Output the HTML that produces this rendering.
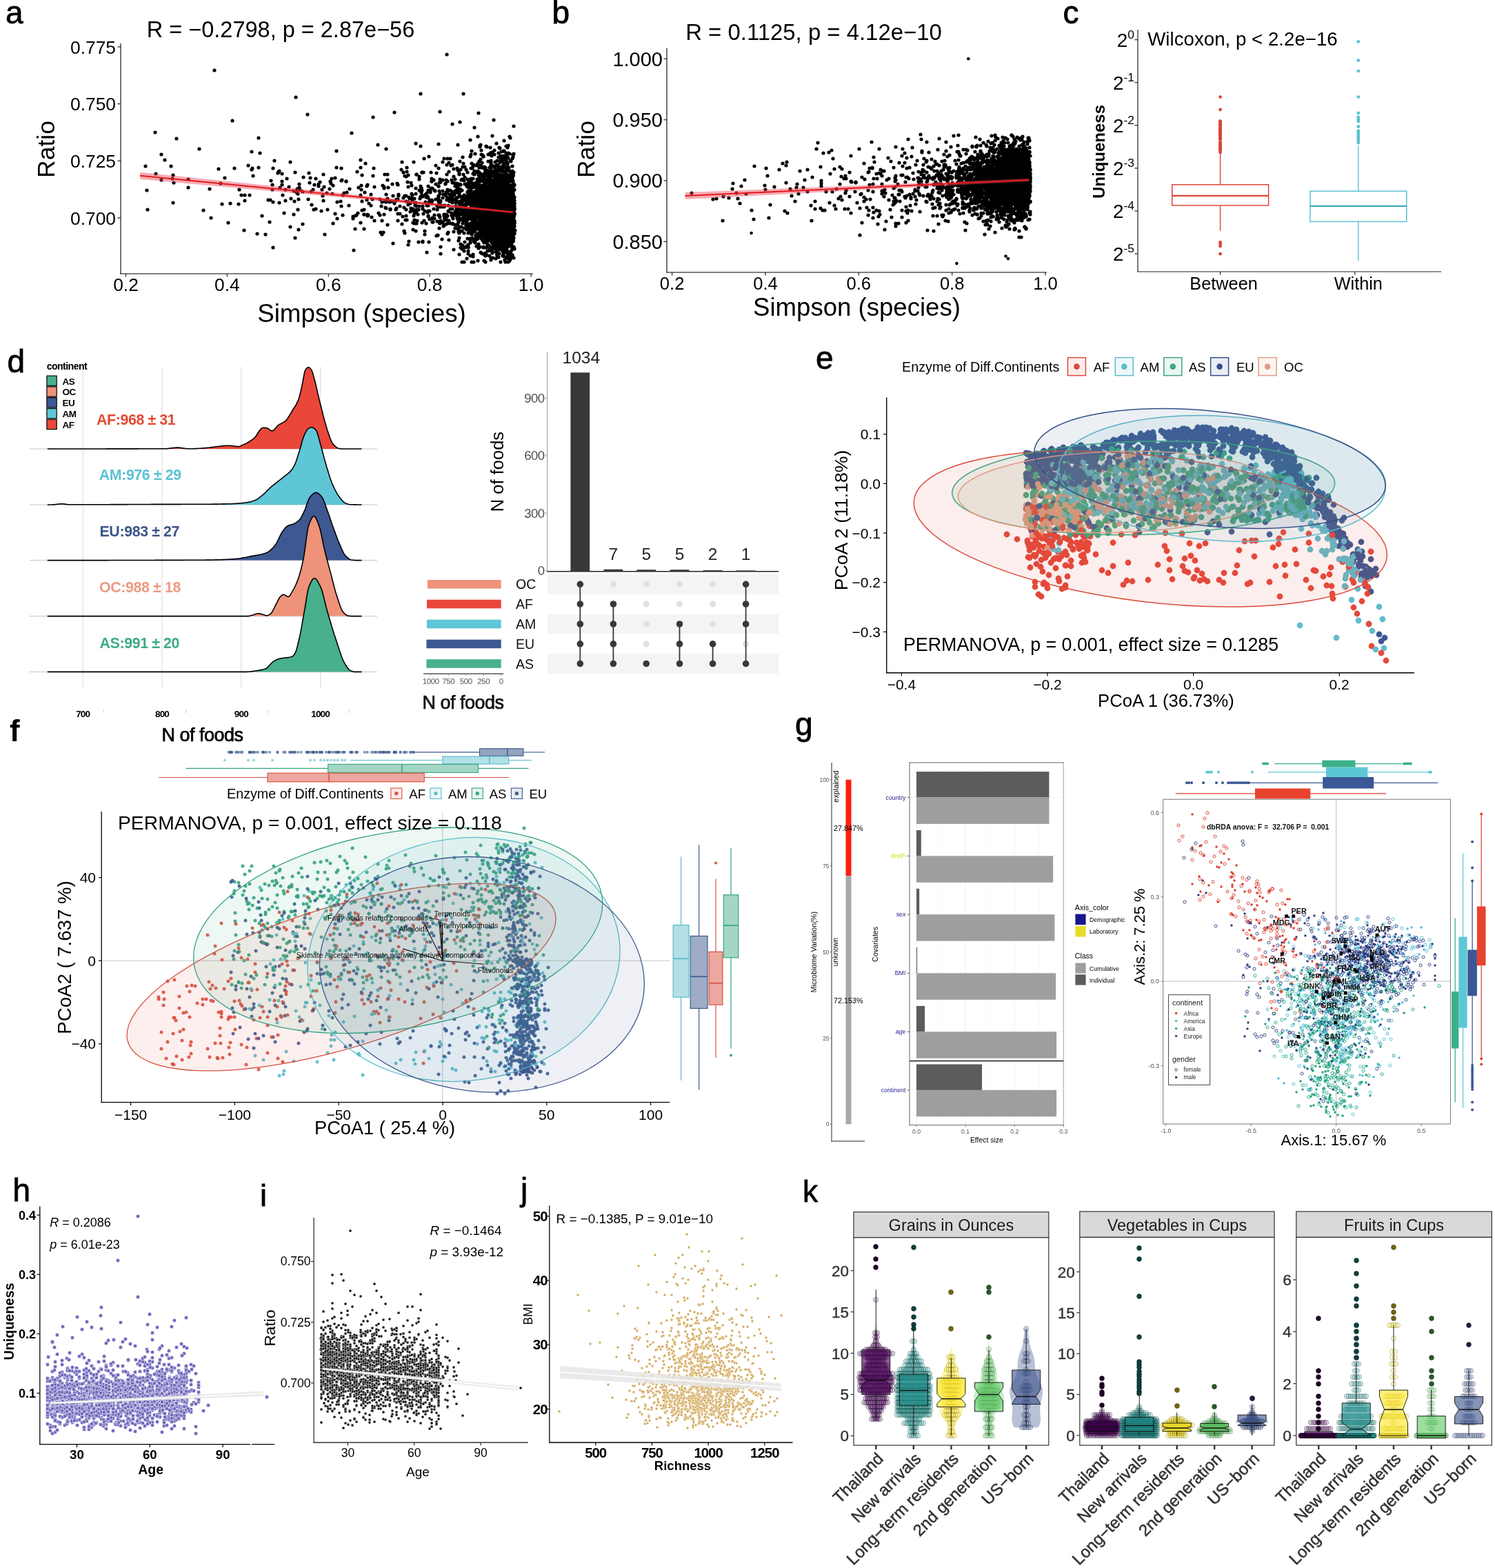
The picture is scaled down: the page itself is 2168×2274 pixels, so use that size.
<!DOCTYPE html>
<html><head><meta charset="utf-8"><title>Figure</title>
<style>html,body{margin:0;padding:0;background:#fff;}svg{display:block;}.m1{marker:url(#m1);fill:none}.m2{marker:url(#m2);fill:none}.m3{marker:url(#m3);fill:none}.m4{marker:url(#m4);fill:none}.m5{marker:url(#m5);fill:none}.m6{marker:url(#m6);fill:none}.m7{marker:url(#m7);fill:none}.m8{marker:url(#m8);fill:none}.m9{marker:url(#m9);fill:none}.m10{marker:url(#m10);fill:none}.m11{marker:url(#m11);fill:none}.m12{marker:url(#m12);fill:none}.m13{marker:url(#m13);fill:none}.m14{marker:url(#m14);fill:none}.m15{marker:url(#m15);fill:none}.m16{marker:url(#m16);fill:none}.m17{marker:url(#m17);fill:none}.m18{marker:url(#m18);fill:none}.m19{marker:url(#m19);fill:none}.m20{marker:url(#m20);fill:none}.m21{marker:url(#m21);fill:none}.m22{marker:url(#m22);fill:none}.m23{marker:url(#m23);fill:none}.m24{marker:url(#m24);fill:none}.m25{marker:url(#m25);fill:none}.m26{marker:url(#m26);fill:none}.m27{marker:url(#m27);fill:none}.m28{marker:url(#m28);fill:none}.m29{marker:url(#m29);fill:none}.m30{marker:url(#m30);fill:none}.m31{marker:url(#m31);fill:none}.m32{marker:url(#m32);fill:none}.m33{marker:url(#m33);fill:none}.m34{marker:url(#m34);fill:none}.m35{marker:url(#m35);fill:none}.m36{marker:url(#m36);fill:none}.m37{marker:url(#m37);fill:none}.m38{marker:url(#m38);fill:none}.m39{marker:url(#m39);fill:none}.m40{marker:url(#m40);fill:none}.m41{marker:url(#m41);fill:none}.m42{marker:url(#m42);fill:none}.m43{marker:url(#m43);fill:none}.m44{marker:url(#m44);fill:none}.m45{marker:url(#m45);fill:none}.m46{marker:url(#m46);fill:none}.m47{marker:url(#m47);fill:none}.m48{marker:url(#m48);fill:none}.m49{marker:url(#m49);fill:none}.m50{marker:url(#m50);fill:none}.m51{marker:url(#m51);fill:none}.m52{marker:url(#m52);fill:none}</style></head>
<body><svg width="2168" height="2274" viewBox="0 0 2168 2274" font-family='"Liberation Sans", Arial, Helvetica, sans-serif'>
<defs><marker id="m1" markerUnits="userSpaceOnUse" markerWidth="1" markerHeight="1" overflow="visible"><circle r="2.6" fill="#000"/></marker>
<marker id="m2" markerUnits="userSpaceOnUse" markerWidth="1" markerHeight="1" overflow="visible"><circle r="2.6" fill="#000"/></marker>
<marker id="m3" markerUnits="userSpaceOnUse" markerWidth="1" markerHeight="1" overflow="visible"><circle r="4.4" fill="#E5493A"/></marker>
<marker id="m4" markerUnits="userSpaceOnUse" markerWidth="1" markerHeight="1" overflow="visible"><circle r="4.4" fill="#62BCCB"/></marker>
<marker id="m5" markerUnits="userSpaceOnUse" markerWidth="1" markerHeight="1" overflow="visible"><circle r="4.4" fill="#3FA67F"/></marker>
<marker id="m6" markerUnits="userSpaceOnUse" markerWidth="1" markerHeight="1" overflow="visible"><circle r="4.4" fill="#3D5890"/></marker>
<marker id="m7" markerUnits="userSpaceOnUse" markerWidth="1" markerHeight="1" overflow="visible"><circle r="4.4" fill="#E49B82"/></marker>
<marker id="m8" markerUnits="userSpaceOnUse" markerWidth="1" markerHeight="1" overflow="visible"><circle r="2.5" fill="#D9503F" fill-opacity="0.9"/></marker>
<marker id="m9" markerUnits="userSpaceOnUse" markerWidth="1" markerHeight="1" overflow="visible"><circle r="2.5" fill="#56BBCA" fill-opacity="0.9"/></marker>
<marker id="m10" markerUnits="userSpaceOnUse" markerWidth="1" markerHeight="1" overflow="visible"><circle r="2.5" fill="#36A37F" fill-opacity="0.9"/></marker>
<marker id="m11" markerUnits="userSpaceOnUse" markerWidth="1" markerHeight="1" overflow="visible"><circle r="2.5" fill="#3D5A8E" fill-opacity="0.9"/></marker>
<marker id="m12" markerUnits="userSpaceOnUse" markerWidth="1" markerHeight="1" overflow="visible"><circle r="2.1" fill="none" stroke="#D93A2B" stroke-width="0.9"/></marker>
<marker id="m13" markerUnits="userSpaceOnUse" markerWidth="1" markerHeight="1" overflow="visible"><circle r="2.1" fill="none" stroke="#4DBBD5" stroke-width="0.9"/></marker>
<marker id="m14" markerUnits="userSpaceOnUse" markerWidth="1" markerHeight="1" overflow="visible"><circle r="2.1" fill="none" stroke="#1FA07C" stroke-width="0.9"/></marker>
<marker id="m15" markerUnits="userSpaceOnUse" markerWidth="1" markerHeight="1" overflow="visible"><circle r="2.1" fill="none" stroke="#2B3D80" stroke-width="0.9"/></marker>
<marker id="m16" markerUnits="userSpaceOnUse" markerWidth="1" markerHeight="1" overflow="visible"><circle r="1.7" fill="#D93A2B"/></marker>
<marker id="m17" markerUnits="userSpaceOnUse" markerWidth="1" markerHeight="1" overflow="visible"><circle r="1.7" fill="#4DBBD5"/></marker>
<marker id="m18" markerUnits="userSpaceOnUse" markerWidth="1" markerHeight="1" overflow="visible"><circle r="1.7" fill="#1FA07C"/></marker>
<marker id="m19" markerUnits="userSpaceOnUse" markerWidth="1" markerHeight="1" overflow="visible"><circle r="1.7" fill="#2B3D80"/></marker>
<marker id="m20" markerUnits="userSpaceOnUse" markerWidth="1" markerHeight="1" overflow="visible"><circle r="2.7" fill="#7169B9" stroke="#F2F0FF" stroke-width="0.6"/></marker>
<marker id="m21" markerUnits="userSpaceOnUse" markerWidth="1" markerHeight="1" overflow="visible"><circle r="2.0" fill="#000" stroke="#FFFFFF" stroke-width="0.5"/></marker>
<marker id="m22" markerUnits="userSpaceOnUse" markerWidth="1" markerHeight="1" overflow="visible"><circle r="1.9" fill="#D2A657" stroke="#FFFFFF" stroke-width="0.5"/></marker>
<marker id="m23" markerUnits="userSpaceOnUse" markerWidth="1" markerHeight="1" overflow="visible"><circle r="3.6" fill="#440154" fill-opacity="0.2" stroke-opacity="0.45" stroke="#22002A" stroke-width="0.8"/></marker>
<marker id="m24" markerUnits="userSpaceOnUse" markerWidth="1" markerHeight="1" overflow="visible"><circle r="3.4" fill="#1E0025" stroke="#110015" stroke-width="0.6"/></marker>
<marker id="m25" markerUnits="userSpaceOnUse" markerWidth="1" markerHeight="1" overflow="visible"><circle r="3.6" fill="#21908C" fill-opacity="0.2" stroke-opacity="0.45" stroke="#104846" stroke-width="0.8"/></marker>
<marker id="m26" markerUnits="userSpaceOnUse" markerWidth="1" markerHeight="1" overflow="visible"><circle r="3.4" fill="#0E403E" stroke="#082423" stroke-width="0.6"/></marker>
<marker id="m27" markerUnits="userSpaceOnUse" markerWidth="1" markerHeight="1" overflow="visible"><circle r="3.6" fill="#FDE725" fill-opacity="0.2" stroke-opacity="0.45" stroke="#7E7312" stroke-width="0.8"/></marker>
<marker id="m28" markerUnits="userSpaceOnUse" markerWidth="1" markerHeight="1" overflow="visible"><circle r="3.4" fill="#716710" stroke="#3F3909" stroke-width="0.6"/></marker>
<marker id="m29" markerUnits="userSpaceOnUse" markerWidth="1" markerHeight="1" overflow="visible"><circle r="3.6" fill="#5EC962" fill-opacity="0.2" stroke-opacity="0.45" stroke="#2F6431" stroke-width="0.8"/></marker>
<marker id="m30" markerUnits="userSpaceOnUse" markerWidth="1" markerHeight="1" overflow="visible"><circle r="3.4" fill="#2A5A2C" stroke="#173218" stroke-width="0.6"/></marker>
<marker id="m31" markerUnits="userSpaceOnUse" markerWidth="1" markerHeight="1" overflow="visible"><circle r="3.6" fill="#3B528B" fill-opacity="0.2" stroke-opacity="0.45" stroke="#1D2945" stroke-width="0.8"/></marker>
<marker id="m32" markerUnits="userSpaceOnUse" markerWidth="1" markerHeight="1" overflow="visible"><circle r="3.4" fill="#1A243E" stroke="#0E1422" stroke-width="0.6"/></marker>
<marker id="m33" markerUnits="userSpaceOnUse" markerWidth="1" markerHeight="1" overflow="visible"><circle r="3.6" fill="#440154" fill-opacity="0.2" stroke-opacity="0.45" stroke="#22002A" stroke-width="0.8"/></marker>
<marker id="m34" markerUnits="userSpaceOnUse" markerWidth="1" markerHeight="1" overflow="visible"><circle r="3.4" fill="#1E0025" stroke="#110015" stroke-width="0.6"/></marker>
<marker id="m35" markerUnits="userSpaceOnUse" markerWidth="1" markerHeight="1" overflow="visible"><circle r="3.6" fill="#21908C" fill-opacity="0.2" stroke-opacity="0.45" stroke="#104846" stroke-width="0.8"/></marker>
<marker id="m36" markerUnits="userSpaceOnUse" markerWidth="1" markerHeight="1" overflow="visible"><circle r="3.4" fill="#0E403E" stroke="#082423" stroke-width="0.6"/></marker>
<marker id="m37" markerUnits="userSpaceOnUse" markerWidth="1" markerHeight="1" overflow="visible"><circle r="3.6" fill="#FDE725" fill-opacity="0.2" stroke-opacity="0.45" stroke="#7E7312" stroke-width="0.8"/></marker>
<marker id="m38" markerUnits="userSpaceOnUse" markerWidth="1" markerHeight="1" overflow="visible"><circle r="3.4" fill="#716710" stroke="#3F3909" stroke-width="0.6"/></marker>
<marker id="m39" markerUnits="userSpaceOnUse" markerWidth="1" markerHeight="1" overflow="visible"><circle r="3.6" fill="#5EC962" fill-opacity="0.2" stroke-opacity="0.45" stroke="#2F6431" stroke-width="0.8"/></marker>
<marker id="m40" markerUnits="userSpaceOnUse" markerWidth="1" markerHeight="1" overflow="visible"><circle r="3.4" fill="#2A5A2C" stroke="#173218" stroke-width="0.6"/></marker>
<marker id="m41" markerUnits="userSpaceOnUse" markerWidth="1" markerHeight="1" overflow="visible"><circle r="3.6" fill="#3B528B" fill-opacity="0.2" stroke-opacity="0.45" stroke="#1D2945" stroke-width="0.8"/></marker>
<marker id="m42" markerUnits="userSpaceOnUse" markerWidth="1" markerHeight="1" overflow="visible"><circle r="3.4" fill="#1A243E" stroke="#0E1422" stroke-width="0.6"/></marker>
<marker id="m43" markerUnits="userSpaceOnUse" markerWidth="1" markerHeight="1" overflow="visible"><circle r="3.6" fill="#440154" fill-opacity="0.2" stroke-opacity="0.45" stroke="#22002A" stroke-width="0.8"/></marker>
<marker id="m44" markerUnits="userSpaceOnUse" markerWidth="1" markerHeight="1" overflow="visible"><circle r="3.4" fill="#1E0025" stroke="#110015" stroke-width="0.6"/></marker>
<marker id="m45" markerUnits="userSpaceOnUse" markerWidth="1" markerHeight="1" overflow="visible"><circle r="3.6" fill="#21908C" fill-opacity="0.2" stroke-opacity="0.45" stroke="#104846" stroke-width="0.8"/></marker>
<marker id="m46" markerUnits="userSpaceOnUse" markerWidth="1" markerHeight="1" overflow="visible"><circle r="3.4" fill="#0E403E" stroke="#082423" stroke-width="0.6"/></marker>
<marker id="m47" markerUnits="userSpaceOnUse" markerWidth="1" markerHeight="1" overflow="visible"><circle r="3.6" fill="#FDE725" fill-opacity="0.2" stroke-opacity="0.45" stroke="#7E7312" stroke-width="0.8"/></marker>
<marker id="m48" markerUnits="userSpaceOnUse" markerWidth="1" markerHeight="1" overflow="visible"><circle r="3.4" fill="#716710" stroke="#3F3909" stroke-width="0.6"/></marker>
<marker id="m49" markerUnits="userSpaceOnUse" markerWidth="1" markerHeight="1" overflow="visible"><circle r="3.6" fill="#5EC962" fill-opacity="0.2" stroke-opacity="0.45" stroke="#2F6431" stroke-width="0.8"/></marker>
<marker id="m50" markerUnits="userSpaceOnUse" markerWidth="1" markerHeight="1" overflow="visible"><circle r="3.4" fill="#2A5A2C" stroke="#173218" stroke-width="0.6"/></marker>
<marker id="m51" markerUnits="userSpaceOnUse" markerWidth="1" markerHeight="1" overflow="visible"><circle r="3.6" fill="#3B528B" fill-opacity="0.2" stroke-opacity="0.45" stroke="#1D2945" stroke-width="0.8"/></marker>
<marker id="m52" markerUnits="userSpaceOnUse" markerWidth="1" markerHeight="1" overflow="visible"><circle r="3.4" fill="#1A243E" stroke="#0E1422" stroke-width="0.6"/></marker></defs>
<rect width="2168" height="2274" fill="#fff"/>
<text x="8" y="34.3" font-size="46" stroke="#000" stroke-width="0.8">a</text>
<text x="407" y="54" font-size="32.5" text-anchor="middle">R = −0.2798, p = 2.87e−56</text>
<line x1="175" y1="63" x2="175" y2="397.5" stroke="#000" stroke-width="1.1"/>
<line x1="174.4" y1="397" x2="773" y2="397" stroke="#000" stroke-width="1.1"/>
<line x1="170.5" y1="68" x2="175" y2="68" stroke="#222" stroke-width="1.2"/>
<text x="168" y="77.5" font-size="26.4" text-anchor="end">0.775</text>
<line x1="170.5" y1="150.6" x2="175" y2="150.6" stroke="#222" stroke-width="1.2"/>
<text x="168" y="160.1" font-size="26.4" text-anchor="end">0.750</text>
<line x1="170.5" y1="233.3" x2="175" y2="233.3" stroke="#222" stroke-width="1.2"/>
<text x="168" y="242.8" font-size="26.4" text-anchor="end">0.725</text>
<line x1="170.5" y1="316" x2="175" y2="316" stroke="#222" stroke-width="1.2"/>
<text x="168" y="325.5" font-size="26.4" text-anchor="end">0.700</text>
<line x1="182.5" y1="397" x2="182.5" y2="401.5" stroke="#222" stroke-width="1.2"/>
<text x="182.5" y="422" font-size="26.4" text-anchor="middle">0.2</text>
<line x1="329.4" y1="397" x2="329.4" y2="401.5" stroke="#222" stroke-width="1.2"/>
<text x="329.4" y="422" font-size="26.4" text-anchor="middle">0.4</text>
<line x1="476.3" y1="397" x2="476.3" y2="401.5" stroke="#222" stroke-width="1.2"/>
<text x="476.3" y="422" font-size="26.4" text-anchor="middle">0.6</text>
<line x1="623.1" y1="397" x2="623.1" y2="401.5" stroke="#222" stroke-width="1.2"/>
<text x="623.1" y="422" font-size="26.4" text-anchor="middle">0.8</text>
<line x1="770" y1="397" x2="770" y2="401.5" stroke="#222" stroke-width="1.2"/>
<text x="770" y="422" font-size="26.4" text-anchor="middle">1.0</text>
<text x="524.5" y="467" font-size="36.8" text-anchor="middle">Simpson (species)</text>
<text x="79" y="216.5" font-size="35.5" text-anchor="middle" transform="rotate(-90 79 216.5)">Ratio</text>
<path class="m1" d="M744 307L439 278L683 259L678 316L728 290L623 318L702 279L676 287L686 285L723 351L687 322L722 316L637 265L723 308L711 307L731 219L744 254L706 320L736 259L658 280L710 333L723 277L727 327L732 307L683 263L738 304L678 271L743 314L733 306L728 353L726 339L560 302L735 273L711 285L731 314L669 298L704 320L739 308L722 290L729 334L726 284L688 294L739 341L701 358L577 310L727 277L389 290L730 347L690 317L715 289L744 324L745 285L725 215L627 317L719 270L738 258L729 330L713 305L690 283L739 299L320 266L651 289L698 302L735 292L689 223L720 271L638 324L738 306L727 343L741 289L745 289L740 327L696 306L726 322L720 310L599 303L613 351L735 301L676 332L691 277L733 301L695 285L735 356L728 310L700 262L729 315L720 297L705 302L721 310L719 295L705 312L686 317L726 270L734 311L658 256L719 351L405 294L741 308L733 380L636 286L695 326L732 296L726 290L738 338L742 329L213 276L669 286L721 304L732 287L710 310L677 293L693 287L716 341L708 314L731 305L719 246L728 328L650 337L742 297L651 307L700 330L699 286L702 313L739 248L714 317L743 283L729 318L738 373L721 254L648 280L713 312L620 297L738 309L739 281L728 282L679 294L723 323L728 266L727 319L729 229L728 336L725 352L648 239L740 289L662 331L671 316L726 253L723 268L741 312L735 325L717 292L734 307L737 318L705 324L706 312L715 335L625 250L728 261L727 340L717 312L732 331L726 285L705 300L675 288L736 292L615 230L725 328L707 316L679 333L722 324L725 291L713 332L679 267L395 268L728 304L744 281L712 289L715 324L515 332L735 315L729 299L698 338L715 336L655 291L693 309L735 291L718 285L734 309L648 314L710 311L661 290L700 307L728 305L711 300L678 312L717 248L720 315L693 292L735 356L673 338L669 291L744 255L709 297L735 287L737 311L741 337L661 307L707 283L735 344L739 301L715 333L710 318L731 298L723 344L699 336L737 298L346 296L710 336L720 273L724 264L713 310L724 298L733 299L710 282L707 302L733 281L712 285L744 312L605 320L506 298L598 283L692 264L451 278L739 316L723 292L741 335L708 305L731 277L732 309L741 308L723 300L710 360L636 292L724 327L734 305L717 301L701 290L726 309L652 282L677 333L733 318L744 319L723 285L722 316L693 248L635 341L736 242L723 329L649 230L734 245L741 296L525 292L741 310L746 338L732 339L712 328L676 325L744 283L692 305L672 299L733 332L725 287L649 339L712 292L709 314L723 304L714 335L740 200L677 357L673 314L731 328L711 363L738 295L723 298L683 224L530 237L735 295L713 351L701 319L562 326L717 249L737 298L679 359L738 284L717 255L722 286L678 266L721 249L234 224L614 250L724 313L700 349L716 315L735 281L715 264L720 279L743 303L729 316L743 315L727 295L710 288L684 237L700 279L607 351L720 284L696 314L687 311L716 329L740 290L705 289L718 355L732 319L365 220L742 282L727 292L734 342L554 340L729 302L732 306L633 251L728 272L731 342L736 256L708 263L726 338L726 297L721 311L743 361L699 282L608 260L725 314L634 321L737 303L707 287L725 279L702 302L678 279L734 307L710 294L735 298L672 288L703 283L731 341L701 291L743 277L744 224L724 316L732 328L721 279L728 319L688 349L715 293L717 291L718 325L733 350L741 269L693 264L373 339L701 342L705 312L731 285L669 261L699 335L549 309L708 289L733 335L702 330L735 291L716 279L729 324L727 340L724 308L710 334L613 299L730 308L714 366L616 335L713 293L705 279L721 337L718 327L599 323L734 362L694 294L668 335L734 293L742 309L705 330L736 328L725 292L405 248L745 310L741 301L725 298L736 334L701 290L586 335L551 312L523 232L723 317L737 341L719 304L712 261L433 289L736 271L739 327L716 337L728 268L731 277L726 296L730 340L731 285L702 301L673 380L738 278L620 308L710 336L744 268L728 301L730 314L730 340L743 284L723 261L743 278L720 357L710 371L681 308L720 322L716 331L722 312L713 313L713 336L699 297L715 315L727 335L714 318L419 271L722 322L736 276L657 311L671 228L703 319L660 280L724 326L600 235L626 290L744 276L734 343L737 256L644 298L692 292L682 309L495 262L720 298L670 260L710 310L741 302L719 308L624 279L686 267L726 277L737 354L725 358L743 331L735 297L724 332L703 310L700 243L706 247L710 314L716 274L722 294L629 261L701 308L740 317L732 307L745 313L725 322L708 248L733 335L743 291L670 276L708 338L723 285L736 275L676 318L737 346L721 257L709 282L729 307L705 265L736 296L711 329L733 328L702 308L456 268L735 315L732 325L713 361L744 301L737 266L725 318L727 301L723 291L693 237L739 314L726 255L712 321L735 291L704 307L489 317L725 326L721 332L712 272L483 324L560 216L719 298L676 358L404 249L725 268L656 303L721 316L692 285L683 244L632 240L714 307L738 344L737 277L714 296L623 306L712 282L660 260L687 296L744 262L707 312L737 287L726 231L712 293L736 298L728 307L739 269L721 319L721 298L743 305L737 317L727 258L734 228L742 277L733 290L590 243L739 356L727 322L548 210L731 249L739 260L739 289L719 268L740 319L718 273L738 317L716 322L692 296L690 269L729 332L687 251L719 241L737 368L688 304L686 319L691 300L728 268L587 338L739 337L697 313L733 288L729 247L744 307L713 321L733 276L734 243L642 322L728 309L723 309L729 312L741 328L698 304L733 281L703 304L704 286L713 293L722 356L289 216L731 343L725 330L714 367L714 313L736 324L712 241L738 299L717 256L722 339L687 333L701 299L728 267L710 332L734 291L717 264L665 277L733 251L687 239L744 344L705 323L681 286L711 292L730 331L714 300L716 294L566 304L576 266L731 265L737 255L734 314L710 265L719 280L734 232L742 305L671 310L416 259L706 326L732 266L742 309L740 311L721 270L702 325L670 309L642 261L732 338L720 264L670 380L742 304L737 305L596 265L720 298L710 344L736 306L682 285L706 350L723 244L729 364L740 297L732 283L731 348L728 306L683 303L726 306L657 317L602 298L734 314L720 280L720 315L714 197L730 254L532 290L734 337L712 318L706 264L724 273L586 301L662 291L728 303L707 291L733 259L740 351L733 296L612 250L604 324L727 361L740 347L724 357L720 271L648 253L728 279L721 355L686 372L732 304L682 296L736 298L650 287L696 297L735 310L745 315L722 298L688 324L637 312L707 318L710 275L729 296L535 295L682 272L666 293L482 281L739 294L722 293L557 273L704 326L717 251L744 303L743 277L700 309L706 295L738 332L656 285L736 247L728 312L719 316L705 336L679 368L742 262L746 339L719 302L699 328L627 316L737 353L665 321L488 219L684 285L714 267L739 276L724 265L585 250L712 295L738 296L701 320L724 244L730 314L705 329L685 331L354 334L708 253L700 301L211 241L744 349L712 312L729 266L724 322L719 276L638 281L719 317L733 264L734 344L273 260L692 324L720 251L735 256L733 319L736 290L704 274L519 309L705 343L708 312L711 270L717 316L736 305L723 342L730 316L731 354L664 286L745 296L515 313L736 298L746 291L728 327L695 304L662 301L735 315L709 309L744 268L713 324L721 276L725 327L644 327L691 240L722 301L709 289L621 306L649 277L713 252L725 309L741 294L731 329L707 334L672 288L711 318L717 294L708 264L705 286L727 292L728 282L731 289L722 295L700 316L696 297L743 336L689 332L533 313L634 304L740 286L703 304L561 290L703 337L710 308L731 333L736 324L714 335L718 344L713 340L741 291L735 331L639 358L611 279L414 291L601 324L713 307L652 292L723 316L725 339L703 327L746 320L723 312L723 309L724 286L711 304L741 304L724 269L745 267L722 247L709 341L713 312L734 274L703 309L744 348L681 317L743 347L729 340L691 301L712 316L737 222L716 308L736 305L398 233L727 284L702 306L743 331L729 301L723 323L738 313L734 296L715 320L728 312L362 283L593 286L717 354L589 304L393 262L736 308L744 339L729 268L703 288L698 325L744 312L590 319L733 271L673 283L720 328L711 272L738 355L375 200L696 289L721 350L746 311L711 214L732 364L746 299L714 335L701 359L723 367L713 288L730 324L724 323L688 319L746 322L704 247L742 315L703 299L714 254L734 343L744 350L709 289L722 322L542 244L705 253L720 285L612 283L226 252L528 311L730 302L738 333L722 322L707 327L645 319L731 281L734 336L604 253L713 328L734 325L717 319L703 273L513 363L724 267L724 358L718 324L745 345L499 280L470 271L702 289L711 361L677 270L742 294L717 285L733 300L718 256L589 284L732 310L743 293L688 316L367 255L713 310L707 348L670 296L732 300L682 371L732 305L727 353L741 319L708 310L744 291L703 281L685 290L721 305L741 344L722 323L726 344L659 283L729 361L701 253L738 336L721 371L685 285L735 319L709 318L714 312L725 349L717 329L710 299L699 311L732 288L580 299L733 320L670 305L447 289L695 250L649 324L666 329L722 286L739 310L718 241L741 306L724 319L742 346L723 258L721 284L604 307L715 299L714 319L721 316L735 341L736 326L647 279L622 227L718 311L734 284L740 233L699 311L721 290L619 366L721 368L737 245L651 249L694 303L729 274L745 250L737 312L687 283L714 338L714 358L719 375L698 346L239 232L718 263L722 302L737 303L731 291L434 272L714 304L729 350L656 324L724 308L730 282L695 309L688 310L412 309L638 322L703 332L681 325L726 314L716 359L733 296L717 318L740 355L703 369L719 270L694 354L734 314L739 307L720 310L708 278L736 297L700 332L721 233L696 295L699 310L743 283L717 284L671 356L733 335L710 315L706 293L709 285L744 302L703 369L728 285L737 295L714 292L743 302L714 313L723 268L480 266L295 305L719 307L717 311L720 277L744 279L709 320L736 271L722 254L721 291L649 313L731 339L619 280L306 316L698 281L716 335L734 301L715 315L701 275L700 261L714 330L741 334L743 342L562 288L731 300L725 319L724 303L741 287L737 344L375 243L745 295L452 297L727 356L728 344L732 310L727 286L737 312L729 330L562 253L252 265L734 318L729 321L712 309L667 274L694 301L698 241L693 339L731 339L692 286L624 277L686 272L725 319L731 285L706 304L660 307L736 329L714 311L722 325L706 273L701 299L698 367L396 359L721 317L726 271L684 315L734 293L735 374L719 319L745 289L740 375L697 299L705 310L702 313L721 265L717 297L733 255L734 305L713 351L703 323L695 324L726 263L718 324L722 323L728 298L664 270L698 243L734 278L534 312L435 275L718 235L739 297L483 269L717 342L702 254L591 264L699 294L728 293L709 270L703 334L716 343L733 272L712 337L714 277L583 235L703 281L707 293L562 261L744 298L688 299L709 275L742 308L717 291L715 340L737 313L739 340L677 304L304 274L731 286L723 271L601 319L733 257L723 311L739 299L634 298L731 300L687 270L729 283L728 322L702 269L713 221L728 284L713 335L743 325L494 292L695 327L656 265L612 323L569 267L737 325L706 314L735 295L719 281L355 291L722 275L720 277L685 309L733 228L737 312L736 350L679 364L735 346L716 283L683 310L704 338L738 328L736 351L719 296L732 321L712 332L734 279L681 288L662 309L731 300L706 312L695 306L673 307L682 348L736 290L687 291L723 303L713 344L697 336L691 286L720 342L737 290L702 332L686 369L712 296L723 245L628 322L720 348L722 298L743 287L741 317L731 293L739 300L733 251L731 323L732 324L664 325L570 353L740 366L729 299L721 310L730 219L712 239L698 297L673 364L711 327L692 327L712 274L422 288L712 293L719 322L730 320L727 320L234 261L676 246L728 309L717 261L557 311L712 304L603 294L718 309L719 313L703 291L710 281L739 348L667 234L738 301L739 223L638 291L734 265L706 370L721 270L668 359L699 295L733 323L653 303L725 281L712 317L725 326L728 321L714 312L728 319L695 292L726 286L731 301L676 289L667 293L742 281L727 311L733 313L746 328L729 292L703 286L717 307L692 289L739 322L714 309L731 284L604 253L734 276L731 312L691 277L655 312L707 276L737 331L687 320L710 340L726 359L718 344L486 310L710 288L740 258L695 316L726 342L735 295L377 222L596 302L746 275L703 285L710 300L730 338L732 357L732 336L709 320L709 343L695 301L713 348L737 366L698 289L610 270L684 219L702 316L724 313L728 306L712 330L702 274L729 321L736 309L728 298L713 333L716 303L736 312L727 259L717 260L733 280L723 318L732 305L740 300L729 269L743 297L525 305L572 295L734 268L685 320L409 263L731 349L641 347L742 280L720 281L723 297L469 291L740 263L731 294L699 296L728 314L705 310L706 304L721 290L707 319L699 254L702 298L735 294L668 319L575 289L695 340L655 286L729 282L251 254L706 344L712 288L733 307L684 334L613 285L714 271L705 345L672 253L724 266L736 325L731 284L701 291L740 295L709 271L736 322L730 317L661 299L702 329L734 301L723 334L647 261L718 341L736 303L729 249L713 270L745 183L699 318L733 287L733 297L715 281L741 262L691 310L709 345L708 298L743 370L714 338L736 272L668 246L613 303L738 327L653 288L745 313L733 281L705 278L608 256L702 267L734 340L731 230L727 293L709 312L706 344L720 276L678 294L734 290L724 287L421 235L718 319L734 300L717 356L608 299L731 284L743 271L722 283L703 330L685 295L727 318L543 271L710 285L736 276L710 314L620 285L589 292L714 240L674 351L722 297L642 277L727 329L704 295L712 279L679 333L734 269L743 285L737 368L737 294L741 342L661 312L730 315L696 263L707 285L703 302L726 333L719 282L706 290L554 320L741 372L667 278L711 222L740 323L733 356L677 375L741 316L720 293L727 269L710 322L696 258L731 219L431 274L737 285L723 282L728 301L739 198L727 296L707 250L724 337L678 319L742 363L742 280L719 253L735 342L729 271L690 312L730 293L721 294L737 308L708 337L714 335L732 283L729 333L728 304L714 273L732 287L738 325L735 326L738 281L713 290L733 284L607 304L654 240L701 323L732 327L403 251L724 275L716 336L733 325L732 302L621 313L732 306L612 250L728 303L661 289L745 325L616 306L729 334L734 280L731 280L706 270L731 310L737 309L731 338L671 292L720 313L714 299L743 258L732 300L724 313L559 301L712 318L722 240L724 282L733 328L739 282L678 317L735 253L699 255L694 307L737 299L611 273L496 261L704 367L736 335L717 317L733 301L731 319L691 322L742 327L722 284L668 304L742 304L711 339L694 313L737 315L715 321L730 294L689 314L736 318L603 335L706 281L740 283L737 320L725 309L683 311L712 289L746 303L689 284L720 302L742 314L688 267L713 281L722 275L636 290L736 283L731 334L674 310L671 242L729 347L700 368L709 338L733 305L710 288L697 286L716 360L725 272L702 280L570 284L250 259L696 330L734 318L655 281L723 228L656 314L729 277L707 327L609 288L739 328L715 319L655 309L647 311L672 261L742 293L592 355L706 329L726 226L716 272L543 320L737 229L704 301L743 301L645 316L727 281L714 322L733 334L736 300L684 284L723 299L734 258L710 332L730 239L735 356L650 298L732 303L666 253L704 284L737 254L695 272L708 318L734 302L736 301L712 280L682 352L740 257L710 322L676 327L729 297L739 299L733 261L717 316L648 319L746 310L735 226L738 273L737 336L729 330L720 283L577 289L741 287L725 299L731 307L739 304L718 328L714 221L697 252L694 280L709 312L683 330L729 337L725 324L700 292L724 308L732 319L711 315L737 333L365 246L736 292L730 263L723 294L611 273L721 304L686 308L746 295L717 317L734 227L692 295L681 287L622 294L720 330L716 302L734 320L726 317L745 337L532 270L733 310L697 312L730 356L708 234L737 287L723 305L734 301L733 327L731 342L735 285L724 297L739 326L736 296L709 316L737 298L737 296L730 307L707 345L737 350L744 333L709 320L729 302L724 301L714 306L709 280L744 286L722 304L711 361L717 329L708 287L746 324L718 269L627 291L725 319L647 325L712 320L743 296L627 322L708 300L695 318L721 318L662 287L697 312L687 380L714 311L737 328L739 275L693 198L743 274L701 257L735 255L620 285L733 314L717 270L679 338L736 267L733 330L706 330L736 299L739 288L723 373L716 294L540 289L721 342L708 283L721 252L743 339L636 244L739 271L722 311L738 325L737 273L704 319L723 308L736 332L729 353L334 295L736 293L706 308L597 281L668 311L738 366L481 259L716 336L699 332L705 304L724 343L729 284L744 324L740 297L743 275L626 259L716 346L732 303L724 310L722 280L680 268L702 242L738 313L704 293L721 286L736 284L720 208L665 322L719 294L744 306L735 332L735 296L713 312L745 358L691 321L684 265L725 236L560 282L710 327L692 268L722 332L712 312L723 259L744 255L737 300L715 305L716 345L721 297L716 287L729 335L739 335L214 304L721 299L693 343L692 329L636 209L737 345L730 304L739 303L719 334L715 313L702 276L744 283L725 337L740 306L715 312L740 310L662 304L606 311L741 310L686 285L743 230L728 245L726 312L552 337L740 343L738 325L733 334L690 296L594 288L745 320L743 297L741 292L734 289L724 296L716 356L730 319L704 345L733 262L711 300L745 299L726 316L714 274L719 274L698 300L716 293L721 281L742 259L432 304L479 263L740 287L733 287L699 287L689 289L721 284L703 322L713 252L698 305L709 279L699 288L744 315L733 325L702 316L701 227L636 270L502 263L729 345L671 311L727 270L734 337L707 324L743 306L716 312L700 225L639 297L703 307L730 339L644 313L746 295L725 302L728 342L391 322L589 256L644 300L676 301L735 277L621 298L708 270L712 331L688 312L518 249L660 270L740 343L726 341L737 332L714 278L739 313L691 313L698 281L734 311L725 347L734 332L682 293L705 301L734 276L731 300L731 321L722 315L715 374L709 309L698 293L732 290L708 305L706 303L694 299L733 305L730 275L745 300L727 289L686 319L694 254L680 331L725 305L732 285L469 253L738 325L729 364L723 313L331 323L692 346L730 256L710 324L700 290L574 291L695 273L726 333L733 257L730 370L737 275L710 358L729 291L721 316L733 342L743 324L720 317L726 318L729 311L741 356L696 314L733 286L583 325L735 267L735 303L737 316L732 272L679 306L686 252L741 298L737 321L698 336L734 344L736 344L621 314L695 253L715 270L725 255L712 285L724 261L738 243L732 227L524 275L735 293L741 373L726 287L737 302L715 282L726 233L705 312L707 303L623 291L701 317L650 277L655 283L729 360L732 305L724 289L734 254L727 294L690 303L735 343L733 291L720 276L744 350L735 307L718 315L708 334L695 268L597 287L714 255L656 294L737 325L735 314L729 293L721 287L707 279L730 277L601 310L660 312L678 312L704 351L695 269L714 353L741 331L717 256L708 309L730 303L688 279L710 269L705 212L733 258L723 275L680 294L730 325L732 327L727 330L718 307L733 309L709 307L732 263L722 340L697 274L709 254L730 226L705 269L702 283L728 349L745 302L541 255L723 279L657 325L708 308L670 361L728 296L732 358L716 282L717 355L709 293L719 323L730 325L719 267L733 291L723 292L726 312L691 301L681 312L741 281L721 321L726 320L709 287L737 325L713 319L685 314L663 306L718 328L686 302L713 299L685 325L666 251L717 272L742 318L715 304L735 309L720 256L729 348L725 275L744 324L732 261L722 278L733 349L714 289L746 302L717 299L701 262L745 312L730 312L688 327L663 244L712 304L733 302L718 350L705 324L678 290L726 283L710 294L721 289L688 283L662 276L737 327L710 251L739 316L728 264L725 265L685 317L668 303L735 254L697 291L724 310L665 279L639 292L225 192L738 294L722 247L717 304L698 343L707 356L731 289L733 292L736 306L658 336L714 362L718 340L723 272L683 298L565 293L745 270L523 243L730 300L707 288L744 252L709 307L733 250L696 343L711 338L728 339L728 271L730 316L697 302L739 350L734 339L699 277L726 322L693 292L739 370L637 322L690 294L719 290L705 295L723 323L689 280L735 353L730 231L728 301L598 290L702 284L663 316L708 347L731 304L684 307L733 285L735 307L661 294L727 348L714 302L742 306L430 279L703 325L360 240L695 234L739 296L720 292L713 277L674 267L715 286L395 275L744 318L727 287L462 270L638 315L666 345L736 335L708 331L710 315L718 300L699 272L735 296L574 304L730 353L739 317L637 277L717 218L736 357L738 289L720 356L737 286L640 300L690 341L704 288L727 325L726 280L729 280L718 325L740 306L737 320L678 331L728 274L724 254L731 360L711 340L693 301L722 330L679 277L715 289L742 306L727 285L720 300L686 317L739 336L724 318L718 292L746 268L725 286L738 285L730 321L538 298L721 305L428 345L738 261L689 352L720 307L690 342L710 261L680 282L695 295L720 295L712 314L727 345L697 210L724 259L722 317L709 306L734 305L743 312L612 276L702 259L715 291L721 325L710 283L678 260L708 331L589 313L610 212L717 320L707 255L725 309L701 295L718 337L716 342L740 352L729 243L712 260L716 296L667 309L737 267L676 297L740 274L714 271L712 225L723 294L497 283L723 267L682 203L707 301L734 295L707 301L727 295L712 374L731 278L737 285L707 306L705 255L718 314L728 339L729 371L736 238L724 298L630 317L685 294L728 306L623 293L707 364L676 312L733 334L600 313L720 294L696 332L708 339L726 289L725 287L631 277L704 288L696 213L724 276L738 290L722 322L704 371L731 295L683 261L693 315L705 298L691 300L719 276L716 343L736 351L701 282L701 305L739 297L744 317L685 338L736 373L578 282L731 242L731 313L729 328L731 283L722 307L533 311L713 309L733 303L712 236L704 243L709 274L722 311L705 266L736 304L714 318L627 273L746 361L692 276L683 277L700 262L723 279L735 307L728 327L711 257L728 289L702 378L739 306L725 248L705 324L664 305L724 288L710 333L715 267L723 357L733 361L729 323L714 250L734 336L713 322L728 301L714 249L738 326L720 254L703 295L693 293L737 211L672 285L716 351L708 349L695 243L673 311L731 308L744 343L464 264L712 312L746 334L734 236L712 341L743 331L738 274L729 290L722 325L725 343L701 308L666 316L741 313L731 337L722 258L734 278L714 303L683 276L737 340L726 340L742 275L728 323L724 313L721 316L690 293L683 283L735 283L739 300L718 295L733 308L731 290L729 350L590 249L625 273L738 279L700 322L703 305L727 309L642 287L689 300L715 292L736 346L703 251L433 333L737 300L739 281L739 332L720 282L700 308L728 330L697 308L696 358L730 328L746 323L733 296L690 265L658 311L601 294L687 348L704 247L736 280L603 281L713 293L734 342L347 275L713 268L735 345L704 301L697 323L694 323L677 327L690 346L502 263L704 380L744 326L745 359L636 270L698 303L737 324L733 281L737 295L743 296L724 368L615 320L649 275L739 300L653 324L727 281L691 284L720 247L711 263L710 286L626 263L713 329L737 343L690 348L556 337L729 299L734 304L697 240L746 304L714 351L639 264L680 272L737 309L634 299L721 352L642 235L681 346L702 300L702 329L738 292L741 321L735 333L645 298L744 265L736 267L720 350L720 328L701 331L658 311L723 318L707 354L601 288L681 295L744 324L712 244L658 362L610 285L728 268L523 283L726 305L727 220L688 313L698 293L741 323L704 306L726 297L653 230L742 293L738 269L733 322L713 250L712 298L734 270L706 294L697 231L699 304L729 318L717 332L714 328L719 359L681 337L726 322L679 304L708 307L718 297L694 333L700 319L677 323L622 351L741 314L739 291L725 305L704 302L735 326L592 271L735 362L719 310L713 324L733 284L735 333L728 324L716 265L698 330L693 326L674 242L722 273L697 366L722 293L701 330L617 293L721 321L637 299L466 306L739 303L732 317L732 366L722 298L731 286L618 324L725 261L713 348L725 281L733 273L731 290L454 275L273 272L736 328L731 237L689 292L566 303L727 334L740 313L720 312L728 246L684 380L736 299L742 322L721 300L733 276L728 350L739 271L740 308L706 271L658 245L668 268L717 288L736 317L702 291L432 281L421 329L728 299L665 303L740 322L709 357L735 293L703 328L736 285L746 309L732 262L731 308L729 341L732 354L725 282L742 352L722 271L725 324L704 303L712 328L742 259L737 318L708 301L726 310L409 268L732 272L739 295L709 302L711 316L725 323L658 265L696 314L673 303L721 353L721 282L719 360L706 330L710 278L718 301L685 244L643 282L737 303L743 251L739 326L703 321L727 273L735 297L730 299L691 347L736 295L679 355L737 373L701 316L468 284L710 280L693 290L735 330L739 318L700 329L724 275L741 251L684 340L719 345L718 295L737 338L350 283L725 313L694 360L735 317L603 273L732 377L553 299L737 255L714 291L737 316L739 302L730 284L738 287L703 305L698 270L731 289L702 244L507 274L729 334L687 266L533 268L716 316L730 316L715 309L743 303L739 314L731 293L733 335L630 312L707 251L707 283L724 257L719 300L733 309L738 315L669 329L738 301L680 262L693 346L726 242L713 330L727 282L714 350L722 299L707 276L730 273L733 316L725 261L735 351L662 279L710 348L722 320L717 284L705 359L729 291L737 369L665 333L694 297L726 283L702 295L741 368L695 309L703 265L716 333L723 288L709 337L736 277L740 298L735 315L738 305L713 226L712 269L717 243L725 309L744 225L667 292L707 311L478 274L722 314L707 308L694 312L711 287L528 304L724 362L718 292L688 253L512 317L656 278L712 261L745 334L737 320L706 213L730 311L677 290L684 317L724 214L524 269L727 342L723 271L737 311L737 331L699 302L717 278L680 271L737 380L735 265L728 294L718 300L317 245L690 288L723 256L595 295L666 296L742 311L675 284L741 331L702 274L722 339L715 299L663 274L609 276L713 295L558 292L731 318L737 290L731 299L706 307L731 268L664 312L739 289L694 298L691 300L682 284L730 367L673 291L707 301L713 291L637 300L734 212L723 283L745 374L724 328L682 279L737 375L710 317L707 305L649 263L726 289L717 293L720 297L741 254L740 312L733 307L692 308L730 269L740 307L665 313L738 366L722 292L679 358L710 294L728 290L662 326L699 297L736 338L737 291L663 309L735 338L705 359L734 336L734 316L744 316L744 292L731 372L734 307L730 288L727 352L744 303L689 306L738 284L724 331L730 294L708 347L725 290L355 283L688 185L727 290L701 322L732 366L721 306L713 277L719 305L716 324L713 268L734 304L738 325L716 302L734 331L700 289L744 228L708 312L715 346L729 321L578 284L734 334L701 227L621 276L683 324L587 255L714 346L716 319L725 254L604 299L698 308L713 250L712 321L739 338L577 320L710 270L717 274L689 297L728 262L739 307L724 330L666 369L734 269L676 289L674 359L729 344L366 244L721 281L686 329L736 327L731 204L646 283L726 345L683 286L639 320L734 285L687 311L723 312L715 266L743 262L557 271L723 336L396 293L730 279L604 304L735 307L682 271L682 270L650 306L723 307L688 291L735 293L723 302L741 327L251 294L715 264L726 310L637 331L736 313L732 284L555 269L677 285L551 289L730 273L725 307L722 341L497 312L599 333L721 298L737 319L248 241L528 311L672 298L711 308L717 331L699 288L525 254L720 308L736 340L657 290L711 308L709 346L728 272L597 305L730 280L726 319L723 293L723 311L726 280L682 227L719 291L715 272L726 309L426 311L687 292L661 309L455 304L736 352L709 274L700 296L709 356L693 274L679 327L704 321L730 277L725 292L709 274L738 319L734 332L732 320L721 281L707 346L682 310L450 258L725 356L724 285L724 296L740 307L717 308L724 358L673 262L727 339L648 290L733 314L672 320L730 327L706 348L712 303L713 290L732 287L731 320L696 315L737 323L728 280L722 296L691 297L726 291L725 319L653 276L728 343L710 293L707 330L736 300L713 314L727 340L726 329L427 292L704 308L693 311L434 267L672 237L743 241L722 269L692 305L721 317L736 277L691 324L732 304L715 314L728 345L734 323L721 290L733 300L745 292L723 329L726 347L735 338L735 364L715 311L732 359L691 357L732 358L686 281L727 311L692 260L747 334L664 318L712 318L725 322L711 311L705 333L745 322L735 342L719 365L720 307L679 280L717 313L701 293L739 296L709 311L692 268L717 264L719 330L698 276L719 322L710 329L637 295L632 289L705 326L560 293L697 263L520 272L713 326L734 329L702 335L728 327L726 323L743 278L694 259L731 325L722 282L718 305L717 317L741 286L638 260L734 302L713 294L731 329L718 334L699 312L688 278L678 346L719 278L728 311L732 305L719 290L588 319L697 309L676 295L712 233L717 306L728 309L724 248L643 328L667 298L699 269L683 315L668 354L708 329L730 300L704 348L731 274L715 299L709 334L712 377L739 289L665 336L706 314L644 311L580 310L680 296L699 295L739 300L723 285L695 260L730 317L728 291L592 254L736 236L724 257L692 276L707 299L738 262L704 271L702 313L740 357L734 300L714 345L708 334L686 259L693 331L716 320L692 328L732 289L720 280L694 276L683 301L729 309L715 327L739 304L385 340L715 338L701 303L734 294L742 311L740 311L723 274L707 333L742 299L741 281L689 323L731 266L711 289L734 344L726 323L664 210L714 325L745 327L584 314L715 276L731 300L675 321L721 265L731 293L725 261L651 320L733 339L708 257L488 243L731 323L554 293L529 279L732 318L680 270L739 316L738 311L708 311L728 335L723 295L608 276L722 343L666 338L741 320L621 287L720 338L704 286L742 340L703 345L703 266L731 361L723 222L726 330L732 285L737 340L724 357L326 258L733 277L745 315L738 290L730 266L694 286L741 314L738 248L739 317L712 322L729 232L732 307L736 332L714 305L743 318L719 339L731 298L409 252L735 299L711 252L725 337L721 296L736 317L489 293L727 274L701 253L697 297L739 378L392 290L716 342L687 334L745 329L700 313L523 323L744 302L695 328L731 293L701 292L736 358L717 224L710 322L735 322L720 363L710 363L685 304L726 333L743 248L692 291L719 327L322 296L719 340L715 313L727 298L737 284L696 274L711 348L712 322L512 314L737 309L739 276L721 298L655 261L616 340L682 305L721 305L687 350L738 305L428 250L703 344L723 322L724 276L698 224L721 317L729 318L736 214L743 342L731 284L716 314L539 315L686 320L517 312L734 333L714 319L719 287L736 308L735 293L706 283L715 306L731 333L737 269L732 291L708 299L683 291L719 318L729 315L740 346L737 307L704 270L734 356L737 336L724 310L699 336L736 312L731 338L729 342L735 269L595 307L690 329L728 301L577 268L728 300L681 289L693 238L720 323L736 262L721 261L662 293L717 328L738 315L698 218L728 312L722 302L726 301L458 303L709 277L742 328L672 316L739 287L737 345L721 369L705 286L720 288L740 296L741 296L696 211L724 322L709 332L486 258L714 300L740 280L660 326L726 353L666 282L743 313L739 305L737 349L695 279L639 298L731 344L701 295L720 284L683 327L739 348L646 266L503 279L714 352L724 319L690 294L723 292L713 308L617 282L593 350L711 268L700 303L528 332L739 324L737 330L626 263L729 324L734 341L702 352L740 345L744 358L674 257L702 299L723 320L538 282L742 278L738 300L720 295L597 269L693 378L708 314L740 376L685 320L665 349L406 272L706 326L726 298L663 266L715 341L449 265L735 373L732 334L711 327L630 276L723 287L696 283L705 327L718 284L735 310L739 309L601 307L720 317L725 266L730 308L700 310L720 279L462 267L740 273L718 299L733 227L712 336L706 252L701 340L706 338L734 266L714 279L737 326L735 293L721 310L732 261L741 270L691 273L701 307L729 325L687 270L727 326L725 330L729 310L736 371L726 380L439 325L713 288L735 340L709 316L642 323L724 312L677 308L707 304L741 319L619 298L729 315L712 256L733 266L704 300L660 277L621 270L471 340L741 290L721 239L440 257L727 330L721 369L707 344L718 321L742 356L603 208L467 275L742 316L731 365L733 268L340 244L736 288L740 295L744 286L738 269L738 328L737 301L711 296L695 338L718 308L738 290L717 305L729 286L695 314L585 287L715 307L448 251L667 284L680 315L673 331L724 281L719 290L724 327L715 352L678 250L733 242L717 269L707 298L722 275L558 253L717 284L737 313L708 327L735 267L743 317L680 265L695 293L743 370L697 294L644 230L716 285L709 324L746 286L722 328L654 284L680 286L728 341L726 277L728 263L740 271L713 305L736 301L692 284L732 319L575 302L717 325L568 292L744 310L706 290L694 358L714 316L719 334L735 299L708 273L728 280L731 248L720 344L728 338L741 281L592 297L736 306L719 266L629 303L715 278L731 307L680 325L736 332L743 311L587 284L724 274L710 300L733 325L734 331L742 292L651 348L717 291L721 338L706 305L711 329L714 277L715 321L380 313L707 294L742 292L735 313L741 307L708 261L672 297L613 350L645 317L736 341L714 308L724 301L731 299L685 345L729 300L729 357L741 284L723 271L708 314L714 331L710 287L686 241L720 312L703 320L727 336L721 347L742 308L723 296L733 325L667 267L426 277L655 284L582 246L716 319L717 286L728 314L731 315L626 295L730 312L715 316L712 293L707 290L732 289L730 262L414 275L714 299L660 331L688 248L735 341L739 284L740 285L706 275L728 245L739 299L726 323L715 291L731 331L717 278L726 310L729 289L699 341L695 294L699 337L733 305L671 324L742 295L686 318L740 283L660 266L730 292L737 335L734 356L475 304L719 326L745 291L710 243L704 313L712 247L723 268L714 275L709 327L710 307L734 299L689 317L716 320L614 310L730 339L745 223L745 276L705 307L720 240L729 297L719 269L685 269L510 193L732 363L695 294L735 313L592 293L712 299L729 278L745 329L728 297L495 299L695 269L648 286L717 265L729 234L495 244L739 299L715 359L733 303L731 256L699 236L728 264L714 295L737 288L732 362L743 288L695 290L689 306L713 293L710 287L719 281L710 298L458 259L740 295L729 308L731 281L743 327L739 366L723 281L716 311L731 287L712 283L710 321L734 327L474 280L692 250L618 286L745 330L410 283L717 267L704 260L685 290L636 312L693 340L709 322L723 281L728 255L700 279L704 320L658 289L664 247L720 342L744 342L689 336L639 368L705 290L745 268L736 332L743 321L704 342L698 336L723 335L708 224L744 308L563 272L670 335L729 357L724 331L715 328L722 289L714 265L717 289L632 267L734 288L743 299L728 339L685 285L729 306L719 361L685 301L743 290L727 332L741 299L741 234L745 359L686 312L743 329L709 287L743 327L721 293L656 239L742 271L738 308L731 261L734 222L651 236L718 256L701 315L740 330L728 329L727 313L633 342L636 284L702 298L719 278L733 313L738 315L396 244L709 327L697 320L725 345L730 299L700 292L646 267L311 102L648 79L429 141L610 136L672 136L446 166L337 175L541 170L572 163L638 162L694 164L716 174L256 201L667 177L656 180"/>
<path d="M203.1 249.8L744.3 306.2L744.3 309.2L203.1 259.8Z" fill="#E8485A" fill-opacity="0.45"/>
<line x1="203.1" y1="254.8" x2="744.3" y2="307.7" stroke="#E41A1C" stroke-width="2"/>
<text x="800.5" y="34" font-size="46" stroke="#000" stroke-width="0.8">b</text>
<text x="1180" y="58" font-size="32.9" text-anchor="middle">R = 0.1125, p = 4.12e−10</text>
<line x1="967" y1="70" x2="967" y2="395.5" stroke="#000" stroke-width="1.1"/>
<line x1="966.4" y1="395" x2="1518" y2="395" stroke="#000" stroke-width="1.1"/>
<line x1="962.5" y1="85.3" x2="967" y2="85.3" stroke="#222" stroke-width="1.2"/>
<text x="961" y="95.7" font-size="29" text-anchor="end">1.000</text>
<line x1="962.5" y1="173.7" x2="967" y2="173.7" stroke="#222" stroke-width="1.2"/>
<text x="961" y="184.1" font-size="29" text-anchor="end">0.950</text>
<line x1="962.5" y1="262" x2="967" y2="262" stroke="#222" stroke-width="1.2"/>
<text x="961" y="272.4" font-size="29" text-anchor="end">0.900</text>
<line x1="962.5" y1="350.3" x2="967" y2="350.3" stroke="#222" stroke-width="1.2"/>
<text x="961" y="360.7" font-size="29" text-anchor="end">0.850</text>
<line x1="974.6" y1="395" x2="974.6" y2="399.5" stroke="#222" stroke-width="1.2"/>
<text x="974.6" y="420" font-size="25.6" text-anchor="middle">0.2</text>
<line x1="1110" y1="395" x2="1110" y2="399.5" stroke="#222" stroke-width="1.2"/>
<text x="1110" y="420" font-size="25.6" text-anchor="middle">0.4</text>
<line x1="1245.3" y1="395" x2="1245.3" y2="399.5" stroke="#222" stroke-width="1.2"/>
<text x="1245.3" y="420" font-size="25.6" text-anchor="middle">0.6</text>
<line x1="1380.7" y1="395" x2="1380.7" y2="399.5" stroke="#222" stroke-width="1.2"/>
<text x="1380.7" y="420" font-size="25.6" text-anchor="middle">0.8</text>
<line x1="1516" y1="395" x2="1516" y2="399.5" stroke="#222" stroke-width="1.2"/>
<text x="1516" y="420" font-size="25.6" text-anchor="middle">1.0</text>
<text x="1242.5" y="458" font-size="36.6" text-anchor="middle">Simpson (species)</text>
<text x="862" y="216.5" font-size="35.5" text-anchor="middle" transform="rotate(-90 862 216.5)">Ratio</text>
<path class="m2" d="M1410 237L1397 259L1369 260L1448 230L1489 222L1458 289L1427 291L1444 199L1485 291L1477 272L1455 303L1490 209L1434 240L1450 257L1463 224L1410 295L1482 243L1465 232L1486 228L1458 286L1438 232L1456 318L1474 270L1476 246L1417 228L1323 214L1490 247L1464 246L1465 250L1158 281L1440 268L1450 280L1472 254L1480 284L1480 250L1439 274L1191 270L1459 293L1445 234L1450 284L1436 283L1356 301L1457 297L1434 245L1280 248L1454 233L1433 254L1474 285L1466 286L1417 302L1450 280L1479 257L1493 220L1487 239L1471 333L1482 245L1463 273L1432 299L1480 305L1475 240L1434 293L1449 276L1466 273L1477 263L1456 255L1345 262L1482 241L1421 266L1464 222L1459 229L1464 242L1387 258L1473 282L1476 256L1457 300L1494 256L1479 249L1413 263L1484 256L1485 241L1474 262L1388 298L1110 275L1445 238L1476 302L1475 248L1492 285L1404 268L1479 259L1160 248L1473 278L1454 280L1399 277L1442 302L1436 235L1446 227L1493 241L1365 253L1430 269L1466 237L1475 275L1458 254L1390 196L1444 271L1417 311L1427 266L1493 292L1427 228L1473 261L1379 213L1457 262L1480 268L1435 219L1467 317L1461 232L1431 258L1403 273L1464 250L1438 232L1459 270L1426 231L1468 251L1234 309L1431 270L1413 267L1459 259L1482 245L1483 251L1232 250L1488 273L1123 271L1466 262L1397 252L1443 270L1420 248L1474 242L1493 204L1489 270L1371 239L1403 265L1466 247L1449 265L1485 218L1370 240L1364 262L1393 251L1379 308L1475 248L1487 238L1227 276L1479 241L1461 238L1336 253L1370 233L1447 254L1443 290L1448 222L1484 316L1413 245L1476 277L1463 259L1484 209L1476 256L1298 271L1460 249L1462 275L1459 281L1486 261L1359 255L1481 244L1474 226L1484 315L1470 266L1395 274L1492 262L1461 285L1488 218L1397 309L1441 227L1481 237L1463 273L1400 281L1458 286L1470 250L1447 264L1426 295L1474 278L1481 293L1489 251L1443 295L1402 261L1281 278L1487 244L1430 320L1459 264L1473 266L1440 252L1449 231L1446 268L1409 282L1142 309L1471 220L1467 221L1489 291L1472 258L1481 249L1428 290L1488 246L1408 295L1448 251L1483 230L1392 269L1455 254L1473 265L1441 280L1297 287L1474 228L1469 319L1434 301L1440 238L1414 259L1461 286L1489 265L1476 273L1277 246L1451 286L1368 246L1470 265L1396 281L1446 245L1493 252L1480 280L1462 313L1423 309L1409 272L1493 221L1454 295L1462 290L1451 286L1480 249L1450 260L1491 234L1182 292L1471 265L1321 286L1494 260L1452 239L1213 274L1454 272L1425 299L1469 232L1467 226L1208 230L1432 232L1424 278L1440 263L1447 283L1489 271L1482 262L1470 239L1465 295L1487 272L1483 238L1494 307L1447 315L1452 296L1489 266L1420 268L1458 223L1410 281L1063 266L1451 267L1479 275L1476 273L1482 229L1439 256L1471 251L1493 248L1349 289L1177 320L1455 233L1469 236L1444 256L1226 280L1460 276L1420 291L1482 279L1463 216L1243 294L1451 215L1433 294L1456 263L1442 244L1465 234L1431 270L1482 259L1488 271L1472 247L1464 216L1424 254L1429 265L1466 278L1479 256L1459 329L1481 227L1471 282L1467 262L1477 270L1401 258L1481 257L1468 276L1374 274L1442 248L1442 221L1462 230L1460 287L1490 242L1473 271L1340 248L1459 267L1478 344L1313 287L1470 253L1366 271L1455 253L1461 264L1436 328L1463 260L1300 291L1471 265L1413 275L1456 235L1457 284L1462 274L1380 250L1465 254L1457 259L1472 271L1146 274L1483 255L1292 234L1395 251L1492 254L1388 249L1476 295L1466 227L1471 323L1463 281L1441 238L1416 258L1462 248L1466 283L1448 290L1439 280L1485 233L1130 246L1171 246L1438 260L1431 256L1382 295L1479 261L1481 260L1299 261L1425 280L1462 296L1492 287L1468 273L1481 317L1433 205L1440 259L1451 280L1353 302L1382 292L1463 295L1340 230L1467 253L1468 278L1487 230L1436 244L1453 256L1225 303L1459 268L1387 288L1381 280L1474 269L1488 295L1483 237L1266 316L1473 227L1438 234L1439 207L1322 306L1486 262L1376 249L1422 219L1476 260L1481 261L1480 295L1473 285L1487 270L1450 248L1483 276L1432 247L1435 251L1459 261L1484 265L1487 274L1449 305L1275 251L1433 309L1416 212L1419 262L1436 265L1489 302L1486 267L1463 289L1450 275L1464 259L1415 281L1417 243L1487 268L1486 247L1482 276L1465 283L1483 242L1482 263L1476 292L1461 247L1434 259L1489 231L1460 231L1464 272L1479 259L1430 260L1481 252L1452 248L1404 243L1409 227L1479 277L1423 270L1429 275L1475 262L1458 200L1492 240L1466 237L1488 279L1471 280L1473 244L1474 254L1406 266L1441 254L1460 279L1478 258L1425 268L1473 261L1471 281L1472 261L1459 231L1465 271L1439 255L1359 313L1391 260L1440 253L1438 275L1463 258L1489 270L1464 236L1488 246L1473 286L1438 248L1467 272L1455 289L1459 243L1471 234L1464 267L1490 290L1484 272L1314 306L1480 264L1454 308L1471 245L1493 267L1332 249L1476 220L1494 263L1431 246L1424 262L1465 246L1460 282L1486 216L1456 260L1469 262L1481 270L1422 255L1440 276L1466 260L1486 291L1442 263L1467 275L1344 293L1476 274L1366 276L1475 301L1436 273L1451 310L1337 221L1482 235L1344 250L1471 248L1415 263L1458 228L1003 280L1372 297L1474 242L1437 216L1400 279L1487 259L1480 255L1449 246L1464 268L1452 294L1466 276L1456 255L1462 222L1468 268L1484 312L1466 253L1464 274L1359 269L1478 201L1438 266L1480 248L1475 262L1471 282L1439 279L1312 236L1458 231L1493 257L1308 315L1398 301L1417 287L1465 302L1419 299L1392 277L1474 268L1480 260L1459 278L1457 264L1437 244L1463 277L1444 277L1470 250L1471 250L1458 261L1397 217L1465 281L1395 286L1470 282L1490 247L1437 294L1309 241L1461 236L1361 267L1361 279L1396 301L1456 253L1457 259L1422 264L1485 243L1476 267L1464 279L1478 277L1389 266L1439 268L1111 244L1472 274L1487 259L1432 278L1471 243L1433 272L1473 271L1461 256L1490 228L1482 240L1391 223L1470 281L1448 230L1431 233L1475 223L1430 292L1476 270L1458 259L1415 295L1463 269L1485 239L1465 262L1442 239L1471 265L1266 301L1476 276L1424 246L1479 255L1432 307L1445 318L1443 261L1474 261L1395 263L1428 303L1476 254L1260 305L1396 288L1422 273L1469 265L1260 249L1472 301L1475 247L1448 238L1421 252L1482 277L1459 329L1424 248L1486 278L1480 297L1485 226L1466 313L1478 241L1473 258L1382 276L1464 236L1484 241L1453 234L1450 273L1488 266L1465 243L1327 277L1487 263L1467 263L1447 259L1483 302L1489 282L1447 317L1443 270L1447 245L1446 295L1471 285L1494 264L1434 266L1486 269L1373 286L1420 255L1484 281L1481 253L1481 246L1486 234L1459 217L1446 257L1420 243L1433 253L1484 232L1415 273L1422 286L1465 253L1489 245L1267 308L1433 226L1447 269L1485 237L1471 258L1440 244L1436 253L1485 282L1416 264L1333 281L1470 232L1488 226L1449 249L1265 243L1477 289L1491 281L1484 269L1458 268L1457 282L1449 270L1358 254L1414 246L1275 306L1481 232L1486 283L1426 207L1455 286L1463 286L1471 264L1437 298L1448 261L1479 249L1432 235L1473 231L1403 276L1340 254L1390 255L1483 264L1446 259L1474 236L1456 248L1419 317L1493 283L1489 227L1380 285L1478 212L1452 288L1469 260L1377 243L1460 222L1480 253L1444 261L1472 264L1413 294L1283 275L1190 242L1467 262L1477 242L1049 285L1474 216L1469 282L1457 229L1462 246L1464 253L1469 269L1475 298L1444 267L1448 256L1365 267L1460 287L1408 230L1407 238L1483 235L1441 293L1345 284L1460 235L1393 265L1464 257L1451 255L1459 263L1451 262L1463 251L1312 222L1307 276L1488 229L1472 268L1481 200L1376 246L1473 284L1482 226L1466 283L1346 242L1424 277L1481 290L1479 226L1464 241L1493 255L1443 295L1445 251L1461 276L1468 320L1369 258L1379 287L1362 274L1391 277L1446 216L1464 269L1477 289L1470 321L1439 256L1415 199L1423 257L1415 230L1493 258L1455 226L1459 258L1476 256L1464 230L1485 250L1481 252L1461 266L1465 285L1443 276L1426 321L1473 242L1459 258L1412 251L1472 270L1455 296L1481 344L1422 280L1470 283L1393 249L1469 292L1467 293L1458 230L1473 263L1475 269L1443 292L1471 241L1470 255L1478 294L1483 232L1487 270L1361 325L1454 265L1344 271L1432 310L1456 257L1465 278L1479 266L1493 267L1480 277L1459 233L1477 258L1452 245L1493 284L1476 308L1465 270L1468 270L1449 280L1440 299L1441 246L1458 269L1458 257L1426 282L1431 300L1431 288L1406 263L1405 257L1490 238L1491 267L1435 264L1486 288L1467 280L1450 279L1490 268L1476 264L1475 280L1277 252L1448 235L1472 256L1407 261L1469 289L1484 263L1210 298L1483 265L1378 269L1445 240L1455 289L1423 302L1466 245L1473 295L1479 274L1445 245L1273 325L1417 240L1494 273L1448 269L1469 215L1349 258L1492 246L1457 303L1266 278L1476 264L1463 263L1461 234L1490 301L1455 260L1204 252L1463 283L1456 284L1451 260L1461 272L1483 273L1485 206L1453 222L1381 305L1471 267L1478 335L1487 280L1490 262L1338 246L1451 241L1461 230L1468 295L1454 267L1492 261L1452 262L1469 250L1448 277L1487 254L1484 272L1461 277L1436 259L1468 242L1447 249L1463 268L1414 285L1373 271L1452 271L1475 276L1477 269L1462 285L1401 288L1473 249L1463 325L1457 264L1471 295L1267 259L1464 234L1392 266L1289 259L1476 286L1449 241L1391 278L1383 304L1463 269L1451 266L1389 296L1257 301L1454 251L1428 246L1397 287L1473 205L1446 260L1431 245L1478 265L1484 285L1441 284L1393 258L1459 239L1456 272L1487 288L1377 297L1475 288L1463 288L1467 280L1378 279L1468 281L1488 331L1470 266L1438 306L1425 256L1454 272L1476 255L1441 231L1487 259L1465 212L1360 288L1481 261L1467 263L1487 294L1490 236L1475 229L1464 273L1473 245L1480 252L1422 254L1399 276L1416 283L1476 256L1448 254L1466 253L1227 276L1451 256L1478 306L1401 273L1394 237L1461 251L1459 267L1437 266L1492 279L1471 241L1460 244L1456 235L1454 199L1476 287L1442 291L1448 259L1474 254L1488 289L1319 282L1220 256L1473 291L1492 286L1452 277L1490 299L1313 264L1488 277L1478 224L1470 237L1490 242L1438 197L1486 259L1451 253L1465 263L1449 252L1466 231L1442 255L1472 268L1458 301L1479 261L1391 244L1435 278L1406 307L1483 225L1444 272L1487 217L1470 289L1470 244L1468 238L1454 266L1423 257L1476 257L1473 262L1423 255L1490 244L1475 276L1466 254L1476 295L1477 275L1428 271L1416 274L1470 268L1494 246L1484 248L1478 274L1406 236L1437 282L1439 294L1315 229L1493 273L1451 230L1467 234L1476 294L1408 253L1468 270L1478 285L1407 261L1484 287L1479 259L1327 275L1325 260L1446 254L1480 295L1472 208L1456 263L1453 221L1465 261L1447 279L1471 295L1430 279L1479 244L1465 268L1452 249L1478 222L1234 263L1414 220L1458 273L1417 250L1332 258L1443 273L1478 235L1479 253L1448 317L1457 270L1476 255L1469 240L1466 266L1468 276L1457 241L1418 233L1482 250L1443 337L1462 245L1477 294L1479 273L1469 246L1478 254L1449 322L1375 260L1463 258L1448 286L1482 320L1429 303L1482 250L1469 256L1472 276L1463 255L1470 290L1345 258L1446 287L1445 272L1455 265L1478 280L1426 268L1469 265L1427 257L1485 282L1456 239L1444 283L1480 319L1464 294L1407 260L1474 285L1487 272L1364 268L1445 262L1470 247L1400 275L1458 302L1397 278L1468 265L1469 261L1459 260L1445 272L1404 255L1444 256L1470 226L1388 249L1464 283L1439 219L1448 263L1440 255L1493 243L1452 315L1461 241L1437 264L1482 258L1401 269L1476 238L1455 296L1470 228L1459 228L1405 284L1461 275L1458 267L1488 314L1452 271L1488 261L1480 226L1479 317L1420 262L1474 273L1327 285L1484 223L1490 301L1472 278L1427 245L1135 237L1486 269L1469 273L1444 249L1388 269L1429 260L1421 316L1375 257L1485 304L1446 264L1411 275L1221 245L1468 263L1444 249L1453 242L1411 267L1473 232L1482 233L1462 247L1434 310L1442 247L1439 287L1473 273L1453 229L1485 246L1476 267L1486 214L1477 275L1456 272L1412 238L1463 276L1482 273L1487 261L1425 279L1428 293L1339 248L1487 251L1468 292L1335 262L1472 294L1446 289L1479 268L1489 247L1478 294L1464 244L1474 301L1481 265L1455 268L1333 266L1424 256L1478 240L1466 270L1460 239L1431 224L1480 289L1451 291L1463 303L1473 276L1447 259L1304 236L1458 259L1441 264L1380 270L1487 277L1433 276L1481 243L1357 238L1389 275L1441 295L1485 254L1409 271L1424 286L1425 253L1479 250L1401 260L1470 231L1454 265L1441 246L1378 296L1472 267L1445 256L1462 255L1473 247L1458 244L1447 252L1354 335L1491 286L1482 267L1492 200L1296 273L1380 268L1459 287L1293 315L1478 269L1460 247L1486 213L1476 226L1474 302L1473 263L1438 264L1494 259L1408 246L1471 254L1062 274L1212 303L1466 273L1331 277L1484 280L1472 250L1473 269L1465 269L1390 220L1413 230L1457 233L1198 278L1431 260L1480 203L1380 250L1462 265L1488 302L1478 265L1447 278L1484 267L1477 259L1413 252L1422 285L1429 282L1465 240L1339 239L1356 234L1464 332L1475 261L1320 298L1408 232L1342 271L1361 297L1487 235L1430 235L1378 258L1493 278L1441 269L1465 291L1467 254L1436 277L1460 236L1483 268L1444 278L1477 240L1430 210L1364 300L1458 248L1485 239L1347 221L1493 309L1437 303L1477 284L1453 288L1463 292L1461 265L1485 240L1464 297L1461 288L1481 297L1402 287L1457 258L1405 298L1039 288L1404 282L1465 296L1475 245L1355 248L1482 202L1487 245L1430 279L1373 275L1468 274L1259 276L1451 271L1470 290L1388 252L1486 284L1460 225L1478 272L1440 261L1478 257L1399 322L1455 268L1415 263L1437 315L1482 285L1448 255L1279 281L1452 241L1465 278L1405 235L1332 272L1488 252L1448 288L1479 301L1461 282L1468 255L1456 230L1466 276L1409 265L1483 262L1447 266L1294 283L1484 252L1441 281L1456 285L1472 263L1434 274L1355 267L1400 273L1454 275L1493 251L1425 251L1477 222L1400 334L1473 280L1393 226L1483 255L1476 268L1437 321L1487 272L1443 252L1437 289L1475 252L1467 259L1492 242L1221 290L1466 273L1481 225L1419 253L1456 262L1488 264L1424 293L1418 248L1196 305L1469 283L1316 257L1472 244L1449 265L1453 288L1466 320L1451 260L1460 290L1477 245L1462 269L1271 252L1446 236L1479 252L1314 300L1478 256L1406 263L1479 261L1471 277L1447 251L1458 249L1453 283L1417 311L1480 240L1443 261L1439 260L1457 262L1457 266L1488 312L1418 289L1429 249L1487 234L1484 284L1355 258L1474 245L1484 300L1481 244L1437 260L1464 212L1486 223L1430 282L1434 285L1441 267L1441 295L1434 249L1454 265L1482 253L1473 245L1486 287L1476 253L1465 313L1488 245L1414 266L1449 266L1441 268L1478 259L1322 227L1470 309L1491 227L1442 263L1476 267L1478 267L1478 245L1464 249L1452 270L1488 233L1486 278L1426 257L1467 280L1483 274L1477 242L1073 295L1414 251L1388 256L1477 265L1455 274L1467 240L1370 239L1457 260L1480 288L1259 250L1481 280L1466 230L1472 223L1368 312L1478 267L1450 269L1481 226L1454 283L1450 274L1351 231L1426 249L1461 271L1456 267L1441 278L1449 252L1465 242L1488 275L1472 277L1367 269L1445 250L1471 241L1488 231L1445 258L1488 265L1435 260L1451 275L1450 303L1462 254L1468 308L1488 261L1478 312L1429 326L1461 253L1433 245L1478 253L1482 290L1298 263L1490 284L1484 252L1449 293L1463 272L1468 231L1444 266L1420 254L1417 242L1482 235L1451 255L1432 248L1454 243L1383 282L1464 220L1469 295L1474 270L1453 289L1468 238L1462 207L1478 245L1491 296L1452 207L1434 332L1441 256L1481 261L1148 284L1403 271L1478 230L1470 238L1450 232L1479 264L1467 286L1483 262L1465 287L1396 280L1467 270L1435 268L1465 252L1463 259L1424 235L1364 272L1268 235L1477 274L1458 289L1296 243L1439 281L1472 287L1452 249L1460 275L1346 282L1477 233L1455 305L1470 229L1465 249L1478 271L1426 267L1486 248L1308 226L1476 281L1434 267L1471 240L1489 231L1461 299L1402 246L1440 314L1486 251L1375 245L1483 245L1113 255L1457 233L1489 274L1490 254L1485 275L1275 216L1464 230L1491 268L1488 234L1455 287L1448 278L1448 279L1440 277L1476 280L1431 257L1312 285L1411 263L1477 258L1476 259L1477 263L1406 259L1439 250L1477 286L1415 246L1477 218L1259 312L1422 251L1467 291L1460 281L1485 242L1435 245L1435 254L1465 264L1481 285L1407 275L1467 240L1493 271L1457 312L1458 251L1481 275L1429 304L1272 259L1391 242L1481 261L1464 238L1490 234L1432 265L1456 308L1481 269L1489 298L1369 272L1371 320L1411 253L1494 311L1483 243L1490 259L1476 282L1440 255L1438 244L1390 247L1474 296L1331 258L1474 256L1425 236L1484 262L1481 248L1481 245L1461 268L1479 251L1359 254L1483 258L1454 311L1453 213L1461 305L1432 267L1491 258L1486 251L1474 260L1476 200L1475 277L1449 211L1469 246L1453 262L1464 237L1483 269L1479 256L1446 240L1480 278L1461 280L1459 253L1465 251L1476 246L1486 264L1264 206L1446 253L1481 254L1488 272L1457 276L1472 290L1414 265L1478 306L1478 236L1473 279L1475 266L1441 265L1477 283L1438 253L1469 287L1367 269L1472 289L1471 289L1421 266L1418 282L1481 255L1486 267L1473 276L1298 287L1475 259L1444 257L1413 230L1484 238L1472 332L1487 298L1414 277L1484 243L1466 254L1458 233L1396 302L1419 259L1474 279L1486 253L1396 293L1483 254L1375 272L1478 283L1440 270L1421 228L1473 260L1450 282L1472 265L1483 236L1465 250L1435 258L1455 258L1417 236L1413 288L1461 243L1426 259L1418 265L1466 291L1441 253L1434 244L1396 296L1416 240L1472 246L1464 249L1475 239L1490 272L1432 296L1452 243L1448 277L1488 249L1487 262L1434 284L1446 265L1391 253L1450 287L1491 243L1473 303L1431 266L1461 261L1481 299L1474 312L1485 224L1378 258L1446 268L1442 254L1473 256L1336 263L1452 271L1468 243L1493 279L1471 237L1471 235L1484 251L1450 288L1466 232L1493 235L1489 296L1449 220L1417 243L1324 251L1468 258L1483 251L1478 297L1369 224L1442 300L1490 241L1459 291L1480 288L1481 309L1447 290L1403 285L1482 276L1470 211L1480 250L1403 218L1466 247L1488 300L1460 289L1400 241L1206 218L1477 256L1171 278L1461 261L1459 246L1469 252L1443 196L1468 259L1451 267L1492 267L1460 292L1471 277L1481 258L1470 239L1455 274L1403 282L1487 267L1469 256L1494 293L1433 281L1467 238L1391 262L1343 235L1349 287L1491 276L1436 252L1419 267L1472 280L1468 280L1485 256L1436 245L1485 253L1473 235L1476 270L1446 259L1449 265L1442 264L1471 276L1240 278L1408 289L1463 266L1461 222L1432 235L1490 230L1482 261L1418 251L1469 263L1481 268L1469 218L1480 259L1475 254L1481 279L1465 252L1462 279L1481 278L1410 292L1484 233L1404 279L1492 266L1445 287L1409 254L1452 280L1288 229L1435 285L1441 279L1372 219L1485 236L1428 340L1450 236L1416 238L1489 258L1464 262L1480 259L1423 298L1447 278L1450 285L1460 288L1455 294L1429 287L1458 283L1419 254L1483 298L1351 284L1436 214L1439 250L1456 278L1444 300L1380 271L1470 274L1487 279L1449 256L1316 309L1471 230L1417 270L1476 269L1494 270L1474 270L1470 271L1398 256L1473 252L1464 239L1490 283L1416 303L1490 270L1372 242L1385 233L1485 266L1410 245L1479 260L1057 287L1430 226L1486 240L1482 231L1464 266L1435 280L1371 283L1476 287L1475 281L1117 297L1298 258L1308 278L1429 257L1453 207L1446 267L1435 266L1406 273L1470 309L1458 257L1482 261L1467 297L1467 224L1443 238L1483 277L1419 268L1194 222L1377 225L1480 282L1484 276L1460 252L1444 237L1406 305L1474 261L1486 267L1347 255L1460 255L1475 255L1480 314L1453 231L1324 281L1486 287L1457 265L1450 299L1459 244L1450 286L1475 273L1436 270L1477 266L1455 261L1476 250L1434 259L1485 274L1452 241L1452 254L1448 272L1438 241L1481 265L1480 262L1446 268L1472 279L1467 262L1466 256L1406 230L1446 265L1450 279L1439 261L1443 260L1474 299L1457 265L1460 246L1397 244L1392 249L1475 278L1467 241L1474 272L1439 286L1455 273L1377 280L1462 283L1455 287L1415 237L1473 251L1423 224L1461 286L1439 276L1411 254L1458 265L1444 260L1442 272L1461 247L1359 248L1427 293L1460 241L1479 216L1491 223L1471 287L1385 268L1485 240L1462 279L1480 222L1413 237L1299 293L1443 204L1446 246L1479 259L1420 273L1466 263L1442 287L1477 267L1480 287L1396 245L1468 271L1463 239L1418 224L1457 276L1399 296L1404 296L1416 241L1446 242L1453 230L1491 242L1436 254L1470 304L1309 254L1141 235L1455 258L1454 247L1440 231L1480 289L1434 269L1429 271L1463 270L1478 274L1466 250L1434 260L1446 260L1474 246L1247 302L1455 257L1482 268L1455 285L1454 289L1484 278L1481 284L1334 283L1466 260L1467 229L1423 270L1442 274L1469 268L1385 291L1423 272L1394 273L1402 300L1464 264L1253 286L1451 248L1420 277L1455 285L1461 241L1362 259L1471 251L1452 291L1443 289L1427 226L1422 220L1493 279L1375 321L1140 265L1448 243L1459 262L1475 292L1473 284L1447 270L1418 230L1413 271L1461 251L1468 271L1420 269L1444 292L1422 250L1488 274L1477 283L1485 251L1449 266L1486 329L1479 291L1409 258L1483 244L1451 289L1425 266L1474 299L1429 288L1471 223L1440 274L1472 286L1467 284L1493 252L1443 220L1486 259L1315 284L1449 230L1410 265L1472 243L1434 243L1482 263L1362 201L1482 248L1493 273L1485 253L1486 229L1488 236L1484 258L1381 265L1457 281L1336 250L1463 301L1381 293L1402 250L1484 255L1438 304L1432 238L1483 264L1475 220L1483 225L1428 234L1474 253L1352 279L1392 310L1075 270L1466 287L1485 255L1427 287L1472 275L1483 257L1479 256L1473 234L1479 257L1218 242L1444 285L1417 252L1478 233L1474 280L1458 244L1490 253L1466 267L1472 277L1437 307L1478 258L1491 234L1462 229L1476 243L1422 252L1487 236L1477 270L1431 262L1471 252L1464 292L1378 277L1463 240L1438 273L1440 236L1488 274L1476 250L1354 257L1232 285L1449 236L1207 278L1389 278L1379 270L1410 275L1482 276L1462 264L1353 313L1349 243L1219 285L1462 256L1394 280L1296 292L1445 286L1469 247L1454 243L1450 231L1253 292L1421 255L1484 277L1479 266L1478 281L1484 241L1375 258L1476 287L1446 312L1454 275L1436 266L1456 270L1443 271L1450 277L1389 275L1438 265L1481 264L1492 244L1470 231L1447 244L1475 267L1475 230L1474 264L1477 270L1400 265L1182 303L1471 243L1446 289L1304 276L1427 292L1489 259L1451 277L1465 294L1362 256L1464 250L1457 292L1230 303L1431 227L1454 218L1483 256L1452 266L1478 301L1420 262L1483 256L1474 245L1454 277L1474 258L1447 260L1460 265L1334 307L1449 238L1403 270L1443 274L1303 324L1445 273L1372 206L1469 212L1430 243L1478 273L1453 265L1421 284L1477 291L1443 246L1336 202L1490 229L1474 296L1452 241L1413 266L1437 298L1490 294L1476 223L1440 216L1422 244L1401 217L1464 245L1468 261L1489 226L1452 277L1437 258L1464 240L1423 254L1480 273L1474 288L1335 260L1486 261L1414 310L1458 267L1480 285L1487 259L1488 253L1472 273L1486 288L1462 260L1467 250L1484 252L1483 249L1330 233L1476 241L1488 279L1482 274L1299 328L1394 270L1475 254L1432 251L1304 282L1481 219L1431 278L1454 262L1487 265L1436 264L1445 268L1451 284L1479 262L1444 300L1423 313L1476 244L1473 275L1482 302L1440 289L1339 257L1459 267L1460 258L1416 240L1467 245L1464 250L1464 220L1470 208L1486 229L1471 267L1488 253L1487 249L1482 296L1438 251L1439 268L1470 275L1438 247L1437 274L1456 254L1490 304L1450 212L1475 274L1468 244L1454 230L1480 272L1482 309L1468 245L1484 255L1479 251L1463 278L1417 292L1478 242L1437 262L1486 264L1452 265L1440 282L1438 273L1445 259L1431 289L1463 285L1440 278L1489 241L1417 258L1487 269L1467 255L1400 266L1472 263L1401 223L1478 224L1477 287L1483 252L1431 212L1447 255L1388 220L1486 281L1447 266L1445 307L1474 253L1437 251L1411 281L1434 223L1487 249L1466 260L1410 213L1442 260L1466 246L1436 275L1443 275L1485 278L1202 221L1452 253L1493 240L1482 251L1484 302L1482 219L1467 280L1465 251L1446 249L1468 262L1486 266L1412 304L1480 264L1360 217L1462 267L1469 247L1398 246L1453 264L1489 229L1448 261L1401 258L1430 275L1481 246L1178 257L1460 275L1405 271L1048 320L1443 289L1474 269L1474 271L1468 279L1372 252L1492 254L1442 210L1471 246L1440 290L1376 267L1478 260L1365 258L1483 270L1451 282L1383 197L1431 235L1453 265L1321 288L1363 302L1441 245L1463 243L1456 228L1415 280L1477 258L1479 268L1484 272L1286 261L1417 267L1465 260L1421 227L1449 258L1443 235L1374 255L1447 246L1475 242L1423 269L1410 276L1469 280L1420 290L1455 215L1491 200L1466 251L1383 248L1434 282L1485 238L1452 274L1457 283L1470 274L1456 274L1434 235L1484 269L1403 233L1461 280L1452 251L1314 323L1428 252L1476 252L1459 301L1470 293L1491 292L1485 230L1467 279L1468 217L1451 304L1439 307L1490 266L1478 261L1473 255L1463 218L1392 226L1489 260L1445 297L1456 287L1476 297L1481 244L1473 276L1476 311L1485 239L1317 202L1309 216L1486 267L1441 279L1488 279L1473 301L1478 259L1485 261L1450 241L1376 289L1449 299L1451 279L1441 247L1226 255L1489 292L1421 229L1413 302L1488 299L1271 305L1388 255L1484 268L1441 228L1299 255L1485 236L1485 251L1463 281L1462 273L1461 276L1476 300L1449 277L1478 217L1441 237L1428 247L1473 268L1453 277L1483 258L1473 228L1443 257L1441 291L1450 242L1250 323L1451 237L1414 286L1457 256L1420 259L1439 293L1488 265L1443 293L1439 281L1461 202L1449 240L1449 256L1477 282L1468 272L1489 267L1403 299L1411 241L1486 243L1483 245L1488 215L1427 267L1453 236L1477 250L1470 238L1486 288L1482 267L1438 230L1466 226L1490 250L1473 295L1400 267L1492 263L1471 295L1458 327L1407 252L1453 287L1469 260L1489 218L1438 265L1427 260L1470 283L1431 274L1451 252L1366 312L1477 232L1483 282L1419 255L1467 256L1470 307L1465 312L1477 267L1470 246L1435 243L1466 261L1478 298L1374 227L1476 266L1477 269L1430 254L1445 295L1478 249L1405 274L1463 259L1428 270L1443 279L1476 272L1445 301L1461 282L1412 305L1465 305L1459 291L1480 251L1349 283L1472 241L1452 220L1474 262L1435 285L1473 266L1470 278L1466 234L1475 279L1463 271L1429 258L1481 279L1470 244L1442 293L1472 258L1461 319L1490 243L1455 235L1456 276L1485 231L1431 323L1464 257L1440 253L1246 216L1490 262L1422 281L1472 254L1469 239L1474 261L1434 249L1484 282L1484 285L1443 234L1470 269L1387 256L1491 276L1479 287L1401 275L1472 242L1461 226L1463 246L1460 281L1422 240L1477 276L1478 259L1490 263L1449 269L1459 291L1481 264L1308 305L1416 247L1453 268L1476 276L1460 307L1472 289L1462 223L1466 231L1261 244L1468 270L1481 246L1486 274L1468 239L1458 265L1472 255L1406 272L1444 260L1487 285L1446 285L1455 247L1439 217L1425 225L1444 264L1490 263L1461 297L1458 258L1466 250L1487 299L1411 279L1445 259L1427 263L1450 294L1464 266L1457 221L1445 258L1487 254L1476 227L1451 277L1486 250L1442 232L1474 248L1476 245L1479 278L1469 198L1461 239L1467 250L1470 266L1459 267L1476 244L1480 272L1472 271L1254 260L1477 243L1467 269L1476 264L1423 224L1412 253L1460 280L1470 249L1474 243L1410 312L1454 265L1478 246L1470 264L1417 276L1462 263L1489 290L1482 290L1473 298L1459 249L1482 276L1486 279L1491 240L1471 309L1490 205L1412 239L1467 255L1459 241L1452 291L1385 303L1445 265L1471 272L1429 280L1486 329L1344 264L1425 232L1302 267L1483 279L1452 284L1444 279L1362 270L1483 262L1398 277L1485 238L1484 278L1468 267L1474 269L1454 277L1467 248L1458 267L1453 331L1483 198L1483 267L1328 296L1482 244L1424 292L1489 256L1467 267L1314 257L1470 264L1456 280L1235 264L1457 271L1486 270L1486 288L1455 254L1487 262L1454 240L1458 286L1465 267L1457 301L1418 241L1465 283L1440 226L1090 305L1475 263L1432 273L1430 251L1469 265L1391 244L1479 236L1488 255L1479 253L1489 243L1481 270L1455 265L1395 267L1453 261L1453 250L1451 263L1468 256L1491 241L1460 236L1418 273L1483 295L1491 256L1413 250L1475 277L1488 267L1353 276L1397 274L1481 282L1459 253L1241 264L1439 253L1454 290L1447 274L1165 272L1421 289L1486 235L1282 285L1463 315L1466 284L1461 284L1466 254L1474 227L1490 294L1487 310L1464 231L1461 277L1461 265L1476 225L1396 270L1345 334L1303 282L1450 252L1487 247L1483 289L1431 257L1467 259L1479 281L1241 265L1443 295L1466 287L1484 236L1486 259L1488 275L1476 261L1419 258L1191 262L1491 281L1459 257L1489 256L1435 262L1405 269L1470 243L1478 283L1297 295L1442 258L1467 302L1451 238L1469 265L1429 298L1432 326L1473 265L1488 276L1471 288L1379 256L1375 260L1429 262L1410 212L1473 274L1456 257L1421 244L1477 241L1471 202L1493 252L1449 225L1435 297L1489 253L1378 269L1479 260L1470 253L1422 268L1431 266L1431 270L1279 277L1388 250L1456 270L1274 314L1480 261L1460 290L1429 244L1481 274L1478 267L1279 267L1361 251L1280 277L1476 268L1464 272L1431 253L1450 275L1487 263L1476 250L1486 254L1474 267L1447 244L1423 261L1482 256L1464 254L1493 269L1397 275L1424 275L1190 302L1448 266L1471 228L1492 267L1474 265L1465 266L1457 246L1464 221L1487 240L1475 261L1458 249L1491 240L1416 246L1413 261L1457 271L1477 271L1467 310L1486 245L1472 260L1492 245L1486 254L1480 259L1402 274L1459 278L1467 230L1487 253L1432 305L1454 254L1415 276L1444 260L1299 213L1193 305L1248 282L1344 233L1471 273L1488 261L1479 262L1375 252L1483 230L1483 233L1407 256L1429 267L1450 306L1484 243L1382 270L1446 315L1468 267L1472 277L1421 287L1395 270L1439 285L1468 237L1452 275L1444 271L1359 238L1492 264L1490 206L1400 282L1413 281L1445 307L1234 226L1430 257L1467 279L1374 262L1468 280L1419 266L1421 258L1468 277L1390 232L1411 264L1481 244L1440 314L1483 233L1468 261L1463 274L1475 263L1433 247L1443 298L1491 265L1453 210L1470 296L1445 269L1467 309L1405 282L1480 278L1449 240L1441 285L1431 250L1488 286L1424 258L1329 290L1477 264L1457 306L1471 281L1482 271L1377 249L1488 260L1469 231L1440 250L1216 288L1431 225L1459 270L1432 259L1484 299L1459 295L1458 263L1472 332L1307 254L1477 250L1394 274L1470 275L1440 286L1481 220L1446 290L1493 214L1464 241L1490 283L1490 285L1464 262L1423 229L1488 248L1486 255L1469 260L1140 240L1486 250L1422 258L1450 300L1488 241L1461 290L1460 292L1115 316L1456 254L1359 292L1482 290L1451 272L1464 277L1494 277L1419 263L1462 265L1402 262L1458 274L1477 283L1475 319L1433 271L1472 264L1461 240L1472 274L1389 277L1474 285L1437 272L1486 276L1475 244L1442 235L1378 284L1494 269L1432 283L1460 249L1455 248L1479 306L1486 256L1464 236L1456 248L1479 250L1456 237L1448 278L1291 304L1332 263L1459 288L1413 301L1337 268L1478 260L1473 248L1362 289L1478 270L1485 264L1425 279L1365 248L1470 289L1453 273L1481 264L1475 234L1489 282L1457 222L1458 270L1433 267L1482 265L1467 196L1486 247L1463 247L1352 296L1343 292L1476 247L1267 228L1396 250L1344 206L1470 228L1474 250L1390 305L1462 258L1372 260L1465 238L1494 246L1472 227L1468 241L1475 199L1489 254L1464 256L1472 268L1479 269L1461 279L1487 291L1463 247L1483 217L1450 263L1481 266L1484 284L1341 258L1478 263L1433 276L1468 269L1454 271L1466 265L1453 273L1446 245L1466 295L1474 318L1487 274L1419 273L1411 228L1494 253L1464 278L1477 222L1391 278L1441 236L1479 222L1445 281L1402 271L1440 264L1483 298L1437 310L1493 259L1486 230L1473 318L1283 333L1470 276L1094 241L1464 270L1405 258L1437 275L1486 259L1453 316L1474 255L1439 219L1450 298L1369 239L1481 285L1486 253L1450 255L1485 233L1471 226L1465 234L1469 260L1459 263L1484 260L1427 264L1453 257L1492 285L1387 289L1477 266L1458 239L1467 196L1471 264L1479 305L1362 240L1262 289L1471 246L1460 284L1483 263L1466 211L1472 250L1295 297L1457 233L1399 253L1408 293L1482 249L1454 294L1473 286L1464 280L1082 281L1402 262L1487 229L1417 211L1462 266L1476 235L1410 254L1359 273L1465 284L1444 250L1465 275L1474 254L1448 264L1465 223L1465 246L1421 202L1486 278L1276 311L1485 235L1417 293L1471 240L1466 312L1458 247L1478 279L1407 270L1480 203L1435 258L1476 315L1414 291L1374 283L1397 236L1458 257L1483 278L1479 267L1483 278L1489 258L1438 244L1335 260L1455 278L1420 293L1364 273L1452 264L1467 220L1494 226L1480 232L1484 269L1465 264L1464 301L1469 285L1420 241L1405 268L1461 291L1432 277L1447 318L1489 250L1413 251L1457 281L1490 265L1398 276L1454 260L1419 277L1411 267L1458 254L1475 245L1335 195L1485 226L1481 217L1474 276L1408 284L1439 239L1472 232L1473 258L1457 279L1404 246L1410 244L1483 255L1422 211L1441 291L1456 269L1463 264L1461 327L1466 298L1479 285L1477 279L1471 218L1472 234L1435 274L1253 237L1475 232L1366 234L1282 248L1441 260L1390 269L1153 292L1453 278L1227 259L1488 243L1445 252L1463 255L1448 274L1367 314L1475 236L1415 279L1470 207L1490 276L1447 247L1452 239L1481 255L1455 204L1472 273L1474 258L1473 267L1484 270L1456 255L1472 240L1475 273L1488 314L1434 278L1109 269L1444 256L1465 249L1455 255L1464 252L1479 234L1462 254L1487 248L1224 259L1415 251L1491 284L1465 218L1458 269L1456 310L1474 290L1485 258L1418 281L1472 265L1449 283L1476 302L1395 284L1415 269L1381 257L1486 262L1453 243L1486 257L1472 261L1389 264L1484 298L1466 261L1482 258L1490 238L1423 272L1416 278L1443 261L1488 247L1407 243L1156 267L1477 282L1442 290L1423 271L1443 270L1482 237L1247 341L1475 292L1482 210L1369 242L1451 254L1417 265L1491 247L1480 280L1483 244L1451 259L1482 268L1472 270L1317 320L1431 247L1186 207L1472 231L1375 256L1434 226L1455 258L1487 277L1437 297L1459 270L1482 286L1452 237L1473 241L1406 263L1448 243L1492 274L1476 269L1478 231L1471 247L1469 245L1421 251L1476 286L1453 220L1472 260L1402 324L1447 257L1449 304L1397 246L1463 247L1480 259L1480 267L1458 250L1473 271L1490 238L1191 266L1450 255L1466 249L1394 271L1475 260L1468 282L1452 237L1480 239L1478 291L1428 272L1481 226L1256 289L1453 268L1457 261L1487 280L1429 280L1479 264L1449 260L1376 309L1492 231L1432 301L1458 274L1407 229L1487 246L1367 284L1176 298L1458 282L1486 245L1449 274L1473 269L1437 261L1451 260L1491 289L1455 255L1474 268L1454 254L1155 272L1453 288L1474 250L1409 293L1484 301L1471 227L1446 276L1491 319L1488 293L1489 263L1034 289L1431 261L1447 282L1328 239L1457 223L1462 261L1407 262L1493 257L1412 237L1492 265L1460 245L1472 290L1493 318L1457 248L1436 263L1266 267L1401 265L1475 279L1434 250L1394 246L1440 214L1435 254L1487 249L1464 238L1477 279L1488 219L1445 279L1464 255L1482 285L1481 231L1474 222L1339 284L1456 254L1477 294L1442 267L1460 241L1486 220L1466 238L1469 267L1476 237L1437 208L1474 287L1440 261L1443 286L1475 303L1485 246L1468 210L1471 221L1478 258L1474 286L1466 274L1454 296L1494 251L1453 271L1427 267L1479 286L1484 264L1479 257L1444 263L1378 275L1317 305L1361 254L1481 313L1444 275L1463 273L1218 267L1492 202L1432 256L1468 280L1389 278L1432 241L1459 219L1481 242L1184 216L1472 243L1417 265L1477 288L1457 273L1443 272L1438 252L1474 285L1488 261L1442 253L1491 259L1452 217L1475 266L1476 279L1489 268L1487 261L1437 258L1390 269L1431 240L1319 243L1463 256L1434 243L1393 258L1478 255L1443 262L1484 261L1479 268L1450 251L1447 260L1485 262L1484 292L1482 301L1456 212L1457 284L1454 279L1425 298L1167 261L1419 273L1457 270L1417 294L1467 273L1436 243L1476 257L1466 247L1366 255L1469 281L1438 278L1426 309L1432 262L1357 264L1421 266L1473 239L1456 261L1459 255L1472 284L1416 213L1466 264L1455 259L1492 244L1401 235L1454 274L1373 280L1478 225L1425 246L1494 292L1461 234L1425 231L1249 281L1354 268L1478 286L1452 245L1463 290L1441 221L1422 258L1464 279L1452 258L1449 277L1463 274L1482 260L1422 257L1465 279L1457 269L1475 254L1477 304L1482 293L1250 257L1466 234L1458 270L1457 280L1363 295L1460 322L1480 217L1485 250L1478 319L1361 270L1444 235L1464 269L1486 261L1080 261L1461 243L1472 266L1453 212L1432 254L1210 245L1485 263L1451 260L1488 332L1372 305L1476 241L1485 307L1423 225L1445 274L1427 289L1389 211L1390 276L1416 254L1406 269L1413 232L1473 310L1464 261L1457 240L1475 269L1437 275L1464 245L1454 262L1493 237L1387 254L1486 266L1483 284L1470 271L1460 268L1488 222L1462 271L1487 286L1456 243L1438 253L1456 221L1478 239L1432 278L1437 232L1482 261L1401 273L1449 253L1463 269L1265 244L1463 276L1462 285L1489 259L1351 245L1462 218L1461 245L1484 244L1093 318L1431 295L1449 267L1421 237L1399 302L1488 245L1445 269L1354 288L1443 236L1484 256L1470 257L1373 278L1436 240L1404 269L1437 270L1476 279L1477 253L1261 268L1439 299L1440 264L1472 331L1475 238L1477 275L1484 210L1363 280L1457 256L1474 319L1486 259L1487 265L1473 292L1402 268L1462 238L1463 289L1481 292L1478 275L1477 262L1469 267L1366 255L1068 280L1474 256L1481 226L1454 280L1462 262L1447 201L1481 227L1443 218L1424 223L1473 250L1487 257L1441 288L1449 235L1468 294L1451 311L1346 284L1457 261L1452 251L1442 252L1468 277L1457 207L1337 219L1418 283L1138 306L1445 289L1454 210L1461 272L1492 276L1465 316L1488 249L1462 232L1442 272L1458 261L1482 257L1453 244L1477 259L1463 275L1412 263L1465 220L1450 263L1450 260L1456 222L1462 285L1474 271L1463 307L1285 321L1450 223L1421 258L1479 283L1203 294L1315 244L1374 263L1484 225L1385 294L1481 274L1482 227L1444 281L1477 245L1353 260L1284 280L1354 241L1463 251L1473 227L1418 246L1454 302L1462 275L1395 282L1440 249L1459 261L1070 288L1427 242L1434 258L1421 248L1468 254L1449 254L1487 284L1483 253L1488 279L1453 258L1440 304L1455 234L1462 268L1433 319L1486 243L1467 293L1279 255L1446 267L1494 258L1413 271L1477 226L1415 288L1450 223L1477 232L1486 266L1492 249L1376 303L1486 288L1380 259L1476 240L1387 238L1452 265L1470 290L1448 272L1480 232L1470 289L1462 247L1452 273L1457 264L1439 246L1419 255L1460 281L1466 240L1467 265L1472 236L1474 275L1483 264L1393 262L1456 260L1424 236L1463 249L1481 297L1478 274L1305 292L1481 250L1393 259L1475 262L1407 302L1468 227L1442 232L1460 261L1438 247L1464 274L1476 288L1478 261L1463 286L1318 259L1447 302L1447 316L1484 213L1420 249L1488 262L1289 290L1481 272L1444 264L1477 275L1472 267L1459 291L1299 324L1484 259L1460 264L1442 269L1430 296L1459 278L1430 282"/>
<path d="M993.5 279.1L1492.3 259.1L1492.3 263.1L993.5 289.1Z" fill="#E8485A" fill-opacity="0.45"/>
<line x1="993.5" y1="284.1" x2="1492.3" y2="261.1" stroke="#E41A1C" stroke-width="2"/>
<circle cx="1404.3" cy="85.3" r="2.3"/>
<circle cx="1387.4" cy="382.1" r="2.3"/>
<circle cx="1458.5" cy="371.5" r="2.3"/>
<circle cx="1461.9" cy="375.1" r="2.3"/>
<circle cx="1089.6" cy="338" r="2.3"/>
<text x="1541.5" y="34" font-size="46" stroke="#000" stroke-width="0.8">c</text>
<line x1="1650" y1="43" x2="1650" y2="394.5" stroke="#222" stroke-width="1.2"/>
<line x1="1649.4" y1="394" x2="2090" y2="394" stroke="#222" stroke-width="1.2"/>
<line x1="1645.5" y1="57.6" x2="1650" y2="57.6" stroke="#222" stroke-width="1.2"/>
<text x="1645" y="67.6" font-size="28" text-anchor="end">2<tspan font-size="17.4" dy="-11.8">0</tspan></text>
<line x1="1645.5" y1="119.7" x2="1650" y2="119.7" stroke="#222" stroke-width="1.2"/>
<text x="1645" y="129.7" font-size="28" text-anchor="end">2<tspan font-size="17.4" dy="-11.8">-1</tspan></text>
<line x1="1645.5" y1="181.8" x2="1650" y2="181.8" stroke="#222" stroke-width="1.2"/>
<text x="1645" y="191.8" font-size="28" text-anchor="end">2<tspan font-size="17.4" dy="-11.8">-2</tspan></text>
<line x1="1645.5" y1="243.9" x2="1650" y2="243.9" stroke="#222" stroke-width="1.2"/>
<text x="1645" y="253.9" font-size="28" text-anchor="end">2<tspan font-size="17.4" dy="-11.8">-3</tspan></text>
<line x1="1645.5" y1="306" x2="1650" y2="306" stroke="#222" stroke-width="1.2"/>
<text x="1645" y="316" font-size="28" text-anchor="end">2<tspan font-size="17.4" dy="-11.8">-4</tspan></text>
<line x1="1645.5" y1="368.1" x2="1650" y2="368.1" stroke="#222" stroke-width="1.2"/>
<text x="1645" y="378.1" font-size="28" text-anchor="end">2<tspan font-size="17.4" dy="-11.8">-5</tspan></text>
<text x="1802" y="66" font-size="27.7" text-anchor="middle">Wilcoxon, p &lt; 2.2e−16</text>
<text x="1602" y="220" font-size="24" text-anchor="middle" font-weight="bold" transform="rotate(-90 1602 220)">Uniqueness</text>
<line x1="1769.6" y1="394" x2="1769.6" y2="398.5" stroke="#222" stroke-width="1.2"/>
<text x="1774.6" y="420" font-size="25.3" text-anchor="middle">Between</text>
<line x1="1964.8" y1="394" x2="1964.8" y2="398.5" stroke="#222" stroke-width="1.2"/>
<text x="1969.8" y="420" font-size="25.3" text-anchor="middle">Within</text>
<line x1="1769.6" y1="221" x2="1769.6" y2="267.8" stroke="#D9473A" stroke-width="1.4"/>
<line x1="1769.6" y1="297.9" x2="1769.6" y2="334.8" stroke="#D9473A" stroke-width="1.4"/>
<rect x="1699.7" y="267.8" width="139.9" height="30.1" fill="#fff" stroke="#D9473A" stroke-width="1.5"/>
<line x1="1699.7" y1="283.9" x2="1839.6" y2="283.9" stroke="#D9473A" stroke-width="2.2"/>
<circle cx="1769.6" cy="220.9" r="2.4" fill="#D9473A"/>
<circle cx="1769.6" cy="215.3" r="2.4" fill="#D9473A"/>
<circle cx="1769.6" cy="210.3" r="2.4" fill="#D9473A"/>
<circle cx="1769.6" cy="190.6" r="2.4" fill="#D9473A"/>
<circle cx="1769.6" cy="190.7" r="2.4" fill="#D9473A"/>
<circle cx="1769.6" cy="206.1" r="2.4" fill="#D9473A"/>
<circle cx="1769.6" cy="200.2" r="2.4" fill="#D9473A"/>
<circle cx="1769.6" cy="188.7" r="2.4" fill="#D9473A"/>
<circle cx="1769.6" cy="187.1" r="2.4" fill="#D9473A"/>
<circle cx="1769.6" cy="202.3" r="2.4" fill="#D9473A"/>
<circle cx="1769.6" cy="217.3" r="2.4" fill="#D9473A"/>
<circle cx="1769.6" cy="192.8" r="2.4" fill="#D9473A"/>
<circle cx="1769.6" cy="195.9" r="2.4" fill="#D9473A"/>
<circle cx="1769.6" cy="176.4" r="2.4" fill="#D9473A"/>
<circle cx="1769.6" cy="207.1" r="2.4" fill="#D9473A"/>
<circle cx="1769.6" cy="191.5" r="2.4" fill="#D9473A"/>
<circle cx="1769.6" cy="177.9" r="2.4" fill="#D9473A"/>
<circle cx="1769.6" cy="201.3" r="2.4" fill="#D9473A"/>
<circle cx="1769.6" cy="192.5" r="2.4" fill="#D9473A"/>
<circle cx="1769.6" cy="200.1" r="2.4" fill="#D9473A"/>
<circle cx="1769.6" cy="192.3" r="2.4" fill="#D9473A"/>
<circle cx="1769.6" cy="181.9" r="2.4" fill="#D9473A"/>
<circle cx="1769.6" cy="194.2" r="2.4" fill="#D9473A"/>
<circle cx="1769.6" cy="180.3" r="2.4" fill="#D9473A"/>
<circle cx="1769.6" cy="215.3" r="2.4" fill="#D9473A"/>
<circle cx="1769.6" cy="185.4" r="2.4" fill="#D9473A"/>
<circle cx="1769.6" cy="187.3" r="2.4" fill="#D9473A"/>
<circle cx="1769.6" cy="198" r="2.4" fill="#D9473A"/>
<circle cx="1769.6" cy="199.3" r="2.4" fill="#D9473A"/>
<circle cx="1769.6" cy="181.1" r="2.4" fill="#D9473A"/>
<circle cx="1769.6" cy="190.8" r="2.4" fill="#D9473A"/>
<circle cx="1769.6" cy="211.5" r="2.4" fill="#D9473A"/>
<circle cx="1769.6" cy="180.8" r="2.4" fill="#D9473A"/>
<circle cx="1769.6" cy="217.9" r="2.4" fill="#D9473A"/>
<circle cx="1769.6" cy="193.1" r="2.4" fill="#D9473A"/>
<circle cx="1769.6" cy="208.4" r="2.4" fill="#D9473A"/>
<circle cx="1769.6" cy="213.1" r="2.4" fill="#D9473A"/>
<circle cx="1769.6" cy="213.9" r="2.4" fill="#D9473A"/>
<circle cx="1769.6" cy="179.6" r="2.4" fill="#D9473A"/>
<circle cx="1769.6" cy="195.6" r="2.4" fill="#D9473A"/>
<circle cx="1769.6" cy="140.6" r="2.4" fill="#D9473A"/>
<circle cx="1769.6" cy="159" r="2.4" fill="#D9473A"/>
<circle cx="1769.6" cy="175.7" r="2.4" fill="#D9473A"/>
<circle cx="1769.6" cy="177" r="2.4" fill="#D9473A"/>
<circle cx="1769.6" cy="182.5" r="2.4" fill="#D9473A"/>
<circle cx="1769.6" cy="186" r="2.4" fill="#D9473A"/>
<circle cx="1769.6" cy="351.5" r="2.4" fill="#D9473A"/>
<circle cx="1769.6" cy="354" r="2.4" fill="#D9473A"/>
<circle cx="1769.6" cy="357" r="2.4" fill="#D9473A"/>
<circle cx="1769.6" cy="368.2" r="2.4" fill="#D9473A"/>
<line x1="1969.8" y1="210.9" x2="1969.8" y2="277.2" stroke="#5DC1CF" stroke-width="1.4"/>
<line x1="1969.8" y1="321.4" x2="1969.8" y2="378.3" stroke="#5DC1CF" stroke-width="1.4"/>
<rect x="1899.9" y="277.2" width="139.9" height="44.2" fill="#fff" stroke="#5DC1CF" stroke-width="1.5"/>
<line x1="1899.9" y1="298.9" x2="2039.8" y2="298.9" stroke="#40A9B5" stroke-width="2.2"/>
<circle cx="1969.8" cy="60.3" r="2.4" fill="#5DC1CF"/>
<circle cx="1969.8" cy="87.7" r="2.4" fill="#5DC1CF"/>
<circle cx="1969.8" cy="103.1" r="2.4" fill="#5DC1CF"/>
<circle cx="1969.8" cy="140.6" r="2.4" fill="#5DC1CF"/>
<circle cx="1969.8" cy="164" r="2.4" fill="#5DC1CF"/>
<circle cx="1969.8" cy="170" r="2.4" fill="#5DC1CF"/>
<circle cx="1969.8" cy="172" r="2.4" fill="#5DC1CF"/>
<circle cx="1969.8" cy="174" r="2.4" fill="#5DC1CF"/>
<circle cx="1969.8" cy="176" r="2.4" fill="#5DC1CF"/>
<circle cx="1969.8" cy="183.5" r="2.4" fill="#5DC1CF"/>
<circle cx="1969.8" cy="190" r="2.4" fill="#5DC1CF"/>
<circle cx="1969.8" cy="192" r="2.4" fill="#5DC1CF"/>
<circle cx="1969.8" cy="195" r="2.4" fill="#5DC1CF"/>
<circle cx="1969.8" cy="197" r="2.4" fill="#5DC1CF"/>
<circle cx="1969.8" cy="199" r="2.4" fill="#5DC1CF"/>
<circle cx="1969.8" cy="201" r="2.4" fill="#5DC1CF"/>
<circle cx="1969.8" cy="204" r="2.4" fill="#5DC1CF"/>
<circle cx="1969.8" cy="207" r="2.4" fill="#5DC1CF"/>
<text x="10.5" y="540" font-size="46" stroke="#000" stroke-width="0.8">d</text>
<line x1="120.2" y1="532" x2="120.2" y2="998" stroke="#DCDCDC" stroke-width="1.1"/>
<line x1="235" y1="532" x2="235" y2="998" stroke="#DCDCDC" stroke-width="1.1"/>
<line x1="349.8" y1="532" x2="349.8" y2="998" stroke="#DCDCDC" stroke-width="1.1"/>
<line x1="464.6" y1="532" x2="464.6" y2="998" stroke="#DCDCDC" stroke-width="1.1"/>
<line x1="42.5" y1="651" x2="547" y2="651" stroke="#D9D9D9" stroke-width="1.6"/>
<line x1="42.5" y1="732" x2="547" y2="732" stroke="#D9D9D9" stroke-width="1.6"/>
<line x1="42.5" y1="812.6" x2="547" y2="812.6" stroke="#D9D9D9" stroke-width="1.6"/>
<line x1="42.5" y1="893.6" x2="547" y2="893.6" stroke="#D9D9D9" stroke-width="1.6"/>
<line x1="42.5" y1="974.4" x2="547" y2="974.4" stroke="#D9D9D9" stroke-width="1.6"/>
<path d="M68.8 651L69.9 651L71.1 651L72.2 651L73.4 651L74.5 651L75.7 651L76.8 651L77.9 651L79.1 651L80.2 651L81.4 651L82.5 651L83.6 651L84.8 651L85.9 651L87.1 651L88.2 651L89.4 651L90.5 651L91.6 651L92.8 651L93.9 651L95.1 651L96.2 651L97.4 651L98.5 651L99.6 651L100.8 651L101.9 651L103.1 651L104.2 651L105.3 651L106.5 651L107.6 651L108.8 651L109.9 651L111.1 651L112.2 651L113.3 651L114.5 651L115.6 651L116.8 651L117.9 651L119.1 651L120.2 651L121.3 651L122.5 651L123.6 651L124.8 651L125.9 651L127 651L128.2 651L129.3 651L130.5 651L131.6 651L132.8 651L133.9 651L135 651L136.2 651L137.3 651L138.5 651L139.6 651L140.8 651L141.9 651L143 651L144.2 651L145.3 651L146.5 651L147.6 651L148.7 651L149.9 651L151 651L152.2 651L153.3 651L154.5 650.9L155.6 650.9L156.7 650.9L157.9 650.9L159 650.9L160.2 650.9L161.3 650.9L162.5 650.9L163.6 650.9L164.7 650.9L165.9 650.9L167 650.9L168.2 650.9L169.3 650.9L170.4 650.9L171.6 650.9L172.7 650.9L173.9 650.9L175 650.9L176.2 650.9L177.3 650.9L178.4 650.9L179.6 650.9L180.7 650.9L181.9 650.9L183 650.9L184.2 650.9L185.3 650.9L186.4 650.9L187.6 650.9L188.7 650.9L189.9 650.9L191 650.9L192.1 650.9L193.3 650.9L194.4 650.9L195.6 650.9L196.7 650.9L197.9 650.9L199 650.9L200.1 650.9L201.3 650.8L202.4 650.8L203.6 650.8L204.7 650.8L205.9 650.8L207 650.8L208.1 650.8L209.3 650.8L210.4 650.8L211.6 650.8L212.7 650.8L213.8 650.8L215 650.8L216.1 650.8L217.3 650.8L218.4 650.8L219.6 650.8L220.7 650.8L221.8 650.8L223 650.8L224.1 650.8L225.3 650.8L226.4 650.8L227.6 650.8L228.7 650.7L229.8 650.7L231 650.7L232.1 650.7L233.3 650.7L234.4 650.7L235.5 650.7L236.7 650.7L237.8 650.7L239 650.7L240.1 650.7L241.3 650.7L242.4 650.6L243.5 650.5L244.7 650.4L245.8 650.3L247 650.1L248.1 649.9L249.3 649.8L250.4 649.6L251.5 649.5L252.7 649.4L253.8 649.2L255 649.2L256.1 649.1L257.2 649.1L258.4 649.1L259.5 649.2L260.7 649.3L261.8 649.4L263 649.6L264.1 649.7L265.2 649.9L266.4 650.1L267.5 650.2L268.7 650.4L269.8 650.5L271 650.7L272.1 650.7L273.2 650.8L274.4 650.8L275.5 650.8L276.7 650.8L277.8 650.8L278.9 650.7L280.1 650.7L281.2 650.7L282.4 650.6L283.5 650.6L284.7 650.5L285.8 650.5L286.9 650.4L288.1 650.3L289.2 650.3L290.4 650.2L291.5 650.1L292.7 650L293.8 650L294.9 649.9L296.1 649.8L297.2 649.7L298.4 649.6L299.5 649.5L300.6 649.4L301.8 649.3L302.9 649.2L304.1 649.1L305.2 648.9L306.4 648.8L307.5 648.6L308.6 648.5L309.8 648.3L310.9 648.1L312.1 648L313.2 647.8L314.4 647.7L315.5 647.5L316.6 647.4L317.8 647.3L318.9 647.2L320.1 647.1L321.2 646.9L322.3 646.8L323.5 646.7L324.6 646.6L325.8 646.5L326.9 646.4L328.1 646.3L329.2 646.3L330.3 646.2L331.5 646.2L332.6 646.2L333.8 646.3L334.9 646.4L336.1 646.5L337.2 646.6L338.3 646.8L339.5 647L340.6 647.2L341.8 647.3L342.9 647.4L344 647.5L345.2 647.6L346.3 647.6L347.5 647.3L348.6 646.9L349.8 646.3L350.9 645.8L352 645.3L353.2 644.8L354.3 644.3L355.5 643.7L356.6 643.2L357.8 642.6L358.9 642L360 641.3L361.2 640.7L362.3 640L363.5 639.2L364.6 638.5L365.7 637.7L366.9 636.8L368 636L369.2 634.9L370.3 633.6L371.5 632L372.6 630.3L373.7 628.5L374.9 626.7L376 625L377.2 623.5L378.3 622.1L379.5 621.1L380.6 620.5L381.7 620.3L382.9 620.3L384 620.4L385.2 620.5L386.3 620.6L387.4 620.8L388.6 621.4L389.7 622.2L390.9 623.1L392 624L393.2 624.6L394.3 624.9L395.4 624.7L396.6 624L397.7 623L398.9 621.8L400 620.4L401.2 619L402.3 617.7L403.4 616.7L404.6 615.9L405.7 615.2L406.9 614.6L408 614L409.1 613.4L410.3 612.9L411.4 612.2L412.6 611.5L413.7 610.6L414.9 609.6L416 608.3L417.1 606.7L418.3 605L419.4 603.2L420.6 601.2L421.7 599.2L422.9 597.3L424 595.3L425.1 593.5L426.3 591.8L427.4 590L428.6 588.2L429.7 586.3L430.8 584.1L432 581.7L433.1 578.8L434.3 574.9L435.4 570.2L436.6 565.1L437.7 560.1L438.8 554.7L440 548.4L441.1 542.4L442.3 537.8L443.4 535.7L444.6 534.3L445.7 533.3L446.8 532.8L448 532.8L449.1 533.5L450.3 534.7L451.4 536.1L452.5 538.2L453.7 541.6L454.8 545.7L456 550.1L457.1 554.3L458.3 559L459.4 564.1L460.5 569.2L461.7 574.1L462.8 578.9L464 583.6L465.1 588.2L466.3 592.8L467.4 597.3L468.5 601.7L469.7 606L470.8 610.2L472 614.4L473.1 618.5L474.2 622.3L475.4 625.8L476.5 629.1L477.7 632.5L478.8 635.7L480 638.6L481.1 641L482.2 642.9L483.4 644.3L484.5 645.6L485.7 646.9L486.8 647.9L488 648.9L489.1 649.6L490.2 650L491.4 650.3L492.5 650.5L493.7 650.7L494.8 650.9L495.9 651L497.1 651L498.2 651L499.4 651L500.5 651L501.7 651L502.8 651L503.9 651L505.1 651L506.2 651L507.4 651L508.5 651L509.7 651L510.8 651L511.9 651L513.1 651L514.2 651L515.4 651L516.5 651L517.6 651L518.8 651L519.9 651L521.1 651L522.2 651L523.4 651L524.5 651L524.5 651L68.8 651Z" fill="#E8473A"/>
<path d="M68.8 651L69.9 651L71.1 651L72.2 651L73.4 651L74.5 651L75.7 651L76.8 651L77.9 651L79.1 651L80.2 651L81.4 651L82.5 651L83.6 651L84.8 651L85.9 651L87.1 651L88.2 651L89.4 651L90.5 651L91.6 651L92.8 651L93.9 651L95.1 651L96.2 651L97.4 651L98.5 651L99.6 651L100.8 651L101.9 651L103.1 651L104.2 651L105.3 651L106.5 651L107.6 651L108.8 651L109.9 651L111.1 651L112.2 651L113.3 651L114.5 651L115.6 651L116.8 651L117.9 651L119.1 651L120.2 651L121.3 651L122.5 651L123.6 651L124.8 651L125.9 651L127 651L128.2 651L129.3 651L130.5 651L131.6 651L132.8 651L133.9 651L135 651L136.2 651L137.3 651L138.5 651L139.6 651L140.8 651L141.9 651L143 651L144.2 651L145.3 651L146.5 651L147.6 651L148.7 651L149.9 651L151 651L152.2 651L153.3 651L154.5 650.9L155.6 650.9L156.7 650.9L157.9 650.9L159 650.9L160.2 650.9L161.3 650.9L162.5 650.9L163.6 650.9L164.7 650.9L165.9 650.9L167 650.9L168.2 650.9L169.3 650.9L170.4 650.9L171.6 650.9L172.7 650.9L173.9 650.9L175 650.9L176.2 650.9L177.3 650.9L178.4 650.9L179.6 650.9L180.7 650.9L181.9 650.9L183 650.9L184.2 650.9L185.3 650.9L186.4 650.9L187.6 650.9L188.7 650.9L189.9 650.9L191 650.9L192.1 650.9L193.3 650.9L194.4 650.9L195.6 650.9L196.7 650.9L197.9 650.9L199 650.9L200.1 650.9L201.3 650.8L202.4 650.8L203.6 650.8L204.7 650.8L205.9 650.8L207 650.8L208.1 650.8L209.3 650.8L210.4 650.8L211.6 650.8L212.7 650.8L213.8 650.8L215 650.8L216.1 650.8L217.3 650.8L218.4 650.8L219.6 650.8L220.7 650.8L221.8 650.8L223 650.8L224.1 650.8L225.3 650.8L226.4 650.8L227.6 650.8L228.7 650.7L229.8 650.7L231 650.7L232.1 650.7L233.3 650.7L234.4 650.7L235.5 650.7L236.7 650.7L237.8 650.7L239 650.7L240.1 650.7L241.3 650.7L242.4 650.6L243.5 650.5L244.7 650.4L245.8 650.3L247 650.1L248.1 649.9L249.3 649.8L250.4 649.6L251.5 649.5L252.7 649.4L253.8 649.2L255 649.2L256.1 649.1L257.2 649.1L258.4 649.1L259.5 649.2L260.7 649.3L261.8 649.4L263 649.6L264.1 649.7L265.2 649.9L266.4 650.1L267.5 650.2L268.7 650.4L269.8 650.5L271 650.7L272.1 650.7L273.2 650.8L274.4 650.8L275.5 650.8L276.7 650.8L277.8 650.8L278.9 650.7L280.1 650.7L281.2 650.7L282.4 650.6L283.5 650.6L284.7 650.5L285.8 650.5L286.9 650.4L288.1 650.3L289.2 650.3L290.4 650.2L291.5 650.1L292.7 650L293.8 650L294.9 649.9L296.1 649.8L297.2 649.7L298.4 649.6L299.5 649.5L300.6 649.4L301.8 649.3L302.9 649.2L304.1 649.1L305.2 648.9L306.4 648.8L307.5 648.6L308.6 648.5L309.8 648.3L310.9 648.1L312.1 648L313.2 647.8L314.4 647.7L315.5 647.5L316.6 647.4L317.8 647.3L318.9 647.2L320.1 647.1L321.2 646.9L322.3 646.8L323.5 646.7L324.6 646.6L325.8 646.5L326.9 646.4L328.1 646.3L329.2 646.3L330.3 646.2L331.5 646.2L332.6 646.2L333.8 646.3L334.9 646.4L336.1 646.5L337.2 646.6L338.3 646.8L339.5 647L340.6 647.2L341.8 647.3L342.9 647.4L344 647.5L345.2 647.6L346.3 647.6L347.5 647.3L348.6 646.9L349.8 646.3L350.9 645.8L352 645.3L353.2 644.8L354.3 644.3L355.5 643.7L356.6 643.2L357.8 642.6L358.9 642L360 641.3L361.2 640.7L362.3 640L363.5 639.2L364.6 638.5L365.7 637.7L366.9 636.8L368 636L369.2 634.9L370.3 633.6L371.5 632L372.6 630.3L373.7 628.5L374.9 626.7L376 625L377.2 623.5L378.3 622.1L379.5 621.1L380.6 620.5L381.7 620.3L382.9 620.3L384 620.4L385.2 620.5L386.3 620.6L387.4 620.8L388.6 621.4L389.7 622.2L390.9 623.1L392 624L393.2 624.6L394.3 624.9L395.4 624.7L396.6 624L397.7 623L398.9 621.8L400 620.4L401.2 619L402.3 617.7L403.4 616.7L404.6 615.9L405.7 615.2L406.9 614.6L408 614L409.1 613.4L410.3 612.9L411.4 612.2L412.6 611.5L413.7 610.6L414.9 609.6L416 608.3L417.1 606.7L418.3 605L419.4 603.2L420.6 601.2L421.7 599.2L422.9 597.3L424 595.3L425.1 593.5L426.3 591.8L427.4 590L428.6 588.2L429.7 586.3L430.8 584.1L432 581.7L433.1 578.8L434.3 574.9L435.4 570.2L436.6 565.1L437.7 560.1L438.8 554.7L440 548.4L441.1 542.4L442.3 537.8L443.4 535.7L444.6 534.3L445.7 533.3L446.8 532.8L448 532.8L449.1 533.5L450.3 534.7L451.4 536.1L452.5 538.2L453.7 541.6L454.8 545.7L456 550.1L457.1 554.3L458.3 559L459.4 564.1L460.5 569.2L461.7 574.1L462.8 578.9L464 583.6L465.1 588.2L466.3 592.8L467.4 597.3L468.5 601.7L469.7 606L470.8 610.2L472 614.4L473.1 618.5L474.2 622.3L475.4 625.8L476.5 629.1L477.7 632.5L478.8 635.7L480 638.6L481.1 641L482.2 642.9L483.4 644.3L484.5 645.6L485.7 646.9L486.8 647.9L488 648.9L489.1 649.6L490.2 650L491.4 650.3L492.5 650.5L493.7 650.7L494.8 650.9L495.9 651L497.1 651L498.2 651L499.4 651L500.5 651L501.7 651L502.8 651L503.9 651L505.1 651L506.2 651L507.4 651L508.5 651L509.7 651L510.8 651L511.9 651L513.1 651L514.2 651L515.4 651L516.5 651L517.6 651L518.8 651L519.9 651L521.1 651L522.2 651L523.4 651L524.5 651" fill="none" stroke="#000" stroke-width="1.6"/>
<path d="M68.8 732L69.9 732L71.1 732L72.2 732L73.4 732L74.5 732L75.7 732L76.8 731.9L77.9 731.9L79.1 731.8L80.2 731.6L81.4 731.5L82.5 731.3L83.6 731.2L84.8 731.1L85.9 730.9L87.1 730.8L88.2 730.8L89.4 730.7L90.5 730.7L91.6 730.8L92.8 730.9L93.9 731.1L95.1 731.3L96.2 731.4L97.4 731.6L98.5 731.7L99.6 731.8L100.8 731.8L101.9 731.8L103.1 731.8L104.2 731.8L105.3 731.8L106.5 731.8L107.6 731.8L108.8 731.8L109.9 731.8L111.1 731.8L112.2 731.8L113.3 731.8L114.5 731.8L115.6 731.8L116.8 731.8L117.9 731.8L119.1 731.8L120.2 731.8L121.3 731.8L122.5 731.8L123.6 731.8L124.8 731.8L125.9 731.8L127 731.8L128.2 731.8L129.3 731.8L130.5 731.8L131.6 731.7L132.8 731.7L133.9 731.7L135 731.7L136.2 731.7L137.3 731.7L138.5 731.7L139.6 731.7L140.8 731.7L141.9 731.7L143 731.7L144.2 731.7L145.3 731.7L146.5 731.7L147.6 731.7L148.7 731.7L149.9 731.7L151 731.7L152.2 731.7L153.3 731.7L154.5 731.7L155.6 731.7L156.7 731.7L157.9 731.7L159 731.7L160.2 731.6L161.3 731.6L162.5 731.6L163.6 731.6L164.7 731.6L165.9 731.6L167 731.6L168.2 731.6L169.3 731.6L170.4 731.6L171.6 731.6L172.7 731.6L173.9 731.6L175 731.6L176.2 731.6L177.3 731.6L178.4 731.6L179.6 731.6L180.7 731.6L181.9 731.6L183 731.6L184.2 731.6L185.3 731.5L186.4 731.5L187.6 731.5L188.7 731.5L189.9 731.5L191 731.5L192.1 731.5L193.3 731.5L194.4 731.5L195.6 731.5L196.7 731.5L197.9 731.5L199 731.5L200.1 731.5L201.3 731.5L202.4 731.5L203.6 731.5L204.7 731.5L205.9 731.5L207 731.5L208.1 731.5L209.3 731.5L210.4 731.5L211.6 731.5L212.7 731.5L213.8 731.5L215 731.5L216.1 731.5L217.3 731.5L218.4 731.5L219.6 731.4L220.7 731.4L221.8 731.4L223 731.4L224.1 731.4L225.3 731.4L226.4 731.4L227.6 731.4L228.7 731.4L229.8 731.4L231 731.4L232.1 731.4L233.3 731.4L234.4 731.4L235.5 731.4L236.7 731.4L237.8 731.4L239 731.4L240.1 731.4L241.3 731.4L242.4 731.4L243.5 731.4L244.7 731.4L245.8 731.4L247 731.4L248.1 731.4L249.3 731.4L250.4 731.4L251.5 731.4L252.7 731.4L253.8 731.4L255 731.4L256.1 731.4L257.2 731.4L258.4 731.4L259.5 731.4L260.7 731.4L261.8 731.4L263 731.3L264.1 731.3L265.2 731.3L266.4 731.3L267.5 731.3L268.7 731.3L269.8 731.3L271 731.3L272.1 731.3L273.2 731.3L274.4 731.3L275.5 731.3L276.7 731.3L277.8 731.3L278.9 731.3L280.1 731.3L281.2 731.3L282.4 731.3L283.5 731.3L284.7 731.3L285.8 731.3L286.9 731.3L288.1 731.3L289.2 731.3L290.4 731.2L291.5 731.2L292.7 731.2L293.8 731.2L294.9 731.2L296.1 731.2L297.2 731.2L298.4 731.2L299.5 731.2L300.6 731.2L301.8 731.2L302.9 731.2L304.1 731.2L305.2 731.2L306.4 731.2L307.5 731.1L308.6 731.1L309.8 731.1L310.9 731.1L312.1 731.1L313.2 731.1L314.4 731.1L315.5 731.1L316.6 731L317.8 731L318.9 731L320.1 731L321.2 731L322.3 730.9L323.5 730.9L324.6 730.9L325.8 730.9L326.9 730.9L328.1 730.8L329.2 730.8L330.3 730.8L331.5 730.8L332.6 730.7L333.8 730.7L334.9 730.7L336.1 730.6L337.2 730.6L338.3 730.5L339.5 730.5L340.6 730.4L341.8 730.3L342.9 730.3L344 730.2L345.2 730.1L346.3 730L347.5 729.9L348.6 729.8L349.8 729.7L350.9 729.6L352 729.4L353.2 729.3L354.3 729.2L355.5 729L356.6 728.9L357.8 728.7L358.9 728.6L360 728.4L361.2 728.2L362.3 727.9L363.5 727.7L364.6 727.3L365.7 727L366.9 726.6L368 726.2L369.2 725.8L370.3 725.3L371.5 724.7L372.6 724.1L373.7 723.3L374.9 722.5L376 721.7L377.2 720.8L378.3 719.9L379.5 719L380.6 718.1L381.7 717.2L382.9 716.2L384 715.1L385.2 714L386.3 712.8L387.4 711.7L388.6 710.6L389.7 709.4L390.9 708.3L392 707.2L393.2 706.2L394.3 705.2L395.4 704.3L396.6 703.3L397.7 702.4L398.9 701.5L400 700.6L401.2 699.7L402.3 698.8L403.4 698L404.6 697.1L405.7 696.2L406.9 695.3L408 694.4L409.1 693.5L410.3 692.6L411.4 691.6L412.6 690.7L413.7 689.9L414.9 689L416 688.1L417.1 687.2L418.3 686.3L419.4 685.2L420.6 684.1L421.7 682.9L422.9 681.6L424 680L425.1 678.2L426.3 676.1L427.4 673.9L428.6 671.3L429.7 668.2L430.8 664.7L432 661.1L433.1 657.4L434.3 653.7L435.4 650L436.6 646L437.7 641.8L438.8 637.8L440 634.2L441.1 631.3L442.3 628.9L443.4 626.6L444.6 624.6L445.7 623L446.8 621.8L448 621.1L449.1 620.5L450.3 620.1L451.4 619.8L452.5 619.8L453.7 620.2L454.8 620.8L456 621.7L457.1 622.8L458.3 624L459.4 625.9L460.5 629L461.7 632.9L462.8 637.2L464 641.7L465.1 645.9L466.3 649.9L467.4 654L468.5 658.3L469.7 662.6L470.8 666.9L472 671L473.1 675L474.2 678.8L475.4 682.6L476.5 686.3L477.7 689.9L478.8 693.4L480 696.8L481.1 699.8L482.2 702.6L483.4 705.2L484.5 707.6L485.7 710L486.8 712.2L488 714.3L489.1 716.3L490.2 718.1L491.4 719.8L492.5 721.3L493.7 722.8L494.8 724.2L495.9 725.6L497.1 726.8L498.2 727.9L499.4 728.9L500.5 729.6L501.7 730.1L502.8 730.5L503.9 730.9L505.1 731.2L506.2 731.5L507.4 731.7L508.5 731.7L509.7 731.8L510.8 731.8L511.9 731.8L513.1 731.9L514.2 731.9L515.4 731.9L516.5 731.9L517.6 732L518.8 732L519.9 732L521.1 732L522.2 732L523.4 732L524.5 732L524.5 732L68.8 732Z" fill="#5FC6D6"/>
<path d="M68.8 732L69.9 732L71.1 732L72.2 732L73.4 732L74.5 732L75.7 732L76.8 731.9L77.9 731.9L79.1 731.8L80.2 731.6L81.4 731.5L82.5 731.3L83.6 731.2L84.8 731.1L85.9 730.9L87.1 730.8L88.2 730.8L89.4 730.7L90.5 730.7L91.6 730.8L92.8 730.9L93.9 731.1L95.1 731.3L96.2 731.4L97.4 731.6L98.5 731.7L99.6 731.8L100.8 731.8L101.9 731.8L103.1 731.8L104.2 731.8L105.3 731.8L106.5 731.8L107.6 731.8L108.8 731.8L109.9 731.8L111.1 731.8L112.2 731.8L113.3 731.8L114.5 731.8L115.6 731.8L116.8 731.8L117.9 731.8L119.1 731.8L120.2 731.8L121.3 731.8L122.5 731.8L123.6 731.8L124.8 731.8L125.9 731.8L127 731.8L128.2 731.8L129.3 731.8L130.5 731.8L131.6 731.7L132.8 731.7L133.9 731.7L135 731.7L136.2 731.7L137.3 731.7L138.5 731.7L139.6 731.7L140.8 731.7L141.9 731.7L143 731.7L144.2 731.7L145.3 731.7L146.5 731.7L147.6 731.7L148.7 731.7L149.9 731.7L151 731.7L152.2 731.7L153.3 731.7L154.5 731.7L155.6 731.7L156.7 731.7L157.9 731.7L159 731.7L160.2 731.6L161.3 731.6L162.5 731.6L163.6 731.6L164.7 731.6L165.9 731.6L167 731.6L168.2 731.6L169.3 731.6L170.4 731.6L171.6 731.6L172.7 731.6L173.9 731.6L175 731.6L176.2 731.6L177.3 731.6L178.4 731.6L179.6 731.6L180.7 731.6L181.9 731.6L183 731.6L184.2 731.6L185.3 731.5L186.4 731.5L187.6 731.5L188.7 731.5L189.9 731.5L191 731.5L192.1 731.5L193.3 731.5L194.4 731.5L195.6 731.5L196.7 731.5L197.9 731.5L199 731.5L200.1 731.5L201.3 731.5L202.4 731.5L203.6 731.5L204.7 731.5L205.9 731.5L207 731.5L208.1 731.5L209.3 731.5L210.4 731.5L211.6 731.5L212.7 731.5L213.8 731.5L215 731.5L216.1 731.5L217.3 731.5L218.4 731.5L219.6 731.4L220.7 731.4L221.8 731.4L223 731.4L224.1 731.4L225.3 731.4L226.4 731.4L227.6 731.4L228.7 731.4L229.8 731.4L231 731.4L232.1 731.4L233.3 731.4L234.4 731.4L235.5 731.4L236.7 731.4L237.8 731.4L239 731.4L240.1 731.4L241.3 731.4L242.4 731.4L243.5 731.4L244.7 731.4L245.8 731.4L247 731.4L248.1 731.4L249.3 731.4L250.4 731.4L251.5 731.4L252.7 731.4L253.8 731.4L255 731.4L256.1 731.4L257.2 731.4L258.4 731.4L259.5 731.4L260.7 731.4L261.8 731.4L263 731.3L264.1 731.3L265.2 731.3L266.4 731.3L267.5 731.3L268.7 731.3L269.8 731.3L271 731.3L272.1 731.3L273.2 731.3L274.4 731.3L275.5 731.3L276.7 731.3L277.8 731.3L278.9 731.3L280.1 731.3L281.2 731.3L282.4 731.3L283.5 731.3L284.7 731.3L285.8 731.3L286.9 731.3L288.1 731.3L289.2 731.3L290.4 731.2L291.5 731.2L292.7 731.2L293.8 731.2L294.9 731.2L296.1 731.2L297.2 731.2L298.4 731.2L299.5 731.2L300.6 731.2L301.8 731.2L302.9 731.2L304.1 731.2L305.2 731.2L306.4 731.2L307.5 731.1L308.6 731.1L309.8 731.1L310.9 731.1L312.1 731.1L313.2 731.1L314.4 731.1L315.5 731.1L316.6 731L317.8 731L318.9 731L320.1 731L321.2 731L322.3 730.9L323.5 730.9L324.6 730.9L325.8 730.9L326.9 730.9L328.1 730.8L329.2 730.8L330.3 730.8L331.5 730.8L332.6 730.7L333.8 730.7L334.9 730.7L336.1 730.6L337.2 730.6L338.3 730.5L339.5 730.5L340.6 730.4L341.8 730.3L342.9 730.3L344 730.2L345.2 730.1L346.3 730L347.5 729.9L348.6 729.8L349.8 729.7L350.9 729.6L352 729.4L353.2 729.3L354.3 729.2L355.5 729L356.6 728.9L357.8 728.7L358.9 728.6L360 728.4L361.2 728.2L362.3 727.9L363.5 727.7L364.6 727.3L365.7 727L366.9 726.6L368 726.2L369.2 725.8L370.3 725.3L371.5 724.7L372.6 724.1L373.7 723.3L374.9 722.5L376 721.7L377.2 720.8L378.3 719.9L379.5 719L380.6 718.1L381.7 717.2L382.9 716.2L384 715.1L385.2 714L386.3 712.8L387.4 711.7L388.6 710.6L389.7 709.4L390.9 708.3L392 707.2L393.2 706.2L394.3 705.2L395.4 704.3L396.6 703.3L397.7 702.4L398.9 701.5L400 700.6L401.2 699.7L402.3 698.8L403.4 698L404.6 697.1L405.7 696.2L406.9 695.3L408 694.4L409.1 693.5L410.3 692.6L411.4 691.6L412.6 690.7L413.7 689.9L414.9 689L416 688.1L417.1 687.2L418.3 686.3L419.4 685.2L420.6 684.1L421.7 682.9L422.9 681.6L424 680L425.1 678.2L426.3 676.1L427.4 673.9L428.6 671.3L429.7 668.2L430.8 664.7L432 661.1L433.1 657.4L434.3 653.7L435.4 650L436.6 646L437.7 641.8L438.8 637.8L440 634.2L441.1 631.3L442.3 628.9L443.4 626.6L444.6 624.6L445.7 623L446.8 621.8L448 621.1L449.1 620.5L450.3 620.1L451.4 619.8L452.5 619.8L453.7 620.2L454.8 620.8L456 621.7L457.1 622.8L458.3 624L459.4 625.9L460.5 629L461.7 632.9L462.8 637.2L464 641.7L465.1 645.9L466.3 649.9L467.4 654L468.5 658.3L469.7 662.6L470.8 666.9L472 671L473.1 675L474.2 678.8L475.4 682.6L476.5 686.3L477.7 689.9L478.8 693.4L480 696.8L481.1 699.8L482.2 702.6L483.4 705.2L484.5 707.6L485.7 710L486.8 712.2L488 714.3L489.1 716.3L490.2 718.1L491.4 719.8L492.5 721.3L493.7 722.8L494.8 724.2L495.9 725.6L497.1 726.8L498.2 727.9L499.4 728.9L500.5 729.6L501.7 730.1L502.8 730.5L503.9 730.9L505.1 731.2L506.2 731.5L507.4 731.7L508.5 731.7L509.7 731.8L510.8 731.8L511.9 731.8L513.1 731.9L514.2 731.9L515.4 731.9L516.5 731.9L517.6 732L518.8 732L519.9 732L521.1 732L522.2 732L523.4 732L524.5 732" fill="none" stroke="#000" stroke-width="1.6"/>
<path d="M68.8 812.6L69.9 812.6L71.1 812.6L72.2 812.6L73.4 812.6L74.5 812.6L75.7 812.6L76.8 812.6L77.9 812.6L79.1 812.6L80.2 812.6L81.4 812.6L82.5 812.6L83.6 812.6L84.8 812.6L85.9 812.6L87.1 812.6L88.2 812.6L89.4 812.6L90.5 812.6L91.6 812.6L92.8 812.6L93.9 812.6L95.1 812.6L96.2 812.6L97.4 812.6L98.5 812.6L99.6 812.6L100.8 812.6L101.9 812.6L103.1 812.6L104.2 812.6L105.3 812.6L106.5 812.6L107.6 812.6L108.8 812.6L109.9 812.6L111.1 812.6L112.2 812.6L113.3 812.6L114.5 812.6L115.6 812.6L116.8 812.6L117.9 812.6L119.1 812.6L120.2 812.6L121.3 812.6L122.5 812.6L123.6 812.6L124.8 812.6L125.9 812.6L127 812.6L128.2 812.6L129.3 812.6L130.5 812.6L131.6 812.6L132.8 812.6L133.9 812.6L135 812.6L136.2 812.6L137.3 812.6L138.5 812.6L139.6 812.6L140.8 812.6L141.9 812.6L143 812.6L144.2 812.6L145.3 812.6L146.5 812.6L147.6 812.6L148.7 812.6L149.9 812.6L151 812.6L152.2 812.6L153.3 812.6L154.5 812.6L155.6 812.6L156.7 812.6L157.9 812.5L159 812.5L160.2 812.5L161.3 812.5L162.5 812.5L163.6 812.5L164.7 812.5L165.9 812.5L167 812.5L168.2 812.5L169.3 812.5L170.4 812.5L171.6 812.5L172.7 812.5L173.9 812.5L175 812.5L176.2 812.5L177.3 812.5L178.4 812.5L179.6 812.5L180.7 812.5L181.9 812.5L183 812.5L184.2 812.5L185.3 812.5L186.4 812.5L187.6 812.5L188.7 812.5L189.9 812.5L191 812.5L192.1 812.5L193.3 812.5L194.4 812.5L195.6 812.5L196.7 812.5L197.9 812.5L199 812.5L200.1 812.5L201.3 812.5L202.4 812.5L203.6 812.5L204.7 812.5L205.9 812.5L207 812.5L208.1 812.5L209.3 812.5L210.4 812.5L211.6 812.5L212.7 812.5L213.8 812.5L215 812.5L216.1 812.5L217.3 812.5L218.4 812.5L219.6 812.5L220.7 812.5L221.8 812.5L223 812.5L224.1 812.5L225.3 812.4L226.4 812.4L227.6 812.4L228.7 812.4L229.8 812.4L231 812.4L232.1 812.4L233.3 812.4L234.4 812.4L235.5 812.4L236.7 812.4L237.8 812.4L239 812.4L240.1 812.4L241.3 812.4L242.4 812.4L243.5 812.4L244.7 812.4L245.8 812.4L247 812.4L248.1 812.4L249.3 812.4L250.4 812.4L251.5 812.4L252.7 812.4L253.8 812.4L255 812.4L256.1 812.4L257.2 812.4L258.4 812.4L259.5 812.4L260.7 812.4L261.8 812.4L263 812.4L264.1 812.4L265.2 812.4L266.4 812.4L267.5 812.3L268.7 812.3L269.8 812.3L271 812.3L272.1 812.3L273.2 812.3L274.4 812.3L275.5 812.3L276.7 812.3L277.8 812.3L278.9 812.3L280.1 812.3L281.2 812.3L282.4 812.3L283.5 812.3L284.7 812.3L285.8 812.2L286.9 812.2L288.1 812.2L289.2 812.2L290.4 812.2L291.5 812.2L292.7 812.2L293.8 812.2L294.9 812.2L296.1 812.2L297.2 812.2L298.4 812.1L299.5 812.1L300.6 812.1L301.8 812.1L302.9 812.1L304.1 812.1L305.2 812.1L306.4 812.1L307.5 812L308.6 812L309.8 812L310.9 812L312.1 811.9L313.2 811.9L314.4 811.9L315.5 811.8L316.6 811.8L317.8 811.8L318.9 811.7L320.1 811.7L321.2 811.6L322.3 811.6L323.5 811.6L324.6 811.5L325.8 811.5L326.9 811.4L328.1 811.4L329.2 811.3L330.3 811.2L331.5 811.2L332.6 811.1L333.8 811L334.9 811L336.1 810.9L337.2 810.8L338.3 810.8L339.5 810.7L340.6 810.6L341.8 810.5L342.9 810.4L344 810.3L345.2 810.2L346.3 810L347.5 809.9L348.6 809.7L349.8 809.5L350.9 809.3L352 809.1L353.2 808.9L354.3 808.7L355.5 808.5L356.6 808.2L357.8 808L358.9 807.8L360 807.5L361.2 807.3L362.3 807.1L363.5 806.9L364.6 806.6L365.7 806.4L366.9 806.2L368 806L369.2 805.8L370.3 805.6L371.5 805.4L372.6 805.2L373.7 805L374.9 804.8L376 804.6L377.2 804.3L378.3 804L379.5 803.8L380.6 803.5L381.7 803.2L382.9 802.8L384 802.5L385.2 802.1L386.3 801.7L387.4 801.2L388.6 800.6L389.7 799.9L390.9 799L392 798.1L393.2 797.1L394.3 795.9L395.4 794.7L396.6 793.5L397.7 792.2L398.9 790.8L400 789.3L401.2 787.4L402.3 785.2L403.4 782.8L404.6 780.4L405.7 778L406.9 775.7L408 773.5L409.1 771.6L410.3 770.1L411.4 768.5L412.6 767L413.7 765.6L414.9 764.4L416 763.4L417.1 762.6L418.3 762.1L419.4 761.7L420.6 761.3L421.7 761L422.9 760.7L424 760.4L425.1 760.1L426.3 759.6L427.4 759.1L428.6 758.4L429.7 757.7L430.8 756.9L432 756L433.1 755L434.3 753.9L435.4 752.5L436.6 750.7L437.7 748.6L438.8 746.3L440 743.9L441.1 741.5L442.3 739L443.4 736L444.6 732.6L445.7 729.2L446.8 726.1L448 723.4L449.1 721.5L450.3 720.1L451.4 718.9L452.5 717.7L453.7 716.6L454.8 715.7L456 715L457.1 714.6L458.3 714.4L459.4 714.5L460.5 715L461.7 715.7L462.8 716.6L464 717.7L465.1 718.9L466.3 720.2L467.4 721.7L468.5 723.8L469.7 726.6L470.8 729.6L472 732.9L473.1 736.1L474.2 739.1L475.4 742.3L476.5 745.5L477.7 748.8L478.8 752.2L480 755.6L481.1 758.9L482.2 762.1L483.4 765.3L484.5 768.4L485.7 771.6L486.8 774.8L488 777.8L489.1 780.8L490.2 783.7L491.4 786.5L492.5 789.1L493.7 791.8L494.8 794.5L495.9 797.2L497.1 799.7L498.2 801.9L499.4 803.9L500.5 805.5L501.7 806.6L502.8 807.7L503.9 808.7L505.1 809.7L506.2 810.5L507.4 811.2L508.5 811.7L509.7 812L510.8 812.2L511.9 812.3L513.1 812.4L514.2 812.5L515.4 812.6L516.5 812.6L517.6 812.6L518.8 812.6L519.9 812.6L521.1 812.6L522.2 812.6L523.4 812.6L524.5 812.6L524.5 812.6L68.8 812.6Z" fill="#3E5891"/>
<path d="M68.8 812.6L69.9 812.6L71.1 812.6L72.2 812.6L73.4 812.6L74.5 812.6L75.7 812.6L76.8 812.6L77.9 812.6L79.1 812.6L80.2 812.6L81.4 812.6L82.5 812.6L83.6 812.6L84.8 812.6L85.9 812.6L87.1 812.6L88.2 812.6L89.4 812.6L90.5 812.6L91.6 812.6L92.8 812.6L93.9 812.6L95.1 812.6L96.2 812.6L97.4 812.6L98.5 812.6L99.6 812.6L100.8 812.6L101.9 812.6L103.1 812.6L104.2 812.6L105.3 812.6L106.5 812.6L107.6 812.6L108.8 812.6L109.9 812.6L111.1 812.6L112.2 812.6L113.3 812.6L114.5 812.6L115.6 812.6L116.8 812.6L117.9 812.6L119.1 812.6L120.2 812.6L121.3 812.6L122.5 812.6L123.6 812.6L124.8 812.6L125.9 812.6L127 812.6L128.2 812.6L129.3 812.6L130.5 812.6L131.6 812.6L132.8 812.6L133.9 812.6L135 812.6L136.2 812.6L137.3 812.6L138.5 812.6L139.6 812.6L140.8 812.6L141.9 812.6L143 812.6L144.2 812.6L145.3 812.6L146.5 812.6L147.6 812.6L148.7 812.6L149.9 812.6L151 812.6L152.2 812.6L153.3 812.6L154.5 812.6L155.6 812.6L156.7 812.6L157.9 812.5L159 812.5L160.2 812.5L161.3 812.5L162.5 812.5L163.6 812.5L164.7 812.5L165.9 812.5L167 812.5L168.2 812.5L169.3 812.5L170.4 812.5L171.6 812.5L172.7 812.5L173.9 812.5L175 812.5L176.2 812.5L177.3 812.5L178.4 812.5L179.6 812.5L180.7 812.5L181.9 812.5L183 812.5L184.2 812.5L185.3 812.5L186.4 812.5L187.6 812.5L188.7 812.5L189.9 812.5L191 812.5L192.1 812.5L193.3 812.5L194.4 812.5L195.6 812.5L196.7 812.5L197.9 812.5L199 812.5L200.1 812.5L201.3 812.5L202.4 812.5L203.6 812.5L204.7 812.5L205.9 812.5L207 812.5L208.1 812.5L209.3 812.5L210.4 812.5L211.6 812.5L212.7 812.5L213.8 812.5L215 812.5L216.1 812.5L217.3 812.5L218.4 812.5L219.6 812.5L220.7 812.5L221.8 812.5L223 812.5L224.1 812.5L225.3 812.4L226.4 812.4L227.6 812.4L228.7 812.4L229.8 812.4L231 812.4L232.1 812.4L233.3 812.4L234.4 812.4L235.5 812.4L236.7 812.4L237.8 812.4L239 812.4L240.1 812.4L241.3 812.4L242.4 812.4L243.5 812.4L244.7 812.4L245.8 812.4L247 812.4L248.1 812.4L249.3 812.4L250.4 812.4L251.5 812.4L252.7 812.4L253.8 812.4L255 812.4L256.1 812.4L257.2 812.4L258.4 812.4L259.5 812.4L260.7 812.4L261.8 812.4L263 812.4L264.1 812.4L265.2 812.4L266.4 812.4L267.5 812.3L268.7 812.3L269.8 812.3L271 812.3L272.1 812.3L273.2 812.3L274.4 812.3L275.5 812.3L276.7 812.3L277.8 812.3L278.9 812.3L280.1 812.3L281.2 812.3L282.4 812.3L283.5 812.3L284.7 812.3L285.8 812.2L286.9 812.2L288.1 812.2L289.2 812.2L290.4 812.2L291.5 812.2L292.7 812.2L293.8 812.2L294.9 812.2L296.1 812.2L297.2 812.2L298.4 812.1L299.5 812.1L300.6 812.1L301.8 812.1L302.9 812.1L304.1 812.1L305.2 812.1L306.4 812.1L307.5 812L308.6 812L309.8 812L310.9 812L312.1 811.9L313.2 811.9L314.4 811.9L315.5 811.8L316.6 811.8L317.8 811.8L318.9 811.7L320.1 811.7L321.2 811.6L322.3 811.6L323.5 811.6L324.6 811.5L325.8 811.5L326.9 811.4L328.1 811.4L329.2 811.3L330.3 811.2L331.5 811.2L332.6 811.1L333.8 811L334.9 811L336.1 810.9L337.2 810.8L338.3 810.8L339.5 810.7L340.6 810.6L341.8 810.5L342.9 810.4L344 810.3L345.2 810.2L346.3 810L347.5 809.9L348.6 809.7L349.8 809.5L350.9 809.3L352 809.1L353.2 808.9L354.3 808.7L355.5 808.5L356.6 808.2L357.8 808L358.9 807.8L360 807.5L361.2 807.3L362.3 807.1L363.5 806.9L364.6 806.6L365.7 806.4L366.9 806.2L368 806L369.2 805.8L370.3 805.6L371.5 805.4L372.6 805.2L373.7 805L374.9 804.8L376 804.6L377.2 804.3L378.3 804L379.5 803.8L380.6 803.5L381.7 803.2L382.9 802.8L384 802.5L385.2 802.1L386.3 801.7L387.4 801.2L388.6 800.6L389.7 799.9L390.9 799L392 798.1L393.2 797.1L394.3 795.9L395.4 794.7L396.6 793.5L397.7 792.2L398.9 790.8L400 789.3L401.2 787.4L402.3 785.2L403.4 782.8L404.6 780.4L405.7 778L406.9 775.7L408 773.5L409.1 771.6L410.3 770.1L411.4 768.5L412.6 767L413.7 765.6L414.9 764.4L416 763.4L417.1 762.6L418.3 762.1L419.4 761.7L420.6 761.3L421.7 761L422.9 760.7L424 760.4L425.1 760.1L426.3 759.6L427.4 759.1L428.6 758.4L429.7 757.7L430.8 756.9L432 756L433.1 755L434.3 753.9L435.4 752.5L436.6 750.7L437.7 748.6L438.8 746.3L440 743.9L441.1 741.5L442.3 739L443.4 736L444.6 732.6L445.7 729.2L446.8 726.1L448 723.4L449.1 721.5L450.3 720.1L451.4 718.9L452.5 717.7L453.7 716.6L454.8 715.7L456 715L457.1 714.6L458.3 714.4L459.4 714.5L460.5 715L461.7 715.7L462.8 716.6L464 717.7L465.1 718.9L466.3 720.2L467.4 721.7L468.5 723.8L469.7 726.6L470.8 729.6L472 732.9L473.1 736.1L474.2 739.1L475.4 742.3L476.5 745.5L477.7 748.8L478.8 752.2L480 755.6L481.1 758.9L482.2 762.1L483.4 765.3L484.5 768.4L485.7 771.6L486.8 774.8L488 777.8L489.1 780.8L490.2 783.7L491.4 786.5L492.5 789.1L493.7 791.8L494.8 794.5L495.9 797.2L497.1 799.7L498.2 801.9L499.4 803.9L500.5 805.5L501.7 806.6L502.8 807.7L503.9 808.7L505.1 809.7L506.2 810.5L507.4 811.2L508.5 811.7L509.7 812L510.8 812.2L511.9 812.3L513.1 812.4L514.2 812.5L515.4 812.6L516.5 812.6L517.6 812.6L518.8 812.6L519.9 812.6L521.1 812.6L522.2 812.6L523.4 812.6L524.5 812.6" fill="none" stroke="#000" stroke-width="1.6"/>
<path d="M68.8 893.6L69.9 893.6L71.1 893.6L72.2 893.6L73.4 893.6L74.5 893.6L75.7 893.6L76.8 893.6L77.9 893.6L79.1 893.6L80.2 893.6L81.4 893.6L82.5 893.6L83.6 893.6L84.8 893.6L85.9 893.6L87.1 893.6L88.2 893.6L89.4 893.6L90.5 893.6L91.6 893.6L92.8 893.6L93.9 893.6L95.1 893.6L96.2 893.6L97.4 893.6L98.5 893.6L99.6 893.6L100.8 893.6L101.9 893.6L103.1 893.6L104.2 893.6L105.3 893.6L106.5 893.6L107.6 893.6L108.8 893.6L109.9 893.6L111.1 893.6L112.2 893.6L113.3 893.6L114.5 893.6L115.6 893.6L116.8 893.6L117.9 893.6L119.1 893.6L120.2 893.6L121.3 893.6L122.5 893.6L123.6 893.6L124.8 893.6L125.9 893.6L127 893.6L128.2 893.6L129.3 893.6L130.5 893.6L131.6 893.6L132.8 893.6L133.9 893.6L135 893.6L136.2 893.6L137.3 893.6L138.5 893.6L139.6 893.6L140.8 893.6L141.9 893.6L143 893.6L144.2 893.6L145.3 893.6L146.5 893.6L147.6 893.6L148.7 893.6L149.9 893.6L151 893.6L152.2 893.6L153.3 893.6L154.5 893.6L155.6 893.6L156.7 893.6L157.9 893.6L159 893.6L160.2 893.6L161.3 893.6L162.5 893.6L163.6 893.6L164.7 893.6L165.9 893.6L167 893.6L168.2 893.6L169.3 893.6L170.4 893.6L171.6 893.6L172.7 893.6L173.9 893.6L175 893.6L176.2 893.6L177.3 893.6L178.4 893.6L179.6 893.6L180.7 893.6L181.9 893.6L183 893.6L184.2 893.6L185.3 893.6L186.4 893.6L187.6 893.6L188.7 893.6L189.9 893.6L191 893.6L192.1 893.6L193.3 893.6L194.4 893.6L195.6 893.6L196.7 893.6L197.9 893.6L199 893.6L200.1 893.6L201.3 893.6L202.4 893.6L203.6 893.6L204.7 893.6L205.9 893.6L207 893.6L208.1 893.6L209.3 893.6L210.4 893.6L211.6 893.6L212.7 893.6L213.8 893.6L215 893.6L216.1 893.6L217.3 893.6L218.4 893.6L219.6 893.6L220.7 893.6L221.8 893.6L223 893.6L224.1 893.6L225.3 893.6L226.4 893.6L227.6 893.6L228.7 893.6L229.8 893.6L231 893.6L232.1 893.6L233.3 893.6L234.4 893.6L235.5 893.6L236.7 893.6L237.8 893.6L239 893.6L240.1 893.6L241.3 893.6L242.4 893.6L243.5 893.6L244.7 893.6L245.8 893.6L247 893.6L248.1 893.6L249.3 893.6L250.4 893.6L251.5 893.6L252.7 893.6L253.8 893.6L255 893.6L256.1 893.6L257.2 893.6L258.4 893.6L259.5 893.6L260.7 893.6L261.8 893.6L263 893.6L264.1 893.6L265.2 893.6L266.4 893.6L267.5 893.6L268.7 893.6L269.8 893.6L271 893.6L272.1 893.6L273.2 893.6L274.4 893.6L275.5 893.6L276.7 893.6L277.8 893.6L278.9 893.6L280.1 893.6L281.2 893.6L282.4 893.6L283.5 893.6L284.7 893.6L285.8 893.6L286.9 893.6L288.1 893.6L289.2 893.6L290.4 893.6L291.5 893.6L292.7 893.6L293.8 893.6L294.9 893.6L296.1 893.6L297.2 893.6L298.4 893.6L299.5 893.6L300.6 893.6L301.8 893.6L302.9 893.6L304.1 893.6L305.2 893.6L306.4 893.6L307.5 893.6L308.6 893.6L309.8 893.6L310.9 893.6L312.1 893.6L313.2 893.6L314.4 893.6L315.5 893.6L316.6 893.6L317.8 893.6L318.9 893.6L320.1 893.6L321.2 893.6L322.3 893.6L323.5 893.6L324.6 893.6L325.8 893.6L326.9 893.6L328.1 893.6L329.2 893.6L330.3 893.6L331.5 893.6L332.6 893.6L333.8 893.6L334.9 893.6L336.1 893.6L337.2 893.6L338.3 893.6L339.5 893.6L340.6 893.6L341.8 893.6L342.9 893.6L344 893.6L345.2 893.6L346.3 893.6L347.5 893.6L348.6 893.6L349.8 893.6L350.9 893.6L352 893.6L353.2 893.6L354.3 893.6L355.5 893.6L356.6 893.6L357.8 893.6L358.9 893.6L360 893.6L361.2 893.4L362.3 893.1L363.5 892.8L364.6 892.5L365.7 892.2L366.9 891.9L368 891.5L369.2 891.1L370.3 890.7L371.5 890.3L372.6 890L373.7 889.8L374.9 889.8L376 889.9L377.2 890.1L378.3 890.4L379.5 890.7L380.6 891L381.7 891.3L382.9 891.7L384 892.2L385.2 892.6L386.3 892.8L387.4 892.7L388.6 892.4L389.7 891.9L390.9 891.2L392 890.4L393.2 889.5L394.3 888.1L395.4 886.2L396.6 884L397.7 881.5L398.9 879.1L400 876.8L401.2 874.7L402.3 872.4L403.4 870.1L404.6 868L405.7 866.3L406.9 865.1L408 864L409.1 863L410.3 862.4L411.4 862.3L412.6 862.7L413.7 863.3L414.9 864.1L416 864.8L417.1 865.3L418.3 865.4L419.4 864.7L420.6 863.4L421.7 861.6L422.9 859.6L424 857.6L425.1 855.6L426.3 853.6L427.4 851.4L428.6 849L429.7 846.4L430.8 843.6L432 840.6L433.1 837.4L434.3 833.8L435.4 829.8L436.6 825.5L437.7 820.8L438.8 815.9L440 810.6L441.1 804.1L442.3 796.2L443.4 787.5L444.6 778.9L445.7 771L446.8 764.8L448 760.9L449.1 758L450.3 755.2L451.4 752.8L452.5 750.8L453.7 749.4L454.8 748.7L456 748.8L457.1 749.8L458.3 751.7L459.4 754.1L460.5 756.9L461.7 760L462.8 763.1L464 766.7L465.1 771.3L466.3 776.5L467.4 782.2L468.5 787.8L469.7 793.2L470.8 798.1L472 802.7L473.1 807.2L474.2 811.5L475.4 815.8L476.5 820.1L477.7 824.4L478.8 828.6L480 832.9L481.1 837.3L482.2 841.7L483.4 846.2L484.5 850.6L485.7 854.9L486.8 859L488 862.8L489.1 866.3L490.2 869.7L491.4 873.2L492.5 876.6L493.7 879.7L494.8 882.6L495.9 885.1L497.1 887L498.2 888.4L499.4 889.6L500.5 890.6L501.7 891.5L502.8 892.3L503.9 892.9L505.1 893.2L506.2 893.4L507.4 893.4L508.5 893.5L509.7 893.6L510.8 893.6L511.9 893.6L513.1 893.6L514.2 893.6L515.4 893.6L516.5 893.6L517.6 893.6L518.8 893.6L519.9 893.6L521.1 893.6L522.2 893.6L523.4 893.6L524.5 893.6L524.5 893.6L68.8 893.6Z" fill="#EE937A"/>
<path d="M68.8 893.6L69.9 893.6L71.1 893.6L72.2 893.6L73.4 893.6L74.5 893.6L75.7 893.6L76.8 893.6L77.9 893.6L79.1 893.6L80.2 893.6L81.4 893.6L82.5 893.6L83.6 893.6L84.8 893.6L85.9 893.6L87.1 893.6L88.2 893.6L89.4 893.6L90.5 893.6L91.6 893.6L92.8 893.6L93.9 893.6L95.1 893.6L96.2 893.6L97.4 893.6L98.5 893.6L99.6 893.6L100.8 893.6L101.9 893.6L103.1 893.6L104.2 893.6L105.3 893.6L106.5 893.6L107.6 893.6L108.8 893.6L109.9 893.6L111.1 893.6L112.2 893.6L113.3 893.6L114.5 893.6L115.6 893.6L116.8 893.6L117.9 893.6L119.1 893.6L120.2 893.6L121.3 893.6L122.5 893.6L123.6 893.6L124.8 893.6L125.9 893.6L127 893.6L128.2 893.6L129.3 893.6L130.5 893.6L131.6 893.6L132.8 893.6L133.9 893.6L135 893.6L136.2 893.6L137.3 893.6L138.5 893.6L139.6 893.6L140.8 893.6L141.9 893.6L143 893.6L144.2 893.6L145.3 893.6L146.5 893.6L147.6 893.6L148.7 893.6L149.9 893.6L151 893.6L152.2 893.6L153.3 893.6L154.5 893.6L155.6 893.6L156.7 893.6L157.9 893.6L159 893.6L160.2 893.6L161.3 893.6L162.5 893.6L163.6 893.6L164.7 893.6L165.9 893.6L167 893.6L168.2 893.6L169.3 893.6L170.4 893.6L171.6 893.6L172.7 893.6L173.9 893.6L175 893.6L176.2 893.6L177.3 893.6L178.4 893.6L179.6 893.6L180.7 893.6L181.9 893.6L183 893.6L184.2 893.6L185.3 893.6L186.4 893.6L187.6 893.6L188.7 893.6L189.9 893.6L191 893.6L192.1 893.6L193.3 893.6L194.4 893.6L195.6 893.6L196.7 893.6L197.9 893.6L199 893.6L200.1 893.6L201.3 893.6L202.4 893.6L203.6 893.6L204.7 893.6L205.9 893.6L207 893.6L208.1 893.6L209.3 893.6L210.4 893.6L211.6 893.6L212.7 893.6L213.8 893.6L215 893.6L216.1 893.6L217.3 893.6L218.4 893.6L219.6 893.6L220.7 893.6L221.8 893.6L223 893.6L224.1 893.6L225.3 893.6L226.4 893.6L227.6 893.6L228.7 893.6L229.8 893.6L231 893.6L232.1 893.6L233.3 893.6L234.4 893.6L235.5 893.6L236.7 893.6L237.8 893.6L239 893.6L240.1 893.6L241.3 893.6L242.4 893.6L243.5 893.6L244.7 893.6L245.8 893.6L247 893.6L248.1 893.6L249.3 893.6L250.4 893.6L251.5 893.6L252.7 893.6L253.8 893.6L255 893.6L256.1 893.6L257.2 893.6L258.4 893.6L259.5 893.6L260.7 893.6L261.8 893.6L263 893.6L264.1 893.6L265.2 893.6L266.4 893.6L267.5 893.6L268.7 893.6L269.8 893.6L271 893.6L272.1 893.6L273.2 893.6L274.4 893.6L275.5 893.6L276.7 893.6L277.8 893.6L278.9 893.6L280.1 893.6L281.2 893.6L282.4 893.6L283.5 893.6L284.7 893.6L285.8 893.6L286.9 893.6L288.1 893.6L289.2 893.6L290.4 893.6L291.5 893.6L292.7 893.6L293.8 893.6L294.9 893.6L296.1 893.6L297.2 893.6L298.4 893.6L299.5 893.6L300.6 893.6L301.8 893.6L302.9 893.6L304.1 893.6L305.2 893.6L306.4 893.6L307.5 893.6L308.6 893.6L309.8 893.6L310.9 893.6L312.1 893.6L313.2 893.6L314.4 893.6L315.5 893.6L316.6 893.6L317.8 893.6L318.9 893.6L320.1 893.6L321.2 893.6L322.3 893.6L323.5 893.6L324.6 893.6L325.8 893.6L326.9 893.6L328.1 893.6L329.2 893.6L330.3 893.6L331.5 893.6L332.6 893.6L333.8 893.6L334.9 893.6L336.1 893.6L337.2 893.6L338.3 893.6L339.5 893.6L340.6 893.6L341.8 893.6L342.9 893.6L344 893.6L345.2 893.6L346.3 893.6L347.5 893.6L348.6 893.6L349.8 893.6L350.9 893.6L352 893.6L353.2 893.6L354.3 893.6L355.5 893.6L356.6 893.6L357.8 893.6L358.9 893.6L360 893.6L361.2 893.4L362.3 893.1L363.5 892.8L364.6 892.5L365.7 892.2L366.9 891.9L368 891.5L369.2 891.1L370.3 890.7L371.5 890.3L372.6 890L373.7 889.8L374.9 889.8L376 889.9L377.2 890.1L378.3 890.4L379.5 890.7L380.6 891L381.7 891.3L382.9 891.7L384 892.2L385.2 892.6L386.3 892.8L387.4 892.7L388.6 892.4L389.7 891.9L390.9 891.2L392 890.4L393.2 889.5L394.3 888.1L395.4 886.2L396.6 884L397.7 881.5L398.9 879.1L400 876.8L401.2 874.7L402.3 872.4L403.4 870.1L404.6 868L405.7 866.3L406.9 865.1L408 864L409.1 863L410.3 862.4L411.4 862.3L412.6 862.7L413.7 863.3L414.9 864.1L416 864.8L417.1 865.3L418.3 865.4L419.4 864.7L420.6 863.4L421.7 861.6L422.9 859.6L424 857.6L425.1 855.6L426.3 853.6L427.4 851.4L428.6 849L429.7 846.4L430.8 843.6L432 840.6L433.1 837.4L434.3 833.8L435.4 829.8L436.6 825.5L437.7 820.8L438.8 815.9L440 810.6L441.1 804.1L442.3 796.2L443.4 787.5L444.6 778.9L445.7 771L446.8 764.8L448 760.9L449.1 758L450.3 755.2L451.4 752.8L452.5 750.8L453.7 749.4L454.8 748.7L456 748.8L457.1 749.8L458.3 751.7L459.4 754.1L460.5 756.9L461.7 760L462.8 763.1L464 766.7L465.1 771.3L466.3 776.5L467.4 782.2L468.5 787.8L469.7 793.2L470.8 798.1L472 802.7L473.1 807.2L474.2 811.5L475.4 815.8L476.5 820.1L477.7 824.4L478.8 828.6L480 832.9L481.1 837.3L482.2 841.7L483.4 846.2L484.5 850.6L485.7 854.9L486.8 859L488 862.8L489.1 866.3L490.2 869.7L491.4 873.2L492.5 876.6L493.7 879.7L494.8 882.6L495.9 885.1L497.1 887L498.2 888.4L499.4 889.6L500.5 890.6L501.7 891.5L502.8 892.3L503.9 892.9L505.1 893.2L506.2 893.4L507.4 893.4L508.5 893.5L509.7 893.6L510.8 893.6L511.9 893.6L513.1 893.6L514.2 893.6L515.4 893.6L516.5 893.6L517.6 893.6L518.8 893.6L519.9 893.6L521.1 893.6L522.2 893.6L523.4 893.6L524.5 893.6" fill="none" stroke="#000" stroke-width="1.6"/>
<path d="M68.8 974.4L69.9 974.4L71.1 974.4L72.2 974.4L73.4 974.4L74.5 974.4L75.7 974.4L76.8 974.4L77.9 974.4L79.1 974.4L80.2 974.4L81.4 974.4L82.5 974.4L83.6 974.4L84.8 974.4L85.9 974.4L87.1 974.4L88.2 974.4L89.4 974.4L90.5 974.4L91.6 974.4L92.8 974.4L93.9 974.4L95.1 974.4L96.2 974.4L97.4 974.4L98.5 974.4L99.6 974.4L100.8 974.4L101.9 974.4L103.1 974.4L104.2 974.4L105.3 974.4L106.5 974.4L107.6 974.4L108.8 974.4L109.9 974.4L111.1 974.4L112.2 974.4L113.3 974.4L114.5 974.4L115.6 974.4L116.8 974.4L117.9 974.4L119.1 974.4L120.2 974.4L121.3 974.4L122.5 974.4L123.6 974.4L124.8 974.4L125.9 974.4L127 974.4L128.2 974.4L129.3 974.4L130.5 974.4L131.6 974.4L132.8 974.4L133.9 974.4L135 974.4L136.2 974.4L137.3 974.4L138.5 974.4L139.6 974.4L140.8 974.4L141.9 974.4L143 974.4L144.2 974.4L145.3 974.4L146.5 974.4L147.6 974.4L148.7 974.4L149.9 974.4L151 974.4L152.2 974.4L153.3 974.4L154.5 974.4L155.6 974.4L156.7 974.4L157.9 974.4L159 974.4L160.2 974.4L161.3 974.4L162.5 974.4L163.6 974.4L164.7 974.4L165.9 974.4L167 974.4L168.2 974.4L169.3 974.4L170.4 974.4L171.6 974.4L172.7 974.4L173.9 974.4L175 974.4L176.2 974.4L177.3 974.4L178.4 974.4L179.6 974.4L180.7 974.4L181.9 974.4L183 974.4L184.2 974.4L185.3 974.4L186.4 974.4L187.6 974.4L188.7 974.4L189.9 974.4L191 974.4L192.1 974.4L193.3 974.4L194.4 974.4L195.6 974.4L196.7 974.4L197.9 974.4L199 974.4L200.1 974.4L201.3 974.4L202.4 974.4L203.6 974.4L204.7 974.4L205.9 974.4L207 974.4L208.1 974.4L209.3 974.4L210.4 974.4L211.6 974.4L212.7 974.4L213.8 974.4L215 974.4L216.1 974.4L217.3 974.4L218.4 974.4L219.6 974.4L220.7 974.4L221.8 974.4L223 974.4L224.1 974.4L225.3 974.4L226.4 974.4L227.6 974.4L228.7 974.4L229.8 974.4L231 974.4L232.1 974.4L233.3 974.4L234.4 974.4L235.5 974.4L236.7 974.4L237.8 974.4L239 974.4L240.1 974.4L241.3 974.4L242.4 974.4L243.5 974.4L244.7 974.4L245.8 974.4L247 974.4L248.1 974.4L249.3 974.4L250.4 974.4L251.5 974.4L252.7 974.4L253.8 974.4L255 974.4L256.1 974.4L257.2 974.4L258.4 974.4L259.5 974.4L260.7 974.4L261.8 974.4L263 974.4L264.1 974.4L265.2 974.4L266.4 974.4L267.5 974.4L268.7 974.4L269.8 974.4L271 974.4L272.1 974.4L273.2 974.4L274.4 974.4L275.5 974.4L276.7 974.4L277.8 974.4L278.9 974.4L280.1 974.4L281.2 974.4L282.4 974.4L283.5 974.4L284.7 974.4L285.8 974.4L286.9 974.4L288.1 974.4L289.2 974.4L290.4 974.4L291.5 974.4L292.7 974.4L293.8 974.4L294.9 974.4L296.1 974.4L297.2 974.4L298.4 974.4L299.5 974.4L300.6 974.4L301.8 974.4L302.9 974.4L304.1 974.4L305.2 974.4L306.4 974.4L307.5 974.4L308.6 974.4L309.8 974.4L310.9 974.4L312.1 974.4L313.2 974.4L314.4 974.4L315.5 974.4L316.6 974.4L317.8 974.4L318.9 974.4L320.1 974.4L321.2 974.4L322.3 974.4L323.5 974.4L324.6 974.4L325.8 974.4L326.9 974.4L328.1 974.4L329.2 974.4L330.3 974.4L331.5 974.4L332.6 974.4L333.8 974.4L334.9 974.4L336.1 974.4L337.2 974.4L338.3 974.4L339.5 974.4L340.6 974.4L341.8 974.4L342.9 974.4L344 974.4L345.2 974.4L346.3 974.4L347.5 974.4L348.6 974.4L349.8 974.4L350.9 974.4L352 974.4L353.2 974.4L354.3 974.4L355.5 974.4L356.6 974.4L357.8 974.4L358.9 974.3L360 974.3L361.2 974.2L362.3 974L363.5 973.9L364.6 973.8L365.7 973.6L366.9 973.5L368 973.3L369.2 973.1L370.3 973L371.5 972.8L372.6 972.6L373.7 972.5L374.9 972.3L376 972.1L377.2 971.9L378.3 971.7L379.5 971.4L380.6 971.2L381.7 970.9L382.9 970.6L384 970.2L385.2 969.8L386.3 969.2L387.4 968.4L388.6 967.3L389.7 966.1L390.9 964.8L392 963.5L393.2 962.2L394.3 961.1L395.4 960.1L396.6 959.4L397.7 958.7L398.9 958L400 957.4L401.2 956.8L402.3 956.2L403.4 955.8L404.6 955.4L405.7 955.1L406.9 954.9L408 954.7L409.1 954.5L410.3 954.4L411.4 954.2L412.6 954.1L413.7 954L414.9 953.9L416 953.8L417.1 953.6L418.3 953.5L419.4 953.3L420.6 953L421.7 952.8L422.9 952.4L424 952L425.1 951.1L426.3 949.8L427.4 948.3L428.6 946.2L429.7 943.1L430.8 939.1L432 934.5L433.1 929.7L434.3 924.8L435.4 919.4L436.6 913.5L437.7 907.3L438.8 900.8L440 894.2L441.1 887.8L442.3 881.4L443.4 874.2L444.6 866.8L445.7 860.1L446.8 854.6L448 851L449.1 848.2L450.3 845.6L451.4 843.3L452.5 841.4L453.7 839.9L454.8 838.9L456 838.6L457.1 838.9L458.3 839.8L459.4 841.1L460.5 842.9L461.7 844.9L462.8 847L464 849.3L465.1 851.6L466.3 854.7L467.4 858.3L468.5 862.5L469.7 866.9L470.8 871.5L472 876.2L473.1 880.8L474.2 885.2L475.4 889.2L476.5 893.1L477.7 896.9L478.8 900.8L480 904.6L481.1 908.4L482.2 912.1L483.4 915.8L484.5 919.4L485.7 923L486.8 926.4L488 929.9L489.1 933.4L490.2 936.9L491.4 940.5L492.5 944L493.7 947.4L494.8 950.6L495.9 953.7L497.1 956.5L498.2 959L499.4 961.2L500.5 963.1L501.7 965L502.8 966.8L503.9 968.4L505.1 969.9L506.2 971.1L507.4 972.1L508.5 972.8L509.7 973.2L510.8 973.6L511.9 974L513.1 974.2L514.2 974.4L515.4 974.4L516.5 974.4L517.6 974.4L518.8 974.4L519.9 974.4L521.1 974.4L522.2 974.4L523.4 974.4L524.5 974.4L524.5 974.4L68.8 974.4Z" fill="#48B08C"/>
<path d="M68.8 974.4L69.9 974.4L71.1 974.4L72.2 974.4L73.4 974.4L74.5 974.4L75.7 974.4L76.8 974.4L77.9 974.4L79.1 974.4L80.2 974.4L81.4 974.4L82.5 974.4L83.6 974.4L84.8 974.4L85.9 974.4L87.1 974.4L88.2 974.4L89.4 974.4L90.5 974.4L91.6 974.4L92.8 974.4L93.9 974.4L95.1 974.4L96.2 974.4L97.4 974.4L98.5 974.4L99.6 974.4L100.8 974.4L101.9 974.4L103.1 974.4L104.2 974.4L105.3 974.4L106.5 974.4L107.6 974.4L108.8 974.4L109.9 974.4L111.1 974.4L112.2 974.4L113.3 974.4L114.5 974.4L115.6 974.4L116.8 974.4L117.9 974.4L119.1 974.4L120.2 974.4L121.3 974.4L122.5 974.4L123.6 974.4L124.8 974.4L125.9 974.4L127 974.4L128.2 974.4L129.3 974.4L130.5 974.4L131.6 974.4L132.8 974.4L133.9 974.4L135 974.4L136.2 974.4L137.3 974.4L138.5 974.4L139.6 974.4L140.8 974.4L141.9 974.4L143 974.4L144.2 974.4L145.3 974.4L146.5 974.4L147.6 974.4L148.7 974.4L149.9 974.4L151 974.4L152.2 974.4L153.3 974.4L154.5 974.4L155.6 974.4L156.7 974.4L157.9 974.4L159 974.4L160.2 974.4L161.3 974.4L162.5 974.4L163.6 974.4L164.7 974.4L165.9 974.4L167 974.4L168.2 974.4L169.3 974.4L170.4 974.4L171.6 974.4L172.7 974.4L173.9 974.4L175 974.4L176.2 974.4L177.3 974.4L178.4 974.4L179.6 974.4L180.7 974.4L181.9 974.4L183 974.4L184.2 974.4L185.3 974.4L186.4 974.4L187.6 974.4L188.7 974.4L189.9 974.4L191 974.4L192.1 974.4L193.3 974.4L194.4 974.4L195.6 974.4L196.7 974.4L197.9 974.4L199 974.4L200.1 974.4L201.3 974.4L202.4 974.4L203.6 974.4L204.7 974.4L205.9 974.4L207 974.4L208.1 974.4L209.3 974.4L210.4 974.4L211.6 974.4L212.7 974.4L213.8 974.4L215 974.4L216.1 974.4L217.3 974.4L218.4 974.4L219.6 974.4L220.7 974.4L221.8 974.4L223 974.4L224.1 974.4L225.3 974.4L226.4 974.4L227.6 974.4L228.7 974.4L229.8 974.4L231 974.4L232.1 974.4L233.3 974.4L234.4 974.4L235.5 974.4L236.7 974.4L237.8 974.4L239 974.4L240.1 974.4L241.3 974.4L242.4 974.4L243.5 974.4L244.7 974.4L245.8 974.4L247 974.4L248.1 974.4L249.3 974.4L250.4 974.4L251.5 974.4L252.7 974.4L253.8 974.4L255 974.4L256.1 974.4L257.2 974.4L258.4 974.4L259.5 974.4L260.7 974.4L261.8 974.4L263 974.4L264.1 974.4L265.2 974.4L266.4 974.4L267.5 974.4L268.7 974.4L269.8 974.4L271 974.4L272.1 974.4L273.2 974.4L274.4 974.4L275.5 974.4L276.7 974.4L277.8 974.4L278.9 974.4L280.1 974.4L281.2 974.4L282.4 974.4L283.5 974.4L284.7 974.4L285.8 974.4L286.9 974.4L288.1 974.4L289.2 974.4L290.4 974.4L291.5 974.4L292.7 974.4L293.8 974.4L294.9 974.4L296.1 974.4L297.2 974.4L298.4 974.4L299.5 974.4L300.6 974.4L301.8 974.4L302.9 974.4L304.1 974.4L305.2 974.4L306.4 974.4L307.5 974.4L308.6 974.4L309.8 974.4L310.9 974.4L312.1 974.4L313.2 974.4L314.4 974.4L315.5 974.4L316.6 974.4L317.8 974.4L318.9 974.4L320.1 974.4L321.2 974.4L322.3 974.4L323.5 974.4L324.6 974.4L325.8 974.4L326.9 974.4L328.1 974.4L329.2 974.4L330.3 974.4L331.5 974.4L332.6 974.4L333.8 974.4L334.9 974.4L336.1 974.4L337.2 974.4L338.3 974.4L339.5 974.4L340.6 974.4L341.8 974.4L342.9 974.4L344 974.4L345.2 974.4L346.3 974.4L347.5 974.4L348.6 974.4L349.8 974.4L350.9 974.4L352 974.4L353.2 974.4L354.3 974.4L355.5 974.4L356.6 974.4L357.8 974.4L358.9 974.3L360 974.3L361.2 974.2L362.3 974L363.5 973.9L364.6 973.8L365.7 973.6L366.9 973.5L368 973.3L369.2 973.1L370.3 973L371.5 972.8L372.6 972.6L373.7 972.5L374.9 972.3L376 972.1L377.2 971.9L378.3 971.7L379.5 971.4L380.6 971.2L381.7 970.9L382.9 970.6L384 970.2L385.2 969.8L386.3 969.2L387.4 968.4L388.6 967.3L389.7 966.1L390.9 964.8L392 963.5L393.2 962.2L394.3 961.1L395.4 960.1L396.6 959.4L397.7 958.7L398.9 958L400 957.4L401.2 956.8L402.3 956.2L403.4 955.8L404.6 955.4L405.7 955.1L406.9 954.9L408 954.7L409.1 954.5L410.3 954.4L411.4 954.2L412.6 954.1L413.7 954L414.9 953.9L416 953.8L417.1 953.6L418.3 953.5L419.4 953.3L420.6 953L421.7 952.8L422.9 952.4L424 952L425.1 951.1L426.3 949.8L427.4 948.3L428.6 946.2L429.7 943.1L430.8 939.1L432 934.5L433.1 929.7L434.3 924.8L435.4 919.4L436.6 913.5L437.7 907.3L438.8 900.8L440 894.2L441.1 887.8L442.3 881.4L443.4 874.2L444.6 866.8L445.7 860.1L446.8 854.6L448 851L449.1 848.2L450.3 845.6L451.4 843.3L452.5 841.4L453.7 839.9L454.8 838.9L456 838.6L457.1 838.9L458.3 839.8L459.4 841.1L460.5 842.9L461.7 844.9L462.8 847L464 849.3L465.1 851.6L466.3 854.7L467.4 858.3L468.5 862.5L469.7 866.9L470.8 871.5L472 876.2L473.1 880.8L474.2 885.2L475.4 889.2L476.5 893.1L477.7 896.9L478.8 900.8L480 904.6L481.1 908.4L482.2 912.1L483.4 915.8L484.5 919.4L485.7 923L486.8 926.4L488 929.9L489.1 933.4L490.2 936.9L491.4 940.5L492.5 944L493.7 947.4L494.8 950.6L495.9 953.7L497.1 956.5L498.2 959L499.4 961.2L500.5 963.1L501.7 965L502.8 966.8L503.9 968.4L505.1 969.9L506.2 971.1L507.4 972.1L508.5 972.8L509.7 973.2L510.8 973.6L511.9 974L513.1 974.2L514.2 974.4L515.4 974.4L516.5 974.4L517.6 974.4L518.8 974.4L519.9 974.4L521.1 974.4L522.2 974.4L523.4 974.4L524.5 974.4" fill="none" stroke="#000" stroke-width="1.6"/>
<line x1="150.3" y1="1029" x2="150.3" y2="1034" stroke="#C8C8C8" stroke-width="1"/>
<line x1="269.6" y1="1029" x2="269.6" y2="1034" stroke="#C8C8C8" stroke-width="1"/>
<line x1="388" y1="1029" x2="388" y2="1034" stroke="#C8C8C8" stroke-width="1"/>
<line x1="506.2" y1="1029" x2="506.2" y2="1034" stroke="#C8C8C8" stroke-width="1"/>
<text x="120.2" y="1040" font-size="13.5" text-anchor="middle" font-weight="bold" letter-spacing="-0.8">700</text>
<text x="235" y="1040" font-size="13.5" text-anchor="middle" font-weight="bold" letter-spacing="-0.8">800</text>
<text x="349.8" y="1040" font-size="13.5" text-anchor="middle" font-weight="bold" letter-spacing="-0.8">900</text>
<text x="464.6" y="1040" font-size="13.5" text-anchor="middle" font-weight="bold" letter-spacing="-0.8">1000</text>
<text x="293.5" y="1074.5" font-size="27" text-anchor="middle" letter-spacing="-0.5" stroke="#000" stroke-width="0.7">N of foods</text>
<text x="140" y="616.4" font-size="21.4" font-weight="bold" fill="#E24A33" letter-spacing="-0.4">AF:968 ± 31</text>
<text x="143.7" y="695.8" font-size="21.4" font-weight="bold" fill="#5BC2D2" letter-spacing="-0.4">AM:976 ± 29</text>
<text x="144.5" y="777.5" font-size="21.4" font-weight="bold" fill="#3C5488" letter-spacing="-0.4">EU:983 ± 27</text>
<text x="144" y="858.5" font-size="21.4" font-weight="bold" fill="#EC9A84" letter-spacing="-0.4">OC:988 ± 18</text>
<text x="144.5" y="939.5" font-size="21.4" font-weight="bold" fill="#3DAA85" letter-spacing="-0.4">AS:991 ± 20</text>
<text x="67.7" y="535.8" font-size="14.2" font-weight="bold" letter-spacing="-0.6">continent</text>
<rect x="67.9" y="545.1" width="14.3" height="14.3" fill="#48B08C" stroke="#111" stroke-width="1.3"/>
<text x="90.6" y="557.6" font-size="13.5" font-weight="bold" letter-spacing="-0.6">AS</text>
<rect x="67.9" y="560.9" width="14.3" height="14.3" fill="#EE937A" stroke="#111" stroke-width="1.3"/>
<text x="90.6" y="573.4" font-size="13.5" font-weight="bold" letter-spacing="-0.6">OC</text>
<rect x="67.9" y="576.7" width="14.3" height="14.3" fill="#3E5891" stroke="#111" stroke-width="1.3"/>
<text x="90.6" y="589.2" font-size="13.5" font-weight="bold" letter-spacing="-0.6">EU</text>
<rect x="67.9" y="592.5" width="14.3" height="14.3" fill="#5FC6D6" stroke="#111" stroke-width="1.3"/>
<text x="90.6" y="605" font-size="13.5" font-weight="bold" letter-spacing="-0.6">AM</text>
<rect x="67.9" y="608.3" width="14.3" height="14.3" fill="#E8473A" stroke="#111" stroke-width="1.3"/>
<text x="90.6" y="620.8" font-size="13.5" font-weight="bold" letter-spacing="-0.6">AF</text>
<line x1="793.6" y1="510.5" x2="793.6" y2="829.5" stroke="#9A9A9A" stroke-width="1"/>
<line x1="793.6" y1="828.8" x2="1129" y2="828.8" stroke="#222" stroke-width="1.4"/>
<line x1="790.5" y1="827.6" x2="793.6" y2="827.6" stroke="#9A9A9A" stroke-width="1"/>
<text x="789.5" y="834.1" font-size="18.5" text-anchor="end" fill="#4D4D4D" letter-spacing="-0.5">0</text>
<line x1="790.5" y1="744.2" x2="793.6" y2="744.2" stroke="#9A9A9A" stroke-width="1"/>
<text x="789.5" y="750.7" font-size="18.5" text-anchor="end" fill="#4D4D4D" letter-spacing="-0.5">300</text>
<line x1="790.5" y1="660.9" x2="793.6" y2="660.9" stroke="#9A9A9A" stroke-width="1"/>
<text x="789.5" y="667.4" font-size="18.5" text-anchor="end" fill="#4D4D4D" letter-spacing="-0.5">600</text>
<line x1="790.5" y1="577.5" x2="793.6" y2="577.5" stroke="#9A9A9A" stroke-width="1"/>
<text x="789.5" y="584" font-size="18.5" text-anchor="end" fill="#4D4D4D" letter-spacing="-0.5">900</text>
<text x="730" y="684" font-size="25.5" text-anchor="middle" transform="rotate(-90 730 684)">N of foods</text>
<rect x="827.4" y="540.3" width="27.8" height="288.5" fill="#383838"/>
<text x="842.8" y="526.5" font-size="24.5" text-anchor="middle" fill="#222">1034</text>
<rect x="875.5" y="825.7" width="27.8" height="3.1" fill="#383838"/>
<text x="889.4" y="812.4" font-size="24.5" text-anchor="middle" fill="#222">7</text>
<rect x="923.3" y="826.2" width="27.8" height="2.6" fill="#383838"/>
<text x="937.2" y="812.4" font-size="24.5" text-anchor="middle" fill="#222">5</text>
<rect x="971.6" y="826.2" width="27.8" height="2.6" fill="#383838"/>
<text x="985.5" y="812.4" font-size="24.5" text-anchor="middle" fill="#222">5</text>
<rect x="1019.7" y="827" width="27.8" height="1.8" fill="#383838"/>
<text x="1033.6" y="812.4" font-size="24.5" text-anchor="middle" fill="#222">2</text>
<rect x="1067.7" y="827.3" width="27.8" height="1.5" fill="#383838"/>
<text x="1081.6" y="812.4" font-size="24.5" text-anchor="middle" fill="#222">1</text>
<rect x="793.6" y="833.1" width="335.4" height="28.4" fill="#F4F4F4"/>
<rect x="793.6" y="890.8" width="335.4" height="28.4" fill="#F4F4F4"/>
<rect x="793.6" y="948.3" width="335.4" height="28.4" fill="#F4F4F4"/>
<line x1="841.3" y1="847.3" x2="841.3" y2="962.5" stroke="#383838" stroke-width="1.8"/>
<circle cx="841.3" cy="847.3" r="4.8" fill="#383838"/>
<circle cx="841.3" cy="876" r="4.8" fill="#383838"/>
<circle cx="841.3" cy="905" r="4.8" fill="#383838"/>
<circle cx="841.3" cy="933.9" r="4.8" fill="#383838"/>
<circle cx="841.3" cy="962.5" r="4.8" fill="#383838"/>
<circle cx="889.4" cy="847.3" r="4.6" fill="#E1E1E1"/>
<line x1="889.4" y1="876" x2="889.4" y2="962.5" stroke="#383838" stroke-width="1.8"/>
<circle cx="889.4" cy="876" r="4.8" fill="#383838"/>
<circle cx="889.4" cy="905" r="4.8" fill="#383838"/>
<circle cx="889.4" cy="933.9" r="4.8" fill="#383838"/>
<circle cx="889.4" cy="962.5" r="4.8" fill="#383838"/>
<circle cx="937.2" cy="847.3" r="4.6" fill="#E1E1E1"/>
<circle cx="937.2" cy="876" r="4.6" fill="#E1E1E1"/>
<circle cx="937.2" cy="905" r="4.6" fill="#E1E1E1"/>
<circle cx="937.2" cy="933.9" r="4.6" fill="#E1E1E1"/>
<circle cx="937.2" cy="962.5" r="4.8" fill="#383838"/>
<circle cx="985.5" cy="847.3" r="4.6" fill="#E1E1E1"/>
<circle cx="985.5" cy="876" r="4.6" fill="#E1E1E1"/>
<line x1="985.5" y1="905" x2="985.5" y2="962.5" stroke="#383838" stroke-width="1.8"/>
<circle cx="985.5" cy="905" r="4.8" fill="#383838"/>
<circle cx="985.5" cy="933.9" r="4.8" fill="#383838"/>
<circle cx="985.5" cy="962.5" r="4.8" fill="#383838"/>
<circle cx="1033.6" cy="847.3" r="4.6" fill="#E1E1E1"/>
<circle cx="1033.6" cy="876" r="4.6" fill="#E1E1E1"/>
<circle cx="1033.6" cy="905" r="4.6" fill="#E1E1E1"/>
<line x1="1033.6" y1="933.9" x2="1033.6" y2="962.5" stroke="#383838" stroke-width="1.8"/>
<circle cx="1033.6" cy="933.9" r="4.8" fill="#383838"/>
<circle cx="1033.6" cy="962.5" r="4.8" fill="#383838"/>
<circle cx="1081.6" cy="933.9" r="4.6" fill="#E1E1E1"/>
<line x1="1081.6" y1="847.3" x2="1081.6" y2="962.5" stroke="#383838" stroke-width="1.8"/>
<circle cx="1081.6" cy="847.3" r="4.8" fill="#383838"/>
<circle cx="1081.6" cy="876" r="4.8" fill="#383838"/>
<circle cx="1081.6" cy="905" r="4.8" fill="#383838"/>
<circle cx="1081.6" cy="962.5" r="4.8" fill="#383838"/>
<rect x="619.9" y="841" width="106.8" height="12.6" fill="#EE937A"/>
<text x="748" y="854.3" font-size="19.5" fill="#111">OC</text>
<rect x="619" y="869.7" width="107.7" height="12.6" fill="#E8473A"/>
<text x="748" y="883" font-size="19.5" fill="#111">AF</text>
<rect x="619" y="898.7" width="107.7" height="12.6" fill="#5FC6D6"/>
<text x="748" y="912" font-size="19.5" fill="#111">AM</text>
<rect x="618.4" y="927.6" width="108.3" height="12.6" fill="#3E5891"/>
<text x="748" y="940.9" font-size="19.5" fill="#111">EU</text>
<rect x="618.4" y="956.2" width="108.3" height="12.6" fill="#48B08C"/>
<text x="748" y="969.5" font-size="19.5" fill="#111">AS</text>
<line x1="613.9" y1="977.2" x2="730.3" y2="977.2" stroke="#333" stroke-width="1.2"/>
<line x1="624.7" y1="977.2" x2="624.7" y2="980" stroke="#777" stroke-width="0.8"/>
<text x="624.7" y="992" font-size="11.5" text-anchor="middle" fill="#555" letter-spacing="-0.4">1000</text>
<line x1="650.2" y1="977.2" x2="650.2" y2="980" stroke="#777" stroke-width="0.8"/>
<text x="650.2" y="992" font-size="11.5" text-anchor="middle" fill="#555" letter-spacing="-0.4">750</text>
<line x1="675.7" y1="977.2" x2="675.7" y2="980" stroke="#777" stroke-width="0.8"/>
<text x="675.7" y="992" font-size="11.5" text-anchor="middle" fill="#555" letter-spacing="-0.4">500</text>
<line x1="701.2" y1="977.2" x2="701.2" y2="980" stroke="#777" stroke-width="0.8"/>
<text x="701.2" y="992" font-size="11.5" text-anchor="middle" fill="#555" letter-spacing="-0.4">250</text>
<line x1="726.7" y1="977.2" x2="726.7" y2="980" stroke="#777" stroke-width="0.8"/>
<text x="726.7" y="992" font-size="11.5" text-anchor="middle" fill="#555" letter-spacing="-0.4">0</text>
<text x="671.5" y="1028" font-size="27" text-anchor="middle" fill="#111" letter-spacing="-0.5" stroke="#111" stroke-width="0.7">N of foods</text>
<text x="1183" y="534.5" font-size="46" stroke="#000" stroke-width="0.8">e</text>
<text x="1308" y="538.5" font-size="19.8">Enzyme of Diff.Continents</text>
<rect x="1548.4" y="518.6" width="26" height="26" fill="#DC4A3C" stroke="#DC4A3C" stroke-width="1.5" fill-opacity="0.1"/>
<circle cx="1561.4" cy="531.6" r="4.3" fill="#DC4A3C"/>
<text x="1585.7" y="538.8" font-size="18.5">AF</text>
<rect x="1617.3" y="518.6" width="26" height="26" fill="#5DBCCB" stroke="#5DBCCB" stroke-width="1.5" fill-opacity="0.1"/>
<circle cx="1630.3" cy="531.6" r="4.3" fill="#5DBCCB"/>
<text x="1653.6" y="538.8" font-size="18.5">AM</text>
<rect x="1687.8" y="518.6" width="26" height="26" fill="#3FA67F" stroke="#3FA67F" stroke-width="1.5" fill-opacity="0.1"/>
<circle cx="1700.8" cy="531.6" r="4.3" fill="#3FA67F"/>
<text x="1724" y="538.8" font-size="18.5">AS</text>
<rect x="1755.6" y="518.6" width="26" height="26" fill="#34508A" stroke="#34508A" stroke-width="1.5" fill-opacity="0.1"/>
<circle cx="1768.6" cy="531.6" r="4.3" fill="#34508A"/>
<text x="1793" y="538.8" font-size="18.5">EU</text>
<rect x="1825.1" y="518.6" width="26" height="26" fill="#E49B82" stroke="#E49B82" stroke-width="1.5" fill-opacity="0.1"/>
<circle cx="1838.1" cy="531.6" r="4.3" fill="#E49B82"/>
<text x="1862" y="538.8" font-size="18.5">OC</text>
<line x1="1285.7" y1="576.5" x2="1285.7" y2="976.3" stroke="#000" stroke-width="1.4"/>
<line x1="1285" y1="975.7" x2="2051" y2="975.7" stroke="#000" stroke-width="1.4"/>
<line x1="1281" y1="629.6" x2="1285.7" y2="629.6" stroke="#000" stroke-width="1.2"/>
<text x="1277" y="637.1" font-size="21" text-anchor="end">0.1</text>
<line x1="1281" y1="701.3" x2="1285.7" y2="701.3" stroke="#000" stroke-width="1.2"/>
<text x="1277" y="708.8" font-size="21" text-anchor="end">0.0</text>
<line x1="1281" y1="773" x2="1285.7" y2="773" stroke="#000" stroke-width="1.2"/>
<text x="1277" y="780.5" font-size="21" text-anchor="end">−0.1</text>
<line x1="1281" y1="844.7" x2="1285.7" y2="844.7" stroke="#000" stroke-width="1.2"/>
<text x="1277" y="852.2" font-size="21" text-anchor="end">−0.2</text>
<line x1="1281" y1="916.4" x2="1285.7" y2="916.4" stroke="#000" stroke-width="1.2"/>
<text x="1277" y="923.9" font-size="21" text-anchor="end">−0.3</text>
<line x1="1307.4" y1="975.7" x2="1307.4" y2="980.5" stroke="#000" stroke-width="1.2"/>
<text x="1307.4" y="1000" font-size="21" text-anchor="middle">−0.4</text>
<line x1="1519" y1="975.7" x2="1519" y2="980.5" stroke="#000" stroke-width="1.2"/>
<text x="1519" y="1000" font-size="21" text-anchor="middle">−0.2</text>
<line x1="1730.6" y1="975.7" x2="1730.6" y2="980.5" stroke="#000" stroke-width="1.2"/>
<text x="1730.6" y="1000" font-size="21" text-anchor="middle">0.0</text>
<line x1="1942.2" y1="975.7" x2="1942.2" y2="980.5" stroke="#000" stroke-width="1.2"/>
<text x="1942.2" y="1000" font-size="21" text-anchor="middle">0.2</text>
<text x="1691" y="1025" font-size="25.6" text-anchor="middle">PCoA 1 (36.73%)</text>
<text x="1228.8" y="754.5" font-size="26.6" text-anchor="middle" transform="rotate(-90 1228.8 754.5)">PCoA 2 (11.18%)</text>
<path class="m4" d="M1870 744L1758 704L1662 743L1775 692L1869 735L1659 680L1585 735L1746 709L1527 752L1841 704L1593 685L1608 724L1567 684L1717 701L1601 676L1631 683L1672 683L1845 700L1770 724L1883 733L1631 672L1631 735L1767 740L1593 694L1821 675L1627 736L1680 681L1644 725L1849 693L1961 817L1945 786L1866 733L1893 742L1933 791L2005 898"/>
<path class="m5" d="M1618 664L1793 687L1813 753L1755 739L1876 744L1520 704L1789 753L1617 731L1606 700L1604 696L1655 723L1709 701L1795 693L1535 701L1551 762L1840 722L1494 691L1876 705L1494 747L1643 735L1776 724L1841 706L1830 697L1694 759L1842 691L1764 728L1497 764L1608 754L1734 725L1518 764L1490 786L1815 707L1804 697"/>
<path class="m6" d="M1814 652L1673 632L1881 703L1567 678L1702 636L1631 639L1511 687L1751 629L1559 668L1651 660L1673 636L1834 649L1759 625L1810 643L1595 654L1692 652L1724 644L1512 659L1851 663L1810 631L1563 653L1503 698L1869 661L1815 646L1774 639L1842 639L1638 652L1749 627L1635 651L1519 695L1848 650L1816 631L1785 624L1789 639L1638 641L1841 644L1579 679L1613 645L1549 687L1707 645L1734 640L1604 642L1885 676L1637 646L1566 649L1676 649L1734 651L1520 676L1497 684L1577 700L1502 704L1570 698L1583 689L1563 691L1585 693L1514 688L1890 700L1870 699L1951 781L1963 811L1913 736L1865 665L1913 737L1979 828L1890 703L1911 727L1910 747L1898 710L1986 826L1932 752L1871 674L1881 677L1541 725L1604 679L1619 711L1626 739"/>
<path class="m7" d="M1647 681L1568 667L1669 710L1511 742L1658 753L1706 753L1721 742L1740 739L1704 699L1756 706L1634 729L1629 730L1643 697L1705 760L1547 715L1520 757L1493 737L1497 735L1524 750L1493 751L1534 761L1520 748L1517 758"/>
<path class="m3" d="M1577 798L1571 793L1577 794L1525 772L1532 809L1513 802L1500 766L1561 787L1577 798L1541 762L1493 734L1545 852L1536 843L1545 849L1905 827L1794 820L1736 827L1821 784L1598 827L1979 844L1510 865"/>
<path class="m7" d="M1539 699L1528 679L1511 692L1680 694L1611 741L1616 745L1607 756L1541 728L1604 719L1691 752L1540 720L1512 768L1677 754L1666 736L1531 736L1519 757L1746 734L1701 729L1577 759L1652 741L1536 758L1550 768L1550 734L1537 749L1563 742L1539 740L1534 755L1526 758L1511 742L1563 714L1548 736L1515 751L1557 748"/>
<path class="m5" d="M1771 662L1729 681L1629 682L1761 722L1512 732L1845 732L1614 746L1575 738L1858 706L1500 711L1823 723L1606 739L1556 707L1555 743L1732 739L1536 731L1586 719L1551 698L1488 718L1571 770L1708 702L1644 755L1498 761L1663 704L1632 692L1671 766L1715 696L1763 714L1689 747L1673 747L1653 751L1539 699L1882 692L1503 695L1833 693L1488 692L1843 694L1565 711L1599 717L1559 687L1730 687L1802 735"/>
<path class="m3" d="M1493 798L1514 793L1501 807L1518 805L1503 818L1522 781L1564 792L1497 778L1504 775L1511 754L1527 783L1692 799L1589 804L1805 785L1956 819L1930 823L1924 849L1933 868"/>
<path class="m4" d="M1595 731L1797 723L1856 747L1718 695L1621 700L1693 675L1827 713L1618 722L1583 727L1846 698L1779 717L1865 711L1832 691L1800 699L1550 712L1853 730L1752 675L1818 735L1889 739L1672 665L1924 799L1840 696L1940 792L1899 742L1863 699L1881 743L1852 701L1879 740L1911 781L1872 717L1951 839L1847 697L1853 696L1970 900L1527 796"/>
<path class="m6" d="M1707 644L1742 636L1657 632L1694 662L1718 622L1514 665L1865 654L1874 672L1507 661L1851 679L1737 626L1495 699L1572 667L1540 676L1755 653L1664 674L1641 632L1818 641L1536 693L1524 687L1557 665L1883 685L1577 654L1536 674L1560 678L1754 646L1700 630L1835 640L1672 627L1724 647L1599 658L1793 623L1513 655L1868 681L1837 647L1668 633L1769 634L1673 648L1829 643L1752 637L1658 641L1684 645L1609 670L1514 667L1682 661L1541 658L1553 668L1563 674L1554 685L1571 669L1509 697L1536 661L1488 657L1578 693L1513 702L1504 704L1513 670L1533 677L1555 661L1569 693L1572 684L1969 808L1895 694L1934 732L1877 685L1986 830L1958 790L1943 792L1918 716L1962 814L1871 659L1944 776L1638 697L1574 750L1697 740L1669 744L1497 755L1710 717L1624 696L1496 770"/>
<path class="m4" d="M1865 702L1612 710L1778 690L1777 709L1537 673L1888 692L1741 675L1720 697L1559 734L1672 687L1879 736L1879 706L1600 679L1598 740L1631 679L1530 710L1566 706L1641 689L1623 724L1640 728L1651 698L1827 689L1738 717L1578 683L1820 731L1663 741L1725 732L1890 744L1642 687L1615 708L1683 670L1710 722L1672 737L1551 699L1858 684L1883 726L1881 726L1884 727L1888 736L1952 834L1923 769L1850 704L1874 721L1984 851L1875 717L1956 818L1935 782L1923 763"/>
<path class="m3" d="M1572 809L1508 779L1543 780L1528 777L1568 786L1553 813L1580 763L1493 809L1545 800L1571 777L1563 763L1527 771L1501 760L1634 842L1733 813L1690 773L1815 784L1614 821L1864 835L1931 850L1475 782"/>
<path class="m6" d="M1796 638L1606 671L1598 664L1501 659L1523 672L1863 674L1624 637L1547 652L1541 651L1737 641L1864 670L1664 651L1694 629L1562 671L1507 684L1715 622L1832 649L1660 633L1526 689L1742 621L1789 635L1815 632L1851 649L1557 661L1644 670L1877 663L1554 699L1853 662L1649 652L1757 637L1654 629L1636 650L1664 646L1543 678L1556 648L1535 701L1493 696L1563 665L1516 669L1551 693L1575 668L1878 696L1954 790L1984 825L1932 759L1911 734L1923 739L1895 709L1988 811L1922 726L1929 751L1903 701L1892 724L1945 784L1941 767L1934 754L1919 729L1591 763L1754 699L1827 738L1607 694L1824 754L1632 741L1723 731L1828 741L1713 726L1521 738L1728 759L1739 722L1566 756L2003 930"/>
<path class="m7" d="M1673 685L1621 723L1644 721L1736 732L1695 750L1727 751L1679 728L1655 713L1721 754L1614 706L1561 732L1559 722L1556 730L1553 760L1509 739L1557 735L1519 746L1533 725L1522 747L1519 756"/>
<path class="m5" d="M1492 659L1567 688L1657 673L1746 680L1489 700L1618 722L1685 738L1522 770L1517 695L1498 721L1796 747L1680 759L1722 703L1689 707L1656 760L1887 737L1753 696L1896 697L1862 709L1589 733L1825 754L1491 758L1685 694L1667 758L1511 701L1568 764L1548 746L1899 719L1491 740L1586 688L1682 700L1766 751L1872 733L1523 696L1551 705L1866 711L1709 742L1555 757L1755 701L1781 739L1592 776L1746 723L1887 740L1675 701L1766 756"/>
<path class="m6" d="M1844 649L1577 663L1489 670L1688 627L1883 689L1692 646L1817 631L1548 668L1547 666L1756 644L1547 664L1573 660L1502 662L1695 627L1691 633L1632 635L1658 641L1694 644L1808 652L1749 639L1791 648L1499 683L1713 624L1614 639L1736 630L1787 647L1796 635L1546 677L1853 647L1563 657L1500 688L1593 654L1541 659L1851 648L1743 624L1762 633L1620 653L1674 671L1566 653L1642 641L1635 654L1832 657L1624 667L1663 669L1510 675L1524 669L1539 675L1583 664L1574 706L1506 698L1578 666L1545 688L1887 688L1870 675L1949 751L1920 732L1963 807L1921 750L1970 818L1912 713L1969 797L1885 695L1869 700L1852 676L1854 658L1900 721L1886 708L1881 679L1928 763L1945 773L1948 774L1881 688L1710 707L1595 760L1851 715L1835 757L1818 695L1592 766"/>
<path class="m3" d="M1579 788L1494 823L1507 791L1574 815L1502 784L1523 757L1511 781L1524 789L1509 738L1526 731L1751 843L1581 778L1928 833L1989 937"/>
<path class="m4" d="M1846 741L1865 719L1621 719L1726 713L1599 724L1571 741L1632 734L1716 729L1869 739L1642 718L1643 710L1615 678L1566 734L1665 703L1840 692L1886 693L1727 726L1821 704L1883 701L1834 745L1576 698L1826 745L1715 663L1749 736L1662 730L1832 731L1721 711L1546 728L1644 692L1523 713L1848 686L1859 707L1889 753L1890 734L1878 731L1885 907"/>
<path class="m7" d="M1566 680L1535 744L1589 730L1536 736L1602 745L1674 742L1492 743L1721 718L1581 707L1581 742L1696 713L1592 736L1553 760L1698 724L1491 741L1490 747L1526 738L1517 739L1559 764"/>
<path class="m5" d="M1882 714L1763 709L1498 706L1562 713L1754 715L1507 776L1740 710L1728 693L1631 723L1845 708L1840 748L1565 762L1608 687L1614 755L1708 723L1784 705L1689 721L1721 749L1889 706L1829 725L1553 745L1867 692L1489 702L1584 712L1614 679L1700 703L1748 737L1553 753"/>
<path class="m4" d="M1521 704L1804 682L1675 681L1833 709L1780 718L1819 683L1739 725L1828 710L1628 732L1885 701L1647 670L1749 712L1571 671L1621 668L1662 717L1676 673L1553 688L1721 668L1583 677L1593 694L1691 712L1817 678L1586 745L1828 742L1647 728L1625 735L1742 697L1782 687L1804 679L1711 730L1765 693L1553 727L1773 744L1679 684L1932 797L1932 785L1849 698L1956 827L1954 811L1903 762L1875 734L1853 687L2000 880L2007 940L1534 800"/>
<path class="m7" d="M1681 699L1640 695L1610 681L1658 671L1626 705L1756 739L1678 732L1632 746L1759 708L1589 709L1505 718L1552 762L1523 768L1602 739L1548 736L1565 736L1519 740L1537 751L1535 734L1539 719L1549 713L1488 748L1516 729"/>
<path class="m6" d="M1616 652L1754 621L1539 674L1847 673L1856 663L1582 662L1497 699L1859 656L1654 632L1577 663L1625 639L1738 633L1740 625L1851 645L1503 667L1749 635L1730 639L1807 641L1588 650L1606 643L1539 667L1776 632L1635 654L1790 631L1880 681L1786 621L1612 643L1790 627L1723 644L1808 646L1665 628L1593 678L1839 667L1516 664L1612 644L1567 646L1613 653L1759 649L1637 667L1677 647L1738 642L1793 640L1786 654L1520 667L1537 663L1547 680L1521 673L1575 668L1491 658L1573 692L1562 682L1500 676L1992 828L1981 822L1976 807L1927 725L1892 706L1940 778L1866 654L1923 740L1859 660L1908 731L1869 673L1874 678L1967 804L1927 753L1936 771L1922 745L1909 693L1695 758L1723 702L1551 689L1759 756L1724 699L1651 763L1592 764L1815 747L1829 740L1641 704L1715 719L1625 733L1988 858"/>
<path class="m3" d="M1502 786L1535 800L1496 792L1556 796L1553 786L1566 756L1522 776L1491 788L1516 749L1571 804L1536 811L1522 788L1743 832L1731 839L1636 816L1988 800L1863 819L1739 792L1689 792L1797 798L1679 819L1746 840L1963 845L1963 881"/>
<path class="m5" d="M1579 657L1745 663L1682 750L1849 717L1844 712L1540 728L1509 764L1527 723L1878 736L1826 731L1575 752L1522 750L1754 698L1795 700L1641 743L1695 702L1791 684L1862 736L1866 731L1680 719L1579 718L1885 733L1549 718L1533 768L1731 730L1785 723L1694 678L1520 717L1633 712L1761 698L1682 682L1891 695L1541 748L1625 703L1493 758"/>
<path class="m3" d="M1524 754L1540 854L1535 839L1861 772L1967 826L1725 788L1878 797L1898 774L1629 848L1932 861L1894 841L1951 851"/>
<path class="m4" d="M1819 715L1751 697L1861 709L1527 674L1571 709L1803 692L1743 706L1594 724L1856 704L1834 704L1886 703L1872 722L1580 706L1772 673L1612 744L1789 735L1604 719L1635 683L1751 692L1700 688L1875 730L1648 687L1629 690L1636 694L1541 685L1859 705L1960 822L1850 715L1925 781L1842 694L1892 744L1958 811L1863 709L1969 824L1922 770L1995 942L1523 783"/>
<path class="m7" d="M1582 661L1635 662L1563 745L1754 742L1704 752L1520 737L1753 736L1697 735L1628 706L1682 732L1739 714L1686 726L1680 753L1552 774L1551 756L1516 757L1538 701L1546 752L1541 763L1527 739L1512 745L1498 732L1527 697L1497 776"/>
<path class="m5" d="M1583 667L1775 657L1614 680L1713 663L1582 676L1661 682L1503 710L1797 725L1724 741L1779 709L1623 678L1787 735L1795 721L1818 723L1536 730L1813 722L1534 714L1592 769L1657 743L1540 731L1653 734L1808 755L1693 714L1891 736L1884 726L1677 736L1770 714L1791 750L1684 719L1603 721L1862 697L1797 710L1568 713L1864 690L1746 692L1698 747L1710 737"/>
<path class="m6" d="M1835 634L1608 651L1735 644L1586 652L1564 654L1634 648L1641 652L1638 638L1741 640L1662 631L1647 638L1835 662L1564 694L1839 658L1635 642L1499 683L1749 620L1489 658L1776 636L1783 638L1727 628L1830 644L1538 695L1838 647L1750 632L1739 662L1573 663L1618 639L1609 647L1561 649L1796 629L1593 660L1805 627L1639 639L1882 688L1533 656L1680 648L1600 647L1692 662L1737 620L1689 664L1817 629L1788 633L1777 637L1650 636L1517 679L1672 657L1813 652L1800 633L1665 635L1841 653L1704 632L1812 640L1769 654L1566 670L1496 668L1510 684L1500 702L1551 657L1531 657L1500 700L1533 702L1975 800L1963 808L1974 832L1985 834L1872 684L1946 755L1920 743L1715 757L1652 772L1577 755L1751 772L1661 752L1588 737L1760 693"/>
<path class="m6" d="M1804 625L1731 627L1673 639L1488 687L1722 623L1714 640L1545 695L1705 646L1872 662L1837 653L1821 643L1609 664L1651 662L1806 646L1506 679L1553 661L1806 630L1532 668L1804 652L1617 663L1702 654L1669 631L1818 656L1839 649L1513 655L1788 653L1641 637L1771 631L1716 624L1585 648L1644 640L1537 661L1558 653L1570 655L1685 645L1838 669L1607 642L1806 657L1570 650L1667 632L1638 669L1816 644L1771 632L1718 643L1654 631L1718 632L1816 663L1794 636L1565 662L1615 642L1589 667L1529 689L1549 662L1491 677L1579 691L1551 680L1528 704L1568 664L1516 692L1493 669L1557 696L1509 681L1494 688L1516 675L1489 705L1522 686L1584 668L1532 707L1581 678L1859 652L1929 743L1863 688L1953 791L1932 771L1980 834L1935 757L1910 737L1920 744L1934 755L1918 741L1973 813L1936 754L1872 704L1617 697L1672 742L1746 679L1528 730L1677 721L1565 772L1612 678"/>
<path class="m4" d="M1617 726L1521 720L1851 735L1651 714L1609 737L1672 680L1795 694L1671 726L1529 692L1613 705L1665 686L1764 712L1755 734L1548 709L1747 680L1568 732L1569 732L1689 725L1672 684L1845 721L1887 686L1626 676L1567 709L1833 719L1848 688L1971 799L1942 811L1874 731L1919 770L1954 814L1950 789L1897 747L1861 682L1938 925L1536 781L1535 798L1536 788"/>
<path class="m3" d="M1556 797L1502 805L1500 790L1518 783L1546 820L1572 793L1494 766L1569 816L1553 821L1646 776L1947 815L1768 841L1614 787L1718 828L1740 842L1961 840"/>
<path class="m5" d="M1717 655L1547 673L1555 751L1654 716L1492 687L1723 690L1755 711L1721 727L1830 721L1861 717L1586 772L1653 737L1867 740L1784 702L1533 767L1891 728L1759 736L1696 706L1638 686L1803 693L1851 708L1607 750L1845 704L1862 694L1891 706L1747 727L1867 703L1803 747L1771 720L1833 735L1616 734L1885 718L1790 750L1583 739L1549 781"/>
<path class="m7" d="M1646 700L1633 689L1643 660L1535 750L1753 696L1734 713L1751 730L1735 709L1634 739L1669 720L1593 698L1563 711L1743 721L1592 736L1512 761L1560 716L1594 710L1725 754L1626 732L1547 720L1632 698L1691 733L1624 729L1588 708L1524 743L1511 775L1518 730L1491 735L1510 745"/>
<path class="m6" d="M1690 648L1824 636L1812 652L1722 630L1493 674L1566 683L1657 639L1572 650L1678 647L1532 657L1586 650L1722 645L1611 649L1612 643L1791 637L1693 629L1823 654L1823 635L1705 631L1542 649L1665 644L1793 639L1503 677L1726 635L1513 658L1493 658L1709 635L1864 665L1684 625L1817 628L1794 642L1497 686L1560 652L1542 701L1562 674L1582 678L1489 695L1562 656L1579 658L1933 753L1983 837L1940 767L1862 677L1950 787L1865 655L1974 837L1926 720L1882 701L1879 693L1971 821L1987 832L1890 712L1986 828L1902 701L1878 685L1954 787L1962 804L1841 775L1800 712L1768 761L1796 740L1558 765L1492 755L1761 691L1689 676L1573 742L1553 762L1522 682L1647 693L1585 764L1980 850L2000 920"/>
<path class="m3" d="M1565 796L1491 808L1545 820L1550 781L1521 803L1528 811L1552 791L1505 790L1541 764L1499 794L1560 775L1500 742L1524 786L1524 816L1518 848L1700 840L1956 822L1723 830L1626 775L1809 847L1607 831L1854 789L2003 947"/>
<path class="m7" d="M1560 680L1680 675L1657 682L1498 741L1678 716L1734 749L1733 736L1641 736L1689 721L1581 743L1665 748L1662 704L1573 712L1560 740L1721 745L1508 747L1519 795L1540 740L1536 721L1520 736L1517 734L1558 711L1493 758"/>
<path class="m5" d="M1597 664L1673 657L1585 680L1531 655L1783 665L1589 689L1622 674L1520 688L1551 735L1732 754L1875 729L1716 682L1639 739L1688 694L1493 754L1564 771L1887 732L1617 762L1545 739L1675 680L1614 719L1552 776L1582 711L1676 730L1742 735L1589 697L1533 698L1883 746L1512 682L1562 716L1656 736L1759 726L1521 703L1740 682L1688 721L1770 717L1670 722"/>
<path class="m4" d="M1574 679L1874 714L1544 714L1617 680L1654 702L1775 681L1649 676L1807 721L1575 705L1805 690L1566 750L1558 747L1581 689L1831 740L1812 679L1874 735L1544 728L1888 715L1685 728L1813 718L1804 729L1641 736L1624 737L1762 690L1560 687L1871 728L1557 725L1911 762L1842 692L1980 826L1883 746L1830 693L1848 685L1985 905"/>
<path class="m6" d="M1664 638L1852 668L1685 653L1689 645L1834 646L1582 666L1823 637L1792 624L1849 645L1803 627L1866 664L1651 649L1619 651L1870 678L1836 645L1716 645L1804 636L1525 659L1527 665L1751 632L1818 654L1539 693L1734 625L1844 664L1703 624L1853 661L1675 659L1611 643L1687 645L1873 684L1618 653L1692 657L1774 624L1503 687L1738 646L1565 658L1757 632L1645 667L1788 655L1622 649L1501 674L1603 649L1760 625L1793 642L1510 665L1512 686L1590 663L1696 631L1589 660L1542 662L1560 700L1556 692L1513 698L1504 685L1552 690L1512 689L1505 677L1558 669L1530 679L1525 698L1507 701L1513 692L1970 805L1932 764L1890 718L1931 758L1954 793L1974 786L1916 737L1939 773L1964 804L1931 770L1988 835L1902 710L1887 702L1877 669L1919 723L1996 834L1861 672L1531 696L1746 689L1855 743L1678 675L1817 718"/>
<path class="m4" d="M1879 747L1845 696L1858 722L1708 701L1666 691L1522 708L1828 723L1726 696L1553 749L1839 688L1740 688L1867 696L1676 666L1871 704L1592 699L1878 740L1750 676L1620 683L1731 714L1662 720L1876 701L1675 685L1733 687L1867 709L1559 700L1563 736L1647 696L1592 744L1635 731L1700 669L1850 703L1963 807L1842 692L1957 818L1928 778L1902 734L1917 767L1907 746L1865 699L1950 850L1990 915"/>
<path class="m7" d="M1599 681L1715 734L1503 752L1591 730L1733 733L1516 722L1528 745L1674 763L1632 727L1625 733L1500 726L1545 753L1532 732L1555 742L1561 745L1564 749"/>
<path class="m5" d="M1621 654L1635 679L1492 679L1874 719L1729 685L1754 679L1825 700L1621 706L1760 701L1737 710L1558 683L1713 732L1789 705L1808 709L1619 724L1597 761L1491 758L1711 696L1531 753L1797 745L1744 738L1730 707L1720 759L1796 741L1838 745L1764 716L1633 727L1787 707L1808 747L1666 750L1855 690L1604 689L1645 712L1722 707L1723 687"/>
<path class="m3" d="M1516 778L1519 802L1507 799L1579 789L1530 810L1534 779L1492 792L1494 794L1537 786L1502 743L1494 735L1531 824L1548 836L1846 794L1727 806L1696 827L1774 845L1908 828L1813 845L1898 787L1919 836L1962 831L1980 848L1460 775L1975 872L1985 905L2010 958"/>
<path class="m3" d="M1497 790L1504 789L1560 776L1521 834L1499 805L1503 773L1507 778L1502 736L1513 847L1501 851L1509 822L1696 811L1715 821L1718 810L1880 818L1850 821L1856 865L1965 833"/>
<path class="m5" d="M1693 684L1610 680L1740 683L1678 658L1617 688L1570 720L1548 755L1564 701L1587 719L1602 720L1546 725L1894 749L1573 690L1639 742L1898 693L1674 764L1820 755L1787 700L1646 686L1630 746L1574 733L1540 705L1628 676L1704 757L1557 739L1700 699L1515 704L1583 724"/>
<path class="m6" d="M1736 638L1802 628L1551 652L1504 658L1492 660L1782 639L1725 626L1728 670L1628 637L1715 645L1844 656L1587 654L1568 646L1532 675L1778 623L1588 673L1860 649L1730 635L1792 633L1566 683L1551 657L1746 635L1711 653L1669 643L1638 644L1717 623L1518 662L1519 697L1563 661L1560 678L1744 620L1774 647L1884 691L1774 639L1573 663L1773 623L1668 635L1829 647L1532 660L1862 656L1581 661L1769 630L1780 636L1523 653L1767 660L1865 657L1819 651L1707 628L1778 629L1742 628L1709 625L1687 628L1639 651L1568 691L1870 685L1655 637L1681 668L1496 697L1581 679L1516 682L1516 679L1509 685L1519 699L1567 697L1495 667L1533 699L1489 690L1504 683L1547 676L1525 705L1489 687L1524 688L1516 665L1554 701L1502 705L1880 696L1875 689L1905 734L1912 720L1977 821L1881 693L1848 655L1927 758L1850 717L1785 681L1584 694L1572 702L1605 766L1510 719L1526 752L1820 692L1690 757L1511 688L1716 693L1786 771L1652 723L1814 676L1720 708L1580 700L1612 752L2008 925"/>
<path class="m7" d="M1575 708L1551 736L1623 759L1574 702L1579 744L1505 702L1489 759L1552 737L1504 750L1487 753L1521 737L1500 727"/>
<path class="m4" d="M1768 695L1701 720L1804 681L1786 698L1753 715L1541 724L1612 741L1670 711L1640 699L1682 719L1881 718L1760 702L1744 711L1632 700L1588 692L1619 696L1810 724L1531 694L1676 664L1667 671L1563 706L1608 711L1757 702L1683 668L1862 716L1901 759L1948 812L1964 835L1922 804L1917 799L1868 706L1949 785L1874 727L1960 870"/>
<path class="m4" d="M1566 724L1819 731L1759 677L1718 716L1621 693L1763 691L1709 682L1669 732L1811 743L1636 693L1867 716L1764 697L1543 747L1571 670L1811 714L1846 705L1778 717L1562 699L1648 737L1760 699L1646 674L1828 695L1738 681L1536 684L1889 744L1933 791L1883 747L1935 790L1903 733L1865 705L1840 704L1901 748L1961 831L1956 814L1948 810L1908 750L1963 827L1857 706L1951 810L1960 814L1969 854L1973 841"/>
<path class="m7" d="M1622 664L1665 688L1626 720L1611 737L1705 712L1597 732L1686 723L1521 760L1568 764L1573 751L1759 693L1588 703L1697 760L1604 729L1517 723L1536 745L1538 743L1560 753L1560 751L1488 733L1564 730L1542 753L1495 764L1509 740"/>
<path class="m6" d="M1573 663L1692 647L1594 652L1877 691L1525 651L1872 662L1607 645L1615 638L1786 627L1787 623L1854 668L1756 639L1646 635L1560 667L1695 627L1495 663L1701 643L1827 635L1622 670L1741 628L1498 663L1863 672L1540 684L1560 663L1774 628L1500 671L1510 670L1790 626L1825 635L1716 632L1652 636L1754 637L1695 636L1858 680L1575 660L1783 642L1823 634L1627 635L1669 637L1779 625L1741 637L1748 622L1661 656L1742 622L1600 645L1579 669L1548 676L1562 698L1539 694L1569 687L1512 667L1571 656L1560 687L1510 688L1545 703L1895 695L1884 679L1988 829L1894 707L1929 756L1875 673L1898 711L1849 653L1909 716L1991 829L1969 804L1932 764L1981 828L1864 678L1871 668L1885 697L1857 698L1667 687L1770 724L1827 698L1491 732L1593 699L1701 691L1814 693L1766 713L1826 722"/>
<path class="m3" d="M1566 751L1539 807L1564 792L1542 803L1577 777L1525 785L1530 777L1516 809L1576 787L1510 812L1547 805L1495 735L1500 743L1512 829L1519 853L1855 781L1714 774L1642 843L1819 807L1791 831L1665 841L1901 853L1968 890"/>
<path class="m5" d="M1638 669L1642 675L1764 657L1887 715L1608 769L1755 760L1808 690L1603 755L1607 773L1884 732L1766 690L1745 726L1593 758L1606 751L1875 726L1516 727L1817 708L1742 681L1760 724L1742 750L1553 691L1708 731L1502 688L1852 699L1848 694L1498 716L1839 753L1856 730L1596 762L1523 734L1638 724L1801 754L1729 730L1653 710L1738 694L1798 749"/>
<path class="m3" d="M1568 769L1548 782L1568 806L1573 779L1526 792L1541 766L1490 784L1497 790L1488 738L1517 735L1501 844L1514 845L1932 776L1841 844L1775 831L1732 837L1748 788L1983 861L1984 852L1506 862"/>
<path class="m7" d="M1627 675L1669 695L1734 724L1606 739L1491 706L1692 752L1730 752L1681 713L1652 751L1507 707L1527 743L1559 745L1659 717L1718 719L1570 722L1631 731L1653 730L1490 738L1739 735L1523 720L1545 732L1556 716L1537 757L1558 742L1558 756L1510 740L1531 756L1562 752L1529 755"/>
<path class="m6" d="M1588 651L1707 626L1737 655L1762 643L1837 645L1742 625L1714 626L1637 645L1836 637L1536 652L1811 637L1558 652L1622 659L1877 678L1772 632L1672 640L1811 626L1757 662L1637 643L1585 677L1594 681L1636 674L1770 623L1700 636L1537 654L1861 651L1644 667L1654 664L1500 680L1514 654L1852 683L1697 655L1802 655L1758 637L1553 660L1860 675L1871 661L1807 647L1660 639L1521 665L1711 646L1709 633L1706 632L1786 635L1719 639L1560 661L1768 652L1585 676L1743 631L1602 678L1541 698L1793 635L1854 676L1870 657L1497 704L1583 660L1559 664L1559 702L1580 695L1578 702L1555 682L1565 698L1556 690L1575 703L1572 692L1527 690L1888 701L1936 764L1924 745L1995 825L1897 729L1873 656L1854 670L1934 749L1850 658L1898 724L1530 769L1647 713L1620 705L1503 751L1507 734L1504 751L1633 761L1579 758"/>
<path class="m5" d="M1640 654L1552 654L1612 651L1694 676L1727 711L1627 738L1571 752L1640 694L1813 736L1657 686L1577 776L1619 747L1529 702L1642 693L1640 711L1633 763L1658 737L1839 722L1773 717L1799 710L1702 717L1498 715L1571 737L1800 693L1572 728L1564 733L1560 712L1788 756L1511 716"/>
<path class="m4" d="M1554 716L1582 685L1666 720L1858 734L1698 665L1858 725L1858 740L1554 711L1798 716L1618 683L1525 701L1702 722L1551 710L1549 711L1747 736L1775 683L1778 735L1744 723L1566 715L1734 689L1654 684L1734 724L1628 726L1880 716L1706 693L1544 693L1872 695L1689 710L1887 767L1862 701L1948 796L1900 797L1871 735"/>
<ellipse cx="1668.3" cy="767" rx="345.3" ry="106" transform="rotate(6.9 1668.3 767)" fill="#DC4A3C" stroke="#DC4A3C" stroke-width="1.5" fill-opacity="0.095"/>
<ellipse cx="1658.2" cy="707.7" rx="277.5" ry="67.6" transform="rotate(-1.5 1658.2 707.7)" fill="#3FA67F" stroke="#3FA67F" stroke-width="1.5" fill-opacity="0.095"/>
<ellipse cx="1618.8" cy="713.5" rx="229.5" ry="58.9" transform="rotate(-1.7 1618.8 713.5)" fill="#E49B82" stroke="#E49B82" stroke-width="1.5" fill-opacity="0.095"/>
<ellipse cx="1772.2" cy="694" rx="237.4" ry="90.3" transform="rotate(3.7 1772.2 694)" fill="#5DBCCB" stroke="#5DBCCB" stroke-width="1.5" fill-opacity="0.095"/>
<ellipse cx="1754.6" cy="679.5" rx="255.9" ry="83.3" transform="rotate(5.9 1754.6 679.5)" fill="#34508A" stroke="#34508A" stroke-width="1.5" fill-opacity="0.095"/>
<text x="1310" y="943.5" font-size="26.8">PERMANOVA, p = 0.001, effect size = 0.1285</text>
<text x="14" y="1074.6" font-size="44" font-weight="bold">f</text>
<circle cx="362.1" cy="1090.9" r="2.1" fill="#3D5A8E" fill-opacity="0.6"/>
<circle cx="463.3" cy="1090.9" r="2.1" fill="#3D5A8E" fill-opacity="0.6"/>
<circle cx="491.2" cy="1090.9" r="2.1" fill="#3D5A8E" fill-opacity="0.6"/>
<circle cx="334.8" cy="1090.9" r="2.1" fill="#3D5A8E" fill-opacity="0.6"/>
<circle cx="367.4" cy="1090.9" r="2.1" fill="#3D5A8E" fill-opacity="0.6"/>
<circle cx="580.4" cy="1090.9" r="2.1" fill="#3D5A8E" fill-opacity="0.6"/>
<circle cx="346.2" cy="1090.9" r="2.1" fill="#3D5A8E" fill-opacity="0.6"/>
<circle cx="362.4" cy="1090.9" r="2.1" fill="#3D5A8E" fill-opacity="0.6"/>
<circle cx="585.9" cy="1090.9" r="2.1" fill="#3D5A8E" fill-opacity="0.6"/>
<circle cx="496.8" cy="1090.9" r="2.1" fill="#3D5A8E" fill-opacity="0.6"/>
<circle cx="427.7" cy="1090.9" r="2.1" fill="#3D5A8E" fill-opacity="0.6"/>
<circle cx="466.6" cy="1090.9" r="2.1" fill="#3D5A8E" fill-opacity="0.6"/>
<circle cx="508" cy="1090.9" r="2.1" fill="#3D5A8E" fill-opacity="0.6"/>
<circle cx="402.2" cy="1090.9" r="2.1" fill="#3D5A8E" fill-opacity="0.6"/>
<circle cx="364.7" cy="1090.9" r="2.1" fill="#3D5A8E" fill-opacity="0.6"/>
<circle cx="542.1" cy="1090.9" r="2.1" fill="#3D5A8E" fill-opacity="0.6"/>
<circle cx="510" cy="1090.9" r="2.1" fill="#3D5A8E" fill-opacity="0.6"/>
<circle cx="466.9" cy="1090.9" r="2.1" fill="#3D5A8E" fill-opacity="0.6"/>
<circle cx="550" cy="1090.9" r="2.1" fill="#3D5A8E" fill-opacity="0.6"/>
<circle cx="476.9" cy="1090.9" r="2.1" fill="#3D5A8E" fill-opacity="0.6"/>
<circle cx="594.8" cy="1090.9" r="2.1" fill="#3D5A8E" fill-opacity="0.6"/>
<circle cx="382.8" cy="1090.9" r="2.1" fill="#3D5A8E" fill-opacity="0.6"/>
<circle cx="478.2" cy="1090.9" r="2.1" fill="#3D5A8E" fill-opacity="0.6"/>
<circle cx="459" cy="1090.9" r="2.1" fill="#3D5A8E" fill-opacity="0.6"/>
<circle cx="423.4" cy="1090.9" r="2.1" fill="#3D5A8E" fill-opacity="0.6"/>
<circle cx="488.5" cy="1090.9" r="2.1" fill="#3D5A8E" fill-opacity="0.6"/>
<circle cx="391.2" cy="1090.9" r="2.1" fill="#3D5A8E" fill-opacity="0.6"/>
<circle cx="546" cy="1090.9" r="2.1" fill="#3D5A8E" fill-opacity="0.6"/>
<circle cx="563.8" cy="1090.9" r="2.1" fill="#3D5A8E" fill-opacity="0.6"/>
<circle cx="362.2" cy="1090.9" r="2.1" fill="#3D5A8E" fill-opacity="0.6"/>
<circle cx="454.5" cy="1090.9" r="2.1" fill="#3D5A8E" fill-opacity="0.6"/>
<circle cx="402.7" cy="1090.9" r="2.1" fill="#3D5A8E" fill-opacity="0.6"/>
<circle cx="349.7" cy="1090.9" r="2.1" fill="#3D5A8E" fill-opacity="0.6"/>
<circle cx="571.6" cy="1090.9" r="2.1" fill="#3D5A8E" fill-opacity="0.6"/>
<circle cx="444.4" cy="1090.9" r="2.1" fill="#3D5A8E" fill-opacity="0.6"/>
<circle cx="367.3" cy="1090.9" r="2.1" fill="#3D5A8E" fill-opacity="0.6"/>
<circle cx="510.8" cy="1090.9" r="2.1" fill="#3D5A8E" fill-opacity="0.6"/>
<circle cx="382.2" cy="1090.9" r="2.1" fill="#3D5A8E" fill-opacity="0.6"/>
<circle cx="573.1" cy="1090.9" r="2.1" fill="#3D5A8E" fill-opacity="0.6"/>
<circle cx="386.3" cy="1090.9" r="2.1" fill="#3D5A8E" fill-opacity="0.6"/>
<circle cx="336" cy="1090.9" r="2.1" fill="#3D5A8E" fill-opacity="0.6"/>
<circle cx="381.8" cy="1090.9" r="2.1" fill="#3D5A8E" fill-opacity="0.6"/>
<circle cx="421.4" cy="1090.9" r="2.1" fill="#3D5A8E" fill-opacity="0.6"/>
<circle cx="455" cy="1090.9" r="2.1" fill="#3D5A8E" fill-opacity="0.6"/>
<circle cx="574.4" cy="1090.9" r="2.1" fill="#3D5A8E" fill-opacity="0.6"/>
<circle cx="517.4" cy="1090.9" r="2.1" fill="#3D5A8E" fill-opacity="0.6"/>
<circle cx="419.6" cy="1090.9" r="2.1" fill="#3D5A8E" fill-opacity="0.6"/>
<circle cx="331.6" cy="1090.9" r="2.1" fill="#3D5A8E" fill-opacity="0.6"/>
<circle cx="370.6" cy="1090.9" r="2.1" fill="#3D5A8E" fill-opacity="0.6"/>
<circle cx="599" cy="1090.9" r="2.1" fill="#3D5A8E" fill-opacity="0.6"/>
<circle cx="452.5" cy="1090.9" r="2.1" fill="#3D5A8E" fill-opacity="0.6"/>
<circle cx="515.7" cy="1090.9" r="2.1" fill="#3D5A8E" fill-opacity="0.6"/>
<circle cx="341.9" cy="1090.9" r="2.1" fill="#3D5A8E" fill-opacity="0.6"/>
<circle cx="336.3" cy="1090.9" r="2.1" fill="#3D5A8E" fill-opacity="0.6"/>
<circle cx="557.9" cy="1090.9" r="2.1" fill="#3D5A8E" fill-opacity="0.6"/>
<circle cx="487.5" cy="1090.9" r="2.1" fill="#3D5A8E" fill-opacity="0.6"/>
<circle cx="411.3" cy="1090.9" r="2.1" fill="#3D5A8E" fill-opacity="0.6"/>
<circle cx="413.6" cy="1090.9" r="2.1" fill="#3D5A8E" fill-opacity="0.6"/>
<circle cx="351.4" cy="1090.9" r="2.1" fill="#3D5A8E" fill-opacity="0.6"/>
<circle cx="374.1" cy="1090.9" r="2.1" fill="#3D5A8E" fill-opacity="0.6"/>
<circle cx="333.7" cy="1090.9" r="2.1" fill="#3D5A8E" fill-opacity="0.6"/>
<circle cx="556.1" cy="1090.9" r="2.1" fill="#3D5A8E" fill-opacity="0.6"/>
<circle cx="454.3" cy="1090.9" r="2.1" fill="#3D5A8E" fill-opacity="0.6"/>
<circle cx="361.7" cy="1090.9" r="2.1" fill="#3D5A8E" fill-opacity="0.6"/>
<circle cx="528.8" cy="1090.9" r="2.1" fill="#3D5A8E" fill-opacity="0.6"/>
<circle cx="380.4" cy="1090.9" r="2.1" fill="#3D5A8E" fill-opacity="0.6"/>
<circle cx="343.9" cy="1090.9" r="2.1" fill="#3D5A8E" fill-opacity="0.6"/>
<circle cx="490.4" cy="1090.9" r="2.1" fill="#3D5A8E" fill-opacity="0.6"/>
<circle cx="571.5" cy="1090.9" r="2.1" fill="#3D5A8E" fill-opacity="0.6"/>
<circle cx="334.4" cy="1090.9" r="2.1" fill="#3D5A8E" fill-opacity="0.6"/>
<circle cx="564.9" cy="1090.9" r="2.1" fill="#3D5A8E" fill-opacity="0.6"/>
<circle cx="454.2" cy="1090.9" r="2.1" fill="#3D5A8E" fill-opacity="0.6"/>
<circle cx="436.7" cy="1090.9" r="2.1" fill="#3D5A8E" fill-opacity="0.6"/>
<circle cx="423.2" cy="1090.9" r="2.1" fill="#3D5A8E" fill-opacity="0.6"/>
<circle cx="472.7" cy="1090.9" r="2.1" fill="#3D5A8E" fill-opacity="0.6"/>
<circle cx="550.9" cy="1090.9" r="2.1" fill="#3D5A8E" fill-opacity="0.6"/>
<circle cx="508.8" cy="1090.9" r="2.1" fill="#3D5A8E" fill-opacity="0.6"/>
<circle cx="573.5" cy="1090.9" r="2.1" fill="#3D5A8E" fill-opacity="0.6"/>
<circle cx="459.1" cy="1090.9" r="2.1" fill="#3D5A8E" fill-opacity="0.6"/>
<circle cx="476.7" cy="1090.9" r="2.1" fill="#3D5A8E" fill-opacity="0.6"/>
<circle cx="466.5" cy="1090.9" r="2.1" fill="#3D5A8E" fill-opacity="0.6"/>
<circle cx="596.1" cy="1090.9" r="2.1" fill="#3D5A8E" fill-opacity="0.6"/>
<circle cx="589.4" cy="1090.9" r="2.1" fill="#3D5A8E" fill-opacity="0.6"/>
<circle cx="481.3" cy="1090.9" r="2.1" fill="#3D5A8E" fill-opacity="0.6"/>
<circle cx="498.5" cy="1090.9" r="2.1" fill="#3D5A8E" fill-opacity="0.6"/>
<circle cx="476.6" cy="1090.9" r="2.1" fill="#3D5A8E" fill-opacity="0.6"/>
<circle cx="554.4" cy="1090.9" r="2.1" fill="#3D5A8E" fill-opacity="0.6"/>
<circle cx="427.2" cy="1090.9" r="2.1" fill="#3D5A8E" fill-opacity="0.6"/>
<circle cx="432.1" cy="1090.9" r="2.1" fill="#3D5A8E" fill-opacity="0.6"/>
<circle cx="492.7" cy="1090.9" r="2.1" fill="#3D5A8E" fill-opacity="0.6"/>
<circle cx="464.1" cy="1090.9" r="2.1" fill="#3D5A8E" fill-opacity="0.6"/>
<circle cx="572.1" cy="1090.9" r="2.1" fill="#3D5A8E" fill-opacity="0.6"/>
<circle cx="553.5" cy="1090.9" r="2.1" fill="#3D5A8E" fill-opacity="0.6"/>
<circle cx="518.2" cy="1090.9" r="2.1" fill="#3D5A8E" fill-opacity="0.6"/>
<circle cx="539.1" cy="1090.9" r="2.1" fill="#3D5A8E" fill-opacity="0.6"/>
<circle cx="544.6" cy="1090.9" r="2.1" fill="#3D5A8E" fill-opacity="0.6"/>
<circle cx="560.6" cy="1090.9" r="2.1" fill="#3D5A8E" fill-opacity="0.6"/>
<circle cx="587" cy="1090.9" r="2.1" fill="#3D5A8E" fill-opacity="0.6"/>
<circle cx="447" cy="1090.9" r="2.1" fill="#3D5A8E" fill-opacity="0.6"/>
<circle cx="532.7" cy="1090.9" r="2.1" fill="#3D5A8E" fill-opacity="0.6"/>
<circle cx="445.9" cy="1090.9" r="2.1" fill="#3D5A8E" fill-opacity="0.6"/>
<circle cx="499.8" cy="1090.9" r="2.1" fill="#3D5A8E" fill-opacity="0.6"/>
<circle cx="561.5" cy="1090.9" r="2.1" fill="#3D5A8E" fill-opacity="0.6"/>
<circle cx="581" cy="1090.9" r="2.1" fill="#3D5A8E" fill-opacity="0.6"/>
<circle cx="556.7" cy="1090.9" r="2.1" fill="#3D5A8E" fill-opacity="0.6"/>
<circle cx="426.4" cy="1090.9" r="2.1" fill="#3D5A8E" fill-opacity="0.6"/>
<circle cx="484.7" cy="1090.9" r="2.1" fill="#3D5A8E" fill-opacity="0.6"/>
<circle cx="449.4" cy="1090.9" r="2.1" fill="#3D5A8E" fill-opacity="0.6"/>
<circle cx="599.8" cy="1090.9" r="2.1" fill="#3D5A8E" fill-opacity="0.6"/>
<circle cx="445.9" cy="1090.9" r="2.1" fill="#3D5A8E" fill-opacity="0.6"/>
<line x1="599.6" y1="1090.9" x2="695.5" y2="1090.9" stroke="#3D5A8E" stroke-width="1.1"/>
<line x1="759" y1="1090.9" x2="790" y2="1090.9" stroke="#3D5A8E" stroke-width="1.1"/>
<rect x="695.5" y="1085.7" width="63.5" height="10.5" fill="#3D5A8E" stroke="#3D5A8E" stroke-width="1.1" fill-opacity="0.55"/>
<line x1="735.8" y1="1085.7" x2="735.8" y2="1096.2" stroke="#3D5A8E" stroke-width="1.5"/>
<circle cx="326" cy="1102.5" r="2.1" fill="#56BBCA" fill-opacity="0.6"/>
<circle cx="360" cy="1102.5" r="2.1" fill="#56BBCA" fill-opacity="0.6"/>
<circle cx="368" cy="1102.5" r="2.1" fill="#56BBCA" fill-opacity="0.6"/>
<circle cx="395" cy="1102.5" r="2.1" fill="#56BBCA" fill-opacity="0.6"/>
<circle cx="450" cy="1102.5" r="2.1" fill="#56BBCA" fill-opacity="0.6"/>
<circle cx="456" cy="1102.5" r="2.1" fill="#56BBCA" fill-opacity="0.6"/>
<circle cx="465" cy="1102.5" r="2.1" fill="#56BBCA" fill-opacity="0.6"/>
<circle cx="470" cy="1102.5" r="2.1" fill="#56BBCA" fill-opacity="0.6"/>
<circle cx="475" cy="1102.5" r="2.1" fill="#56BBCA" fill-opacity="0.6"/>
<circle cx="480" cy="1102.5" r="2.1" fill="#56BBCA" fill-opacity="0.6"/>
<circle cx="485" cy="1102.5" r="2.1" fill="#56BBCA" fill-opacity="0.6"/>
<circle cx="490" cy="1102.5" r="2.1" fill="#56BBCA" fill-opacity="0.6"/>
<circle cx="496" cy="1102.5" r="2.1" fill="#56BBCA" fill-opacity="0.6"/>
<circle cx="500.5" cy="1102.5" r="2.1" fill="#56BBCA" fill-opacity="0.6"/>
<line x1="508.2" y1="1102.5" x2="641.8" y2="1102.5" stroke="#56BBCA" stroke-width="1.1"/>
<line x1="737.7" y1="1102.5" x2="771.3" y2="1102.5" stroke="#56BBCA" stroke-width="1.1"/>
<rect x="641.8" y="1097" width="95.9" height="11" fill="#56BBCA" stroke="#56BBCA" stroke-width="1.1" fill-opacity="0.45"/>
<line x1="709.7" y1="1097" x2="709.7" y2="1108" stroke="#56BBCA" stroke-width="1.5"/>
<line x1="269.4" y1="1114.4" x2="475.7" y2="1114.4" stroke="#36A37F" stroke-width="1.1"/>
<line x1="693.3" y1="1114.4" x2="766.4" y2="1114.4" stroke="#36A37F" stroke-width="1.1"/>
<rect x="475.7" y="1108.4" width="217.6" height="12" fill="#36A37F" stroke="#36A37F" stroke-width="1.1" fill-opacity="0.45"/>
<line x1="582.8" y1="1108.4" x2="582.8" y2="1120.4" stroke="#36A37F" stroke-width="1.5"/>
<line x1="230.2" y1="1127.5" x2="388" y2="1127.5" stroke="#D9503F" stroke-width="1.1"/>
<line x1="615.3" y1="1127.5" x2="738.4" y2="1127.5" stroke="#D9503F" stroke-width="1.1"/>
<rect x="388" y="1121.2" width="227.3" height="12.7" fill="#D9503F" stroke="#D9503F" stroke-width="1.1" fill-opacity="0.5"/>
<line x1="477.2" y1="1121.2" x2="477.2" y2="1133.8" stroke="#D9503F" stroke-width="1.5"/>
<text x="329.1" y="1157.5" font-size="19.7">Enzyme of Diff.Continents</text>
<rect x="566.8" y="1143" width="16" height="15.4" fill="#D9503F" stroke="#D9503F" stroke-width="1.1" fill-opacity="0.12"/>
<circle cx="574.8" cy="1150.7" r="2.6" fill="#D9503F"/>
<text x="593.3" y="1158" font-size="18.5">AF</text>
<rect x="623.9" y="1143" width="16" height="15.4" fill="#56BBCA" stroke="#56BBCA" stroke-width="1.1" fill-opacity="0.12"/>
<circle cx="631.9" cy="1150.7" r="2.6" fill="#56BBCA"/>
<text x="650" y="1158" font-size="18.5">AM</text>
<rect x="684.3" y="1143" width="16" height="15.4" fill="#36A37F" stroke="#36A37F" stroke-width="1.1" fill-opacity="0.12"/>
<circle cx="692.3" cy="1150.7" r="2.6" fill="#36A37F"/>
<text x="709.7" y="1158" font-size="18.5">AS</text>
<rect x="741.4" y="1143" width="16" height="15.4" fill="#3D5A8E" stroke="#3D5A8E" stroke-width="1.1" fill-opacity="0.12"/>
<circle cx="749.4" cy="1150.7" r="2.6" fill="#3D5A8E"/>
<text x="767.5" y="1158" font-size="18.5">EU</text>
<line x1="147.2" y1="1177" x2="147.2" y2="1599.2" stroke="#000" stroke-width="1.3"/>
<line x1="146.5" y1="1598.6" x2="971.3" y2="1598.6" stroke="#000" stroke-width="1.3"/>
<line x1="143" y1="1272.7" x2="147.2" y2="1272.7" stroke="#000" stroke-width="1.2"/>
<text x="139" y="1280.2" font-size="21" text-anchor="end">40</text>
<line x1="143" y1="1393.3" x2="147.2" y2="1393.3" stroke="#000" stroke-width="1.2"/>
<text x="139" y="1400.8" font-size="21" text-anchor="end">0</text>
<line x1="143" y1="1513.9" x2="147.2" y2="1513.9" stroke="#000" stroke-width="1.2"/>
<text x="139" y="1521.4" font-size="21" text-anchor="end">−40</text>
<line x1="189.6" y1="1598.6" x2="189.6" y2="1603" stroke="#000" stroke-width="1.2"/>
<text x="189.6" y="1623.5" font-size="21" text-anchor="middle">−150</text>
<line x1="340.4" y1="1598.6" x2="340.4" y2="1603" stroke="#000" stroke-width="1.2"/>
<text x="340.4" y="1623.5" font-size="21" text-anchor="middle">−100</text>
<line x1="491.2" y1="1598.6" x2="491.2" y2="1603" stroke="#000" stroke-width="1.2"/>
<text x="491.2" y="1623.5" font-size="21" text-anchor="middle">−50</text>
<line x1="642" y1="1598.6" x2="642" y2="1603" stroke="#000" stroke-width="1.2"/>
<text x="642" y="1623.5" font-size="21" text-anchor="middle">0</text>
<line x1="792.8" y1="1598.6" x2="792.8" y2="1603" stroke="#000" stroke-width="1.2"/>
<text x="792.8" y="1623.5" font-size="21" text-anchor="middle">50</text>
<line x1="943.6" y1="1598.6" x2="943.6" y2="1603" stroke="#000" stroke-width="1.2"/>
<text x="943.6" y="1623.5" font-size="21" text-anchor="middle">100</text>
<text x="558" y="1645" font-size="27.2" text-anchor="middle">PCoA1 ( 25.4 %)</text>
<text x="103" y="1388.5" font-size="27.6" text-anchor="middle" transform="rotate(-90 103 1388.5)">PCoA2 ( 7.637 %)</text>
<line x1="148" y1="1393.3" x2="971.3" y2="1393.3" stroke="#C8C8C8" stroke-width="1.1"/>
<line x1="641.8" y1="1178" x2="641.8" y2="1598" stroke="#C8C8C8" stroke-width="1.1"/>
<path class="m11" d="M409 1328L358 1434L399 1402L676 1283L507 1395L551 1514L376 1317L571 1316L517 1412L465 1293L365 1474L674 1287L513 1408L496 1449L706 1476L358 1355L608 1293L413 1473L435 1481L644 1399L370 1499L715 1370L425 1407L656 1338L519 1511L368 1520L563 1389L754 1525L752 1473L766 1505L778 1400L767 1488L761 1545L779 1471L767 1468L764 1426L746 1421L771 1438L771 1395L759 1524L755 1483L765 1461L767 1410L773 1439L785 1526L757 1423L777 1422L766 1491L771 1527L749 1528L755 1474L759 1496L773 1488L748 1443L754 1496L763 1444L769 1531L757 1525L761 1487L732 1484L764 1485L762 1421L751 1529L748 1245L743 1239L754 1381L751 1389L745 1338L751 1249L776 1297L776 1302L752 1372L737 1250L756 1314L721 1245L756 1281L763 1256L730 1296L745 1307L757 1281L712 1554L647 1495L732 1586L738 1550L759 1514L651 1527L680 1570L759 1554"/>
<path class="m8" d="M372 1506L317 1468L251 1499L320 1513L252 1544L294 1457L255 1480L316 1535L409 1398L561 1356L485 1421L668 1364L542 1467L499 1391L639 1476L594 1409L491 1417L335 1419L562 1397L641 1354L523 1341L480 1320L403 1339"/>
<path class="m9" d="M745 1432L646 1533L580 1285L559 1322L755 1488L448 1292L416 1386L411 1558L642 1334L705 1405L622 1355L405 1560L657 1310L413 1408L484 1470L611 1385L532 1383L443 1396L480 1517L396 1403L691 1410L724 1254L735 1301L753 1455L758 1461L731 1311L772 1369L703 1310L764 1305L759 1504L726 1439L741 1331L730 1417L753 1432"/>
<path class="m10" d="M580 1290L706 1395L390 1284L644 1366L473 1402L682 1268L500 1248L352 1256L474 1248L693 1241L399 1309L463 1426L384 1428L682 1322L488 1265L489 1309L342 1356L361 1310L558 1392L575 1380L505 1348L341 1336L494 1420L533 1278L596 1252L613 1417L565 1355L562 1409L527 1369L464 1299L527 1385L356 1285L760 1292L675 1236L341 1324L618 1320L493 1378L563 1328L454 1296L428 1327L699 1248L731 1311L697 1226L737 1265L700 1273L722 1224L698 1298L753 1242L727 1230L774 1299L742 1267L694 1330L723 1302L708 1255L727 1461L706 1397L730 1471L788 1385L728 1480"/>
<path class="m9" d="M682 1281L439 1480L506 1393L757 1361L705 1489L451 1421L790 1482L436 1431L722 1281L655 1331L580 1311L565 1444L472 1411L726 1541L412 1553L370 1531L621 1307L401 1356L518 1403L474 1362L633 1341L695 1282L720 1271L748 1487L707 1422"/>
<path class="m11" d="M345 1381L420 1286L531 1352L507 1421L538 1440L649 1275L496 1462L433 1513L405 1347L413 1436L384 1368L456 1454L718 1369L659 1478L532 1305L408 1445L348 1490L477 1466L360 1507L502 1389L645 1492L597 1353L708 1472L510 1421L578 1389L479 1427L368 1456L531 1499L442 1340L733 1517L767 1478L774 1490L775 1412L790 1465L745 1481L748 1413L786 1443L759 1489L769 1406L760 1474L772 1512L774 1538L764 1391L781 1443L769 1464L764 1393L764 1521L740 1457L759 1524L757 1552L766 1443L766 1534L764 1527L761 1546L790 1456L761 1412L768 1497L754 1428L758 1439L743 1459L740 1535L765 1431L754 1457L774 1522L732 1261L737 1318L749 1254L763 1342L747 1380L751 1360L760 1342L741 1356L764 1273L753 1303L748 1355L733 1382L758 1268L754 1392L733 1261L748 1312L754 1274L751 1245L728 1301L744 1261L724 1570L698 1550L736 1538L777 1577"/>
<path class="m8" d="M319 1502L286 1455L264 1537L332 1519L241 1535L341 1493L402 1460L234 1497L628 1471L417 1400L416 1394L427 1407L527 1359L382 1467L587 1453L687 1382L331 1478L619 1432L543 1344L525 1339L760 1330L689 1333L687 1327"/>
<path class="m10" d="M429 1375L358 1307L460 1303L438 1272L395 1278L626 1334L550 1329L388 1339L339 1296L361 1319L543 1312L630 1277L419 1366L484 1380L352 1298L687 1316L447 1428L612 1332L528 1408L537 1295L563 1423L668 1373L484 1354L688 1364L613 1326L694 1318L388 1369L691 1328L725 1379L512 1308L577 1310L561 1255L419 1287L416 1368L686 1309L480 1302L517 1334L443 1326L763 1277L733 1300L692 1278L705 1269L753 1316L729 1235L712 1292L705 1307L777 1384L750 1476"/>
<path class="m10" d="M471 1265L380 1303L684 1288L354 1393L485 1371L594 1256L712 1381L466 1359L663 1359L573 1407L667 1263L620 1414L570 1280L647 1417L695 1347L643 1286L346 1425L611 1393L398 1284L565 1397L362 1282L682 1369L659 1244L373 1317L428 1358L481 1299L554 1289L532 1265L569 1351L597 1348L432 1299L474 1309L432 1301L472 1333L448 1303L720 1252L752 1242L767 1287L748 1292L738 1246L714 1295L720 1277L762 1321L745 1293L762 1237L695 1305L775 1239L723 1237L762 1314L738 1292L782 1357L756 1475L779 1371L722 1395L728 1415L725 1484L706 1503"/>
<path class="m11" d="M411 1455L512 1334L694 1353L597 1423L534 1449L461 1319L479 1413L582 1299L387 1370L569 1379L395 1440L552 1361L652 1516L682 1449L552 1461L375 1308L598 1456L347 1285L414 1378L546 1275L564 1480L365 1464L457 1306L553 1408L687 1422L770 1463L770 1448L761 1399L759 1545L767 1553L772 1496L758 1554L770 1453L748 1449L779 1410L746 1525L776 1434L750 1521L770 1533L750 1434L764 1491L749 1555L766 1549L757 1396L755 1446L731 1420L747 1555L762 1484L758 1431L772 1479L740 1501L763 1456L780 1421L771 1473L762 1520L739 1521L779 1450L762 1447L759 1480L765 1455L759 1395L768 1506L751 1459L754 1494L775 1417L758 1394L762 1541L752 1517L772 1550L759 1398L731 1288L741 1333L743 1295L752 1396L742 1259L740 1279L768 1304L750 1379L758 1349L761 1370L743 1347L753 1280L753 1254L744 1343L751 1388L740 1231L744 1259L743 1272L763 1259L745 1342L755 1381L746 1344L741 1278L750 1376L745 1344L754 1398L745 1315L675 1508L675 1499L760 1550L674 1569L718 1497L677 1497L721 1586L741 1564"/>
<path class="m8" d="M234 1521L408 1475L325 1434L331 1423L256 1532L321 1470L266 1469L388 1527L306 1451L416 1424L278 1429L532 1416L584 1380L382 1341L564 1392L359 1391L480 1390L437 1479L451 1445L515 1324L417 1293L520 1334L519 1326L551 1483"/>
<path class="m9" d="M464 1458L376 1458L597 1353L509 1329L428 1365L671 1455L688 1393L404 1451L647 1287L377 1287L542 1286L475 1527L598 1450L723 1367L696 1370L756 1371L662 1297L738 1438L756 1542L780 1397L733 1394L732 1449L749 1504L724 1306L764 1463L746 1283L752 1323L765 1548"/>
<path class="m11" d="M563 1448L654 1350L398 1432L607 1317L505 1457L645 1386L397 1414L546 1451L637 1374L465 1413L624 1366L561 1318L708 1368L537 1487L486 1340L430 1344L335 1410L688 1408L628 1339L342 1430L619 1339L771 1398L754 1451L757 1550L768 1538L728 1458L759 1443L752 1456L754 1454L747 1522L745 1504L746 1432L753 1540L764 1481L768 1449L764 1492L772 1498L764 1413L759 1533L754 1399L766 1548L761 1451L755 1479L763 1441L757 1538L749 1450L794 1557L755 1553L766 1457L777 1411L757 1394L776 1493L758 1484L762 1496L765 1492L751 1428L765 1474L780 1417L754 1481L763 1418L753 1537L762 1502L762 1472L729 1346L765 1307L751 1299L746 1238L748 1272L745 1340L766 1254L744 1286L770 1265L762 1359L728 1297L756 1337L765 1242L757 1388L731 1389L761 1235L739 1324L740 1391L751 1254L720 1278L764 1232L738 1386L742 1243L755 1395L726 1582L742 1517L689 1560L757 1523L745 1527L738 1543"/>
<path class="m10" d="M580 1348L686 1401L361 1385L598 1352L628 1314L535 1325L434 1344L643 1390L622 1322L415 1387L396 1404L530 1243L356 1413L622 1418L556 1386L368 1419L380 1349L682 1343L594 1357L508 1324L564 1259L643 1265L422 1322L336 1428L472 1332L588 1240L418 1331L628 1277L643 1302L437 1259L493 1242L577 1398L569 1348L651 1325L376 1339L643 1295L454 1437L565 1337L424 1322L470 1287L456 1294L412 1322L480 1315L696 1260L719 1250L739 1293L748 1316L718 1282L755 1305L764 1243L711 1324L760 1321L710 1317L719 1310L701 1439L759 1510L764 1428L722 1512"/>
<path class="m9" d="M481 1501L407 1391L434 1475L401 1338L429 1466L585 1393L638 1511L564 1475L754 1410L716 1486L661 1552L491 1420L415 1525L760 1456L756 1505L725 1448L744 1434L731 1280L764 1419L740 1384L741 1440L726 1451L724 1479L708 1373L754 1294"/>
<path class="m8" d="M357 1544L323 1534L398 1451L305 1434L319 1491L274 1533L366 1346L610 1477L370 1410L370 1398L658 1397L615 1453L487 1453L562 1339L567 1436L624 1395L620 1406L453 1466L451 1415L415 1438L525 1441L564 1400L446 1301"/>
<path class="m8" d="M283 1430L252 1476L368 1479L360 1425L415 1442L243 1423L347 1451L253 1421L271 1430L250 1543L315 1534L486 1469L412 1345L659 1363L303 1424L632 1330L565 1425L599 1342L340 1475L637 1381L381 1367L313 1433L459 1437L525 1450L361 1425L492 1327L424 1335L503 1297L615 1525"/>
<path class="m10" d="M527 1288L350 1433L583 1309L385 1323L639 1400L575 1413L618 1309L372 1414L546 1355L450 1307L573 1357L610 1387L433 1266L672 1360L696 1364L486 1302L351 1426L346 1280L677 1344L483 1363L457 1382L704 1378L677 1247L431 1290L592 1384L586 1345L704 1278L511 1295L566 1335L519 1274L508 1356L340 1279L400 1277L614 1269L696 1355L545 1357L541 1284L572 1304L471 1331L448 1315L385 1326L725 1310L723 1234L719 1266L770 1222L731 1248L755 1314L718 1324L748 1275L700 1253L772 1312L721 1225L764 1461L780 1465L713 1475L735 1396L726 1473"/>
<path class="m11" d="M495 1412L648 1362L337 1462L612 1325L567 1301L544 1274L657 1466L446 1271L557 1403L536 1444L548 1305L637 1518L553 1497L338 1499L524 1439L570 1407L379 1366L471 1493L396 1504L415 1420L695 1387L552 1403L637 1272L679 1460L635 1446L676 1357L342 1435L399 1511L751 1433L748 1454L745 1516L752 1409L776 1476L795 1465L758 1507L789 1519L770 1476L755 1478L747 1420L756 1467L747 1552L778 1454L756 1408L749 1499L773 1519L750 1500L766 1540L746 1538L781 1472L752 1407L781 1420L769 1538L750 1497L742 1451L767 1537L734 1553L760 1554L744 1532L761 1430L776 1521L769 1400L772 1511L762 1487L745 1418L778 1439L758 1452L762 1473L778 1485L772 1531L763 1550L764 1451L766 1554L738 1521L756 1423L763 1554L772 1432L748 1501L766 1468L772 1421L740 1401L759 1521L759 1444L734 1534L752 1461L769 1467L760 1311L750 1324L744 1255L751 1270L726 1330L740 1243L744 1321L758 1323L759 1287L737 1299L738 1356L749 1232L735 1334L748 1277L745 1371L738 1347L731 1335L755 1365L647 1494L726 1542L764 1529L692 1490L724 1545L736 1558"/>
<path class="m9" d="M603 1526L642 1539L539 1471L422 1379L605 1309L654 1428L572 1283L539 1359L735 1496L732 1402L544 1309L581 1537L502 1283L399 1429L362 1463L477 1473L533 1382L669 1435L450 1332L537 1297L759 1336L642 1449L539 1307L761 1481L413 1391L772 1542L754 1518L706 1345L776 1251L720 1420L741 1548L734 1322"/>
<path class="m9" d="M640 1515L391 1450L402 1280L402 1483L441 1299L717 1524L775 1377L751 1477L527 1434L616 1362L560 1465L781 1446L514 1474L442 1460L499 1331L720 1525L766 1426L734 1466L540 1425L684 1316L614 1379L513 1372L548 1436L467 1492L748 1516L730 1416L741 1548L709 1386"/>
<path class="m11" d="M681 1338L684 1441L335 1279L663 1351L498 1442L402 1345L626 1353L633 1307L491 1333L608 1328L412 1324L425 1352L663 1439L441 1497L410 1419L599 1495L429 1372L367 1353L600 1365L516 1383L505 1410L356 1335L708 1372L780 1432L742 1433L763 1391L770 1488L764 1559L761 1436L775 1539L749 1538L755 1547L790 1463L789 1416L757 1402L754 1444L754 1501L758 1555L770 1466L766 1400L776 1448L759 1466L765 1500L751 1475L779 1548L763 1488L758 1490L759 1506L766 1550L760 1396L769 1424L767 1517L771 1540L762 1453L765 1544L752 1474L762 1532L757 1393L766 1454L764 1487L786 1541L738 1320L736 1234L770 1266L733 1292L752 1238L735 1359L747 1391L758 1316L726 1254L768 1364L762 1392L744 1352L739 1329L740 1331L751 1337L751 1398L768 1292L774 1264L741 1285L745 1363L780 1325L755 1233L729 1376L766 1564L673 1533L707 1521L737 1523L752 1486L714 1486"/>
<path class="m10" d="M473 1321L424 1271L487 1286L612 1403L447 1316L548 1389L580 1417L553 1417L359 1311L510 1286L527 1425L710 1259L491 1305L366 1313L394 1358L460 1396L601 1264L523 1357L519 1406L430 1300L548 1253L624 1274L622 1285L759 1293L470 1299L435 1388L514 1333L402 1298L554 1335L520 1290L757 1327L340 1379L340 1292L611 1259L502 1379L490 1262L499 1293L524 1283L614 1355L531 1316L420 1365L440 1346L405 1337L419 1329L467 1300L752 1290L731 1225L726 1229L708 1253L736 1226L707 1285L729 1252L691 1238L692 1296L725 1265L767 1299L726 1291L726 1415L711 1408"/>
<path class="m8" d="M332 1475L407 1473L276 1516L237 1458L260 1462L261 1496L260 1445L277 1511L373 1435L388 1412L549 1470L550 1350L342 1340L578 1373L301 1356L321 1339L695 1319L667 1286L448 1325L405 1323"/>
<path class="m8" d="M394 1504L388 1475L294 1449L417 1472L301 1521L308 1429L333 1529L253 1476L354 1464L380 1460L335 1475L377 1476L410 1453L311 1383L687 1463L629 1430L489 1431L346 1375L350 1389L432 1390L642 1383L619 1366L498 1400L647 1334L455 1463L629 1429L552 1433L696 1340L515 1334"/>
<path class="m10" d="M670 1387L379 1291L368 1302L551 1367L605 1307L431 1377L445 1311L346 1370L541 1308L669 1287L619 1343L346 1424L509 1340L564 1248L347 1380L560 1260L515 1308L503 1252L465 1250L476 1384L406 1427L355 1268L651 1299L600 1259L354 1292L570 1377L536 1389L518 1342L484 1313L642 1261L539 1280L440 1311L461 1265L411 1292L405 1335L412 1296L475 1329L477 1304L705 1323L700 1308L725 1260L709 1315L761 1237L769 1323L765 1288L748 1288L749 1249L767 1237L739 1272L735 1291L716 1306L706 1273L733 1228L772 1289L762 1226L715 1322L701 1248L738 1370L756 1489L777 1410L708 1463L754 1348"/>
<path class="m9" d="M484 1537L486 1497L713 1397L478 1387L758 1366L397 1392L485 1508L656 1550L602 1382L527 1366L565 1360L789 1543L701 1379L725 1391L750 1352L787 1411L725 1282L738 1417L706 1539L746 1242L731 1547L764 1501L712 1320L743 1315"/>
<path class="m11" d="M668 1298L337 1277L514 1427L500 1399L536 1393L616 1320L491 1336L593 1296L446 1289L553 1311L665 1491L336 1301L618 1399L625 1517L357 1303L508 1281L595 1385L405 1401L427 1311L386 1402L594 1347L482 1476L508 1516L402 1374L629 1357L715 1275L685 1384L579 1353L364 1416L371 1379L469 1412L633 1424L507 1376L768 1511L748 1558L765 1421L779 1474L758 1455L771 1433L761 1510L759 1502L755 1549L761 1399L770 1392L778 1492L755 1540L752 1529L775 1540L760 1398L775 1472L768 1405L751 1525L778 1458L765 1466L749 1525L765 1554L748 1430L754 1508L771 1510L732 1513L776 1520L768 1424L756 1529L760 1554L771 1496L771 1523L772 1518L744 1501L782 1465L756 1474L781 1412L790 1421L772 1530L758 1411L774 1414L755 1393L766 1456L742 1401L779 1488L752 1271L759 1299L748 1317L745 1393L748 1396L744 1314L746 1374L772 1324L763 1379L766 1328L760 1347L761 1272L753 1248L753 1292L760 1347L753 1296L755 1316L752 1304L777 1482L733 1525L644 1532L717 1512L719 1508L768 1492L718 1489"/>
<path class="m8" d="M304 1533L277 1528L264 1509L309 1452L414 1430L230 1446L266 1493L388 1487L312 1372L676 1453L488 1372L676 1451L322 1392L646 1378L420 1427L507 1410L321 1475L578 1359L460 1395L617 1342L659 1296L582 1333L564 1314L582 1283L694 1328L230 1449L375 1551L403 1535"/>
<path class="m9" d="M526 1510L617 1372L574 1542L543 1470L451 1355L616 1524L445 1454L586 1305L392 1398L460 1540L521 1530L600 1537L398 1407L750 1427L702 1506L777 1532L786 1258L726 1327L743 1331"/>
<path class="m10" d="M456 1251L514 1277L568 1346L583 1358L394 1344L672 1303L601 1403L549 1402L644 1266L370 1335L494 1293L387 1417L401 1281L717 1404L496 1328L476 1413L590 1300L708 1394L396 1407L638 1418L384 1344L479 1252L384 1282L411 1362L504 1259L406 1261L680 1300L693 1292L676 1333L632 1241L598 1308L405 1263L407 1285L395 1315L477 1292L745 1251L721 1284L765 1300L739 1247L754 1228L769 1222L697 1267L735 1286L754 1328L754 1305L724 1320L749 1262L724 1309L739 1292L723 1307L713 1315L703 1327L720 1230L771 1237L756 1308L723 1453L780 1463L709 1519"/>
<path class="m11" d="M688 1513L443 1321L491 1281L356 1463L506 1326L573 1285L377 1359L552 1403L643 1304L491 1312L486 1313L388 1347L454 1465L576 1506L382 1502L338 1386L591 1436L423 1428L362 1446L687 1289L339 1468L468 1487L630 1403L614 1338L761 1481L750 1401L764 1501L767 1395L758 1420L768 1441L775 1541L785 1429L779 1547L767 1490L777 1407L754 1458L784 1554L755 1510L740 1390L760 1475L746 1520L742 1538L767 1501L742 1532L734 1494L755 1512L763 1430L769 1462L757 1517L769 1392L760 1541L744 1394L776 1502L758 1434L757 1475L769 1417L752 1421L774 1490L751 1428L753 1504L780 1492L748 1418L757 1498L733 1546L770 1393L776 1521L774 1540L757 1438L795 1403L755 1546L761 1550L774 1515L771 1523L760 1530L764 1429L745 1259L749 1309L744 1386L739 1364L747 1349L746 1326L781 1288L754 1315L755 1395L720 1302L737 1392L750 1267L775 1356L763 1330L701 1511L716 1500L753 1503L680 1502"/>
<path class="m11" d="M573 1350L414 1460L701 1403L676 1273L445 1495L437 1372L493 1355L695 1387L711 1345L698 1379L442 1331L647 1328L368 1461L431 1358L473 1428L625 1517L428 1321L554 1350L589 1343L578 1513L376 1352L580 1511L595 1505L622 1434L539 1304L501 1518L759 1487L776 1402L780 1520L766 1419L746 1443L755 1530L762 1547L767 1540L757 1402L755 1429L764 1447L767 1541L762 1403L792 1492L750 1489L752 1482L783 1554L771 1454L756 1471L747 1512L771 1409L768 1399L754 1484L766 1546L752 1395L764 1462L768 1545L755 1261L763 1272L744 1359L746 1366L749 1396L738 1287L755 1299L733 1305L741 1380L737 1320L743 1309L747 1348L770 1349L775 1353L751 1338L757 1398L783 1271L740 1371L729 1232L748 1385L748 1391L735 1248L747 1288L762 1303L717 1506L701 1534L655 1499L737 1582L688 1533L707 1545L726 1510"/>
<path class="m8" d="M243 1511L275 1438L350 1515L340 1452L334 1512L299 1449L275 1475L349 1456L358 1519L403 1501L238 1449L351 1459L641 1425L667 1350L415 1348L548 1445L485 1346L588 1361L578 1449L546 1386L565 1475L504 1391L365 1436L401 1478L536 1414L498 1311L547 1281L614 1542"/>
<path class="m9" d="M785 1331L364 1434L498 1482L768 1340L717 1440L570 1386L549 1435L699 1467L509 1310L425 1354L629 1426L695 1488L426 1539L762 1427L661 1368L692 1337L622 1535L554 1388L709 1466L443 1454L382 1537L699 1505L777 1544L733 1507L760 1249"/>
<path class="m10" d="M397 1256L365 1256L549 1298L567 1329L495 1317L460 1275L637 1338L624 1331L483 1305L636 1284L649 1345L674 1377L672 1365L478 1379L512 1265L362 1263L708 1356L400 1266L489 1347L535 1325L475 1410L589 1283L698 1289L541 1300L498 1392L553 1311L619 1329L388 1304L509 1331L583 1335L701 1423L499 1407L669 1319L441 1337L760 1201L511 1422L480 1326L749 1283L759 1248L693 1306L725 1290L716 1264L762 1224L758 1240L751 1308L698 1304L707 1251L761 1257L730 1295L744 1265L767 1472L745 1378L767 1453L714 1471"/>
<path class="m9" d="M644 1468L631 1413L577 1344L585 1348L430 1354L526 1559L480 1508L747 1515L520 1528L410 1333L772 1528L581 1427L480 1299L602 1543L692 1514L601 1376L718 1554L635 1401L642 1421L715 1345L541 1290L751 1377L746 1310L741 1508L712 1550L736 1509L722 1497L742 1358L702 1462L723 1261"/>
<path class="m11" d="M407 1445L391 1467L379 1335L650 1385L466 1406L521 1376L442 1376L460 1412L640 1425L375 1506L549 1387L593 1308L511 1287L554 1301L687 1472L538 1316L566 1364L446 1492L623 1344L599 1317L390 1357L378 1327L603 1440L399 1458L773 1499L752 1519L767 1429L750 1485L736 1409L758 1505L766 1475L756 1526L775 1552L743 1533L764 1508L781 1509L765 1439L765 1393L774 1496L752 1430L780 1408L742 1540L768 1468L764 1483L755 1492L754 1411L758 1502L741 1544L766 1401L782 1413L745 1404L738 1558L745 1476L750 1434L766 1418L764 1406L751 1394L763 1443L756 1517L760 1402L771 1410L757 1482L769 1555L754 1558L775 1502L785 1437L765 1503L755 1455L754 1371L759 1257L756 1357L752 1263L736 1364L742 1235L759 1275L738 1371L746 1345L758 1340L755 1334L754 1264L735 1276L743 1372L771 1548L636 1558L729 1490L772 1556"/>
<path class="m10" d="M570 1390L645 1382L645 1380L388 1357L527 1314L427 1380L643 1407L507 1291L607 1419L526 1417L377 1357L538 1393L532 1421L381 1367L446 1346L503 1301L709 1293L687 1380L476 1291L677 1322L492 1298L507 1273L670 1362L479 1416L406 1374L523 1358L686 1320L339 1391L539 1419L495 1414L552 1290L390 1319L545 1364L423 1283L651 1282L411 1386L548 1271L420 1381L616 1377L410 1273L487 1376L511 1230L735 1346L475 1275L423 1286L453 1294L468 1300L402 1317L748 1313L726 1323L712 1244L720 1250L752 1288L747 1267L720 1324L762 1443L753 1420L749 1505"/>
<path class="m8" d="M270 1468L410 1540L312 1513L237 1439L321 1467L607 1333L538 1453L662 1408L449 1354L379 1342L479 1356L636 1385L528 1456L583 1392L546 1467L562 1449L501 1307L704 1290L602 1306L514 1339"/>
<ellipse cx="495.1" cy="1417" rx="323.5" ry="102.6" transform="rotate(-16.9 495.1 1417)" fill="#D9503F" stroke="#D9503F" stroke-width="1.3" fill-opacity="0.09"/>
<ellipse cx="577.2" cy="1349.3" rx="299.9" ry="142.5" transform="rotate(-9.7 577.2 1349.3)" fill="#36A37F" stroke="#36A37F" stroke-width="1.3" fill-opacity="0.09"/>
<ellipse cx="672.5" cy="1391.5" rx="227.4" ry="175.9" transform="rotate(-7.9 672.5 1391.5)" fill="#56BBCA" stroke="#56BBCA" stroke-width="1.3" fill-opacity="0.09"/>
<ellipse cx="698.9" cy="1413.3" rx="236.2" ry="169.7" transform="rotate(6.7 698.9 1413.3)" fill="#3D5A8E" stroke="#3D5A8E" stroke-width="1.3" fill-opacity="0.09"/>
<line x1="641.8" y1="1393.5" x2="639.1" y2="1333.5" stroke="#111" stroke-width="1.1"/>
<line x1="641.8" y1="1393.5" x2="636.5" y2="1334" stroke="#111" stroke-width="1.1"/>
<line x1="641.8" y1="1393.5" x2="615.1" y2="1339.1" stroke="#111" stroke-width="1.1"/>
<line x1="641.8" y1="1393.5" x2="641.5" y2="1340" stroke="#111" stroke-width="1.1"/>
<line x1="641.8" y1="1393.5" x2="584" y2="1375.9" stroke="#111" stroke-width="1.1"/>
<line x1="641.8" y1="1393.5" x2="702.3" y2="1398.3" stroke="#111" stroke-width="1.1"/>
<line x1="621.8" y1="1331" x2="637" y2="1334" stroke="#111" stroke-width="1"/>
<text x="629.5" y="1329.3" font-size="10.7" fill="#111">Terpenoids</text>
<text x="475" y="1334.6" font-size="10.7" fill="#111">Fatty acids related compounds</text>
<text x="636.7" y="1346.2" font-size="10.7" fill="#111">Phenylpropanoids</text>
<text x="578.4" y="1351.4" font-size="10.7" fill="#111">Alkaloids</text>
<text x="429.8" y="1388.6" font-size="10.7" fill="#111">Skimate / acetate−malonate pathway derived compounds</text>
<text x="692.7" y="1410.8" font-size="10.7" fill="#111">Flavonoids</text>
<text x="171" y="1203" font-size="28.3">PERMANOVA, p = 0.001, effect size = 0.118</text>
<line x1="987.6" y1="1242.2" x2="987.6" y2="1341.6" stroke="#56BBCA" stroke-width="1.2"/>
<line x1="987.6" y1="1446.1" x2="987.6" y2="1567" stroke="#56BBCA" stroke-width="1.2"/>
<rect x="976.2" y="1341.6" width="22.8" height="104.5" fill="#56BBCA" stroke="#56BBCA" stroke-width="1.2" fill-opacity="0.45"/>
<line x1="976.2" y1="1390.3" x2="999" y2="1390.3" stroke="#56BBCA" stroke-width="1.7"/>
<line x1="1013.6" y1="1225.2" x2="1013.6" y2="1357.5" stroke="#3D5A8E" stroke-width="1.2"/>
<line x1="1013.6" y1="1462.5" x2="1013.6" y2="1580.5" stroke="#3D5A8E" stroke-width="1.2"/>
<rect x="1001.2" y="1357.5" width="24.8" height="105" fill="#3D5A8E" stroke="#3D5A8E" stroke-width="1.2" fill-opacity="0.5"/>
<line x1="1001.2" y1="1416.3" x2="1026" y2="1416.3" stroke="#3D5A8E" stroke-width="1.7"/>
<line x1="1038" y1="1274.5" x2="1038" y2="1380.4" stroke="#D9503F" stroke-width="1.2"/>
<line x1="1038" y1="1457.2" x2="1038" y2="1534.2" stroke="#D9503F" stroke-width="1.2"/>
<rect x="1028.2" y="1380.4" width="19.7" height="76.8" fill="#D9503F" stroke="#D9503F" stroke-width="1.2" fill-opacity="0.5"/>
<line x1="1028.2" y1="1425.8" x2="1047.8" y2="1425.8" stroke="#D9503F" stroke-width="1.7"/>
<circle cx="1038" cy="1251.5" r="2" fill="#D9503F"/>
<line x1="1060" y1="1229.7" x2="1060" y2="1297.8" stroke="#36A37F" stroke-width="1.2"/>
<line x1="1060" y1="1388.8" x2="1060" y2="1520.7" stroke="#36A37F" stroke-width="1.2"/>
<rect x="1049.3" y="1297.8" width="21.4" height="91" fill="#36A37F" stroke="#36A37F" stroke-width="1.2" fill-opacity="0.45"/>
<line x1="1049.3" y1="1342.2" x2="1070.7" y2="1342.2" stroke="#36A37F" stroke-width="1.7"/>
<circle cx="1060" cy="1530.6" r="2" fill="#36A37F"/>
<text x="1153" y="1066" font-size="46" stroke="#000" stroke-width="0.8">g</text>
<line x1="1206" y1="1106" x2="1206" y2="1655.5" stroke="#222" stroke-width="1"/>
<line x1="1205.5" y1="1655" x2="1254" y2="1655" stroke="#222" stroke-width="1.2"/>
<line x1="1203.5" y1="1130.7" x2="1206" y2="1130.7" stroke="#444" stroke-width="0.8"/>
<text x="1202.5" y="1133.7" font-size="8.4" text-anchor="end" fill="#555">100</text>
<line x1="1203.5" y1="1255.6" x2="1206" y2="1255.6" stroke="#444" stroke-width="0.8"/>
<text x="1202.5" y="1258.6" font-size="8.4" text-anchor="end" fill="#555">75</text>
<line x1="1203.5" y1="1380.7" x2="1206" y2="1380.7" stroke="#444" stroke-width="0.8"/>
<text x="1202.5" y="1383.7" font-size="8.4" text-anchor="end" fill="#555">50</text>
<line x1="1203.5" y1="1505.6" x2="1206" y2="1505.6" stroke="#444" stroke-width="0.8"/>
<text x="1202.5" y="1508.6" font-size="8.4" text-anchor="end" fill="#555">25</text>
<line x1="1203.5" y1="1630.4" x2="1206" y2="1630.4" stroke="#444" stroke-width="0.8"/>
<text x="1202.5" y="1633.4" font-size="8.4" text-anchor="end" fill="#555">0</text>
<rect x="1226.5" y="1130.7" width="8" height="139.3" fill="#FF1E0E"/>
<rect x="1226.5" y="1270" width="8" height="360.4" fill="#A8A8A8"/>
<text x="1215.5" y="1140.5" font-size="10.8" text-anchor="middle" transform="rotate(-90 1215.5 1140.5)">explained</text>
<text x="1215.5" y="1380.7" font-size="10.4" text-anchor="middle" transform="rotate(-90 1215.5 1380.7)">unknown</text>
<text x="1209" y="1204.7" font-size="10.8">27.847%</text>
<text x="1209" y="1455.2" font-size="10.8">72.153%</text>
<text x="1184.5" y="1380.7" font-size="10.8" text-anchor="middle" transform="rotate(-90 1184.5 1380.7)">Microbiome Variation(%)</text>
<rect x="1319" y="1106" width="223.3" height="525.7" fill="#fff" stroke="#555" stroke-width="0.9"/>
<line x1="1364.5" y1="1106.5" x2="1364.5" y2="1631.2" stroke="#F3F3F3" stroke-width="0.6"/>
<line x1="1435.6" y1="1106.5" x2="1435.6" y2="1631.2" stroke="#F3F3F3" stroke-width="0.6"/>
<line x1="1506.7" y1="1106.5" x2="1506.7" y2="1631.2" stroke="#F3F3F3" stroke-width="0.6"/>
<line x1="1329" y1="1106.5" x2="1329" y2="1631.2" stroke="#EBEBEB" stroke-width="0.8"/>
<line x1="1400.1" y1="1106.5" x2="1400.1" y2="1631.2" stroke="#EBEBEB" stroke-width="0.8"/>
<line x1="1471.2" y1="1106.5" x2="1471.2" y2="1631.2" stroke="#EBEBEB" stroke-width="0.8"/>
<line x1="1542.2" y1="1106.5" x2="1542.2" y2="1631.2" stroke="#EBEBEB" stroke-width="0.8"/>
<line x1="1319.5" y1="1156.5" x2="1542" y2="1156.5" stroke="#EFEFEF" stroke-width="0.8"/>
<rect x="1329" y="1119.1" width="192.4" height="37.4" fill="#5C5C5C"/>
<rect x="1329" y="1156.5" width="192.4" height="38.4" fill="#9E9E9E"/>
<line x1="1316" y1="1156.5" x2="1319" y2="1156.5" stroke="#333" stroke-width="0.8"/>
<text x="1313.4" y="1159.5" font-size="8.8" text-anchor="end" fill="#1A1A8C">country</text>
<line x1="1319.5" y1="1241.4" x2="1542" y2="1241.4" stroke="#EFEFEF" stroke-width="0.8"/>
<rect x="1329" y="1204" width="6.8" height="37.4" fill="#5C5C5C"/>
<rect x="1329" y="1241.4" width="198.2" height="38.4" fill="#9E9E9E"/>
<line x1="1316" y1="1241.4" x2="1319" y2="1241.4" stroke="#333" stroke-width="0.8"/>
<text x="1313.4" y="1244.4" font-size="8.8" text-anchor="end" fill="#D9D92A">depth</text>
<line x1="1319.5" y1="1326.2" x2="1542" y2="1326.2" stroke="#EFEFEF" stroke-width="0.8"/>
<rect x="1329" y="1288.8" width="4.2" height="37.4" fill="#5C5C5C"/>
<rect x="1329" y="1326.2" width="200.4" height="38.4" fill="#9E9E9E"/>
<line x1="1316" y1="1326.2" x2="1319" y2="1326.2" stroke="#333" stroke-width="0.8"/>
<text x="1313.4" y="1329.2" font-size="8.8" text-anchor="end" fill="#1A1A8C">sex</text>
<line x1="1319.5" y1="1411.4" x2="1542" y2="1411.4" stroke="#EFEFEF" stroke-width="0.8"/>
<rect x="1329" y="1374" width="1.1" height="37.4" fill="#5C5C5C"/>
<rect x="1329" y="1411.4" width="202.1" height="38.4" fill="#9E9E9E"/>
<line x1="1316" y1="1411.4" x2="1319" y2="1411.4" stroke="#333" stroke-width="0.8"/>
<text x="1313.4" y="1414.4" font-size="8.8" text-anchor="end" fill="#1A1A8C">BMI</text>
<line x1="1319.5" y1="1496.3" x2="1542" y2="1496.3" stroke="#EFEFEF" stroke-width="0.8"/>
<rect x="1329" y="1458.9" width="12.1" height="37.4" fill="#5C5C5C"/>
<rect x="1329" y="1496.3" width="203.1" height="38.4" fill="#9E9E9E"/>
<line x1="1316" y1="1496.3" x2="1319" y2="1496.3" stroke="#333" stroke-width="0.8"/>
<text x="1313.4" y="1499.3" font-size="8.8" text-anchor="end" fill="#1A1A8C">age</text>
<line x1="1319.5" y1="1580.9" x2="1542" y2="1580.9" stroke="#EFEFEF" stroke-width="0.8"/>
<rect x="1329" y="1543.5" width="95.1" height="37.4" fill="#5C5C5C"/>
<rect x="1329" y="1580.9" width="203.1" height="38.4" fill="#9E9E9E"/>
<line x1="1316" y1="1580.9" x2="1319" y2="1580.9" stroke="#333" stroke-width="0.8"/>
<text x="1313.4" y="1583.9" font-size="8.8" text-anchor="end" fill="#1A1A8C">continent</text>
<line x1="1319" y1="1538.6" x2="1542.3" y2="1538.6" stroke="#000" stroke-width="1.1"/>
<line x1="1329" y1="1631.7" x2="1329" y2="1634.5" stroke="#555" stroke-width="0.8"/>
<text x="1329" y="1644" font-size="8.6" text-anchor="middle" fill="#555">0.0</text>
<line x1="1400.1" y1="1631.7" x2="1400.1" y2="1634.5" stroke="#555" stroke-width="0.8"/>
<text x="1400.1" y="1644" font-size="8.6" text-anchor="middle" fill="#555">0.1</text>
<line x1="1471.2" y1="1631.7" x2="1471.2" y2="1634.5" stroke="#555" stroke-width="0.8"/>
<text x="1471.2" y="1644" font-size="8.6" text-anchor="middle" fill="#555">0.2</text>
<line x1="1542.2" y1="1631.7" x2="1542.2" y2="1634.5" stroke="#555" stroke-width="0.8"/>
<text x="1542.2" y="1644" font-size="8.6" text-anchor="middle" fill="#555">0.3</text>
<text x="1430.8" y="1657" font-size="10.4" text-anchor="middle">Effect size</text>
<text x="1273.3" y="1369.4" font-size="10.7" text-anchor="middle" transform="rotate(-90 1273.3 1369.4)">Covariates</text>
<text x="1558.8" y="1319.5" font-size="10.7">Axis_color</text>
<rect x="1559.4" y="1325.6" width="15.2" height="15.5" fill="#16168A"/>
<rect x="1559.4" y="1343.1" width="15.2" height="15.5" fill="#E8DC2A"/>
<text x="1580" y="1337" font-size="8.7">Demographic</text>
<text x="1580" y="1354" font-size="8.7">Laboratory</text>
<text x="1558.8" y="1390" font-size="10.5">Class</text>
<rect x="1559.4" y="1396.6" width="15.2" height="15" fill="#9E9E9E"/>
<rect x="1559.4" y="1413.3" width="15.2" height="15.3" fill="#5C5C5C"/>
<text x="1580" y="1407.5" font-size="8.6">Cumulative</text>
<text x="1580" y="1424.5" font-size="8.6">Individual</text>
<rect x="1686.7" y="1159.2" width="416.7" height="470.8" fill="#fff" stroke="#777" stroke-width="1"/>
<line x1="1937.7" y1="1159.5" x2="1937.7" y2="1629.7" stroke="#BDBDBD" stroke-width="1"/>
<line x1="1687" y1="1423.2" x2="2103" y2="1423.2" stroke="#BDBDBD" stroke-width="1"/>
<line x1="1683.5" y1="1178.4" x2="1686.7" y2="1178.4" stroke="#555" stroke-width="0.8"/>
<text x="1681" y="1181.6" font-size="9" text-anchor="end" fill="#555">0.6</text>
<line x1="1683.5" y1="1300.8" x2="1686.7" y2="1300.8" stroke="#555" stroke-width="0.8"/>
<text x="1681" y="1304" font-size="9" text-anchor="end" fill="#555">0.3</text>
<line x1="1683.5" y1="1423.2" x2="1686.7" y2="1423.2" stroke="#555" stroke-width="0.8"/>
<text x="1681" y="1426.4" font-size="9" text-anchor="end" fill="#555">0.0</text>
<line x1="1683.5" y1="1545.6" x2="1686.7" y2="1545.6" stroke="#555" stroke-width="0.8"/>
<text x="1681" y="1548.8" font-size="9" text-anchor="end" fill="#555">-0.3</text>
<line x1="1690.7" y1="1630" x2="1690.7" y2="1633" stroke="#555" stroke-width="0.8"/>
<text x="1690.7" y="1642.5" font-size="9" text-anchor="middle" fill="#555">-1.0</text>
<line x1="1814.2" y1="1630" x2="1814.2" y2="1633" stroke="#555" stroke-width="0.8"/>
<text x="1814.2" y="1642.5" font-size="9" text-anchor="middle" fill="#555">-0.5</text>
<line x1="1937.7" y1="1630" x2="1937.7" y2="1633" stroke="#555" stroke-width="0.8"/>
<text x="1937.7" y="1642.5" font-size="9" text-anchor="middle" fill="#555">0.0</text>
<line x1="2061.2" y1="1630" x2="2061.2" y2="1633" stroke="#555" stroke-width="0.8"/>
<text x="2061.2" y="1642.5" font-size="9" text-anchor="middle" fill="#555">0.5</text>
<text x="1934" y="1661" font-size="22" text-anchor="middle">Axis.1: 15.67 %</text>
<text x="1659.5" y="1358.5" font-size="21.9" text-anchor="middle" transform="rotate(-90 1659.5 1358.5)">Axis.2: 7.25 %</text>
<path class="m14" d="M1948 1473L1924 1585L1950 1510L1961 1561L1961 1453L1942 1468L1893 1522L1902 1490L1877 1502L1899 1433L1922 1561L1912 1532L1947 1509L1927 1573L1969 1403L2021 1438L1923 1477L2000 1546L1865 1518L1898 1422L1931 1532L1963 1491L1941 1484L2019 1432L1918 1504L1940 1443L1865 1532L1937 1601L1955 1527L1964 1468L1977 1553L1855 1500L1994 1439L1896 1419L1980 1434L1950 1468"/>
<path class="m15" d="M1950 1366L2001 1391L1991 1372L2000 1405L1970 1408L2012 1439L1922 1410L1968 1417L2029 1366L1990 1431L1961 1459L2009 1408L2049 1411L2017 1393L2030 1374L1969 1385L2005 1427L1957 1362L2019 1380L2035 1409L2040 1405L2042 1428L2009 1381L1971 1435L1973 1420L2020 1364L1986 1375L1960 1424L2049 1425L2000 1397L1916 1381L2004 1395L1933 1394L2011 1399L1857 1426L1926 1347L1869 1414L1809 1386L1926 1394L1810 1337L1907 1485L1926 1366L1826 1446L1929 1464L1929 1454L1894 1512L1989 1525L1977 1454L1906 1470L1941 1424"/>
<path class="m18" d="M1885 1464L1949 1596L1966 1500L1940 1410L1977 1455L1899 1475L1979 1404L1898 1499L1933 1526L1932 1431L1931 1410L1930 1598L1968 1457L1901 1604L1943 1541L1923 1547L1919 1408L1922 1488L1926 1599L1918 1555L2033 1428L1956 1406L1973 1487L1896 1537L1988 1468L1966 1487L1925 1447"/>
<path class="m13" d="M1891 1444L2016 1545L1885 1437L1962 1616L1931 1461L1995 1421L1957 1473L1962 1419L1900 1456L1916 1482L2045 1411L1994 1439L1941 1476L2002 1459L1934 1478L1974 1510L1952 1502L1901 1410L1920 1452L1988 1429L1963 1402L1951 1520L1969 1333L1943 1372L1959 1458L2023 1411L1918 1373L1901 1580L2067 1370L2033 1346L2037 1376L2051 1374L2022 1344L2047 1376"/>
<path class="m16" d="M1746 1241L1729 1282L1875 1380L1790 1277L1854 1332L1854 1333L1907 1377L1847 1388"/>
<path class="m12" d="M1710 1219L1883 1348L1852 1349L1826 1336L1825 1283L1852 1312L1808 1354L1802 1273L1836 1398L1903 1442L1863 1397L1858 1438"/>
<path class="m19" d="M1906 1386L1976 1367L1925 1399L2051 1421L2039 1393L1957 1387L1963 1417L2036 1395L2000 1350L1954 1363L2012 1406L1971 1381L2025 1398L2002 1406L2023 1411L1973 1381L1979 1363L1911 1404L1988 1388L1953 1371L2030 1364L1949 1382L1969 1416L1983 1422L1809 1361L1859 1367L1909 1520L1880 1359L1942 1491L1921 1482L1938 1518L1939 1475L1954 1467L1786 1342"/>
<path class="m17" d="M1864 1478L1929 1460L1937 1487L2015 1428L2000 1488L1944 1392L1873 1416L1956 1372L1981 1500L1924 1481L1922 1353L1983 1338L1899 1504L2051 1360L2058 1384L2016 1359"/>
<path class="m14" d="M1934 1563L1992 1420L1891 1426L1900 1446L1922 1564L1952 1535L1967 1606L1941 1509L1903 1500L1889 1574L1914 1566L1987 1407L1886 1521L1927 1547L1930 1563L1962 1410L2002 1514L1917 1450L1905 1465L1948 1563L1920 1479L1925 1547L1942 1533L1949 1539L1895 1406L1943 1403L1959 1518L2022 1461L1951 1456"/>
<path class="m13" d="M1938 1445L1994 1481L2005 1359L1919 1500L1971 1491L1956 1500L1995 1505L1906 1496L1927 1411L1943 1544L1952 1480L1955 1491L1970 1454L1944 1582L1974 1485L1876 1572L2012 1499L1920 1389L1894 1467L1971 1483L1960 1366L1987 1490L2051 1359"/>
<path class="m15" d="M2029 1361L2002 1392L2008 1383L1984 1414L2045 1435L2056 1373L1972 1386L1974 1354L1938 1349L2008 1384L1988 1363L2058 1372L1972 1385L2022 1435L1944 1436L2054 1360L1977 1381L1996 1382L2029 1397L2039 1431L1975 1360L1987 1415L2038 1377L2036 1409L2050 1362L1959 1365L1947 1399L2055 1389L1864 1413L1879 1503L1840 1367L1844 1440L1823 1442L1907 1510L1875 1514L1852 1510L1860 1495L1950 1331L1930 1387L1923 1448L1921 1374L1983 1373L1887 1472L1953 1388L1796 1379"/>
<path class="m16" d="M1729 1231L1812 1338L1860 1357L1878 1362L1858 1371L1812 1349L1787 1302L1815 1357L1791 1291L1919 1459"/>
<path class="m18" d="M1948 1437L1905 1603L1908 1546L1928 1591L2066 1461L1981 1570L1907 1561L1952 1567L1929 1404L1971 1513L1939 1534L1884 1498L1974 1463L1917 1477L1867 1436L1958 1521L1933 1464L1916 1481L1932 1539L1959 1470L1946 1539L1871 1427L1910 1574L1923 1567L1918 1485L1865 1435L1873 1447L1903 1552L1966 1580L1904 1447L1832 1423"/>
<path class="m12" d="M1747 1187L1745 1300L1822 1282L1851 1359L1803 1319L1877 1337L1864 1381L1941 1349L1845 1424L1827 1426L1921 1373L1826 1377"/>
<path class="m19" d="M2009 1354L1970 1428L1990 1394L1980 1451L1991 1411L2040 1366L1948 1366L2058 1415L2046 1414L1986 1374L1986 1352L2022 1438L2003 1374L2036 1405L1923 1384L1963 1386L2001 1366L2023 1388L2063 1372L1916 1391L1978 1385L1933 1430L1966 1358L1983 1385L1970 1405L2016 1449L2021 1385L1955 1380L1827 1524L1925 1503L1892 1339L1914 1502L1951 1488L1962 1489L1925 1488L1925 1422L1923 1439L1942 1509"/>
<path class="m17" d="M1907 1451L1963 1417L1992 1562L1898 1488L1941 1377L1959 1488L1935 1420L1873 1417L2013 1453L1925 1440L1926 1467L1869 1367L1867 1465L1915 1503L1951 1374L1946 1375L1854 1564L1874 1333L1907 1370L1884 1481L1940 1473L1973 1400L1995 1465L1956 1362L2061 1345"/>
<path class="m18" d="M1978 1474L1930 1522L1987 1429L1917 1422L2015 1435L1956 1463L1981 1559L1929 1588L1913 1542L1944 1477L1909 1580L1925 1501L1965 1443L1929 1588L1972 1481L2036 1469L1945 1564L1885 1505L1933 1538L1903 1493L1892 1548L1946 1490L1933 1507L1919 1486L1968 1417L1936 1524L1867 1415L1928 1593"/>
<path class="m14" d="M1875 1435L1904 1462L1900 1562L1908 1586L1965 1491L1982 1507L1942 1455L1926 1614L1957 1571L1914 1465L1947 1463L1935 1558L1951 1477L1921 1492L1918 1539L2004 1558L1893 1476L1859 1479L1942 1513L1919 1590L1873 1530L1935 1479L1941 1508L1933 1574L1885 1459L1888 1493L1926 1505L1872 1462L1897 1491"/>
<path class="m13" d="M1953 1498L1933 1357L1912 1529L1943 1468L1889 1476L1964 1382L1976 1390L1874 1487L1932 1561L1910 1459L1959 1532L1946 1533L1987 1584L1937 1539L1941 1432L2004 1398L1951 1494L1957 1500L1969 1371L1913 1336L1861 1532L1920 1469L1961 1527L1989 1445L1937 1508L2020 1333L1858 1333L1993 1410L1977 1441"/>
<path class="m15" d="M1950 1379L2005 1408L1956 1413L1941 1385L2011 1432L2043 1365L2002 1407L1961 1352L2003 1438L1974 1374L1905 1359L1969 1433L1957 1393L2033 1406L2010 1408L1990 1414L1970 1426L1902 1388L1980 1380L1962 1420L1985 1413L1985 1348L1992 1398L2043 1407L2008 1350L2042 1425L1910 1399L1988 1365L2015 1373L1985 1397L1819 1405L1848 1513L1891 1327L1918 1330L1928 1483L1926 1523L1971 1505L1940 1554L1927 1487L1956 1431L1802 1220L1717 1244L1734 1223"/>
<path class="m12" d="M1779 1230L1776 1253L1741 1237L1789 1298L1749 1221L1789 1270L1812 1293L1785 1272L1853 1342L1813 1335L1877 1387"/>
<path class="m19" d="M1973 1374L2000 1424L1993 1426L2033 1427L2034 1373L1998 1417L1923 1410L1989 1382L2025 1382L1929 1377L1977 1429L1989 1404L1948 1455L1972 1390L1993 1389L1983 1394L2004 1451L2010 1345L1995 1381L2035 1432L2027 1389L1946 1377L1991 1467L2081 1421L2027 1363L1980 1388L2015 1347L2013 1386L1912 1341L1803 1414L1812 1402L1924 1463L1941 1513L1975 1518L1929 1531L1896 1477L1744 1277"/>
<path class="m17" d="M1938 1524L1886 1490L2050 1444L2034 1454L1914 1442L1977 1365L1968 1375L1972 1468L1857 1429L1876 1485L1964 1489L1944 1534L2046 1360"/>
<path class="m16" d="M1823 1313L1815 1312L1862 1373L1886 1431L1903 1394L1928 1440"/>
<path class="m19" d="M1976 1387L1943 1395L1979 1388L1981 1372L2011 1414L1932 1411L2012 1392L1944 1394L2002 1386L1991 1383L1984 1357L1973 1381L1912 1400L2049 1410L2017 1382L2044 1356L2029 1456L1971 1420L1993 1408L1994 1370L1970 1393L1990 1364L1957 1410L1891 1419L1901 1494L1937 1455L1869 1330L1882 1458L1805 1503L1891 1467L1906 1328L1874 1428L1941 1350L1947 1501L1941 1464L1934 1463L1984 1511L1993 1475L1970 1456L1909 1437"/>
<path class="m13" d="M1978 1406L1900 1412L2024 1439L1967 1450L1937 1475L2018 1480L1968 1485L1992 1389L1958 1395L1838 1464L1942 1375L1878 1517L1982 1462L1979 1406L1973 1547L1853 1421L1981 1338L1969 1425L1959 1498L2028 1457L1966 1409L1940 1482L2048 1373"/>
<path class="m12" d="M1709 1197L1740 1275L1864 1341L1833 1334L1845 1289L1840 1345L1797 1316L1826 1289L1922 1348"/>
<path class="m14" d="M1946 1462L1950 1462L1945 1529L1971 1436L1972 1408L2021 1531L1911 1589L1959 1527L1886 1463L1927 1430L1903 1546L1972 1419L1947 1490L1937 1517L1917 1510L1895 1538L1896 1445L1838 1419L1910 1540L1946 1538L1972 1525L1953 1573L1929 1541L1905 1465L1898 1591L1914 1416L1944 1447L1982 1475L1909 1426L1948 1568L2000 1454L1945 1582L1920 1476"/>
<path class="m18" d="M1967 1587L1922 1593L1987 1589L1904 1553L1994 1482L1989 1456L1955 1534L1884 1442L1936 1518L1897 1532L1930 1487L1886 1568L1889 1433L1882 1443L1939 1461L1921 1512L1941 1548L1880 1584L1911 1441L1922 1554L1949 1605L1941 1515L1913 1529L1940 1585L1935 1452"/>
<path class="m17" d="M1956 1465L1941 1496L1891 1462L1954 1467L1976 1560L1889 1435L1857 1459L1973 1397L1952 1467L1954 1480L1998 1370L1974 1525L1942 1452L2033 1359"/>
<path class="m15" d="M1997 1405L1957 1398L1965 1426L2048 1389L1997 1393L1999 1358L1938 1331L2065 1428L2007 1378L1985 1371L1972 1413L2054 1364L1995 1399L2046 1416L1988 1386L1934 1388L1967 1380L1978 1392L1983 1376L2009 1404L1992 1417L1942 1366L2028 1441L1960 1400L1969 1389L1990 1369L2041 1403L1964 1367L2013 1332L1981 1403L2040 1412L1974 1391L1809 1438L1820 1500L1932 1442L1870 1498L1918 1435L1903 1444L1852 1418L1847 1434L1943 1499L1952 1451L1923 1533L1940 1417L1980 1510L1956 1449L1930 1484L1918 1483L1893 1538L1763 1343"/>
<path class="m16" d="M1742 1226L1802 1282L1860 1380L1819 1361L1875 1337L1787 1283L1862 1367L1848 1403L1856 1358L1881 1420L1925 1408"/>
<path class="m19" d="M1984 1415L1994 1424L1925 1418L2026 1416L2008 1358L1950 1370L2026 1364L2081 1384L2005 1383L1980 1401L1984 1384L2033 1376L1990 1374L1957 1386L1964 1420L1979 1409L2002 1429L2081 1415L2023 1359L2039 1419L2014 1394L1976 1418L1999 1413L2024 1355L1916 1400L1970 1369L1993 1444L1847 1397L1893 1357L1809 1492L1957 1377L1897 1511L1905 1477L1900 1534L1934 1451L1915 1500"/>
<path class="m12" d="M1751 1179L1755 1297L1770 1235L1823 1278L1808 1276L1836 1348L1812 1292L1924 1366"/>
<path class="m13" d="M1949 1429L1967 1395L1867 1421L1950 1345L1934 1598L1867 1472L1907 1468L1957 1446L1915 1497L1904 1444L1989 1473L1993 1451L2039 1405L1898 1460L1921 1432L1862 1408L1954 1460L1967 1401L1993 1434L1942 1441L1857 1524L1929 1444L1915 1402L2075 1370"/>
<path class="m17" d="M1932 1459L1919 1584L1917 1400L1921 1333L1971 1375L1991 1359L1946 1523L1899 1413L1954 1544L2021 1467L1944 1490L1890 1403L1873 1435L1960 1481L1901 1578L1945 1515L1945 1336L2021 1358L2018 1368"/>
<path class="m15" d="M1981 1386L1941 1430L1983 1409L1998 1377L1994 1406L1926 1424L2009 1398L1986 1442L1982 1425L1988 1419L1996 1402L2035 1386L1991 1394L1967 1409L2019 1424L2004 1372L1983 1382L1966 1391L2014 1480L2022 1378L2064 1388L2017 1424L2018 1446L1931 1366L1945 1342L2043 1395L2053 1421L1978 1417L1961 1380L1991 1392L1808 1467L1926 1339L1906 1360L1846 1490L1915 1485L1846 1509L1885 1515L1958 1483L1888 1557L1941 1478L1969 1482L1938 1438L1953 1378L1897 1404L1997 1550L1956 1491L1915 1484L1915 1426L1963 1490"/>
<path class="m18" d="M1938 1562L1923 1559L1973 1570L1926 1553L1925 1507L1891 1503L1980 1429L2002 1518L1975 1569L1938 1604L1985 1442L1901 1469L1953 1426L1948 1572L2002 1439L1919 1579L1939 1492L1910 1495L1951 1439L1920 1578L1926 1575"/>
<path class="m14" d="M1924 1527L1918 1421L1940 1555L1969 1588L1923 1542L1874 1438L1956 1450L1933 1507L2019 1431L1923 1529L1932 1462L1941 1526L1913 1536L1902 1408L1938 1550L1938 1482L1964 1436L1927 1565L1903 1405L1938 1425L1977 1533L1925 1596L1854 1429L1927 1466L1901 1419L2011 1432L1965 1434L1876 1406L1902 1436L1972 1571L1941 1564L1960 1517L1938 1537L1948 1440L1976 1452L1970 1457L1970 1468L1957 1526"/>
<path class="m16" d="M1741 1293L1782 1246L1771 1251L1865 1362L1831 1302L1870 1304L1852 1346L1837 1307L1826 1339L1864 1312L1823 1295L1906 1365"/>
<path class="m14" d="M1930 1483L1838 1490L1941 1566L1938 1525L1940 1553L1952 1606L1930 1443L1856 1435L1873 1535L1911 1537L1898 1476L1939 1440L1944 1594L1929 1577L1988 1492L1938 1576L1885 1448L1946 1485L1853 1517L1909 1524L1937 1580L1887 1531L1906 1497L1948 1597L1932 1466L1951 1503L1959 1482L1888 1520L1945 1599L1891 1455L1957 1474L1898 1580"/>
<path class="m12" d="M1761 1242L1775 1227L1733 1234L1861 1350L1843 1345L1786 1303L1875 1378L1832 1323L1883 1334L1840 1294L1833 1352L1860 1377"/>
<path class="m18" d="M1997 1411L1940 1617L1951 1496L1908 1483L1908 1458L1917 1539L1924 1605L1943 1474L1877 1451L1884 1444L1927 1541L1957 1432L1940 1520L1929 1619L1901 1590L1881 1420L1872 1442L1923 1613L1933 1535L1889 1451L1979 1407L1986 1499L2033 1429L1896 1509L1859 1498L1908 1445"/>
<path class="m15" d="M2021 1399L2026 1465L1976 1363L1959 1346L1949 1363L2029 1423L1975 1407L2034 1396L1925 1426L1990 1386L1937 1364L2012 1388L1995 1428L1981 1410L1913 1385L1973 1404L1948 1402L2012 1404L2008 1385L1969 1394L2001 1380L1950 1393L1970 1380L2038 1368L2012 1409L1967 1382L2059 1365L2002 1438L2003 1452L1925 1395L2007 1422L1952 1405L1986 1377L2002 1382L1977 1363L1924 1407L1981 1377L1928 1419L1829 1503L1870 1497L1835 1381L1902 1351L1947 1393L1953 1330L1942 1432L1958 1475L1934 1449L1938 1459L1889 1500L1932 1455L1937 1484L1987 1458L1812 1338"/>
<path class="m16" d="M1768 1258L1753 1284L1739 1271L1819 1319L1829 1363L1787 1286L1858 1438L1865 1400L1873 1426L1887 1412"/>
<path class="m19" d="M2032 1377L1983 1403L1965 1395L1997 1395L2011 1370L1970 1397L1941 1418L1907 1388L2020 1381L2005 1388L2000 1351L1969 1364L1938 1418L2028 1377L1932 1386L1984 1420L2043 1396L1932 1399L2022 1422L2018 1412L1940 1424L1981 1412L1927 1519L1939 1341L1809 1399L1805 1325L1868 1434L1951 1363L1884 1476L1875 1336L1859 1505L1947 1502L1901 1566L1956 1519L1917 1420L1936 1530L1964 1514L1915 1531L1940 1420L1933 1412L1886 1436L1933 1437L1904 1498L1749 1295"/>
<path class="m17" d="M2032 1426L1905 1437L1853 1451L1935 1537L2006 1464L1866 1494L1948 1509L1890 1507L1978 1474L1910 1489L1927 1434L1942 1438L1923 1400L1889 1495L2065 1377L2047 1345"/>
<path class="m13" d="M1947 1362L1945 1519L1913 1481L1972 1572L1885 1333L1911 1414L1919 1497L1954 1505L1933 1501L1873 1455L1968 1425L1974 1494L1960 1529L2014 1399L1940 1371L1902 1507L1913 1465L1940 1345L1876 1429L1848 1532L2017 1507L1992 1426L1908 1437L1936 1486L1933 1429L2062 1360"/>
<path class="m14" d="M2087 1430L1921 1518L1985 1560L1931 1508L1940 1509L1928 1465L1990 1478L1970 1531L1950 1537L1931 1502L2009 1465L1956 1551L1983 1493L1904 1417L1964 1451L1998 1426L1923 1455L1912 1564L1978 1547L1848 1470L1941 1578L1944 1601L1980 1521L1912 1484L1978 1468L1899 1409L1938 1462L2012 1466L1966 1579L1919 1523L1949 1587L1964 1432L2018 1427L1993 1424L1921 1496L1940 1510L1938 1512L1932 1478L1894 1527L2049 1464"/>
<path class="m13" d="M1884 1546L1894 1475L1901 1499L1906 1472L1894 1574L1894 1443L1943 1347L1958 1603L1868 1504L1962 1493L1908 1567L1942 1475L1945 1538L1962 1423L1892 1488L1918 1444L1958 1494L1950 1528L2011 1431L1956 1534L1881 1416L1970 1532L1890 1487L2075 1373"/>
<path class="m12" d="M1745 1199L1715 1213L1759 1279L1756 1250L1796 1307L1860 1310L1806 1330L1810 1310L1845 1289L1848 1452L1934 1429L1916 1468"/>
<path class="m16" d="M1841 1292L1822 1334L1910 1398L1836 1388"/>
<path class="m19" d="M2035 1396L1989 1403L1973 1365L2038 1434L2015 1411L1978 1379L1965 1370L1951 1366L2008 1390L1961 1400L2010 1436L2013 1410L1995 1360L2024 1388L2035 1383L1919 1417L2018 1423L1998 1376L1988 1379L1966 1363L2011 1373L2028 1413L1992 1369L1898 1331L1838 1345L1875 1407L1919 1324L1928 1357L1887 1383L1914 1414L1926 1437L1952 1523L1918 1509L1896 1550"/>
<path class="m17" d="M1965 1375L1899 1391L1917 1444L1951 1447L1990 1423L2000 1544L1972 1559L1925 1434L1958 1372L1880 1460L1944 1456L1959 1499L1932 1477L1952 1455L1967 1458L1959 1480L1935 1435L1891 1546L2034 1383L2028 1379L2024 1366"/>
<path class="m18" d="M1902 1508L1889 1580L1949 1490L1965 1430L1947 1496L1916 1605L1835 1485L1898 1517L1973 1473L1947 1618L1923 1426L1895 1538L1914 1547L1959 1590L1902 1550L1935 1451L1915 1562L1894 1421L1985 1533L1956 1444L1937 1404L1967 1534L1954 1427"/>
<path class="m15" d="M1961 1436L2006 1429L1993 1388L1981 1419L1964 1427L2042 1389L1917 1406L2015 1338L2027 1412L1992 1344L2060 1400L2057 1411L1964 1379L2005 1407L1977 1422L1999 1383L1980 1405L1995 1409L1999 1422L1983 1350L2014 1357L1961 1391L1954 1375L1934 1382L2025 1343L2045 1431L1995 1397L2014 1403L1916 1398L2064 1364L1957 1441L2013 1386L1913 1339L1977 1457L1930 1442L1853 1371L1855 1453L1913 1482L1808 1442L1897 1341L1958 1353L1943 1378L1846 1378L1935 1416L1960 1525L1929 1448L1976 1493L1960 1393L1919 1597L1957 1449L1931 1424L1962 1475L1933 1491L1944 1446L1934 1507L2003 1455L1952 1453L1924 1493L1894 1452L1911 1526L1954 1465"/>
<path class="m18" d="M1947 1466L1897 1449L1946 1584L1939 1473L1903 1565L1877 1417L1885 1476L1994 1466L1986 1413L1911 1457L1962 1442L1956 1577L1934 1546L1918 1437L2024 1438L1906 1588L1928 1519L1939 1488L1928 1457L1929 1430L1956 1590L1945 1507L1953 1426"/>
<path class="m16" d="M1740 1227L1764 1228L1765 1257L1771 1286L1729 1229L1793 1255L1856 1319L1786 1265L1788 1327L1872 1344L1851 1377L1880 1385L1910 1417L1858 1386L1844 1462"/>
<path class="m17" d="M1934 1485L1951 1433L1936 1408L1905 1469L1988 1482L1920 1485L1989 1443L1881 1524L1956 1414L1907 1390L1998 1480L1966 1422L1918 1447L1959 1445L2041 1347"/>
<path class="m12" d="M1762 1213L1740 1305L1780 1293L1729 1247L1767 1306L1858 1291L1820 1319L1843 1361L1862 1333L1851 1464L1885 1467L1937 1419L1853 1409L1831 1387"/>
<path class="m13" d="M1895 1467L1901 1464L1870 1436L1978 1448L2000 1512L1943 1506L1917 1497L1965 1409L2010 1390L1876 1373L1951 1353L2008 1492L1914 1443L1924 1453L1948 1483L1993 1460L1957 1439L2030 1400L1883 1428L1929 1482L1947 1531L1862 1384L1971 1346L1928 1484L1893 1386L2021 1380L2073 1363"/>
<path class="m14" d="M1983 1471L2032 1436L2036 1419L1950 1501L1895 1488L1975 1467L1914 1565L1952 1555L1886 1525L1929 1426L1893 1415L1961 1448L1939 1605L1937 1503L2010 1436L1885 1434L2016 1448L1927 1522L1917 1419L1925 1561L1899 1581"/>
<path class="m15" d="M2018 1438L2007 1367L1984 1416L1946 1357L1983 1394L1998 1416L1977 1404L1969 1432L2011 1393L2013 1396L1956 1393L2009 1425L1964 1382L1999 1408L2015 1418L2048 1431L2051 1362L2016 1373L1940 1404L2031 1382L1966 1397L1993 1400L2030 1414L1945 1414L1994 1394L1998 1364L1978 1412L2036 1413L1978 1376L2029 1420L1962 1391L2048 1363L1974 1404L2052 1393L2024 1420L1896 1334L1901 1347L1844 1329L1938 1519L1871 1445L1917 1454L1921 1515L1963 1423L1933 1412L1923 1467L1811 1273"/>
<path class="m19" d="M2015 1366L2031 1428L1989 1399L2021 1377L1966 1390L2009 1408L1986 1473L2027 1378L1960 1403L1966 1450L1954 1380L1980 1422L2002 1385L1962 1383L1951 1400L1948 1451L2016 1400L2033 1357L1983 1384L1992 1391L1980 1383L2010 1388L1924 1383L1959 1401L1955 1413L1966 1410L1991 1395L1987 1434L2016 1416L1977 1382L2046 1417L2000 1373L1937 1375L1982 1373L1916 1408L1978 1404L1932 1386L1983 1342L1810 1483L1828 1433L1906 1359L1942 1433L1872 1341L1926 1483L1931 1539L1933 1580L1910 1439L1933 1450L2002 1486L1939 1451"/>
<path class="m17" d="M1991 1449L1941 1499L1980 1417L1853 1419L1912 1348L1955 1455L1953 1415L1980 1367L1924 1498L1975 1385L1940 1451L1927 1439L1935 1577L1888 1449L1928 1546L1950 1410L2004 1478L1961 1491"/>
<path class="m13" d="M1946 1483L1930 1398L1910 1478L1999 1372L1940 1498L1909 1525L1934 1463L1923 1479L1976 1440L1978 1470L1967 1333L1966 1478L1879 1442L1946 1528L1887 1410L1902 1440L1992 1498L2006 1453L2069 1379L2042 1356L2035 1368L2039 1389"/>
<path class="m15" d="M2021 1373L2039 1373L1992 1350L2073 1399L1977 1346L1974 1442L2044 1420L2008 1389L1911 1384L2028 1410L1941 1397L1951 1373L1959 1424L2008 1414L2081 1386L1955 1377L1964 1394L2003 1388L2002 1397L1984 1330L1958 1431L1966 1369L2039 1450L1975 1424L1935 1389L1960 1368L2017 1346L2018 1396L1999 1381L2006 1386L1956 1398L1916 1431L1905 1487L1913 1367L1875 1498L1894 1476L1806 1384L1823 1504L1851 1495L1820 1344L1845 1388L1937 1395L1823 1354L1873 1510L1950 1353L1906 1407L1966 1493L1946 1403L1912 1457L1921 1494L1985 1464L1728 1232L1718 1308"/>
<path class="m18" d="M1930 1467L2020 1436L1926 1434L1974 1420L1922 1527L1904 1498L1984 1498L1968 1522L1905 1568L1950 1604L1960 1483L1896 1533L2014 1492L1849 1411L1911 1563L1956 1419L2002 1413L1900 1501L1884 1430L1911 1526L1928 1594L1960 1428L1973 1420L1934 1469L1985 1475L1966 1407L1898 1516L2011 1464L1934 1609L1936 1569L1914 1489L1923 1606L1903 1587L1897 1410L1946 1490L1913 1491L1921 1408L1982 1546L1806 1474"/>
<path class="m12" d="M1745 1240L1785 1326L1827 1294L1818 1360L1800 1285L1852 1354L1905 1380L1821 1390L1850 1394L1926 1345L1859 1416"/>
<path class="m14" d="M1957 1545L2004 1419L1939 1600L1899 1459L1820 1415L1883 1604L1922 1508L1913 1573L1919 1446L1924 1484L1920 1580L1909 1450L1862 1453L1960 1408L1921 1536L1920 1546L1910 1570L1894 1465L1905 1467L1887 1428L1964 1503L1977 1491L1878 1469L1867 1444L1967 1431L1944 1560L1922 1418L1986 1414L1932 1556L1950 1523L1892 1513L1913 1493L1990 1431L1979 1482L1918 1440L1882 1453L1845 1441L1915 1565"/>
<path class="m16" d="M1766 1308L1847 1372L1803 1349L1876 1346L1788 1267L1844 1342L1881 1339L1863 1364L1843 1341L1920 1403"/>
<path class="m19" d="M1987 1387L1896 1394L2019 1384L1980 1384L1998 1424L2007 1430L2031 1407L1947 1428L2026 1372L2005 1395L1998 1388L1962 1450L2016 1381L1984 1435L1956 1413L2081 1400L1984 1419L1970 1439L1983 1411L1951 1388L2001 1425L1955 1412L1990 1424L1924 1407L1960 1386L2008 1422L1984 1387L2015 1380L1922 1444L2013 1394L2010 1392L1976 1366L2077 1369L1869 1464L1941 1487L1853 1443L1840 1478L1949 1338L1973 1467L1966 1516L1948 1457L1918 1457L1937 1516L1927 1439L1955 1474L1973 1530L1952 1479L1977 1423L1914 1456L1953 1406L1985 1573L1966 1486L1919 1522"/>
<path class="m18" d="M1921 1568L1919 1496L1894 1538L1971 1412L1896 1431L1915 1484L1891 1515L1933 1605L1923 1610L1938 1415L1888 1518L1931 1454L1913 1599L1908 1526L1918 1485L1933 1550L1948 1486L1936 1613L1970 1487L1889 1517L1869 1514L1986 1514L1906 1453L1927 1544L1888 1407L1873 1449L1811 1432"/>
<path class="m19" d="M1945 1385L2006 1359L2007 1422L2005 1341L1993 1430L2009 1392L1947 1409L1951 1371L1938 1428L1969 1363L2024 1394L1995 1364L2081 1390L1987 1400L2001 1376L1970 1385L1968 1369L1984 1374L1961 1429L1988 1403L1983 1398L2006 1368L1954 1387L1814 1339L1838 1423L1909 1362L1930 1471L1932 1471L1880 1523L1876 1376L1918 1467L1907 1456L1980 1528L1942 1462L1897 1461L1937 1429L1915 1594L1895 1468L1738 1298"/>
<path class="m15" d="M2039 1408L1919 1387L1950 1381L2004 1381L1940 1407L1898 1387L1958 1415L1997 1434L2004 1426L1956 1425L1946 1465L1974 1436L1980 1374L2032 1400L2015 1379L1979 1360L2030 1432L1945 1357L1996 1439L1987 1368L2028 1382L1941 1413L1980 1399L2025 1443L1921 1391L1989 1350L1947 1411L2007 1403L1987 1353L1957 1382L1989 1348L1942 1373L1975 1443L1977 1407L2000 1394L2019 1375L1947 1361L1961 1389L2007 1429L1939 1519L1834 1501L1959 1357L1859 1450L1886 1348L1943 1391L1852 1361L1879 1478L1894 1453L1872 1517L1803 1417L1847 1470L1808 1403L1886 1383L1922 1334L1824 1469L1938 1452L1928 1468L1967 1586L1803 1225"/>
<path class="m13" d="M1883 1439L1959 1561L1956 1457L1857 1346L1905 1447L1970 1481L1954 1491L1949 1450L1912 1483L1998 1379L1946 1414L1929 1463L2007 1507L1904 1346L1931 1430L1949 1526L1950 1396L2007 1340L1952 1493L1923 1473L2074 1374L2051 1387"/>
<path class="m14" d="M1975 1446L1947 1540L1930 1594L1959 1605L1955 1465L1931 1545L1913 1601L1950 1597L1966 1473L1875 1515L1948 1506L1950 1540L1920 1452L1978 1432L1840 1433L1924 1569L1977 1532L1960 1476L1934 1511L1931 1464L1951 1478L1963 1422L1949 1563L1887 1466L1850 1483L1953 1559L1939 1429L1867 1441L1915 1531L1944 1440L1915 1510L1922 1592L1991 1464L1972 1473"/>
<path class="m16" d="M1729 1181L1775 1238L1786 1325L1827 1300L1850 1330L1805 1293L1881 1323L1814 1356L1786 1272L1821 1287L1867 1304L1826 1364L1932 1353L1937 1417L1829 1399"/>
<path class="m12" d="M1745 1280L1792 1329L1843 1350L1878 1362L1808 1336L1841 1292L1821 1306L1910 1402L1846 1347L1843 1453L1835 1346L1834 1347L1827 1397L1940 1420L1866 1411"/>
<path class="m17" d="M1915 1519L1928 1410L1998 1543L1862 1435L1911 1565L1886 1453L1982 1439L1891 1436L1957 1520L1932 1415L1862 1571L1943 1518L1924 1468L1921 1391L1840 1480L1987 1440L1907 1440L2029 1534L1998 1471L1921 1495L1975 1404L1926 1384L2017 1367L2022 1384"/>
<line x1="1934.6" y1="1424" x2="1928" y2="1447" stroke="#000" stroke-width="1.2"/>
<rect x="1873.3" y="1326.3" width="4.8" height="4.8" fill="#000"/>
<rect x="1863.2" y="1326.3" width="4.8" height="4.8" fill="#000"/>
<rect x="1856.9" y="1381.1" width="4.8" height="4.8" fill="#000"/>
<rect x="1948.3" y="1370.4" width="4.8" height="4.8" fill="#000"/>
<rect x="1942.6" y="1379.8" width="4.8" height="4.8" fill="#000"/>
<rect x="1954.6" y="1376.7" width="4.8" height="4.8" fill="#000"/>
<rect x="1994.6" y="1353.7" width="4.8" height="4.8" fill="#000"/>
<rect x="1986.7" y="1385.2" width="4.8" height="4.8" fill="#000"/>
<rect x="1986.7" y="1389.9" width="4.8" height="4.8" fill="#000"/>
<rect x="1962.4" y="1404.1" width="4.8" height="4.8" fill="#000"/>
<rect x="1965.6" y="1406.3" width="4.8" height="4.8" fill="#000"/>
<rect x="1932.2" y="1420.8" width="4.8" height="4.8" fill="#000"/>
<rect x="1939.5" y="1420.8" width="4.8" height="4.8" fill="#000"/>
<rect x="1907" y="1435.6" width="4.8" height="4.8" fill="#000"/>
<rect x="1948.9" y="1437.8" width="4.8" height="4.8" fill="#000"/>
<rect x="1916.8" y="1445.1" width="4.8" height="4.8" fill="#000"/>
<rect x="1934.1" y="1480.6" width="4.8" height="4.8" fill="#000"/>
<rect x="1880.6" y="1501.1" width="4.8" height="4.8" fill="#000"/>
<rect x="1922.1" y="1510.3" width="4.8" height="4.8" fill="#000"/>
<rect x="1924.6" y="1442.6" width="4.8" height="4.8" fill="#000"/>
<text x="1872.5" y="1325" font-size="10.8" font-weight="bold" fill="#111">PER</text>
<text x="1845.8" y="1342" font-size="10.8" font-weight="bold" fill="#111">MDG</text>
<text x="1839.5" y="1397" font-size="10.8" font-weight="bold" fill="#111">CMR</text>
<text x="1930.8" y="1368" font-size="10.8" font-weight="bold" fill="#111">SWE</text>
<text x="1918.2" y="1393" font-size="10.8" font-weight="bold" fill="#111">DEU</text>
<text x="1956" y="1392" font-size="10.8" font-weight="bold" fill="#111">ISL</text>
<text x="1993.8" y="1351" font-size="10.8" font-weight="bold" fill="#111">AUT</text>
<text x="1986" y="1385" font-size="10.8" font-weight="bold" fill="#111">NLD</text>
<text x="1987.5" y="1405" font-size="10.8" font-weight="bold" fill="#111">JPN</text>
<text x="1938.7" y="1408" font-size="10.8" font-weight="bold" fill="#111">FRA</text>
<text x="1971.8" y="1422" font-size="10.8" font-weight="bold" fill="#111">USA</text>
<text x="1897.7" y="1418" font-size="10.8" font-weight="bold" fill="#111">female</text>
<text x="1933" y="1427" font-size="10.8" font-weight="bold" fill="#111">BMI</text>
<text x="1948.2" y="1435" font-size="10.8" font-weight="bold" fill="#111">male</text>
<text x="1890.8" y="1434" font-size="10.8" font-weight="bold" fill="#111">DNK</text>
<text x="1916" y="1445" font-size="10.8" font-weight="bold" fill="#111">depth</text>
<text x="1948.2" y="1453" font-size="10.8" font-weight="bold" fill="#111">ESP</text>
<text x="1915" y="1462" font-size="10.8" font-weight="bold" fill="#111">GBR</text>
<text x="1933" y="1479" font-size="10.8" font-weight="bold" fill="#111">CHN</text>
<text x="1866.9" y="1517" font-size="10.8" font-weight="bold" fill="#111">ITA</text>
<text x="1920.4" y="1507" font-size="10.8" font-weight="bold" fill="#111">CAN</text>
<text x="1750" y="1202.5" font-size="10.4" font-weight="bold" fill="#111" xml:space="preserve">dbRDA anova: F =  32.706 P =  0.001</text>
<rect x="1694.6" y="1442.7" width="60.1" height="130.7" fill="#fff" stroke="#333" stroke-width="0.9"/>
<text x="1700" y="1457.5" font-size="10.9" fill="#222">continent</text>
<circle cx="1705.6" cy="1469.5" r="1.7" fill="#D93A2B"/>
<text x="1716.6" y="1472.5" font-size="8.4" fill="#222">Africa</text>
<circle cx="1705.6" cy="1480.5" r="1.7" fill="#4DBBD5"/>
<text x="1716.6" y="1483.5" font-size="8.4" fill="#222">America</text>
<circle cx="1705.6" cy="1491.6" r="1.7" fill="#1FA07C"/>
<text x="1716.6" y="1494.6" font-size="8.4" fill="#222">Asia</text>
<circle cx="1705.6" cy="1502.6" r="1.7" fill="#2B3D80"/>
<text x="1716.6" y="1505.6" font-size="8.4" fill="#222">Europe</text>
<text x="1700" y="1539.5" font-size="10.9" fill="#222">gender</text>
<circle cx="1705.6" cy="1551.4" r="1.8" fill="none" stroke="#222" stroke-width="0.8"/>
<circle cx="1705.6" cy="1562.4" r="1.6" fill="#222"/>
<text x="1716.6" y="1554.4" font-size="8.4" fill="#222">female</text>
<text x="1716.6" y="1565.4" font-size="8.4" fill="#222">male</text>
<line x1="1848.3" y1="1107.6" x2="2033.2" y2="1107.6" stroke="#3DB08A" stroke-width="1.3"/>
<rect x="1917.3" y="1102.6" width="48.2" height="10" fill="#3DB08A"/>
<circle cx="1832" cy="1107.6" r="2" fill="#3DB08A"/>
<circle cx="1834" cy="1107.6" r="2" fill="#3DB08A"/>
<circle cx="1836" cy="1107.6" r="2" fill="#3DB08A"/>
<circle cx="1838" cy="1107.6" r="2" fill="#3DB08A"/>
<circle cx="2036" cy="1107.6" r="2" fill="#3DB08A"/>
<circle cx="2038" cy="1107.6" r="2" fill="#3DB08A"/>
<circle cx="2040" cy="1107.6" r="2" fill="#3DB08A"/>
<circle cx="2042" cy="1107.6" r="2" fill="#3DB08A"/>
<circle cx="2044" cy="1107.6" r="2" fill="#3DB08A"/>
<circle cx="2046" cy="1107.6" r="2" fill="#3DB08A"/>
<line x1="1838.5" y1="1119.8" x2="2073" y2="1119.8" stroke="#5CC8D6" stroke-width="1.3"/>
<rect x="1923" y="1112.6" width="60.4" height="14.4" fill="#5CC8D6"/>
<circle cx="1750" cy="1119.8" r="2" fill="#5CC8D6"/>
<circle cx="1752" cy="1119.8" r="2" fill="#5CC8D6"/>
<circle cx="1754" cy="1119.8" r="2" fill="#5CC8D6"/>
<circle cx="1757" cy="1119.8" r="2" fill="#5CC8D6"/>
<circle cx="1767" cy="1119.8" r="2" fill="#5CC8D6"/>
<circle cx="1816" cy="1119.8" r="2" fill="#5CC8D6"/>
<circle cx="2073" cy="1119.8" r="2" fill="#5CC8D6"/>
<circle cx="2075" cy="1119.8" r="2" fill="#5CC8D6"/>
<line x1="1812" y1="1135.3" x2="2085" y2="1135.3" stroke="#3B5796" stroke-width="1.3"/>
<rect x="1918.2" y="1127" width="74" height="16.5" fill="#3B5796"/>
<circle cx="1721" cy="1135.3" r="2" fill="#3B5796"/>
<circle cx="1724" cy="1135.3" r="2" fill="#3B5796"/>
<circle cx="1728" cy="1135.3" r="2" fill="#3B5796"/>
<circle cx="1745" cy="1135.3" r="2" fill="#3B5796"/>
<circle cx="1764" cy="1135.3" r="2" fill="#3B5796"/>
<circle cx="1773" cy="1135.3" r="2" fill="#3B5796"/>
<circle cx="1781" cy="1135.3" r="2" fill="#3B5796"/>
<circle cx="1784" cy="1135.3" r="2" fill="#3B5796"/>
<circle cx="1787" cy="1135.3" r="2" fill="#3B5796"/>
<circle cx="1790" cy="1135.3" r="2" fill="#3B5796"/>
<circle cx="1793" cy="1135.3" r="2" fill="#3B5796"/>
<circle cx="1796" cy="1135.3" r="2" fill="#3B5796"/>
<circle cx="1799" cy="1135.3" r="2" fill="#3B5796"/>
<circle cx="1802" cy="1135.3" r="2" fill="#3B5796"/>
<circle cx="1805" cy="1135.3" r="2" fill="#3B5796"/>
<circle cx="1808" cy="1135.3" r="2" fill="#3B5796"/>
<circle cx="1811" cy="1135.3" r="2" fill="#3B5796"/>
<line x1="1704.7" y1="1150.9" x2="2010.2" y2="1150.9" stroke="#E8432F" stroke-width="1.3"/>
<rect x="1820" y="1143.5" width="80.3" height="14.8" fill="#E8432F"/>
<line x1="2110.2" y1="1331.5" x2="2110.2" y2="1598.6" stroke="#3DB08A" stroke-width="1.3"/>
<rect x="2105" y="1438" width="10.4" height="82.5" fill="#3DB08A"/>
<line x1="2121.5" y1="1237.3" x2="2121.5" y2="1606.5" stroke="#5CC8D6" stroke-width="1.3"/>
<rect x="2115.3" y="1358.6" width="12.3" height="132" fill="#5CC8D6"/>
<line x1="2135.1" y1="1278" x2="2135.1" y2="1543.5" stroke="#3B5796" stroke-width="1.3"/>
<rect x="2128.3" y="1377.5" width="13.6" height="66.8" fill="#3B5796"/>
<circle cx="2135.1" cy="1220.7" r="2" fill="#3B5796"/>
<circle cx="2135.1" cy="1258.6" r="2" fill="#3B5796"/>
<circle cx="2135.1" cy="1277.6" r="2" fill="#3B5796"/>
<circle cx="2135.1" cy="1545" r="2" fill="#3B5796"/>
<circle cx="2135.1" cy="1548.2" r="2" fill="#3B5796"/>
<circle cx="2135.1" cy="1551.4" r="2" fill="#3B5796"/>
<circle cx="2135.1" cy="1554.5" r="2" fill="#3B5796"/>
<circle cx="2135.1" cy="1557.7" r="2" fill="#3B5796"/>
<circle cx="2135.1" cy="1560.9" r="2" fill="#3B5796"/>
<circle cx="2135.1" cy="1564.1" r="2" fill="#3B5796"/>
<circle cx="2135.1" cy="1567.3" r="2" fill="#3B5796"/>
<circle cx="2135.1" cy="1570.5" r="2" fill="#3B5796"/>
<circle cx="2135.1" cy="1573.6" r="2" fill="#3B5796"/>
<circle cx="2135.1" cy="1576.8" r="2" fill="#3B5796"/>
<circle cx="2135.1" cy="1580" r="2" fill="#3B5796"/>
<circle cx="2135.1" cy="1598.5" r="2" fill="#3B5796"/>
<circle cx="2135.1" cy="1609.6" r="2" fill="#3B5796"/>
<line x1="2148.2" y1="1180.6" x2="2148.2" y2="1537.2" stroke="#E8432F" stroke-width="1.3"/>
<rect x="2141.9" y="1314.5" width="12.6" height="85.7" fill="#E8432F"/>
<circle cx="2148.2" cy="1180.6" r="2" fill="#E8432F"/>
<circle cx="2148.2" cy="1535.6" r="2" fill="#E8432F"/>
<circle cx="2148.2" cy="1543.4" r="2" fill="#E8432F"/>
<text x="18.5" y="1742" font-size="46" stroke="#000" stroke-width="0.8">h</text>
<path class="m20" d="M179 2013L253 1984L168 2007L79 2051L186 2019L207 2051L83 2012L164 2009L140 2022L207 2040L210 2028L76 1947L104 1999L76 2013L224 2006L105 2063L249 2007L267 2072L192 2006L130 2043L129 2019L189 2049L235 2048L270 2045L80 2048L210 2034L90 2028L112 2031L122 2021L154 2066L200 2059L90 2056L179 2047L126 1998L69 2020L129 2057L164 1976L72 2011L213 2032L238 2060L263 2018L252 2059L242 2023L175 2012L129 2049L196 2043L76 2051L189 2003L189 2016L203 2018L108 2016L270 1983L193 2041L186 2019L146 2013L98 2036L228 2031L210 2046L185 2001L210 2012L256 2021L242 2012L203 1998L207 2009L98 1984L133 2014L143 2015L76 2032L147 2041L157 2007L235 2002L196 1997L270 2032L217 1979L221 2063L204 2026L108 2048L189 2004L168 2052L193 2009L164 2053L115 2034L136 2005L147 2039L200 2020L154 1948L136 2057L76 1989L126 2058L263 2030L112 2028L83 2025L218 2007L267 2000L108 2058L228 2029L221 2057L112 2026L242 2039L143 2023L168 2063L119 2042L179 2019L193 2013L83 2039L73 2043L203 2038L154 2041L189 2040L221 1975L87 2003L161 2061L171 2037L196 1952L228 2023L154 1987L270 1999L196 2025L221 2018L245 2028L189 2048L206 2039L228 2004L253 2056L143 2005L238 1979L125 2029L172 2006L175 2025L153 2035L168 2018L210 2041L69 2003L207 2025L129 2037L133 1999L175 2030L196 2066L186 2038L147 2000L259 2001L266 2030L129 2014L115 2014L161 1980L154 2014L140 2006L242 2015L80 2010L164 2014L154 2026L122 2038L172 2034L115 2032L80 2016L217 2012L189 1998L203 2029L224 2021L133 2070L260 2016L132 2042L196 2026L175 2025L189 2036L245 2016L101 2040L203 2026L164 2018L80 2028L231 2037L196 1990L203 2042L260 2050L192 2002L154 1980L231 2004L246 1987L132 2031L252 2023L189 2045L111 2047L90 2017L140 2026L256 2057L111 2032L164 2042L168 2007L235 1966L207 2027L171 2007L224 2018L235 2040L80 2061L73 2014L256 2031L193 2004L80 2069L115 2045L256 2001L231 2008L165 2006L107 2061L80 2039L140 2032L69 2042L83 2045L93 2027L136 2031L69 2053L69 2045L260 1999L76 2034L190 2033L267 2055L115 2030L196 2018L84 2002L108 2042L182 2010L190 2039L147 2005L147 2032L101 2030L108 2036L126 2002L122 2027L221 1943L231 2012L77 2034L217 2030L231 1999L69 2038L256 2037L270 1990L246 1997L168 2000L94 2011L154 2019L232 2021L98 2060L210 2045L203 2043L80 2011L97 2016L256 2028L147 2002L164 2010L157 2033L101 2033L203 2004L210 2001L196 2021L146 2050L189 2010L186 2043L115 2049L140 2041L267 2045L94 2047L249 1990L182 2048L122 2032L203 2057L253 2041L196 2035L232 2024L132 2028L133 2032L199 2041L238 1996L200 1978L200 2038L101 2037L189 2037L87 2033L140 2043L157 2015L73 2015L263 2027L253 2017L133 2042L253 2000L200 2035L178 2018L140 2023L196 2046L130 2067L228 2041L249 1924L69 2047L245 2027L111 2033L133 2041L83 1999L165 2053L267 2005L119 2017L164 2045L235 1986L147 1927L175 2022L228 1925L221 2025L168 2016L270 2034L179 1989L217 2006L263 2031L252 2054L192 2005L137 2026L147 2047L136 1996L150 2025L154 2060L196 2008L232 2049L151 2067L186 2043L171 1994L207 2064L203 1980L147 2024L151 2026L101 2036L213 1957L193 2044L270 2029L228 1982L260 2030L231 2021L87 2037L132 1992L221 1969L119 2022L147 2014L256 2017L179 2022L151 1974L80 2077L76 2036L267 2023L224 2007L242 2055L101 2045L256 2016L231 2050L90 2021L122 1987L140 2049L221 2067L164 2015L83 2038L164 1987L203 2035L238 2038L256 2000L193 2001L164 2007L245 1979L242 2013L73 2032L200 2038L119 2033L267 2033L98 2012L242 2039L249 2072L150 2021L242 1988L73 2067L203 2009L108 2006L115 2028L217 2034L79 2018L193 2003L260 2000L217 1998L263 1991L157 2037L189 2039L206 2040L242 2026L267 1963L83 2032L267 2057L270 1992L253 2013L111 2004L76 2026L154 2051L214 1960L221 2011L101 2056L69 2018L122 2073L126 2010L175 2046L133 2010L238 2042L235 1952L249 2017L235 2013L147 2024L171 2018L249 2011L263 2008L164 2075L161 2037L69 2044L108 2038L231 2029L175 1954L164 2018L172 2057L122 2040L90 1990L98 2037L143 2025L179 2040L232 1972L207 2031L199 2028L270 2029L249 2042L245 1959L200 2020L210 2024L98 2001L189 2022L179 2029L98 2028L158 2037L218 2043L87 1995L118 2047L175 2003L164 2019L175 2052L256 2029L210 2042L203 2028L189 2011L122 2024L238 2043L214 2051L228 1996L140 2028L72 2027L232 2022L203 2050L140 1997L119 2054L203 2071L196 2013L150 2048L231 2006L83 2019L175 2026L69 2020L147 2015L115 2042L252 2040L256 2051L133 2039L171 2023L140 2052L232 2041L80 1982L164 2016L115 2059L228 1993L217 2063L249 2028L133 2053L267 2046L228 2016L204 2018L228 2003L150 2067L249 2034L154 2047L175 2018L122 2015L256 2051L260 2042L227 2042L239 2011L126 2041L225 2043L196 2042L118 2047L175 2027L76 1998L196 2027L178 2044L266 2017L111 1987L264 1966L207 2020L257 2025L80 2061L249 1989L147 2027L76 2039L210 2004L252 2057L154 2046L122 2070L193 1997L101 2031L133 2038L200 2033L157 2016L151 2044L253 2032L225 2053L249 2014L94 2039L228 1994L126 2043L143 2020L214 2020L217 2053L76 2019L182 2019L83 2014L105 2014L259 2031L263 1993L164 2021L121 2015L83 2074L175 2068L253 2061L259 1988L94 2033L207 2015L200 2026L260 2058L271 2033L256 1996L111 2010L157 2061L101 2039L161 2059L97 2025L192 2007L172 2012L231 2011L118 2042L122 2034L150 1995L186 2022L186 2026L76 2031L196 2023L104 2049L260 2047L84 2044L76 2010L122 2044L139 2016L108 2022L94 1998L238 2040L94 2067L136 2041L179 2011L90 2029L97 2044L175 2043L253 2031L101 2046L143 2032L101 2045L231 1957L210 1999L129 2026L270 2028L125 2059L101 2050L232 2038L126 2023L115 2050L224 2022L256 1997L204 2023L193 2056L232 2006L87 2032L136 2018L203 2008L231 2013L189 2031L210 2044L146 1985L186 2025L203 2009L179 2046L87 2007L270 1985L189 1949L94 2047L267 2030L104 2002L69 2003L250 2011L214 2021L260 1992L172 2017L119 2024L248 2006L189 2004L115 2007L218 1996L73 2023L154 2072L70 2032L154 2016L154 2051L164 2007L101 1995L164 2057L182 2035L112 2045L150 2059L94 2045L133 2019L147 2056L228 1989L246 2013L87 2025L189 2016L69 2065L129 2009L115 2028L122 2032L111 1984L221 2022L133 2004L143 2054L129 2004L213 2014L80 2049L186 2012L129 2037L256 2013L213 2025L80 2053L69 2038L210 2038L115 2047L125 2047L129 2073L189 2034L218 2030L203 2048L133 2020L178 2016L157 1944L242 2003L122 1969L69 2053L137 2030L129 2034L256 2007L189 2047L263 2042L143 2005L217 2048L263 2022L143 2027L245 2054L111 2046L94 2050L132 2041L157 2051L115 2013L189 2034L133 2012L186 2011L70 1968L73 2003L196 2038L266 2010L171 2009L235 2000L221 2007L165 2031L84 2045L136 2028L137 2025L84 2032L161 2033L133 2019L104 2040L210 1976L207 2024L182 2006L270 2035L115 2043L129 1988L256 2009L129 2008L210 2032L69 1999L214 2044L87 2016L213 2019L224 2034L232 2046L217 2041L122 2014L228 2054L80 2039L164 2046L83 2033L260 2039L186 1973L249 2052L129 2028L108 2049L232 2025L136 2066L203 2052L154 2010L168 2045L154 2035L196 2041L175 2015L128 2021L178 2008L178 2016L69 2011L101 2010L207 2021L214 2028L129 2032L112 2029L175 2044L249 2033L94 2012L186 2014L253 2040L236 2045L83 2013L214 2059L129 2011L136 2022L79 2057L125 2037L158 2043L253 2000L246 2050L143 2044L73 2002L140 1998L214 1995L143 2023L87 2042L144 2047L150 2014L94 2048L80 2035L111 2035L175 2009L87 2002L203 1974L115 1967L235 2035L175 2050L94 2013L242 2028L147 2009L126 2037L129 2029L193 1995L154 2020L175 2008L158 2030L182 2029L107 2008L90 1979L217 2038L108 2022L266 2033L242 2015L129 2026L105 2043L154 2060L161 2061L245 1999L246 2023L217 1974L256 2013L204 2028L221 1984L217 2023L140 2010L94 2028L263 2052L207 1970L87 2027L118 2040L146 1908L207 2013L140 2014L160 2053L182 2013L259 2057L175 2016L224 2004L104 2043L79 1987L87 2054L80 2028L210 2068L263 2029L101 2029L143 1989L182 2023L228 1995L87 2047L112 2019L125 2002L129 2028L200 1999L200 2005L80 2027L207 2047L136 2002L136 2063L111 1993L263 1949L164 2022L186 2019L186 2066L249 2002L105 2058L193 2038L97 1970L186 2018L90 2047L101 1988L90 2026L203 2004L218 2021L69 2031L171 2018L94 2018L171 2058L76 2069L87 2006L179 2042L73 2075L178 2038L224 2029L232 2032L245 2001L76 2055L193 2028L108 2060L126 1990L147 2043L140 2063L267 2010L83 2029L183 2053L108 2020L179 2013L267 2033L218 2015L246 2007L83 2019L164 2038L171 2030L197 2037L115 2040L266 2025L150 2039L252 2028L214 2029L192 2032L249 2014L189 2051L136 2048L218 1983L267 2041L129 2021L207 2022L161 2030L133 2036L249 2014L196 2011L189 2010L206 2031L239 2013L214 2060L111 1988L108 1990L238 2040L140 2012L136 2018L245 2044L90 2006L242 2041L246 2000L76 2013L210 2014L193 2036L90 2019L125 2053L217 2018L228 2012L242 1965L143 1975L207 2044L193 2023L101 2032L172 2022L154 1983L189 2050L154 2031L129 2004L87 2037L150 1997L196 2025L122 2032L253 2012L242 2029L104 2012L104 1997L259 2003L182 2066L133 2067L235 2009L126 2015L239 2017L210 2044L221 2037L193 2033L242 2058L115 2021L178 2011L270 2013L196 2076L235 2077L164 2041L256 2029L150 2020L242 2036L143 2046L210 1968L83 2015L263 2022L235 1992L271 2002L252 2017L256 2027L203 2033L256 2018L263 2048L207 2037L207 2019L175 2044L238 2068L231 2037L101 2055L175 2021L224 2052L214 2045L214 2026L90 2042L171 1981L144 2028L69 2038L105 1983L139 2025L210 2039L87 1991L235 2027L175 2020L105 2034L90 2025L242 2038L104 2024L217 2023L176 2032L189 2027L235 2032L239 2006L228 1995L90 2048L253 1915L253 2053L221 2033L104 2032L227 2018L200 2052L122 2022L175 2028L267 1953L91 2030L256 2022L260 2039L186 2036L260 2039L115 2047L98 2040L157 2038L214 1986L69 2015L168 2031L150 2068L147 1996L246 2037L73 2051L83 1936L76 2037L135 2003L161 2028L108 2023L249 1969L168 1999L172 2002L161 2032L249 2033L259 2052L115 2051L150 2009L193 2043L150 2016L245 2006L200 2035L192 2023L101 2045L150 2036L179 2028L228 1994L87 2065L186 2046L80 1975L175 2017L259 2031L214 2028L270 2026L252 2011L232 2055L122 2034L221 1933L143 2010L245 2038L252 2016L108 2053L207 1975L136 2023L186 2028L239 2019L210 2031L175 2007L101 2015L69 2021L214 1979L249 2002L232 1996L242 2013L161 2030L139 2064L139 2006L271 2027L270 2025L242 1985L203 1989L140 2037L204 2063L86 2026L136 2028L105 2044L246 2003L185 2037L249 2050L192 2041L83 2038L158 2020L98 2023L263 2047L221 2045L207 2064L164 2033L189 1999L83 2014L263 2053L158 2042L263 2000L69 2043L228 2035L231 2054L228 1991L190 2008L133 2052L253 1998L101 2051L217 2025L210 2003L193 2009L175 2047L154 2051L151 1967L73 2018L249 2009L228 1994L235 1990L87 2020L221 2057L200 2048L126 2021L178 2025L69 2038L139 2042L90 2025L126 2061L112 2037L228 2019L207 2002L87 2008L143 2044L80 2059L97 1998L87 2027L154 2060L210 2058L122 2046L157 2033L271 2019L143 2035L179 2031L143 2013L246 2032L253 2033L270 1998L83 2028L147 2011L245 1970L193 2045L185 2007L199 2034L214 1992L246 2021L76 1946L189 2024L214 2024L136 2046L182 2043L108 2010L168 2048L150 1999L112 2067L147 2009L203 2028L165 1996L193 2038L199 2037L140 2047L232 2013L196 2032L246 2027L119 2063L147 2037L249 2032L126 2045L214 1993L154 1982L192 2027L171 2039L101 2019L129 2016L129 2050L69 2023L228 2037L165 2038L227 2030L118 2014L108 2029L249 2018L129 2028L185 2064L175 2002L196 2029L94 2043L126 2051L221 2025L168 2025L161 1978L129 2032L253 2032L253 2018L249 2072L154 2027L165 2038L111 1989L185 2006L221 2032L139 2054L94 2019L217 1906L97 2020L126 2015L129 2031L90 2046L122 2025L253 2013L168 2001L136 2027L104 2008L175 2010L253 2020L76 2079L185 2050L253 2010L115 2013L129 2045L119 2044L178 1981L144 2033L214 2065L270 2014L267 1994L253 2068L115 2030L239 2035L126 2031L253 2012L210 2046L249 2047L136 2027L256 2005L94 2010L203 2049L186 2005L73 2046L214 2026L129 2040L200 2033L154 2001L91 2029L104 2048L224 1993L270 1985L147 2027L239 1992L94 1995L190 2040L189 2061L171 2054L112 2008L157 2039L122 1993L140 2039L129 2042L80 2002L210 2031L94 2023L115 1989L232 2055L270 2047L193 2033L217 2022L164 2027L189 2017L108 2055L83 2041L199 2052L76 2015L69 2023L164 2017L203 2022L225 2004L207 2055L87 2034L267 2017L185 2059L186 1972L79 2046L86 2013L161 2032L119 2021L168 2030L166 1995L164 2030L73 2019L80 2018L94 2022L182 2013L267 2040L151 2065L161 2036L249 2041L210 2039L121 2006L167 2065L232 1991L147 2058L101 2048L129 1988L87 2021L140 2007L178 2026L182 2033L207 2019L239 2030L90 1973L87 2023L238 1996L105 2049L210 2031L270 1981L228 2062L91 1924L111 2039L168 2066L264 2019L175 2030L231 1977L256 2053L228 2052L267 2024L260 2010L69 2055L72 2033L196 2020L150 2024L249 1987L69 2021L270 1999L87 1996L79 2045L172 2004L97 2039L111 2035L86 2044L143 2019L189 2059L175 2054L264 2040L119 2055L171 2066L221 2025L256 2032L158 2049L231 1995L147 1986L168 2052L224 2006L154 2047L221 1961L186 2011L253 2046L210 1988L189 2047L211 2059L147 2045L185 2023L165 1943L136 2053L260 2005L185 1991L73 2043L182 1989L228 2054L239 2039L164 2051L246 2034L260 2024L193 2014L249 2037L94 2024L69 2043L98 1998L115 2059L242 2005L200 2015L179 2007L203 2008L207 2021L98 1998L150 2029L101 2029L122 2045L185 2008L175 2027L242 2043L175 2061L189 2074L90 2028L157 2008L203 2005L182 2042L270 2021L242 2031L182 2035L249 2014L108 2057L147 2032L243 2030L217 2019L79 2004L217 2049L267 2017L185 2027L214 2024L263 1995L168 1998L101 2045L189 2017L179 2029L122 2048L186 2014L271 1955L69 2012L157 2024L140 2038L108 2040L207 2028L199 2012L224 2034L147 2026L83 2021L104 1988L72 2024L168 2008L76 2036L189 2036L100 1972L259 2040L199 2042L249 2004L189 2033L140 2026L143 2050L161 2035L253 2036L200 2042L69 2023L235 2037L157 1988L73 2045L83 2040L218 1995L97 2049L161 2033L217 2011L239 2055L238 2028L140 2026L157 2016L143 2031L242 2030L263 2024L97 2047L192 2046L157 2002L271 2030L133 2053L87 2018L239 2050L256 2046L270 2039L133 1925L164 2027L221 2001L210 2025L199 2004L186 2040L182 2028L270 2005L94 2020L235 2036L97 2041L175 2016L76 2041L182 2033L267 2053L267 2039L154 2017L154 2018L143 2025L143 2014L129 2056L175 2033L79 2044L108 2034L210 1981L196 2015L245 2059L108 2030L146 2005L242 1986L168 2014L101 2020L104 2045L250 2044L207 1998L263 2020L122 1999L140 1993L150 2008L164 2040L79 2043L172 2042L76 2027L83 2047L214 2056L119 2050L214 2033L192 2009L196 2010L122 1998L193 2053L108 2060L98 2007L224 2028L168 2018L161 2031L105 2039L136 1994L91 2036L238 2015L129 2069L238 2018L197 1972L97 2033L108 2034L137 2027L214 2018L91 2055L207 2042L153 2042L104 2061L270 2017L238 2063L86 2019L150 2059L270 2040L210 2024L136 2048L79 1954L90 2031L153 2016L80 2029L256 2005L161 2039L199 2019L136 2020L87 2003L228 2010L249 2052L203 1999L105 1940L133 1981L161 2004L126 1995L186 2007L101 2007L136 2011L245 2029L172 2051L97 2026L249 2027L253 2038L150 2011L182 2035L94 1995L154 2031L143 2018L203 2034L125 1985L270 1997L266 2028L210 2013L76 2043L221 2016L129 1973L207 2026L260 1991L270 2018L90 2019L246 1998L224 2041L172 2012L249 2017L250 2038L119 1964L70 2050L260 2031L87 2041L221 2043L97 2019L190 2031L111 2033L246 1999L232 1955L91 2032L111 2046L260 2000L253 2044L168 2003L178 1946L182 1942L94 2026L158 2005L228 2022L221 2025L178 2009L267 2005L197 2038L151 2052L171 2016L97 2052L168 2047L214 1988L242 2067L182 2070L83 2039L179 2026L193 2006L239 2017L104 2031L101 2014L84 2062L214 2025L256 2024L98 1985L239 2000L129 2033L207 2037L189 2049L200 2063L256 2013L164 2024L154 2040L154 2029L122 2021L111 2044L122 2047L246 2057L196 2028L86 2010L164 2048L206 2034L126 2020L83 2028L232 2016L125 2019L189 2013L238 2025L221 2024L256 1954L235 1997L193 2015L256 2040L263 2007L69 2011L267 2020L260 2017L137 2042L129 2042L186 2023L115 1999L210 2038L97 1996L107 2015L186 2026L266 2040L186 1994L146 2020L228 2015L171 1994L137 2032L161 2056L84 2009L151 2062L130 2053L154 2026L77 2001L83 2041L263 1992L157 2050L186 2001L154 2010L182 2036L147 2048L126 1977L69 2052L83 1964L263 2032L136 2012L80 2023L267 2040L249 2062L267 2021L232 2038L249 2001L115 1997L101 2025L199 2032L158 2011L179 2024L133 2065L263 2030L104 2035L249 2027L172 2063L119 1928L224 2031L242 2023L214 2038L154 2009L203 2033L151 2048L73 2070L97 2006L157 2053L168 2002L161 1992L104 2040L250 2026L190 1996L235 2039L140 2022L200 2053L218 2017L192 2002L119 2043L80 2008L129 2005L270 1987L235 2002L94 2054L267 2004L249 1988L122 2062L231 1989L122 2024L165 2044L193 2058L111 2060L140 2053L164 2043L200 2033L235 2021L270 1911L242 2023L221 2033L192 2064L256 2029L97 2065L83 2034L210 2032L69 2021L98 2008L154 2044L69 2049L203 2033L224 2006L178 2003L129 2013L217 1998L111 2050L182 2024L136 1985L154 2014L73 2028L239 2008L97 1996L101 1962L231 2016L207 2014L97 2035L242 2007L200 2060L179 2006L98 2062L196 2038L192 2006L158 2036L271 2028L133 2039L196 2019L108 2060L270 2020L72 2003L246 2032L249 2020L69 2027L154 2024L161 2026L246 2045L235 2033L214 2049L140 2014L189 2026L270 2045L239 1992L256 2037L101 2044L249 1983L157 2058L199 2061L263 2030L83 2042L256 2058L80 2001L76 2030L179 2061L178 2046L69 1979L126 2017L242 2015L104 2054L253 2009L119 2007L256 2031L253 2043L196 2018L249 2057L256 2025L164 1995L129 2012L263 2014L154 2013L101 2055L90 2012L94 1994L98 1988L122 2029L256 2019L111 2043L80 2013L76 2009L231 2006L122 2037L115 2042L101 1988L182 2016L214 2002L264 2030L80 2060L140 2019L136 2013L186 2057L104 2029L199 2030L158 2015L232 2029L224 2032L87 2063L157 2047L267 2024L214 1997L144 2038L242 2035L150 2031L147 1986L154 2003L172 2002L150 2043L133 2049L136 2043L245 2021L207 2051L119 2030L72 2032L189 2020L125 2012L107 2035L101 2051L90 1994L118 2014L83 2036L157 2024L146 2066L189 2021L73 2035L263 2025L69 2016L277 2017L281 2034L284 2079L288 2028L274 2018L256 2035L253 2030L260 2003L288 2024L288 2019L284 2069L267 2012L267 2049L263 1999L256 2059L274 2045L274 2046L263 2017L267 1998L267 2010L278 2016L270 2018L252 2030L278 2037L256 2035L288 2005L274 1989L267 2025L288 2012L284 2036L259 1980L263 2025L253 2018L277 2008L267 2011L278 1986L277 2044L277 2048L281 2017L253 2014L288 2009L267 2009L260 2001L277 1979L267 2022L284 2027L284 1992L281 1981L277 2002L274 2046L288 2033L273 2043L253 2027L259 2057L264 2004L256 2015L288 2030L256 1999L277 2002L263 2019"/>
<path class="m20" d="M200 1764L171 1828L200 1881L147 1896L112 1910L126 1917L175 1918L214 1921L387 2026L302 2038L295 2046"/>
<path d="M72.2 2033.5L382 2017.5L382 2024.5L72.2 2036.5Z" fill="#E6E6E6" fill-opacity="0.85"/>
<line x1="72.2" y1="2035" x2="382" y2="2021" stroke="#FFFFFF" stroke-width="1.6"/>
<line x1="57.8" y1="1749.5" x2="57.8" y2="2095.2" stroke="#000" stroke-width="1.3"/>
<line x1="57.2" y1="2094.6" x2="398" y2="2094.6" stroke="#000" stroke-width="1.3"/>
<line x1="363" y1="2094.6" x2="365" y2="2094.6" stroke="#fff" stroke-width="2"/>
<line x1="53.5" y1="2020.4" x2="57.8" y2="2020.4" stroke="#000" stroke-width="1.2"/>
<text x="52" y="2026.9" font-size="18" text-anchor="end" font-weight="bold">0.1</text>
<line x1="53.5" y1="1934.3" x2="57.8" y2="1934.3" stroke="#000" stroke-width="1.2"/>
<text x="52" y="1940.8" font-size="18" text-anchor="end" font-weight="bold">0.2</text>
<line x1="53.5" y1="1848.3" x2="57.8" y2="1848.3" stroke="#000" stroke-width="1.2"/>
<text x="52" y="1854.8" font-size="18" text-anchor="end" font-weight="bold">0.3</text>
<line x1="53.5" y1="1762.2" x2="57.8" y2="1762.2" stroke="#000" stroke-width="1.2"/>
<text x="52" y="1768.7" font-size="18" text-anchor="end" font-weight="bold">0.4</text>
<line x1="111.5" y1="2094.6" x2="111.5" y2="2099" stroke="#000" stroke-width="1.2"/>
<text x="111.5" y="2116" font-size="18.7" text-anchor="middle" font-weight="bold">30</text>
<line x1="217.3" y1="2094.6" x2="217.3" y2="2099" stroke="#000" stroke-width="1.2"/>
<text x="217.3" y="2116" font-size="18.7" text-anchor="middle" font-weight="bold">60</text>
<line x1="323.2" y1="2094.6" x2="323.2" y2="2099" stroke="#000" stroke-width="1.2"/>
<text x="323.2" y="2116" font-size="18.7" text-anchor="middle" font-weight="bold">90</text>
<text x="218.7" y="2138" font-size="19.5" text-anchor="middle" font-weight="bold">Age</text>
<text x="19.8" y="1916.5" font-size="19.8" text-anchor="middle" font-weight="bold" transform="rotate(-90 19.8 1916.5)">Uniqueness</text>
<text x="72.2" y="1779" font-size="18"><tspan font-style="italic">R</tspan> = 0.2086</text>
<text x="72.2" y="1811" font-size="18"><tspan font-style="italic">p</tspan> = 6.01e-23</text>
<text x="377" y="1749" font-size="45" stroke="#000" stroke-width="0.8">i</text>
<path class="m21" d="M617 1969L492 1993L498 1983L472 1993L530 1980L524 1972L479 1974L591 1994L540 1964L537 2020L543 1990L556 1963L617 1957L597 2000L614 2011L539 2046L482 1988L508 1975L504 1987L540 2007L530 1985L472 2001L546 2011L543 2042L470 2035L491 2033L594 1953L613 1967L575 1980L595 1971L588 1997L546 1964L543 1945L572 1978L504 1980L491 1948L489 1976L591 2047L562 1982L546 1976L555 1989L469 1980L601 1978L569 2021L581 1980L575 1959L549 1997L469 2009L491 1958L540 2046L568 1957L575 2008L488 1990L536 1947L600 2019L562 1994L498 1965L559 1997L524 1994L491 1978L469 2008L581 1965L613 2012L575 1963L517 1996L566 2031L511 1999L565 2039L626 1984L504 1990L595 1952L575 1964L553 1979L589 1997L607 2014L568 1936L514 2045L523 1944L562 1960L482 1949L604 1990L514 1973L597 2001L537 1986L623 2072L566 1994L530 1974L636 1980L578 1969L523 1937L482 1976L527 1992L565 2037L498 1978L607 1917L571 2023L578 1993L530 2012L610 1900L475 1991L530 1967L514 1957L559 1965L584 2029L527 1978L572 2007L610 1974L536 1983L604 2004L498 1983L571 2006L530 2001L597 1987L489 1977L582 2016L571 2000L530 1987L504 1999L565 1945L556 2015L626 2020L533 2009L578 1961L492 1966L607 2009L495 1992L546 1930L495 2003L498 1968L521 2017L591 1973L579 1990L540 2011L572 1998L597 2006L527 2008L482 1849L553 2014L543 2026L600 2004L536 2002L572 2008L479 2038L520 2009L565 1981L565 2013L505 1961L530 2007L489 1993L495 1997L520 1971L527 2036L636 2003L572 2007L575 1927L613 1979L569 1995L546 1986L533 1990L495 1961L530 1995L553 2016L549 2043L530 1980L623 2014L527 1976L489 1971L585 2020L466 1944L636 2011L527 1976L633 2062L623 1989L553 2029L552 2037L559 2001L636 2053L479 1999L575 1959L565 1946L633 1960L591 2013L514 2023L527 2036L613 2036L501 1999L620 1955L614 2021L472 1993L521 1946L614 2035L501 1949L591 2004L495 1995L552 1986L598 1990L498 1992L520 1967L553 1976L623 1987L517 1971L485 1985L498 1983L572 2032L540 2022L607 1936L626 2019L501 2000L591 2038L610 1998L527 1968L636 1984L492 1972L610 2016L501 1970L626 2001L623 2057L581 2020L498 1961L533 2019L498 1980L569 1934L536 1999L565 2008L543 1981L620 2022L482 1951L630 1982L495 1975L466 1925L511 2067L587 2015L588 1945L488 2024L588 2006L527 2009L540 1980L633 2023L636 1992L521 1982L472 1964L485 1982L607 2001L514 1984L585 1923L546 1958L546 2012L517 1979L527 2042L572 1976L562 2020L485 2021L504 1956L630 1979L636 2013L501 1975L489 1999L473 2015L559 1954L543 1998L594 1940L530 2005L475 2004L578 1955L518 2012L572 1978L540 2012L486 1953L466 1963L581 1983L485 2009L584 2015L527 1967L630 1985L543 1987L536 2002L495 1968L469 2021L511 1967L546 1987L585 1968L585 1998L485 2024L604 1986L633 1972L594 1966L517 1957L611 2027L479 1999L520 2028L533 1916L472 1985L491 1954L501 1954L504 1972L501 1952L536 2028L578 1984L617 2051L479 2018L569 1980L581 2008L572 1981L488 1991L546 1959L517 1968L475 1968L511 1999L517 1977L479 1943L601 2048L511 1998L517 1981L620 2041L482 1994L591 2003L559 2000L501 1972L469 1983L543 1961L492 1964L530 2027L492 2028L614 2011L537 2022L530 1971L623 2017L482 1973L517 2010L501 1996L575 2048L620 1979L578 2004L491 2012L501 1997L604 2000L588 1992L517 1969L514 2032L556 1973L572 2007L610 2013L517 2006L617 1987L504 1964L556 2000L569 1963L514 1957L556 1950L492 2017L543 1998L476 1987L604 1981L578 1974L495 1938L598 2016L485 1973L581 1987L540 2010L524 2011L508 1986L485 1983L482 1861L562 1967L482 1999L482 1994L607 2050L479 1927L501 1992L633 2026L552 2043L546 1959L508 2012L562 1987L594 2016L604 1988L598 1895L559 1973L514 2044L492 1978L536 1982L495 2024L536 2024L543 1997L498 1997L585 2008L601 2010L482 1981L523 1991L514 1987L636 2031L559 1977L472 1973L575 2010L610 1991L610 2013L489 2000L591 2019L523 2001L620 2010L472 1992L520 1985L466 1940L616 1994L552 1966L620 2001L556 1981L614 2036L613 1973L488 1965L578 2057L498 1921L588 2007L568 1996L578 2011L520 1981L508 1933L482 1949L607 1935L594 2025L469 1968L610 2035L546 2026L488 2004L553 1985L489 2033L504 1977L495 1971L523 1965L601 1975L524 1984L508 1974L533 1993L514 2008L578 1966L572 2006L601 1940L620 2046L581 2016L601 1990L565 2001L492 2000L578 1990L575 2003L498 1974L623 1989L630 2016L549 1965L575 1957L610 1960L588 1993L524 2037L591 2015L610 1964L498 1993L466 1990L466 2002L629 1959L543 1974L479 1959L546 1974L623 1974L601 2002L504 1992L620 2012L488 1941L591 1977L594 1994L504 1982L597 1987L543 2002L553 1987L578 1944L489 2010L482 1980L601 2061L514 2018L591 2024L610 2002L508 1959L546 1936L520 1971L520 1959L630 1995L607 1982L495 2002L524 1975L492 1966L540 1948L556 2007L604 2003L537 1985L630 1959L543 2040L520 1971L591 2045L553 1966L543 1992L613 1992L575 1997L481 1951L633 1976L501 1975L575 1986L584 1989L604 2005L610 1877L482 2025L510 2019L543 2022L540 2003L479 1993L626 2009L527 1972L578 2032L626 2059L504 2005L514 1963L482 2019L587 2015L517 1993L566 2062L517 1968L575 2023L591 1981L633 2066L627 1988L482 1967L633 2049L524 2017L488 1960L559 1997L472 2001L572 2030L543 1998L591 2008L604 2010L508 1967L578 1992L578 1989L536 1990L466 2026L565 1981L466 1987L594 1993L472 1925L517 2023L546 1970L559 2013L527 2000L472 1964L466 2002L591 1987L562 1982L524 1980L539 2019L482 1933L604 1989L607 1991L517 2027L485 1936L536 1957L475 2005L546 1922L594 1952L476 1943L489 2004L572 2012L562 2014L536 2052L514 2025L495 1984L588 2005L511 1895L537 1930L466 1992L479 1952L479 2012L511 1997L540 1948L601 1964L556 2039L485 1920L572 2000L498 2024L537 2027L601 1968L537 1948L636 1983L613 1955L597 1996L559 2030L626 2064L540 1995L562 2004L597 1989L517 2008L501 1934L588 2034L536 1991L505 1957L508 1957L623 1962L617 2047L568 1985L598 1989L504 1958L562 1984L588 1986L585 1986L472 2030L598 2004L601 1967L591 1960L597 2043L469 1981L475 1974L475 2001L498 1987L482 1983L604 1942L473 2013L559 2013L543 2017L527 1979L466 1963L636 2026L517 1963L575 2018L549 1978L556 1951L562 2019L504 2026L520 1981L559 1989L579 2014L607 2014L488 1977L491 1973L623 2011L559 1985L614 2008L501 1969L604 1993L562 2019L566 1960L585 1984L610 2032L565 2061L476 1952L472 1951L501 1963L601 2014L553 2000L572 2022L552 2022L533 2003L610 1971L587 2047L607 1993L607 2014L566 2009L630 2003L607 2010L601 2017L617 2003L540 1900L585 2033L482 1956L530 1931L594 1982L479 1932L591 1956L597 2001L498 1949L633 1999L559 1983L479 1982L601 1943L495 1973L491 1998L546 1961L517 1994L530 1991L517 2009L507 1990L476 2014L507 1969L565 1913L504 1978L527 2011L505 2017L491 1966L491 2037L547 2038L591 2046L495 1999L565 1999L601 1997L633 1986L598 1994L629 2019L508 1962L546 2002L521 1996L572 1987L489 1976L562 1996L591 2025L508 1966L620 2020L540 1942L508 1872L600 1977L543 2023L575 2005L482 2003L613 1944L527 1990L598 1957L469 1939L598 1951L578 1979L556 1974L498 1857L581 1994L568 2009L479 1966L508 1994L559 2012L616 1973L604 2050L607 1985L495 1997L485 1963L633 1921L517 1995L566 1983L610 2005L524 1932L555 2024L581 1963L543 2008L482 2009L498 1939L527 1948L469 2017L559 2012L511 1941L501 1953L504 1901L549 2003L594 1953L507 2046L562 1993L601 2007L511 1995L552 1976L498 1970L540 2000L572 2010L610 1987L569 1998L517 1998L475 1992L604 2026L594 1989L633 2065L636 1977L626 1992L601 2014L559 1993L556 1993L479 1963L604 2020L495 1979L607 1998L517 2006L565 1997L485 1985L543 2030L585 1977L633 2018L498 2013L530 1972L472 2008L520 1955L601 1979L578 2025L578 1996L575 1975L607 1995L633 2009L620 2014L530 1975L604 2017L575 1978L524 1988L572 1944L588 1991L533 2035L475 1998L556 2048L530 2050L524 2001L604 1998L636 1967L627 2017L482 1998L559 1973L466 1993L495 1998L524 1950L588 1992L553 1980L527 2007L524 1950L476 1964L581 2012L530 2059L610 1977L636 2033L620 2002L482 1950L479 1971L582 2009L617 1994L466 1987L585 2004L508 2004L575 1930L524 1972L591 1984L479 2043L466 2013L492 1943L514 1940L562 1987L472 1934L495 1979L469 1937L569 1990L617 2017L530 1935L475 1961L527 1953L604 2032L604 1979L485 2043L543 1974L482 1898L495 1975L572 2000L524 2018L591 1968L521 2007L614 1986L533 2017L495 2020L594 2015L537 2005L504 1958L527 2029L633 1988L514 2057L488 2004L465 1971L607 2001L514 1966L546 2006L572 2001L578 1993L575 1991L472 2010L540 1961L585 2012L543 1968L601 1972L511 1938L546 1872L476 1993L514 2018L479 1985L591 2022L630 1993L479 1948L636 2058L601 1988L588 2025L530 1965L562 2020L617 1963L536 2006L482 2003L584 1973L565 2027L565 1982L604 1919L562 2001L498 2019L514 1999L597 1976L517 1970L527 2022L488 1972L613 2055L540 1984L473 1966L550 2031L498 1944L517 2002L588 1991L466 2009L585 1972L568 1927L478 1985L630 1979L569 1929L636 1951L636 1994L517 1989L552 1999L623 1973L627 2020L466 1974L591 1998L469 2019L556 1984L517 2039L485 1937L482 1996L501 2006L540 1989L488 2020L485 1961L466 2044L517 2032L569 2046L617 1963L559 1956L630 2014L465 1941L588 1997L620 2020L472 2029L610 2039L489 1968L591 1966L568 1978L572 1998L598 2030L623 1985L469 2000L527 1985L511 1993L562 2008L598 2037L476 1972L546 1932L626 2069L530 2033L466 1962L524 2027L610 1950L482 2012L530 2004L527 2019L572 1975L546 1977L514 1939L591 2001L546 1993L498 1964L591 1984L549 1994L572 1935L585 2025L623 1990L601 2014L617 2006L565 1977L540 2039L527 2055L524 1936L488 2037L572 1990L533 1957L501 2008L572 1970L563 2023L466 1981L482 2005L633 1949L507 1954L495 1848L624 2009L569 2051L488 1977L562 1946L633 1996L517 2038L533 1992L540 1996L575 2010L594 1987L597 2004L591 1983L517 2028L497 1986L479 2004L511 1958L549 1962L524 1946L607 1968L530 1991L475 1960L610 2006L520 2019L549 1920L476 2032L469 1969L514 2011L514 1973L521 1975L475 2016L585 1987L562 2000L597 1982L562 1959L610 1962L469 1965L575 1975L543 1974L549 1987L598 1922L623 1973L549 1954L514 1878L514 1959L575 1926L572 2029L581 2036L585 1934L565 1991L581 1935L469 2021L475 2013L572 1985L508 1956L482 1980L607 1991L469 1928L498 2009L482 1937L636 1986L581 1984L479 1982L520 2027L492 1954L553 2016L614 2047L582 2021L636 2011L617 1973L585 2003L469 1954L630 1998L588 2026L636 2039L498 1974L626 2039L466 2013L582 1950L540 1935L504 2033L613 1987L505 2012L472 1962L466 1939L511 2013L604 2005L585 1988L504 1991L607 2020L530 1987L553 2000L504 1980L601 1966L537 1972L482 1994L549 2039L511 1995L562 1957L633 1975L604 1973L520 2022L546 1980L633 1989L549 2018L549 1999L604 2046L555 1968L488 2004L591 2028L572 1970L572 2003L501 1943L556 1952L466 2003L479 2002L520 1983L562 1996L485 2024L523 1880L475 1939L530 1975L568 1982L521 2007L626 1976L605 2001L479 2019L562 2024L633 2003L498 1991L482 1993L520 2019L553 1993L582 1950L556 1987L521 2048L485 1978L569 1985L540 1926L578 2013L588 2033L617 2011L511 1958L530 1948L517 2013L597 2016L636 2030L584 1957L495 2007L527 1916L572 1928L482 2047L584 1960L569 1976L488 1959L485 1974L565 1992L495 1965L511 2015L576 2019L521 1994L470 1986L556 1983L575 1992L588 1981L492 1989L498 1952L553 1881L517 1997L623 2035L613 2008L479 1987L492 1962L524 1938L537 1994L546 2006L495 2056L517 1997L627 2003L569 2009L581 2026L466 2063L549 2018L546 2007L536 1998L582 2019L636 1999L511 2009L482 1960L578 2017L610 2030L489 1944L569 2013L556 1995L575 1926L591 1966L476 2021L581 2032L533 1998L482 1930L559 2006L585 1948L498 1985L469 1994L591 1953L546 2000L565 1994L572 1999L533 2027L614 2023L556 2034L501 1960L527 1977L472 2011L585 1955L572 1982L626 1999L627 1980L604 1971L572 2010L508 2001L569 1997L508 2002L504 1997L540 1997L508 2002L600 1990L507 1998L492 2014L479 2008L630 2044L617 2001L575 1996L620 1930L475 1973L485 1955L524 2023L482 1991L636 2037L479 1987L469 1996L594 2002L629 2023L501 1972L527 2004L466 2028L594 2030L588 1968L530 2003L482 1912L601 1993L466 1976L617 1978L543 1966L491 1995L559 1930L623 1976L466 2015L626 2064L498 2005L588 1984L485 1956L601 2009L521 1992L530 2005L524 1987L565 1969L587 2028L572 2013L527 1974L472 2039L633 1992L479 1989L491 1956L600 2049L585 2021L559 1954L553 1983L501 2036L507 2047L482 1971L565 2007L607 1993L604 2021L562 2022L614 1960L527 2032L498 1971L594 1932L485 1969L533 1930L553 2000L617 1986L517 1940L543 1941L588 1983L581 1990L530 1965L588 2054L543 1967L526 2011L617 1932L546 1980L626 1998L575 1982L527 1991L524 1970L501 2011L524 1986L517 2062L494 1976L498 1974L594 1977L626 2039L578 1974L485 1935L565 1999L523 1982L495 1981L582 1993L569 2012L495 1940L537 1944L590 1972L598 2026L607 1966L565 1974L556 2017L556 1925L489 1992L533 1932L594 2007L572 2013L553 2017L632 2010L511 1958L588 1978L540 1938L492 1948L472 1950L514 2005L566 2013L559 1972L524 2038L601 2001L540 1975L521 1945L591 2018L526 1965L537 1993L611 1973L569 1970L578 1904L498 1955L543 1976L559 2001L479 2012L543 1862L578 1977L495 1988L478 1988L505 1974L469 2005L475 2047L630 1991L562 2004L514 1936L549 1971L630 2000L591 2007L549 2020L476 1958L479 2004L594 2057L626 1996L520 1967L498 2040L594 1975L520 1966L536 1975L504 1975L475 2009L517 1977L578 1976L537 2001L488 2015L610 1994L620 1994L546 1928L553 1938L627 1999L527 1974L475 1987L466 1926L636 2027L533 1966L630 2005L591 1985L559 1961L553 1971L607 2000L488 2005L540 1954L591 1974L565 1992L504 1995L607 1978L546 2013L598 1975L469 1996L479 1975L595 2039L568 1960L630 2026L479 1947L623 1940L604 2037L486 1990L562 1951L489 2010L524 1979L585 2014L469 2002L479 1993L575 2014L536 2010L585 2024L492 1966L572 2015L614 1978L505 1989L504 1969L630 1991L552 1972L527 2056L633 1963L514 2006L614 1983L630 1979L476 1982L527 1965L555 2014L514 1990L620 2026L476 1957L626 2031L556 1914L607 1912L476 1971L633 1936L482 1963L523 2004L630 2026L633 1987L623 2016L530 2021L533 1989L591 1997L591 1998L633 2013L588 1957L546 1904L537 1906L604 2014L485 1995L598 1972L523 2013L556 1978L482 2017L543 1982L604 2020L501 1965L559 1991L582 2024L517 1952L610 1992L524 1921L591 2002L575 1940L623 1999L495 2013L636 2033L524 1967L610 1994L540 1942L559 1950L610 2000L623 1985L591 2027L479 1975L636 1990L575 1960L508 1940L613 2000L575 2020L539 1966L511 1973L607 2031L517 1937L476 1981L469 1955L504 1987L575 2014L485 1910L514 1975L614 1957L533 1983L537 2012L636 2011L514 1981L636 1998L591 2010L507 1996L482 1980L530 2039L517 1991L523 1932L469 1943L479 1948L469 1980L466 2002L562 2019L540 2042L482 1979L479 1960L540 1974L550 1938L537 1979L585 1939L585 1983L585 2020L633 2006L511 1940L562 2022L489 1977L574 1942L585 1998L488 1949L498 2071L607 2041L540 1964L498 1950L518 1986L501 1952L610 1964L508 2014L572 1970L591 1968L469 1956L546 1993L611 1983L536 2034L572 2002L610 2064L600 2008L543 2010L533 1964L617 2000L552 1992L469 1973L626 1991L630 2040L559 1891L629 1984L601 2010L498 2003L469 2004L623 1988L582 1980L466 1955L546 1970L591 2020L556 2058L610 2041L578 2002L524 2030L546 2006L546 2034L591 2006L559 1978L514 2002L587 1990L549 1969L466 1985L620 1979L533 2030L597 1989L469 1949L520 1983L533 2006L498 1956L617 2025L617 2013L543 2012L537 1969L591 1974L588 1991L527 2012L604 2024L597 1965L597 2034L626 2010L572 1978L540 1996L482 1971L566 1954L475 2040L504 1974L607 2012L575 2052L556 1968L527 2014L479 1968L588 2024L469 1917L533 1981L556 1994L610 2012L629 2019L472 1974L482 1949L475 2001L575 1968L636 2003L479 2001L530 1989L482 1960L597 1947L466 1982L636 2002L620 2030L501 1995L553 1990L575 2041L591 1957L607 2019L495 1912L629 2023L604 2052L540 2031L610 2006L476 1978L466 1988L492 1959L485 1988L527 1934L604 2008L614 1965L542 1976L479 1981L626 2001L469 1962L600 2003L472 1987L591 2007L549 1959L588 2014L569 1966L540 2014L482 1952L579 2000L568 2054L626 2048L626 1976L626 1982L617 1983L542 1936L591 1947L611 1997L492 1960L636 1975L511 1997L505 1932L524 1961L630 2005L521 2026L578 1985L607 2032L546 1961L485 1964L549 1986L527 2035L559 1993L636 2031L626 2015L530 1937L482 1976L485 1972L504 2010L562 2029L549 1929L507 1982L479 2028L572 1954L578 2029L550 1991L517 1983L533 2005L617 1976L636 2053L614 2025L511 2001L581 1989L501 1922L588 2038L562 1952L552 1950L501 2043L617 1981L614 1988L517 2004L466 2022L623 1991L607 1991L466 1979L517 1995L475 2022L598 2014L504 1959L633 1990L492 1979L607 2020L476 1987L630 2024L601 2000L508 2009L514 1962L482 1996L616 2020L540 1945L636 2016L472 1957L495 1968L495 1997L533 1949L492 1959L588 1993L469 2004L617 1977L543 1981L594 2035L488 1975L623 2006L537 1997L521 2019L572 1985L559 1973L565 1974L533 1954L514 2004L475 1965L553 1964L530 2002L623 1994L604 2008L488 1967L626 1976L520 2016L505 2031L587 1978L600 1989L540 1986L482 1981L598 1984L636 1999L514 2058L626 2069L523 1985L585 1998L636 1946L575 2004L601 1947L591 1895L485 2019L488 1977L591 1915L552 2022L636 2011L482 1961L617 1996L521 1989L617 1968L514 1998L550 2020L504 1970L604 2021L514 1960L594 2001L591 2014L520 2028L534 1991L591 2062L581 1962L546 1979L511 1967L504 1996L572 1977L575 2028L472 1990L623 1991L591 2009L514 1988L478 1991L594 1988L505 2006L530 2023L492 2025L540 2017L610 1980L581 2025L485 1980L578 1947L556 1960L492 1959L537 1988L610 1984L591 2009L636 1999L524 2027L485 2001L556 2001L536 2063L617 2034L523 1929L479 1949L511 2009L469 1974L604 2025L562 2006L498 2028L491 1979L550 2007L495 1982L562 2030L495 1961L575 1992L633 2020L540 2022L601 1995L601 2030L562 1975L620 2007L598 2039L569 1971L488 1966L537 1989L543 2062L539 1973L630 1979L553 2000L488 1976L623 1995L488 2009L552 2019L524 1987L579 2033L636 2020L479 1923L623 1985L588 1942L514 1948L597 1965L581 1979L623 2037L572 1992L604 1988L466 1987L485 1941L556 1972L511 1987L501 2064L514 1970L614 1980L623 1991L476 1962L527 1958L575 1935L623 2040L524 1992L559 2059L530 1977L591 2040L505 2066L582 2041L543 1989L620 1981L591 1998L536 1966L501 1995L566 1983L636 2030L465 1957L546 2021L469 2018L610 1970L620 2018L559 2026L572 1951L550 1954L549 2008L530 1909L517 2021L620 2026L626 1971L559 1965L527 1985L527 1961L530 1963L607 2024L610 2026L533 1961L572 2015L636 2013L636 1966L597 1989L553 1971L540 1943L533 1977L572 1969L636 1996L620 1986L466 1972L629 1987L533 2012L482 2016L610 1989L530 1989L491 1986L539 1962L536 2059L504 1970L511 1988L488 1925L546 1974L517 2017L594 1961L482 1940L591 2027L552 1986L514 1944L521 1996L527 1991L501 2011L549 1956L469 1974L569 1971L479 2000L543 2009L629 1950L514 2018L578 1992L510 1991L511 2018L466 1964L524 1971L588 1987L495 1995L534 1973L616 1966L636 2025L508 1951L620 2014L614 1951L559 2026L485 1946L562 1950L491 1956L633 1994L479 1978L543 1934L626 2029L508 1996L633 1984L466 1979L607 2033L626 2044L582 2043L617 1979L549 1974L533 1959L549 2026L504 1997L633 1941L546 2020L607 2019L546 2002L488 1970L540 1986L479 1987L492 1951L565 1986L591 1955L559 2039L585 1987L581 2015L575 2034L591 1993L466 1980L488 2004L482 1984L491 2030L498 2018L501 1999L466 1964L479 2005L482 1987L466 1980L472 2009L505 1929L508 1938L488 2022L466 1950L492 1994L489 1975L498 1993L476 1950L498 1981L475 2003L479 2002L489 1943L498 1986L498 1969L482 1973L476 1948L498 1938L508 1937L508 2022L466 1993L479 1991L475 2001L466 1947L491 1951L485 1975L482 1890L469 1980L495 2000L501 1955L495 2012L485 1988L479 1966L505 1996L501 1950L498 1996L476 1942L505 2011L489 1999L485 1996L505 2006L498 1963L482 1982L469 1987L504 1957L498 2015L482 2024L491 1980L486 2017L505 1946L469 1972L504 2012L495 1926L491 2031L501 2047L489 1950L486 1988L505 1987L508 2017L488 1948L482 2046L492 1971L495 1994L504 1985L479 1956L488 2004L472 1947L476 2043L485 2016L469 1929L507 2011L501 2003L491 1922L508 2017L472 2013L498 1965L505 2011L469 2019L482 1939L495 1973L501 1947L466 1987L508 1974L501 1974L479 2007L508 1952L485 1954L466 1978L472 1980L501 1929L469 1952L508 1993L485 2019L505 1999L508 1953L469 1949L466 1958L488 1925L489 1984L469 1988L485 2019L507 2000L478 1984L475 1959L508 1970L466 1977L498 1979L505 2006L482 2028L485 1982L482 2034L501 2002L488 2014L508 2006L466 1955L475 1993L472 1983L466 2002L492 2016L492 2022L498 1939L482 1968L476 1952L485 2001L495 1991L472 1950L489 1953L475 1977L504 1997L507 2014L482 1995L492 1966L479 2002L495 2015L498 2002L495 1990L472 1969L504 1957L495 1973L475 1982L466 2011L472 1946L476 1953L482 2022L479 1977L501 1951L475 1978L498 1991L498 2038L489 1990L501 1987L508 1950L504 1955L475 1915L492 1993L469 2002L488 1958L479 2006L501 1974L501 1973L508 1963L508 1994L482 1975L504 2036L476 1939L482 1942L469 1940L469 1937L504 1971L479 1974L485 1973L492 1958L479 2014L508 1996L479 1986L508 1979L472 1985L498 1989L488 2012L504 2005L478 2003L476 2026L501 2044L507 1993L466 1940L469 1902L466 1983L479 1946L472 1982L476 1923L466 1944L466 1935L469 1973L472 1978L502 1988L495 1969L495 2006L479 1927L485 2055L492 2049L469 2006L504 1907L482 2002L508 2060L485 1971L495 1970L482 1967L501 1957L492 1965L482 1952L501 1949L479 1964L466 1956L508 1986L475 1986L485 1989L504 2007L482 1976L488 1962L472 2007L469 1988L472 1994L495 1904L472 1972L472 1960L498 2002L498 1987L469 2003L508 2016L472 1952L495 1995L508 2025L488 1962L488 1973L482 1975L488 1951L498 1960L475 2003L472 1984L469 1956L498 1960L489 1968L482 1966L504 1950L488 1983L505 1965L501 2007L505 1958L501 1891L472 2014L469 1994L507 1997L498 2018L488 1969L476 1976L466 1946L485 2027L479 2013L482 2012L501 1995L476 1984L501 1966L491 1995L476 1965L479 1961L472 1996L492 1943L501 2002L472 1988L469 1942L501 1987L492 1977L488 1963L501 1987L501 2018L479 1989L466 1952L508 2014L479 1977L482 2021L466 2005L492 1995L479 1964L472 1955L469 2004L466 1997L508 1988L485 1978L636 2032L633 1957L639 2007L642 1940L639 1979L665 1976L646 2030L649 1982L649 1945L639 2072L665 1956L633 2015L649 1969L658 2025L652 2010L636 1987L636 2003L636 1995L642 1982L658 1983L649 2041L639 2000L649 2040L649 2020L652 2002L642 1996L642 2010L659 2026L646 1988L652 1973L658 1996L639 2003L662 2036L649 2031L639 1977L636 1970L658 2018L636 2034L646 1968L659 1989L643 1998L646 1992L636 2031L649 1984L661 2002L633 2005L649 1988L662 1995L636 2038"/>
<path class="m21" d="M508 1785L755 2013L678 2022L671 2053"/>
<path d="M468.3 1983.5L752.2 2010.4L752.2 2016.8L468.3 1986.5Z" fill="#E6E6E6" fill-opacity="0.85"/>
<line x1="468.3" y1="1985" x2="752.2" y2="2013.6" stroke="#FFFFFF" stroke-width="1.6"/>
<line x1="455.1" y1="1766" x2="455.1" y2="2092.6" stroke="#333" stroke-width="1.3"/>
<line x1="454.5" y1="2092" x2="765.8" y2="2092" stroke="#333" stroke-width="1.3"/>
<line x1="451" y1="2005.7" x2="455.1" y2="2005.7" stroke="#333" stroke-width="1.2"/>
<text x="450.5" y="2011.7" font-size="17.5" text-anchor="end">0.700</text>
<line x1="451" y1="1917.5" x2="455.1" y2="1917.5" stroke="#333" stroke-width="1.2"/>
<text x="450.5" y="1923.5" font-size="17.5" text-anchor="end">0.725</text>
<line x1="451" y1="1829.4" x2="455.1" y2="1829.4" stroke="#333" stroke-width="1.2"/>
<text x="450.5" y="1835.4" font-size="17.5" text-anchor="end">0.750</text>
<line x1="504.4" y1="2092" x2="504.4" y2="2096.4" stroke="#333" stroke-width="1.2"/>
<text x="504.4" y="2112.5" font-size="17.5" text-anchor="middle">30</text>
<line x1="600.7" y1="2092" x2="600.7" y2="2096.4" stroke="#333" stroke-width="1.2"/>
<text x="600.7" y="2112.5" font-size="17.5" text-anchor="middle">60</text>
<line x1="697" y1="2092" x2="697" y2="2096.4" stroke="#333" stroke-width="1.2"/>
<text x="697" y="2112.5" font-size="17.5" text-anchor="middle">90</text>
<text x="606" y="2141" font-size="19" text-anchor="middle">Age</text>
<text x="398.5" y="1926" font-size="22.8" text-anchor="middle" transform="rotate(-90 398.5 1926)">Ratio</text>
<text x="623.5" y="1791" font-size="18.9"><tspan font-style="italic">R</tspan> = −0.1464</text>
<text x="623.5" y="1822" font-size="18.9"><tspan font-style="italic">p</tspan> = 3.93e-12</text>
<text x="755" y="1740.5" font-size="46" stroke="#000" stroke-width="0.8">j</text>
<path class="m22" d="M920 2032L1003 2058L947 2020L1087 2035L911 2051L1030 1983L970 1965L1006 2063L1025 1973L990 2035L945 2006L1014 1982L996 1982L1035 1984L952 2043L999 1997L1062 1989L1089 1865L1028 1931L1009 1954L978 1994L1039 2025L1054 2009L1006 2022L989 2052L961 2026L1016 1981L913 1970L1065 1999L976 2049L1011 2035L993 2026L948 2035L1044 2027L1000 2014L963 1967L1032 2037L1008 1990L982 2009L1013 2039L1036 2014L977 2002L1014 2034L954 2032L1038 2046L1048 1955L1006 2041L999 1977L1082 2050L975 1963L1027 1983L993 2056L997 1935L1017 2026L1088 2044L1005 1984L1041 1959L1038 2030L935 1996L1016 2013L1039 1896L1056 2045L984 1921L958 2057L939 2064L981 2023L1083 2033L1026 2066L984 1989L1032 2060L1048 2004L976 2024L1033 2044L1043 2029L994 1910L972 2038L1052 2007L1008 1982L1013 1953L991 2030L1007 2030L1026 2002L1013 1892L1002 2012L1017 1934L1039 1979L1044 1973L1029 2051L1057 2034L1074 2036L1078 1924L928 2048L949 2034L985 2025L1002 1992L977 2052L989 1947L1062 1918L963 1995L1009 2006L1077 1834L1045 2017L1013 2027L1010 2011L1045 1855L925 1897L1042 2056L1047 2019L1005 2040L1009 2034L1009 2013L1028 1914L960 1995L983 2025L987 2028L940 2004L1056 2022L1003 1922L1000 2035L933 2020L1041 1907L1042 2045L933 2018L984 1916L1010 2008L1065 2002L994 1861L1018 2047L956 2056L974 2032L1072 1932L951 2012L1059 2066L938 1935L1015 2016L1006 1992L1042 2049L998 2006L1095 1955L997 2071L939 1945L1028 1947L999 2031L953 1957L1020 1880L918 2010L1085 1962L995 2000L921 1927L920 1941L1011 1956L948 2025L994 2033L1059 2003L997 1914L979 1950L998 2018L1008 2024L965 2018L987 1977L1013 2023L1038 2014L988 1911L1052 2026L1103 1934L947 1947L1035 1995L1016 2001L1022 1953L1059 2017L905 1894L934 2025L994 2015L1054 1953L1017 2031L1045 1987L1033 1981L1019 1953L1014 1937L988 2044L1015 2006L1016 1842L1005 2023L1090 2055L985 2035L941 1990L1101 2008L928 2016L964 2048L972 2022L1051 1983L1004 2024L1007 2022L1091 1978L1056 1951L1001 1995L902 1988L942 2011L1038 1964L974 1900L989 2006L1074 2013L1072 2000L1097 2005L973 2035L1014 2008L1067 1989L988 2022L1024 1994L1026 2034L1039 1995L975 2028L921 1972L976 1908L1014 2061L1023 2038L964 2022L1009 2033L993 2004L1023 2042L967 1859L988 2002L1075 2037L1015 1965L1029 2034L990 1820L969 1957L1003 2051L1030 1945L1005 2057L1090 1911L1017 2062L1119 1961L967 1915L1097 2055L998 2057L970 1983L1041 1967L949 2023L1122 1971L965 2025L1043 2041L1109 1994L1009 2035L1049 1905L1016 1974L1044 2014L1055 2013L1003 1996L1029 2026L984 2041L1035 1959L1000 2018L1054 1992L993 2042L968 2020L998 1906L1061 1951L985 2029L1056 2017L1021 2016L1044 2019L953 2070L1005 2003L1058 1914L1067 2015L1006 2023L1031 1942L997 1921L922 1941L978 2006L1004 2050L973 2007L1008 2027L1046 2062L985 2035L924 1930L989 1998L1003 1983L1075 1907L960 2002L1031 2005L1024 1976L1008 2011L941 2017L972 2004L983 2043L1003 2029L1003 1988L986 1956L1057 1962L999 2055L1004 1995L981 2049L945 2044L1106 2000L1079 2035L979 1972L1029 1951L1060 2013L1029 1912L1010 1938L1070 2034L1024 1933L1001 1978L1051 2014L1016 2016L978 2024L1003 1840L996 1997L982 2019L1058 2028L1059 1949L963 1979L1032 2026L1011 2023L1092 1977L1016 2034L1071 2044L1090 2059L1066 2041L1086 2043L1055 2014L1045 2050L975 2027L1030 2010L1055 2040L1036 1990L1057 1987L1017 2042L979 1984L995 2002L1018 1963L1057 2037L979 2037L989 2044L982 2058L1060 1989L1090 1994L996 2044L1030 1984L1084 1924L1067 1968L966 2015L990 1967L1072 2009L971 1995L1022 1983L1077 2019L1045 2041L976 2048L1076 2012L990 2008L1076 1958L1019 1972L1023 2013L1014 2049L956 1993L999 1971L1014 1991L1027 1955L941 2053L1061 1958L1111 1940L1009 2047L1048 2053L1029 2025L1028 2031L1042 1969L933 2008L958 1957L1024 2025L992 2027L1034 2025L1054 1958L984 1824L1078 2041L1017 1985L1029 2044L994 1931L937 2002L1062 2051L1082 2038L1021 2011L1028 1997L1075 1997L1012 2016L1002 1986L931 1984L1062 2014L979 1947L986 2048L1072 2035L974 2040L1044 1926L958 2056L1009 2037L1038 2015L1003 2049L977 1852L1047 2047L1034 1959L968 1998L1032 2014L1052 2006L997 2044L1038 1939L1015 1999L1117 2047L1036 2052L979 1989L913 2017L994 1997L977 1972L1084 2044L999 2055L1104 2048L988 2000L956 2019L1036 1957L1058 2038L992 2026L1051 2018L1055 2021L980 1938L1004 1977L1071 1958L999 2046L989 2037L1090 2014L974 2022L1004 2035L1062 1913L1032 2050L1133 1908L1013 1844L1016 1978L978 1998L1065 1976L1027 2023L1024 2011L1027 1969L1033 2048L1007 1903L1034 2032L1048 2018L1041 2014L1001 2027L941 1918L1006 2008L980 1939L958 2038L1033 1888L998 1945L1007 1962L1028 2018L949 1968L1106 2038L1012 2007L966 2033L1090 2018L1015 1995L1027 2028L985 2013L1061 1964L1033 1871L971 2041L964 2022L1009 2048L1017 1980L1082 1954L957 2019L1041 1907L1011 1950L974 2062L1014 2053L1032 2010L1030 2016L1014 2036L926 1974L1051 2046L1037 1969L978 2026L1096 2019L1024 1953L1010 1994L975 1953L1063 2038L990 2032L1003 2009L1005 1967L1070 2039L1037 1923L1107 2019L994 1977L1009 1919L971 1971L978 2027L939 1953L1008 1967L1063 2013L958 2012L1012 2019L997 2047L1035 2051L1014 1940L1024 2040L1038 1927L983 1931L1010 2014L1027 2016L1010 2029L1083 2029L967 2027L975 2053L1065 1969L964 2030L931 2018L1040 1989L1076 1796L1033 1950L1082 2011L1072 2006L956 1970L1068 1986L1064 2061L1040 1966L960 2008L1020 1986L1011 2021L1034 2047L1044 1976L984 1984L909 2056L1001 2040L1004 1986L1100 1966L985 1976L983 1989L1066 2020L971 1937L1018 1815L1031 2046L1006 2026L1026 2021L1062 2020L999 1809L1044 2014L1048 2022L951 1958L1053 1995L1025 1915L967 1954L1055 2058L1011 2023L1071 1966L1028 1988L1040 1843L1054 2058L1066 2044L1033 1975L997 2019L994 1948L1023 2019L991 2027L1025 1950L966 2002L1063 2011L1032 2003L1020 1872L1018 2019L1026 2029L1053 2028L1095 1863L1015 1969L952 2008L974 1958L1001 1970L975 2048L990 2016L975 1997L1015 1893L1064 1995L1062 2013L1018 2051L1040 2016L988 2017L1040 1979L1049 2040L994 1999L1077 2002L965 2036L1039 2035L1124 1999L1012 1953L1100 2021L1001 1971L1074 2037L1043 2047L1017 2045L1054 2038L1074 2028L1036 2047L972 2034L1002 1975L982 2039L1009 2000L1117 2026L1001 2032L974 2048L966 2037L1072 1983L1039 1865L1034 2051L1025 1983L1014 2022L1061 1937L992 1987L1056 2049L1006 2044L962 1974L1001 1944L1033 1951L1026 2039L1087 2034L1046 1982L1019 2015L1064 1951L1017 1905L1061 1975L1023 2060L1001 1901L1009 2041L1015 2055L1060 1942L1026 2006L1003 2028L1045 2007L1092 2032L1040 2011L1064 2032L1077 2006L1048 1939L1031 1966L997 1914L1045 2049L985 1915L1005 1991L1068 2021L940 2019L1000 2055L984 2046L1019 2010L983 1888L1019 1956L1046 1850L1041 2042L1104 1989L1000 1951L1085 2036L1013 2009L1016 2036L967 2032L985 2004L912 1966L1058 1957L971 2008L1096 2049L970 1962L1025 2024L1073 2045L1014 1970L1018 1970L981 1999L1016 1970L969 2067L966 2002L1052 2050L931 2051L1027 2056L1053 1938L1068 1957L979 1988L969 2057L1020 2064L1012 1987L993 2059L962 2040L1020 1955L986 1997L1019 2013L1019 2038L961 1984L935 1999L993 1966L1020 2062L989 2021L1053 1988L995 2007L1023 2019L1017 1982L984 1932L1070 2014L992 2005L1071 1995L1025 2039L965 2049L1028 2069L1032 1993L976 1968L993 1886L1075 1907L1076 2039L977 2046L1024 2055L926 1943L1007 2024L998 1941L1068 2018L992 2018L1063 1984L1032 1909L1027 1856L945 1994L1024 1991L1027 2029L1035 2038L1050 1987L985 1995L1081 2031L1010 2044L983 2047L1053 2059L1019 1891L1034 1903L1014 2031L999 1949L998 1957L1018 2044L1040 1918L1021 2010L1054 2017L1021 2015L1022 2056L1043 2043L1016 2009L940 1863L1038 1975L957 2020L978 2036L1083 1986L990 2020L1033 2042L1013 2010L1060 2028L1077 1908L1050 1954L1021 2039L1031 1932L1018 1949L1010 2037L1124 2053L1051 1981L1011 2036L1032 2052L985 2031L1017 2042L1006 1987L1036 1987L1087 2043L1066 1996L965 2024L1008 1957L1022 1915L1007 1928L981 1976L980 2050L983 1864L967 1950L1033 1985L1044 1989L1049 1941L1098 2024L963 2037L942 1978L999 2019L1050 2056L982 2037L1029 2033L1003 2013L984 1970L1084 1994L989 2039L979 1977L1059 2031L1079 2005L1081 2055L1022 2002L968 2062L1027 1829L1082 1900L979 1848L987 1982L1004 2020L1040 2064L1073 2043L1032 2036L1008 1919L1006 2060L1044 1976L1080 1958L1014 2043L961 2012L1036 1982L1013 2049L916 2032L1046 1956L1007 2035L1055 2066L963 2042L1030 1944L1007 1960L1038 2043L1068 2005L1019 2028L1045 2025L1056 1997L1014 2055L985 1973L1046 2001L1084 2032L1009 2028L1018 1990L1039 2040L1096 2023L1002 2004L1005 1936L944 2017L971 1956L1026 2012L931 2026L940 2012L1054 1987L973 1930L996 1995L1080 1968L1027 1940L1010 2014L1036 1964L977 2042L1059 2021L989 2011L961 1932L1012 1905L1057 1993L1015 2025L1059 2026L1085 2047L1025 2048L1045 1962L1025 2035L1064 2045L1019 2012L1042 2012L945 2003L1052 2031L1091 1916L1026 1992L1001 1944L957 1953L984 2002L993 1981L941 2055L1035 1902L995 2043L1008 2001L987 2023L985 1936L1036 2040L1060 1944L961 2016L1072 1957L1088 1990L992 2026L1030 1952L1010 1963L1033 1950L1022 1968L1104 2054L1008 1969L1016 2006L1086 2007L1081 1961L1008 2047L1056 2002L1046 2060L971 2037L986 2003L1086 1986L1011 1919L1039 1898L1055 1964L992 1920L938 1982L976 2001L1003 1942L1063 2058L1077 2027L1053 2045L1022 2003L1082 2000L1063 2008L962 1937L1088 2037L981 1862L1068 1977L1079 2024L1048 2017L1034 1995L1020 1840L964 2007L1041 2002L1073 1963L1061 2012L1056 2023L1014 1928L977 2017L995 1968L1033 2007L988 2014L1006 1965L978 2033L1103 2023L1013 2036L1011 1980L978 2042L1056 1968L974 1878L1038 2039L1010 1911L952 1931L1011 1992L1019 2014L1013 2065L950 1820L1051 1982L995 1924L999 2025L1040 2010L1032 2042L1087 2003L1028 2014L1001 1998L1001 1962L965 2027L971 2031L961 1953L1039 2007L1029 1926L923 1939L1075 2012L1113 1961L1012 2024L1024 2042L936 2060L982 2028L1031 1945L1001 2025L1029 1967L988 1971L1022 2024L973 2023L996 1938L1031 2019L1024 1999L955 1953L966 2011L970 2028L982 2047L1000 2005L1028 1976L979 2032L1019 1948L967 2046L1013 1981L1038 2056L974 1926L1014 2041L986 1975L1008 2049L1030 2035L994 1974L1102 1985L1011 1915L1012 1972L1047 2061L1029 1987L1010 1959L952 2018L1040 1934L1062 2035L1013 1919L1027 2006L977 1960L1092 1996L1030 2008L987 2000L920 2010L1086 2011L1078 2057L985 1904L1057 1995L1101 1928L929 2000L1001 1994L969 2025L931 1995L975 2024L1049 2063L1046 1941L1011 2012L964 1966L1083 2029L988 2036L978 2009L1024 1941L975 2007L1011 2002L1115 1910L1062 1974L974 1982L1015 2055L1033 2028L1029 2010L1034 2069L1093 1967L1040 2023L1023 1911L988 2027L1032 1914L951 1974L978 1949L1042 2007L1005 1936L1074 2069L924 2000L1076 2006L1082 2064L970 1987L1079 2041L1006 2026L981 2030L1004 2004L971 2017L984 1937L1018 1997L1086 1987L999 1999L969 1988L1025 2041L995 2039L1073 2008L979 2001L1085 1972L963 2010L1018 1967L947 2007L986 2015L1001 2002L1057 2026L908 2030L1035 1905L1049 1995L926 2041L996 2028L1000 1945L1023 2051L1046 2057L1055 1994L1056 1987L1046 1981L942 2060L1062 1974L1019 1976L1016 1954L1035 1953L1046 1966L1042 2054L953 2038L1045 1992L960 1938L1039 2022L997 1883L1008 1836L989 1978L1012 2017L936 1991L1071 2018L1054 2038L1030 2003L995 2007L1001 1997L928 1940L917 1951L1020 2018L1043 2033L939 2017L1036 1958L1039 1862L999 2031L1001 1923L1005 2033L1013 2046L1054 2054L946 2014L935 2065L935 2006L1073 2044L1000 2016L1005 2044L1106 2006L980 1832L1048 2017L1040 1926L1065 2024L1014 2064L1011 2044L1052 2004L991 2022L1048 2040L1003 1960L1043 1942L1035 1914L1091 2054L1049 2005L1014 2057L1073 1938L916 1962L963 2026L945 2041L1049 2015L1003 1913L996 1923L990 2004L1050 2051L1081 1986L1026 2013L1031 2045L1063 2023L1062 1983L967 2023L995 1966L996 1988L1057 1974L1044 2051L1053 2034L1024 2013L987 1982L1118 1948L968 1946L1079 2012L1018 2004L1068 1899L984 2043L984 2034L1063 2047L1085 1940L1090 2036L1074 1987L1022 2046L1127 2028L997 1966L1026 1992L994 2052L1071 2010L992 2035L1043 1969L1087 2016L945 1997L1043 1970L1020 1842L1039 1907L988 2052L1012 1954L1061 2029L1024 2034L1019 2018L1024 2010L1054 2011L1052 2036L1078 2014L940 2044L1057 2030L1045 2015L1048 2022L1028 1815L996 2004L1009 2032L997 1962L1013 2053L952 1874L1063 2041L996 2057L1051 2016L1040 1953L1065 2007L1064 2031L1036 2015L991 2028L1020 2010L1022 2001L992 1882L964 2032L974 2015L927 2007L1041 1901L1012 1974L993 1838L1022 1865L1071 2036L990 2034L1018 1986L966 2016L1067 2010L1007 1981L989 2015L1001 2039L1047 1974L1048 1993L1048 1922L1039 2045L955 2034L976 1943L1032 2025L1065 2013L1034 1979L1031 2005L962 2031L1092 2033L1067 2017L1039 2045L1020 2001L998 1856L1004 2005L1009 1991L1105 2049L984 2052L1062 2013L1023 1968L1106 2016L1013 1987L977 2000L1011 2039L1074 2012L1056 1991L1034 1981L1017 2033L1043 1980L1003 2013L971 1994L1047 2005L1027 2021L1026 1977L995 2055L1014 2025L1020 1867L955 2018L940 2019L956 1989L1047 2003L1002 2015L997 1963L1034 2005L1051 2010L1002 2015L931 1998L965 2038L1091 2032L991 1967L1022 2055L963 2020L1042 2010L1055 1863L943 1994L1056 2014L1008 1943L994 2043L1018 1847L1005 2024L1115 2034L1001 2054L1046 2030L1026 2019L1068 2040L960 2043L1062 1930L982 1912L1012 1970L1078 2013L992 1918L1038 1991L988 2021L1018 1975L1053 2051L996 2019L990 1854L964 1878L952 2058L988 2035L1062 2057L1025 2004L1050 2039L978 1946L998 2028L1021 2043L1020 1946L989 2048L1068 1921L1014 2027L945 1998L975 2045L1008 2045L1000 1950L1021 1956L1009 2067L1069 2068L1016 1931L1012 2006L1098 2044L1055 2022L1027 2031L1021 1915L1001 1998L1009 1950L1024 2042L1047 2017L1004 2006L959 1919L1019 2065L984 1912L1093 2021L1104 2015L917 1956L1025 2009L980 2060L1045 2036L978 1966L1012 2031L1005 2070L1054 2026L988 1969L1112 1945L1099 1883L1020 2036L1038 2008L993 2044L1053 1968L970 2004L937 2060L1075 2050L1022 2031L1005 2011L1026 1927L1127 2048L1034 2001L986 1920L1032 1983L1014 2055L1024 1915L1014 1942L1110 2038L985 1982L982 2056L1077 2040L1069 2062L1024 2026L1006 1940L1054 1969L1001 2042L1021 2019L1046 2032L1005 1928L1005 2067L1126 1850L1043 2038L942 1972L1019 2030L963 2024L1050 1861L1004 1934L1044 2049L995 1953L966 2041L960 1999L1123 2032L1048 2018L1019 1975L935 2043L974 1914L922 2028L894 1968L978 2045L1078 2041L991 2037L947 1995L1052 2013L1048 2023L1016 1968L1060 2013L1085 2010L1057 2040L1104 1992L1023 2027L1057 2025L1092 2051L1030 2022L951 2023L1014 2006L942 2027L941 1919L1011 2033L1062 2005L1111 2051L1050 2038L1057 2024L943 1950L1041 2020L992 2028L1058 1993L1083 2003L1069 1955L1027 1956L964 2039L970 2064L972 2033L1021 2027L989 2023L1094 1937L967 2033L1062 2018L1021 1974L1021 1994L1013 2029L943 2005L1011 1964L1005 1942L1058 1985L995 2034L1052 2041L936 2037L1005 2049L913 1993L1042 1928L1090 1999L946 1981L896 1905L967 1953L919 2019L1075 1947L1046 2021L1017 2015L1063 2014L1059 2014L1061 1912L963 2016L1057 1990L1049 1977L1030 2031L1018 2012L1005 2031L962 2039L993 2013L1018 2015L1005 2005L1043 1926L1104 2028L966 2003L1062 2060L989 2016L993 2007L963 2003L1039 2033L1068 1869L1018 1998L954 2029L936 2039L1045 1985L1003 1985"/>
<path class="m22" d="M811 2047L838 1878L854 1901L856 1949L870 1947L882 2008L888 2027L896 1954L926 1836L996 1790"/>
<path d="M812.2 1981L1133.4 2006.2L1133.4 2017.2L812.2 1999Z" fill="#E6E6E6" fill-opacity="0.85"/>
<line x1="812.2" y1="1990" x2="1133.4" y2="2011.7" stroke="#FFFFFF" stroke-width="1.6"/>
<line x1="796.8" y1="1748.5" x2="796.8" y2="2092.6" stroke="#000" stroke-width="1.3"/>
<line x1="796.2" y1="2092" x2="1149.5" y2="2092" stroke="#000" stroke-width="1.3"/>
<line x1="792.5" y1="2043.5" x2="796.8" y2="2043.5" stroke="#000" stroke-width="1.2"/>
<text x="793.5" y="2050.5" font-size="20.4" text-anchor="end" font-weight="bold" letter-spacing="-1">20</text>
<line x1="792.5" y1="1950.3" x2="796.8" y2="1950.3" stroke="#000" stroke-width="1.2"/>
<text x="793.5" y="1957.3" font-size="20.4" text-anchor="end" font-weight="bold" letter-spacing="-1">30</text>
<line x1="792.5" y1="1857.1" x2="796.8" y2="1857.1" stroke="#000" stroke-width="1.2"/>
<text x="793.5" y="1864.1" font-size="20.4" text-anchor="end" font-weight="bold" letter-spacing="-1">40</text>
<line x1="792.5" y1="1763.9" x2="796.8" y2="1763.9" stroke="#000" stroke-width="1.2"/>
<text x="793.5" y="1770.9" font-size="20.4" text-anchor="end" font-weight="bold" letter-spacing="-1">50</text>
<line x1="863.7" y1="2092" x2="863.7" y2="2096.4" stroke="#000" stroke-width="1.2"/>
<text x="863.7" y="2113.5" font-size="20.4" text-anchor="middle" font-weight="bold" letter-spacing="-1">500</text>
<line x1="945.4" y1="2092" x2="945.4" y2="2096.4" stroke="#000" stroke-width="1.2"/>
<text x="945.4" y="2113.5" font-size="20.4" text-anchor="middle" font-weight="bold" letter-spacing="-1">750</text>
<line x1="1027.1" y1="2092" x2="1027.1" y2="2096.4" stroke="#000" stroke-width="1.2"/>
<text x="1027.1" y="2113.5" font-size="20.4" text-anchor="middle" font-weight="bold" letter-spacing="-1">1000</text>
<line x1="1108.8" y1="2092" x2="1108.8" y2="2096.4" stroke="#000" stroke-width="1.2"/>
<text x="1108.8" y="2113.5" font-size="20.4" text-anchor="middle" font-weight="bold" letter-spacing="-1">1250</text>
<text x="990" y="2131.5" font-size="18.5" text-anchor="middle" font-weight="bold">Richness</text>
<text x="772" y="1906" font-size="17.5" text-anchor="middle" transform="rotate(-90 772 1906)">BMI</text>
<text x="806.5" y="1774" font-size="18.9">R = −0.1385, P = 9.01e−10</text>
<text x="1164" y="1742.5" font-size="44" stroke="#000" stroke-width="0.8">k</text>
<rect x="1238" y="1757.7" width="282.8" height="37.1" fill="#D9D9D9" stroke="#333" stroke-width="1.2"/>
<text x="1379.4" y="1785.3" font-size="23.5" text-anchor="middle" fill="#1A1A1A">Grains in Ounces</text>
<rect x="1238" y="1794.8" width="282.8" height="301.2" fill="#fff" stroke="#333" stroke-width="1.2"/>
<line x1="1233.5" y1="2082.3" x2="1238" y2="2082.3" stroke="#333" stroke-width="1.2"/>
<text x="1231" y="2090.3" font-size="22.5" text-anchor="end" fill="#333" stroke="#333" stroke-width="0.4">0</text>
<line x1="1233.5" y1="2022.4" x2="1238" y2="2022.4" stroke="#333" stroke-width="1.2"/>
<text x="1231" y="2030.4" font-size="22.5" text-anchor="end" fill="#333" stroke="#333" stroke-width="0.4">5</text>
<line x1="1233.5" y1="1962.5" x2="1238" y2="1962.5" stroke="#333" stroke-width="1.2"/>
<text x="1231" y="1970.5" font-size="22.5" text-anchor="end" fill="#333" stroke="#333" stroke-width="0.4">10</text>
<line x1="1233.5" y1="1902.6" x2="1238" y2="1902.6" stroke="#333" stroke-width="1.2"/>
<text x="1231" y="1910.6" font-size="22.5" text-anchor="end" fill="#333" stroke="#333" stroke-width="0.4">15</text>
<line x1="1233.5" y1="1842.7" x2="1238" y2="1842.7" stroke="#333" stroke-width="1.2"/>
<text x="1231" y="1850.7" font-size="22.5" text-anchor="end" fill="#333" stroke="#333" stroke-width="0.4">20</text>
<path d="M1274.2 2060.7L1275.2 2057.5L1276.1 2054.3L1277.1 2051.1L1278.4 2047.9L1280 2044.7L1281.7 2041.5L1283.3 2038.3L1284.4 2035.1L1285 2031.9L1285.6 2028.7L1286.4 2025.5L1287.7 2022.3L1289.5 2019.1L1291.4 2015.9L1293.1 2012.7L1294.5 2009.5L1295.6 2006.3L1296.2 2003.1L1296.3 1999.9L1295.7 1996.7L1294.3 1993.5L1292.4 1990.3L1290.2 1987.1L1288 1983.9L1286.3 1980.7L1285.1 1977.5L1284.8 1974.3L1285.1 1971.1L1285.8 1967.9L1286.3 1964.7L1286 1961.5L1284.6 1958.3L1282.2 1955.1L1279.4 1951.9L1276.9 1948.7L1274.9 1945.5L1273.7 1942.3L1273 1939.1L1272.6 1935.9L1272.1 1932.7L1271.6 1929.5L1271.1 1926.3L1270.7 1923.1L1270.5 1919.9L1270.4 1916.7L1270.3 1913.5L1270.3 1910.3L1270.3 1907.1L1270.3 1903.9L1270.4 1900.7L1270.5 1897.6L1270.6 1894.4L1270.7 1891.2L1270.8 1888L1270.7 1884.8L1270.6 1881.6L1270.5 1878.4L1270.4 1875.2L1270.4 1872L1270.3 1868.8L1270.3 1865.6L1270.3 1862.4L1270.3 1859.2L1270.3 1856L1270.3 1852.8L1270.3 1849.6L1270.3 1846.4L1270.3 1843.2L1270.3 1840L1270.3 1836.8L1270.3 1833.6L1270.3 1830.4L1270.3 1827.2L1270.3 1824L1270.3 1820.8L1270.3 1817.6L1270.3 1814.4L1270.3 1811.2L1270.3 1808L1270.3 1808L1270.3 1811.2L1270.3 1814.4L1270.3 1817.6L1270.3 1820.8L1270.3 1824L1270.3 1827.2L1270.3 1830.4L1270.3 1833.6L1270.3 1836.8L1270.3 1840L1270.3 1843.2L1270.3 1846.4L1270.3 1849.6L1270.3 1852.8L1270.3 1856L1270.3 1859.2L1270.3 1862.4L1270.3 1865.6L1270.3 1868.8L1270.2 1872L1270.2 1875.2L1270.1 1878.4L1270 1881.6L1269.9 1884.8L1269.8 1888L1269.9 1891.2L1270 1894.4L1270.1 1897.6L1270.2 1900.7L1270.3 1903.9L1270.3 1907.1L1270.3 1910.3L1270.3 1913.5L1270.2 1916.7L1270.1 1919.9L1269.9 1923.1L1269.5 1926.3L1269 1929.5L1268.5 1932.7L1268 1935.9L1267.6 1939.1L1266.9 1942.3L1265.7 1945.5L1263.7 1948.7L1261.2 1951.9L1258.4 1955.1L1256 1958.3L1254.6 1961.5L1254.3 1964.7L1254.8 1967.9L1255.5 1971.1L1255.8 1974.3L1255.5 1977.5L1254.3 1980.7L1252.6 1983.9L1250.4 1987.1L1248.2 1990.3L1246.3 1993.5L1244.9 1996.7L1244.3 1999.9L1244.4 2003.1L1245 2006.3L1246.1 2009.5L1247.5 2012.7L1249.2 2015.9L1251.1 2019.1L1252.9 2022.3L1254.2 2025.5L1255 2028.7L1255.6 2031.9L1256.2 2035.1L1257.3 2038.3L1258.9 2041.5L1260.6 2044.7L1262.2 2047.9L1263.5 2051.1L1264.5 2054.3L1265.4 2057.5L1266.4 2060.7Z" fill="#440154" fill-opacity="0.36"/>
<path class="m23" d="M1264 2058L1267 2058L1270 2058L1273 2058L1276 2058L1266 2052L1269 2052L1272 2052L1275 2052L1263 2046L1266 2046L1269 2046L1272 2046L1275 2046L1278 2046L1259 2040L1263 2040L1266 2040L1269 2040L1272 2040L1275 2040L1278 2040L1281 2040L1253 2034L1256 2034L1259 2034L1263 2034L1266 2034L1269 2034L1272 2034L1275 2034L1278 2034L1281 2034L1284 2034L1287 2034L1255 2028L1258 2028L1261 2028L1264 2028L1267 2028L1270 2028L1273 2028L1276 2028L1280 2028L1283 2028L1286 2028L1259 2022L1263 2022L1266 2022L1269 2022L1272 2022L1275 2022L1278 2022L1281 2022L1247 2016L1249 2016L1252 2016L1255 2016L1258 2016L1261 2016L1263 2016L1266 2016L1269 2016L1272 2016L1274 2016L1277 2016L1280 2016L1283 2016L1286 2016L1288 2016L1291 2016L1294 2016L1247 2010L1250 2010L1253 2010L1256 2010L1259 2010L1263 2010L1266 2010L1269 2010L1272 2010L1275 2010L1278 2010L1281 2010L1284 2010L1287 2010L1290 2010L1294 2010L1247 2004L1250 2004L1253 2004L1256 2004L1259 2004L1261 2004L1264 2004L1267 2004L1270 2004L1273 2004L1276 2004L1279 2004L1282 2004L1285 2004L1288 2004L1291 2004L1294 2004L1246 1998L1248 1998L1251 1998L1253 1998L1255 1998L1257 1998L1259 1998L1261 1998L1263 1998L1265 1998L1267 1998L1269 1998L1271 1998L1273 1998L1276 1998L1278 1998L1280 1998L1282 1998L1284 1998L1286 1998L1288 1998L1290 1998L1292 1998L1294 1998L1247 1992L1250 1992L1253 1992L1256 1992L1259 1992L1263 1992L1266 1992L1269 1992L1272 1992L1275 1992L1278 1992L1281 1992L1284 1992L1287 1992L1290 1992L1294 1992L1255 1986L1258 1986L1261 1986L1264 1986L1267 1986L1270 1986L1273 1986L1276 1986L1280 1986L1283 1986L1286 1986L1255 1980L1258 1980L1261 1980L1264 1980L1267 1980L1270 1980L1273 1980L1276 1980L1280 1980L1283 1980L1286 1980L1261 1974L1264 1974L1267 1974L1270 1974L1273 1974L1276 1974L1280 1974L1255 1968L1258 1968L1261 1968L1264 1968L1267 1968L1270 1968L1273 1968L1276 1968L1280 1968L1283 1968L1286 1968L1247 1963L1250 1963L1253 1963L1256 1963L1259 1963L1263 1963L1266 1963L1269 1963L1272 1963L1275 1963L1278 1963L1281 1963L1284 1963L1287 1963L1290 1963L1294 1963L1256 1957L1259 1957L1263 1957L1266 1957L1269 1957L1272 1957L1275 1957L1278 1957L1281 1957L1284 1957L1267 1951L1270 1951L1273 1951L1270 1945L1269 1939L1272 1939L1269 1933L1272 1933L1270 1885"/>
<line x1="1270.3" y1="1957.2" x2="1270.3" y2="1870.3" stroke="#222" stroke-width="1"/>
<line x1="1270.3" y1="2022.4" x2="1270.3" y2="2060.7" stroke="#222" stroke-width="1"/>
<path d="M1249.8 1957.2L1290.8 1957.2L1290.8 1994.6L1284.3 2001.8L1290.8 2009L1290.8 2022.4L1249.8 2022.4L1249.8 2009L1256.3 2001.8L1249.8 1994.6Z" fill="#440154" stroke="#111" stroke-width="0.9" fill-opacity="0.62"/>
<line x1="1256.3" y1="2001.8" x2="1284.3" y2="2001.8" stroke="#111" stroke-width="1.5"/>
<path class="m24" d="M1270 1808L1270 1826L1270 1838"/>
<path d="M1328 2082.3L1328.7 2078.8L1329.4 2075.4L1330.3 2071.9L1331.6 2068.4L1333.1 2064.9L1334.8 2061.5L1337.2 2058L1340.3 2054.5L1343.7 2051L1346.6 2047.6L1348.6 2044.1L1349.8 2040.6L1350.5 2037.2L1350.8 2033.7L1350.6 2030.2L1350.1 2026.7L1349.6 2023.3L1349.5 2019.8L1349.8 2016.3L1350 2012.8L1349.9 2009.4L1349.7 2005.9L1349.4 2002.4L1348.9 1999L1347.6 1995.5L1345.4 1992L1342.6 1988.5L1339.6 1985.1L1336.9 1981.6L1334.7 1978.1L1332.9 1974.6L1331.4 1971.2L1330.1 1967.7L1329 1964.2L1328.1 1960.8L1327.3 1957.3L1326.6 1953.8L1326.2 1950.3L1325.9 1946.9L1325.6 1943.4L1325.4 1939.9L1325.2 1936.4L1325 1933L1324.9 1929.5L1324.8 1926L1324.8 1922.6L1324.8 1919.1L1324.8 1915.6L1324.8 1912.1L1324.8 1908.7L1324.8 1905.2L1324.8 1901.7L1324.8 1898.2L1324.8 1894.8L1324.8 1891.3L1324.8 1887.8L1324.8 1884.4L1324.8 1880.9L1324.8 1877.4L1324.8 1873.9L1324.8 1870.5L1324.8 1867L1324.8 1863.5L1324.8 1860L1324.8 1856.6L1324.8 1853.1L1324.8 1849.6L1324.8 1846.2L1324.8 1842.7L1324.8 1839.2L1324.8 1835.7L1324.8 1832.3L1324.8 1828.8L1324.8 1825.3L1324.8 1821.8L1324.8 1818.4L1324.8 1814.9L1324.8 1811.4L1324.8 1808L1324.8 1808L1324.8 1811.4L1324.8 1814.9L1324.8 1818.4L1324.8 1821.8L1324.8 1825.3L1324.8 1828.8L1324.8 1832.3L1324.8 1835.7L1324.8 1839.2L1324.8 1842.7L1324.8 1846.2L1324.8 1849.6L1324.8 1853.1L1324.8 1856.6L1324.8 1860L1324.8 1863.5L1324.8 1867L1324.8 1870.5L1324.8 1873.9L1324.8 1877.4L1324.8 1880.9L1324.8 1884.4L1324.8 1887.8L1324.8 1891.3L1324.8 1894.8L1324.8 1898.2L1324.8 1901.7L1324.8 1905.2L1324.8 1908.7L1324.8 1912.1L1324.8 1915.6L1324.8 1919.1L1324.8 1922.6L1324.8 1926L1324.7 1929.5L1324.6 1933L1324.4 1936.4L1324.2 1939.9L1324 1943.4L1323.7 1946.9L1323.4 1950.3L1323 1953.8L1322.3 1957.3L1321.5 1960.8L1320.6 1964.2L1319.5 1967.7L1318.2 1971.2L1316.7 1974.6L1314.9 1978.1L1312.7 1981.6L1310 1985.1L1307 1988.5L1304.2 1992L1302 1995.5L1300.7 1999L1300.2 2002.4L1299.9 2005.9L1299.7 2009.4L1299.6 2012.8L1299.8 2016.3L1300.1 2019.8L1300 2023.3L1299.5 2026.7L1299 2030.2L1298.8 2033.7L1299.1 2037.2L1299.8 2040.6L1301 2044.1L1303 2047.6L1305.9 2051L1309.3 2054.5L1312.4 2058L1314.8 2061.5L1316.5 2064.9L1318 2068.4L1319.3 2071.9L1320.2 2075.4L1320.9 2078.8L1321.6 2082.3Z" fill="#21908C" fill-opacity="0.36"/>
<path class="m25" d="M1319 2082L1322 2082L1325 2082L1328 2082L1331 2082L1320 2076L1323 2076L1326 2076L1329 2076L1320 2070L1323 2070L1326 2070L1329 2070L1311 2064L1314 2064L1317 2064L1320 2064L1323 2064L1326 2064L1329 2064L1333 2064L1336 2064L1339 2064L1317 2058L1320 2058L1323 2058L1326 2058L1329 2058L1333 2058L1301 2052L1304 2052L1307 2052L1310 2052L1312 2052L1315 2052L1318 2052L1321 2052L1323 2052L1326 2052L1329 2052L1332 2052L1335 2052L1337 2052L1340 2052L1343 2052L1346 2052L1348 2052L1301 2046L1303 2046L1304 2046L1306 2046L1308 2046L1310 2046L1312 2046L1314 2046L1316 2046L1317 2046L1319 2046L1321 2046L1323 2046L1325 2046L1327 2046L1329 2046L1330 2046L1332 2046L1334 2046L1336 2046L1338 2046L1340 2046L1341 2046L1343 2046L1345 2046L1347 2046L1349 2046L1301 2040L1303 2040L1305 2040L1308 2040L1310 2040L1312 2040L1315 2040L1317 2040L1319 2040L1321 2040L1324 2040L1326 2040L1328 2040L1330 2040L1333 2040L1335 2040L1337 2040L1340 2040L1342 2040L1344 2040L1346 2040L1349 2040L1301 2034L1303 2034L1304 2034L1306 2034L1308 2034L1310 2034L1312 2034L1314 2034L1316 2034L1317 2034L1319 2034L1321 2034L1323 2034L1325 2034L1327 2034L1329 2034L1330 2034L1332 2034L1334 2034L1336 2034L1338 2034L1340 2034L1341 2034L1343 2034L1345 2034L1347 2034L1349 2034L1301 2028L1303 2028L1305 2028L1307 2028L1309 2028L1311 2028L1313 2028L1315 2028L1318 2028L1320 2028L1322 2028L1324 2028L1326 2028L1328 2028L1330 2028L1332 2028L1334 2028L1336 2028L1338 2028L1340 2028L1343 2028L1345 2028L1347 2028L1349 2028L1301 2022L1304 2022L1307 2022L1310 2022L1312 2022L1315 2022L1318 2022L1321 2022L1323 2022L1326 2022L1329 2022L1332 2022L1335 2022L1337 2022L1340 2022L1343 2022L1346 2022L1348 2022L1301 2016L1302 2016L1304 2016L1306 2016L1308 2016L1310 2016L1311 2016L1313 2016L1315 2016L1317 2016L1319 2016L1320 2016L1322 2016L1324 2016L1326 2016L1327 2016L1329 2016L1331 2016L1333 2016L1335 2016L1336 2016L1338 2016L1340 2016L1342 2016L1344 2016L1345 2016L1347 2016L1349 2016L1301 2010L1302 2010L1304 2010L1306 2010L1308 2010L1310 2010L1311 2010L1313 2010L1315 2010L1317 2010L1319 2010L1320 2010L1322 2010L1324 2010L1326 2010L1327 2010L1329 2010L1331 2010L1333 2010L1335 2010L1336 2010L1338 2010L1340 2010L1342 2010L1344 2010L1345 2010L1347 2010L1349 2010L1303 2004L1306 2004L1309 2004L1312 2004L1316 2004L1319 2004L1322 2004L1325 2004L1328 2004L1331 2004L1334 2004L1337 2004L1340 2004L1343 2004L1346 2004L1301 1998L1302 1998L1304 1998L1305 1998L1307 1998L1308 1998L1310 1998L1312 1998L1313 1998L1315 1998L1316 1998L1318 1998L1319 1998L1321 1998L1322 1998L1324 1998L1326 1998L1327 1998L1329 1998L1330 1998L1332 1998L1333 1998L1335 1998L1337 1998L1338 1998L1340 1998L1341 1998L1343 1998L1344 1998L1346 1998L1347 1998L1349 1998L1301 1992L1304 1992L1306 1992L1309 1992L1312 1992L1314 1992L1317 1992L1320 1992L1322 1992L1325 1992L1327 1992L1330 1992L1333 1992L1335 1992L1338 1992L1341 1992L1343 1992L1346 1992L1348 1992L1305 1986L1308 1986L1311 1986L1314 1986L1317 1986L1320 1986L1323 1986L1326 1986L1329 1986L1333 1986L1336 1986L1339 1986L1342 1986L1345 1986L1312 1980L1316 1980L1319 1980L1322 1980L1325 1980L1328 1980L1331 1980L1334 1980L1337 1980L1314 1974L1317 1974L1320 1974L1323 1974L1326 1974L1329 1974L1333 1974L1336 1974L1319 1968L1322 1968L1325 1968L1328 1968L1331 1968L1320 1963L1323 1963L1326 1963L1329 1963L1325 1957L1323 1945L1326 1945"/>
<line x1="1324.8" y1="1993" x2="1324.8" y2="1929" stroke="#222" stroke-width="1"/>
<line x1="1324.8" y1="2038.8" x2="1324.8" y2="2082.3" stroke="#222" stroke-width="1"/>
<rect x="1304.3" y="1993" width="41" height="45.8" fill="#21908C" stroke="#111" stroke-width="0.9" fill-opacity="0.62"/>
<line x1="1304.3" y1="2016.4" x2="1345.3" y2="2016.4" stroke="#111" stroke-width="1.5"/>
<path class="m26" d="M1325 1809L1325 1898L1325 1910L1325 1921L1325 1927"/>
<path d="M1385.1 2082.3L1385.5 2079.7L1385.5 2077L1385.3 2074.4L1385.2 2071.7L1385.4 2069.1L1386.1 2066.5L1387.1 2063.8L1388.4 2061.2L1390.1 2058.6L1391.9 2055.9L1393.7 2053.3L1395.3 2050.6L1396.3 2048L1396.7 2045.4L1396.5 2042.7L1395.9 2040.1L1395.1 2037.4L1394.6 2034.8L1394.4 2032.2L1394.7 2029.5L1395.5 2026.9L1396.5 2024.3L1397.7 2021.6L1399 2019L1400.2 2016.3L1401 2013.7L1401.4 2011.1L1401.3 2008.4L1400.5 2005.8L1399.3 2003.1L1397.6 2000.5L1395.7 1997.9L1393.9 1995.2L1392.4 1992.6L1391.2 1989.9L1390.3 1987.3L1389.4 1984.7L1388.5 1982L1387.4 1979.4L1386.4 1976.8L1385.5 1974.1L1384.8 1971.5L1384 1968.8L1383.1 1966.2L1382.2 1963.6L1381.3 1960.9L1380.6 1958.3L1380 1955.6L1379.7 1953L1379.5 1950.4L1379.4 1947.7L1379.4 1945.1L1379.4 1942.5L1379.4 1939.8L1379.4 1937.2L1379.4 1934.5L1379.4 1931.9L1379.4 1929.3L1379.4 1926.6L1379.4 1924L1379.4 1921.3L1379.4 1918.7L1379.4 1916.1L1379.4 1913.4L1379.4 1910.8L1379.4 1908.2L1379.4 1905.5L1379.4 1902.9L1379.4 1900.2L1379.4 1897.6L1379.4 1895L1379.4 1892.3L1379.4 1889.7L1379.4 1887L1379.4 1884.4L1379.4 1881.8L1379.4 1879.1L1379.4 1876.5L1379.4 1873.8L1379.4 1873.8L1379.4 1876.5L1379.4 1879.1L1379.4 1881.8L1379.4 1884.4L1379.4 1887L1379.4 1889.7L1379.4 1892.3L1379.4 1895L1379.4 1897.6L1379.4 1900.2L1379.4 1902.9L1379.4 1905.5L1379.4 1908.2L1379.4 1910.8L1379.4 1913.4L1379.4 1916.1L1379.4 1918.7L1379.4 1921.3L1379.4 1924L1379.4 1926.6L1379.4 1929.3L1379.4 1931.9L1379.4 1934.5L1379.4 1937.2L1379.4 1939.8L1379.4 1942.5L1379.4 1945.1L1379.4 1947.7L1379.3 1950.4L1379.1 1953L1378.8 1955.6L1378.2 1958.3L1377.5 1960.9L1376.6 1963.6L1375.7 1966.2L1374.8 1968.8L1374 1971.5L1373.3 1974.1L1372.4 1976.8L1371.4 1979.4L1370.3 1982L1369.4 1984.7L1368.5 1987.3L1367.6 1989.9L1366.4 1992.6L1364.9 1995.2L1363.1 1997.9L1361.2 2000.5L1359.5 2003.1L1358.3 2005.8L1357.5 2008.4L1357.4 2011.1L1357.8 2013.7L1358.6 2016.3L1359.8 2019L1361.1 2021.6L1362.3 2024.3L1363.3 2026.9L1364.1 2029.5L1364.4 2032.2L1364.2 2034.8L1363.7 2037.4L1362.9 2040.1L1362.3 2042.7L1362.1 2045.4L1362.5 2048L1363.5 2050.6L1365.1 2053.3L1366.9 2055.9L1368.7 2058.6L1370.4 2061.2L1371.7 2063.8L1372.7 2066.5L1373.4 2069.1L1373.6 2071.7L1373.5 2074.4L1373.3 2077L1373.3 2079.7L1373.7 2082.3Z" fill="#FDE725" fill-opacity="0.36"/>
<path class="m27" d="M1375 2082L1378 2082L1381 2082L1384 2082L1378 2076L1381 2076L1379 2070L1378 2064L1381 2064L1375 2058L1378 2058L1381 2058L1384 2058L1370 2052L1373 2052L1376 2052L1379 2052L1382 2052L1386 2052L1389 2052L1372 2046L1375 2046L1378 2046L1381 2046L1384 2046L1387 2046L1372 2040L1375 2040L1378 2040L1381 2040L1384 2040L1387 2040L1376 2034L1379 2034L1382 2034L1373 2028L1376 2028L1379 2028L1382 2028L1386 2028L1372 2022L1375 2022L1378 2022L1381 2022L1384 2022L1387 2022L1369 2016L1372 2016L1375 2016L1378 2016L1381 2016L1384 2016L1387 2016L1390 2016L1370 2010L1373 2010L1376 2010L1379 2010L1382 2010L1386 2010L1389 2010L1367 2004L1370 2004L1373 2004L1376 2004L1379 2004L1382 2004L1386 2004L1389 2004L1392 2004L1372 1998L1375 1998L1378 1998L1381 1998L1384 1998L1387 1998L1378 1992L1381 1992L1373 1986L1376 1986L1379 1986L1382 1986L1386 1986L1376 1980L1379 1980L1382 1980L1379 1974L1376 1968L1379 1968L1382 1968"/>
<line x1="1379.4" y1="1998.7" x2="1379.4" y2="1969.7" stroke="#222" stroke-width="1"/>
<line x1="1379.4" y1="2040.4" x2="1379.4" y2="2082.3" stroke="#222" stroke-width="1"/>
<path d="M1358.9 1998.7L1399.9 1998.7L1399.9 2021.4L1393.4 2028.6L1399.9 2035.8L1399.9 2040.4L1358.9 2040.4L1358.9 2035.8L1365.4 2028.6L1358.9 2021.4Z" fill="#FDE725" stroke="#111" stroke-width="0.9" fill-opacity="0.62"/>
<line x1="1365.4" y1="2028.6" x2="1393.4" y2="2028.6" stroke="#111" stroke-width="1.5"/>
<path class="m28" d="M1379 1874L1379 1927"/>
<path d="M1439.6 2082.3L1440.2 2079.6L1440.5 2076.8L1440.6 2074.1L1440.5 2071.4L1440.3 2068.7L1440.2 2065.9L1440.2 2063.2L1440.2 2060.5L1440.4 2057.7L1440.9 2055L1441.8 2052.3L1443.4 2049.5L1445.6 2046.8L1448.3 2044.1L1450.9 2041.4L1453.2 2038.6L1454.8 2035.9L1455.7 2033.2L1456 2030.4L1455.9 2027.7L1455.6 2025L1455.1 2022.2L1454.4 2019.5L1453.3 2016.8L1452 2014.1L1450.5 2011.3L1449 2008.6L1447.7 2005.9L1446.8 2003.1L1446.2 2000.4L1445.9 1997.7L1445.7 1995L1445.5 1992.2L1445.2 1989.5L1444.8 1986.8L1444.2 1984L1443.4 1981.3L1442.4 1978.6L1441.2 1975.8L1440 1973.1L1438.8 1970.4L1437.6 1967.7L1436.7 1964.9L1436 1962.2L1435.6 1959.5L1435.3 1956.7L1435 1954L1434.8 1951.3L1434.5 1948.5L1434.3 1945.8L1434.2 1943.1L1434.1 1940.4L1434 1937.6L1434 1934.9L1434 1932.2L1434 1929.4L1434 1926.7L1434 1924L1434 1921.3L1434 1918.5L1434 1915.8L1434 1913.1L1434 1910.3L1434 1907.6L1434 1904.9L1434 1902.1L1434 1899.4L1434 1896.7L1434 1894L1434 1891.2L1434 1888.5L1434 1885.8L1434 1883L1434 1880.3L1434 1877.6L1434 1874.8L1434 1872.1L1434 1869.4L1434 1866.7L1434 1866.7L1434 1869.4L1434 1872.1L1434 1874.8L1434 1877.6L1434 1880.3L1434 1883L1434 1885.8L1434 1888.5L1434 1891.2L1434 1894L1434 1896.7L1434 1899.4L1434 1902.1L1434 1904.9L1434 1907.6L1434 1910.3L1434 1913.1L1434 1915.8L1434 1918.5L1434 1921.3L1434 1924L1434 1926.7L1434 1929.4L1434 1932.2L1434 1934.9L1434 1937.6L1433.9 1940.4L1433.8 1943.1L1433.7 1945.8L1433.5 1948.5L1433.2 1951.3L1433 1954L1432.7 1956.7L1432.4 1959.5L1432 1962.2L1431.3 1964.9L1430.4 1967.7L1429.2 1970.4L1428 1973.1L1426.8 1975.8L1425.6 1978.6L1424.6 1981.3L1423.8 1984L1423.2 1986.8L1422.8 1989.5L1422.5 1992.2L1422.3 1995L1422.1 1997.7L1421.8 2000.4L1421.2 2003.1L1420.3 2005.9L1419 2008.6L1417.5 2011.3L1416 2014.1L1414.7 2016.8L1413.6 2019.5L1412.9 2022.2L1412.4 2025L1412.1 2027.7L1412 2030.4L1412.3 2033.2L1413.2 2035.9L1414.8 2038.6L1417.1 2041.4L1419.7 2044.1L1422.4 2046.8L1424.6 2049.5L1426.2 2052.3L1427.1 2055L1427.6 2057.7L1427.8 2060.5L1427.8 2063.2L1427.8 2065.9L1427.7 2068.7L1427.5 2071.4L1427.4 2074.1L1427.5 2076.8L1427.8 2079.6L1428.4 2082.3Z" fill="#5EC962" fill-opacity="0.36"/>
<path class="m29" d="M1429 2082L1432 2082L1436 2082L1439 2082L1434 2076L1429 2070L1432 2070L1436 2070L1439 2070L1434 2064L1429 2058L1432 2058L1436 2058L1439 2058L1434 2052L1431 2046L1434 2046L1437 2046L1423 2040L1426 2040L1429 2040L1432 2040L1436 2040L1439 2040L1442 2040L1445 2040L1422 2034L1425 2034L1428 2034L1431 2034L1434 2034L1437 2034L1440 2034L1443 2034L1446 2034L1423 2028L1426 2028L1429 2028L1432 2028L1436 2028L1439 2028L1442 2028L1445 2028L1423 2022L1426 2022L1429 2022L1432 2022L1436 2022L1439 2022L1442 2022L1445 2022L1422 2016L1425 2016L1428 2016L1431 2016L1434 2016L1437 2016L1440 2016L1443 2016L1446 2016L1428 2010L1431 2010L1434 2010L1437 2010L1440 2010L1429 2004L1432 2004L1436 2004L1439 2004L1429 1998L1432 1998L1436 1998L1439 1998L1429 1992L1432 1992L1436 1992L1439 1992L1428 1986L1431 1986L1434 1986L1437 1986L1440 1986L1431 1980L1434 1980L1437 1980L1431 1974L1434 1974L1437 1974L1434 1968L1434 1957"/>
<line x1="1434" y1="2005" x2="1434" y2="1957.7" stroke="#222" stroke-width="1"/>
<line x1="1434" y1="2047" x2="1434" y2="2082.3" stroke="#222" stroke-width="1"/>
<path d="M1413.5 2005L1454.5 2005L1454.5 2012.8L1448 2022.4L1454.5 2032L1454.5 2047L1413.5 2047L1413.5 2032L1420 2022.4L1413.5 2012.8Z" fill="#5EC962" stroke="#111" stroke-width="0.9" fill-opacity="0.62"/>
<line x1="1420" y1="2022.4" x2="1448" y2="2022.4" stroke="#111" stroke-width="1.5"/>
<path class="m30" d="M1434 1867L1434 1874L1434 1939"/>
<path d="M1505.4 2070.3L1506.5 2068.5L1507.3 2066.7L1508 2064.9L1508.4 2063L1508.8 2061.2L1508.9 2059.4L1509 2057.6L1508.9 2055.8L1508.8 2053.9L1508.6 2052.1L1508.5 2050.3L1508.4 2048.5L1508.3 2046.7L1508.2 2044.8L1508.2 2043L1508.3 2041.2L1508.4 2039.4L1508.7 2037.6L1509 2035.7L1509.3 2033.9L1509.7 2032.1L1510.1 2030.3L1510.6 2028.5L1511 2026.6L1511.4 2024.8L1511.8 2023L1512 2021.2L1512.2 2019.4L1512.2 2017.5L1512.1 2015.7L1511.8 2013.9L1511.3 2012.1L1510.7 2010.3L1510 2008.4L1509.2 2006.6L1508.2 2004.8L1507.3 2003L1506.3 2001.2L1505.4 1999.3L1504.5 1997.5L1503.7 1995.7L1503 1993.9L1502.4 1992.1L1501.9 1990.3L1501.5 1988.4L1501.2 1986.6L1501 1984.8L1500.9 1983L1500.8 1981.2L1500.7 1979.3L1500.6 1977.5L1500.5 1975.7L1500.3 1973.9L1500 1972.1L1499.7 1970.2L1499.3 1968.4L1498.8 1966.6L1498.3 1964.8L1497.7 1963L1497 1961.1L1496.4 1959.3L1495.7 1957.5L1495.1 1955.7L1494.5 1953.9L1494 1952L1493.5 1950.2L1493.1 1948.4L1492.8 1946.6L1492.5 1944.8L1492.2 1942.9L1492 1941.1L1491.8 1939.3L1491.6 1937.5L1491.5 1935.7L1491.3 1933.8L1491.2 1932L1491 1930.2L1490.8 1928.4L1490.6 1926.6L1485.8 1926.6L1485.6 1928.4L1485.4 1930.2L1485.2 1932L1485.1 1933.8L1484.9 1935.7L1484.8 1937.5L1484.6 1939.3L1484.4 1941.1L1484.2 1942.9L1483.9 1944.8L1483.6 1946.6L1483.3 1948.4L1482.9 1950.2L1482.4 1952L1481.9 1953.9L1481.3 1955.7L1480.7 1957.5L1480 1959.3L1479.4 1961.1L1478.7 1963L1478.1 1964.8L1477.6 1966.6L1477.1 1968.4L1476.7 1970.2L1476.4 1972.1L1476.1 1973.9L1475.9 1975.7L1475.8 1977.5L1475.7 1979.3L1475.6 1981.2L1475.5 1983L1475.4 1984.8L1475.2 1986.6L1474.9 1988.4L1474.5 1990.3L1474 1992.1L1473.4 1993.9L1472.7 1995.7L1471.9 1997.5L1471 1999.3L1470.1 2001.2L1469.1 2003L1468.2 2004.8L1467.2 2006.6L1466.4 2008.4L1465.7 2010.3L1465.1 2012.1L1464.6 2013.9L1464.3 2015.7L1464.2 2017.5L1464.2 2019.4L1464.4 2021.2L1464.6 2023L1465 2024.8L1465.4 2026.6L1465.8 2028.5L1466.3 2030.3L1466.7 2032.1L1467.1 2033.9L1467.4 2035.7L1467.7 2037.6L1468 2039.4L1468.1 2041.2L1468.2 2043L1468.2 2044.8L1468.1 2046.7L1468 2048.5L1467.9 2050.3L1467.8 2052.1L1467.6 2053.9L1467.5 2055.8L1467.4 2057.6L1467.5 2059.4L1467.6 2061.2L1468 2063L1468.4 2064.9L1469.1 2066.7L1469.9 2068.5L1471 2070.3Z" fill="#3B528B" fill-opacity="0.36"/>
<path class="m31" d="M1482 2070L1485 2070L1488 2070L1491 2070L1494 2070L1485 2064L1488 2064L1491 2064L1487 2058L1490 2058L1485 2052L1488 2052L1491 2052L1488 2046L1487 2040L1490 2040L1485 2034L1488 2034L1491 2034L1487 2028L1490 2028L1487 2022L1490 2022L1482 2016L1485 2016L1488 2016L1491 2016L1494 2016L1484 2010L1487 2010L1490 2010L1493 2010L1488 2004L1485 1992L1488 1992L1491 1992L1488 1986L1485 1974L1488 1974L1491 1974L1488 1968L1487 1963L1490 1963L1488 1945L1488 1927"/>
<line x1="1488.2" y1="1986.9" x2="1488.2" y2="1929" stroke="#222" stroke-width="1"/>
<line x1="1488.2" y1="2036.5" x2="1488.2" y2="2070.3" stroke="#222" stroke-width="1"/>
<path d="M1467.7 1986.9L1508.7 1986.9L1508.7 2015.2L1502.2 2025.4L1508.7 2035.6L1508.7 2036.5L1467.7 2036.5L1467.7 2035.6L1474.2 2025.4L1467.7 2015.2Z" fill="#3B528B" stroke="#111" stroke-width="0.9" fill-opacity="0.62"/>
<line x1="1474.2" y1="2025.4" x2="1502.2" y2="2025.4" stroke="#111" stroke-width="1.5"/>
<line x1="1270.3" y1="2096" x2="1270.3" y2="2102" stroke="#333" stroke-width="2.4"/>
<text x="1282.3" y="2117" font-size="23.8" text-anchor="end" fill="#333" transform="rotate(-45 1282.3 2117)" stroke="#333" stroke-width="0.5">Thailand</text>
<line x1="1324.8" y1="2096" x2="1324.8" y2="2102" stroke="#333" stroke-width="2.4"/>
<text x="1336.8" y="2117" font-size="23.8" text-anchor="end" fill="#333" transform="rotate(-45 1336.8 2117)" stroke="#333" stroke-width="0.5">New arrivals</text>
<line x1="1379.4" y1="2096" x2="1379.4" y2="2102" stroke="#333" stroke-width="2.4"/>
<text x="1391.4" y="2117" font-size="23.8" text-anchor="end" fill="#333" transform="rotate(-45 1391.4 2117)" stroke="#333" stroke-width="0.5">Long−term residents</text>
<line x1="1434" y1="2096" x2="1434" y2="2102" stroke="#333" stroke-width="2.4"/>
<text x="1446" y="2117" font-size="23.8" text-anchor="end" fill="#333" transform="rotate(-45 1446 2117)" stroke="#333" stroke-width="0.5">2nd generation</text>
<line x1="1488.2" y1="2096" x2="1488.2" y2="2102" stroke="#333" stroke-width="2.4"/>
<text x="1500.2" y="2117" font-size="23.8" text-anchor="end" fill="#333" transform="rotate(-45 1500.2 2117)" stroke="#333" stroke-width="0.5">US−born</text>
<rect x="1565.8" y="1757" width="282.2" height="37.4" fill="#D9D9D9" stroke="#333" stroke-width="1.2"/>
<text x="1706.9" y="1784.9" font-size="23.5" text-anchor="middle" fill="#1A1A1A">Vegetables in Cups</text>
<rect x="1565.8" y="1794.4" width="282.2" height="301.6" fill="#fff" stroke="#333" stroke-width="1.2"/>
<line x1="1561.3" y1="2081.7" x2="1565.8" y2="2081.7" stroke="#333" stroke-width="1.2"/>
<text x="1558.8" y="2089.7" font-size="22.5" text-anchor="end" fill="#333" stroke="#333" stroke-width="0.4">0</text>
<line x1="1561.3" y1="2022.4" x2="1565.8" y2="2022.4" stroke="#333" stroke-width="1.2"/>
<text x="1558.8" y="2030.4" font-size="22.5" text-anchor="end" fill="#333" stroke="#333" stroke-width="0.4">5</text>
<line x1="1561.3" y1="1963.1" x2="1565.8" y2="1963.1" stroke="#333" stroke-width="1.2"/>
<text x="1558.8" y="1971.1" font-size="22.5" text-anchor="end" fill="#333" stroke="#333" stroke-width="0.4">10</text>
<line x1="1561.3" y1="1903.8" x2="1565.8" y2="1903.8" stroke="#333" stroke-width="1.2"/>
<text x="1558.8" y="1911.8" font-size="22.5" text-anchor="end" fill="#333" stroke="#333" stroke-width="0.4">15</text>
<line x1="1561.3" y1="1844.5" x2="1565.8" y2="1844.5" stroke="#333" stroke-width="1.2"/>
<text x="1558.8" y="1852.5" font-size="22.5" text-anchor="end" fill="#333" stroke="#333" stroke-width="0.4">20</text>
<path d="M1604.4 2081.7L1605.3 2081.2L1606 2080.6L1606.5 2080.1L1606.9 2079.6L1607.2 2079.1L1607.6 2078.5L1608.2 2078L1608.9 2077.5L1609.7 2077L1610.8 2076.4L1611.9 2075.9L1613.1 2075.4L1614.3 2074.9L1615.5 2074.3L1616.6 2073.8L1617.7 2073.3L1618.8 2072.8L1619.7 2072.2L1620.5 2071.7L1621.2 2071.2L1621.6 2070.7L1621.8 2070.1L1621.9 2069.6L1621.8 2069.1L1621.7 2068.6L1621.4 2068L1621.1 2067.5L1620.5 2067L1619.7 2066.5L1618.8 2065.9L1617.8 2065.4L1616.7 2064.9L1615.6 2064.4L1614.5 2063.8L1613.3 2063.3L1612.2 2062.8L1611 2062.3L1609.8 2061.7L1608.6 2061.2L1607.4 2060.7L1606.2 2060.2L1605.1 2059.6L1604.2 2059.1L1603.4 2058.6L1602.9 2058.1L1602.5 2057.5L1602.3 2057L1602.1 2056.5L1602 2056L1601.9 2055.4L1601.8 2054.9L1601.6 2054.4L1601.5 2053.9L1601.3 2053.3L1601 2052.8L1600.7 2052.3L1600.4 2051.7L1600 2051.2L1599.6 2050.7L1599.3 2050.2L1599.1 2049.6L1598.9 2049.1L1598.7 2048.6L1598.7 2048.1L1598.6 2047.5L1598.5 2047L1598.5 2046.5L1598.4 2046L1598.3 2045.4L1598.2 2044.9L1598.1 2044.4L1598.1 2043.9L1598 2043.3L1598 2042.8L1597.9 2042.3L1597.9 2041.8L1597.9 2041.2L1597.9 2040.7L1597.9 2040.2L1597.9 2040.2L1597.9 2040.7L1597.9 2041.2L1597.9 2041.8L1597.9 2042.3L1597.8 2042.8L1597.8 2043.3L1597.7 2043.9L1597.7 2044.4L1597.6 2044.9L1597.5 2045.4L1597.4 2046L1597.3 2046.5L1597.3 2047L1597.2 2047.5L1597.1 2048.1L1597.1 2048.6L1596.9 2049.1L1596.7 2049.6L1596.5 2050.2L1596.2 2050.7L1595.8 2051.2L1595.4 2051.7L1595.1 2052.3L1594.8 2052.8L1594.5 2053.3L1594.3 2053.9L1594.2 2054.4L1594 2054.9L1593.9 2055.4L1593.8 2056L1593.7 2056.5L1593.5 2057L1593.3 2057.5L1592.9 2058.1L1592.4 2058.6L1591.6 2059.1L1590.7 2059.6L1589.6 2060.2L1588.4 2060.7L1587.2 2061.2L1586 2061.7L1584.8 2062.3L1583.6 2062.8L1582.5 2063.3L1581.3 2063.8L1580.2 2064.4L1579.1 2064.9L1578 2065.4L1577 2065.9L1576.1 2066.5L1575.3 2067L1574.7 2067.5L1574.4 2068L1574.1 2068.6L1574 2069.1L1573.9 2069.6L1574 2070.1L1574.2 2070.7L1574.6 2071.2L1575.3 2071.7L1576.1 2072.2L1577 2072.8L1578.1 2073.3L1579.2 2073.8L1580.3 2074.3L1581.5 2074.9L1582.7 2075.4L1583.9 2075.9L1585 2076.4L1586.1 2077L1586.9 2077.5L1587.6 2078L1588.2 2078.5L1588.6 2079.1L1588.9 2079.6L1589.3 2080.1L1589.8 2080.6L1590.5 2081.2L1591.4 2081.7Z" fill="#440154" fill-opacity="0.36"/>
<path class="m33" d="M1576 2082L1579 2082L1582 2082L1586 2082L1589 2082L1592 2082L1595 2082L1598 2082L1601 2082L1604 2082L1607 2082L1610 2082L1613 2082L1616 2082L1620 2082L1575 2079L1578 2079L1581 2079L1583 2079L1586 2079L1589 2079L1591 2079L1594 2079L1597 2079L1599 2079L1602 2079L1605 2079L1607 2079L1610 2079L1613 2079L1615 2079L1618 2079L1621 2079L1575 2076L1576 2076L1578 2076L1580 2076L1582 2076L1583 2076L1585 2076L1587 2076L1588 2076L1590 2076L1592 2076L1594 2076L1595 2076L1597 2076L1599 2076L1600 2076L1602 2076L1604 2076L1606 2076L1607 2076L1609 2076L1611 2076L1612 2076L1614 2076L1616 2076L1618 2076L1619 2076L1621 2076L1574 2073L1576 2073L1577 2073L1578 2073L1579 2073L1580 2073L1581 2073L1582 2073L1583 2073L1584 2073L1585 2073L1586 2073L1587 2073L1588 2073L1589 2073L1590 2073L1592 2073L1593 2073L1594 2073L1595 2073L1596 2073L1597 2073L1598 2073L1599 2073L1600 2073L1601 2073L1602 2073L1603 2073L1604 2073L1605 2073L1606 2073L1608 2073L1609 2073L1610 2073L1611 2073L1612 2073L1613 2073L1614 2073L1615 2073L1616 2073L1617 2073L1618 2073L1619 2073L1620 2073L1621 2073L1574 2070L1575 2070L1576 2070L1577 2070L1578 2070L1579 2070L1580 2070L1581 2070L1582 2070L1583 2070L1584 2070L1585 2070L1586 2070L1587 2070L1588 2070L1589 2070L1590 2070L1591 2070L1592 2070L1593 2070L1594 2070L1595 2070L1596 2070L1597 2070L1598 2070L1599 2070L1600 2070L1601 2070L1602 2070L1603 2070L1604 2070L1605 2070L1606 2070L1607 2070L1608 2070L1609 2070L1610 2070L1611 2070L1612 2070L1613 2070L1614 2070L1615 2070L1616 2070L1617 2070L1617 2070L1618 2070L1619 2070L1620 2070L1621 2070L1574 2067L1576 2067L1577 2067L1578 2067L1579 2067L1580 2067L1581 2067L1582 2067L1583 2067L1584 2067L1585 2067L1586 2067L1588 2067L1589 2067L1590 2067L1591 2067L1592 2067L1593 2067L1594 2067L1595 2067L1596 2067L1597 2067L1598 2067L1600 2067L1601 2067L1602 2067L1603 2067L1604 2067L1605 2067L1606 2067L1607 2067L1608 2067L1609 2067L1610 2067L1612 2067L1613 2067L1614 2067L1615 2067L1616 2067L1617 2067L1618 2067L1619 2067L1620 2067L1621 2067L1575 2064L1576 2064L1577 2064L1579 2064L1580 2064L1581 2064L1583 2064L1584 2064L1586 2064L1587 2064L1588 2064L1590 2064L1591 2064L1592 2064L1594 2064L1595 2064L1597 2064L1598 2064L1599 2064L1601 2064L1602 2064L1603 2064L1605 2064L1606 2064L1608 2064L1609 2064L1610 2064L1612 2064L1613 2064L1614 2064L1616 2064L1617 2064L1618 2064L1620 2064L1621 2064L1575 2061L1577 2061L1580 2061L1582 2061L1584 2061L1586 2061L1589 2061L1591 2061L1593 2061L1596 2061L1598 2061L1600 2061L1602 2061L1605 2061L1607 2061L1609 2061L1612 2061L1614 2061L1616 2061L1618 2061L1621 2061L1586 2058L1589 2058L1592 2058L1595 2058L1598 2058L1601 2058L1604 2058L1607 2058L1610 2058L1590 2055L1593 2055L1596 2055L1599 2055L1603 2055L1606 2055L1587 2052L1590 2052L1593 2052L1596 2052L1599 2052L1603 2052L1606 2052L1609 2052L1598 2049L1598 2046"/>
<line x1="1597.9" y1="2061.5" x2="1597.9" y2="2042.6" stroke="#222" stroke-width="1"/>
<line x1="1597.9" y1="2075.2" x2="1597.9" y2="2081.7" stroke="#222" stroke-width="1"/>
<rect x="1577.4" y="2061.5" width="41" height="13.6" fill="#440154" stroke="#111" stroke-width="0.9" fill-opacity="0.62"/>
<line x1="1577.4" y1="2069.8" x2="1618.4" y2="2069.8" stroke="#111" stroke-width="1.5"/>
<path class="m34" d="M1598 1999L1598 2008L1598 2011L1598 2019L1598 2022L1598 2038"/>
<path d="M1671 2081.7L1672.6 2080.9L1673.3 2080.2L1673.3 2079.4L1673 2078.7L1672.7 2077.9L1672.8 2077.2L1673.1 2076.4L1673.7 2075.7L1674.3 2074.9L1674.8 2074.2L1675.2 2073.4L1675.5 2072.7L1675.6 2071.9L1675.8 2071.2L1676 2070.4L1676.4 2069.7L1676.9 2068.9L1677.5 2068.2L1678 2067.4L1678.3 2066.7L1678.3 2065.9L1677.9 2065.2L1677.4 2064.4L1676.8 2063.7L1676 2062.9L1675.1 2062.2L1673.9 2061.4L1672.4 2060.7L1670.6 2059.9L1668.7 2059.2L1666.8 2058.4L1665 2057.7L1663.5 2056.9L1662.2 2056.2L1661.2 2055.4L1660.5 2054.7L1660.1 2053.9L1659.8 2053.2L1659.5 2052.4L1659.1 2051.7L1658.6 2050.9L1658 2050.2L1657.3 2049.4L1656.5 2048.7L1655.7 2047.9L1655.1 2047.2L1654.5 2046.4L1654.1 2045.7L1653.8 2044.9L1653.5 2044.2L1653.3 2043.4L1653.2 2042.7L1653.1 2041.9L1653 2041.2L1652.9 2040.4L1652.8 2039.7L1652.7 2038.9L1652.6 2038.2L1652.5 2037.4L1652.5 2036.7L1652.4 2035.9L1652.4 2035.2L1652.3 2034.4L1652.3 2033.7L1652.3 2032.9L1652.3 2032.2L1652.3 2031.4L1652.3 2030.7L1652.3 2029.9L1652.3 2029.2L1652.3 2028.4L1652.3 2027.7L1652.3 2026.9L1652.3 2026.2L1652.3 2025.4L1652.3 2024.7L1652.3 2023.9L1652.3 2023.2L1652.3 2022.4L1652.3 2022.4L1652.3 2023.2L1652.3 2023.9L1652.3 2024.7L1652.3 2025.4L1652.3 2026.2L1652.3 2026.9L1652.3 2027.7L1652.3 2028.4L1652.3 2029.2L1652.3 2029.9L1652.3 2030.7L1652.3 2031.4L1652.3 2032.2L1652.3 2032.9L1652.3 2033.7L1652.3 2034.4L1652.2 2035.2L1652.2 2035.9L1652.1 2036.7L1652.1 2037.4L1652 2038.2L1651.9 2038.9L1651.8 2039.7L1651.7 2040.4L1651.6 2041.2L1651.5 2041.9L1651.4 2042.7L1651.3 2043.4L1651.1 2044.2L1650.8 2044.9L1650.5 2045.7L1650.1 2046.4L1649.5 2047.2L1648.9 2047.9L1648.1 2048.7L1647.3 2049.4L1646.6 2050.2L1646 2050.9L1645.5 2051.7L1645.1 2052.4L1644.8 2053.2L1644.5 2053.9L1644.1 2054.7L1643.4 2055.4L1642.4 2056.2L1641.1 2056.9L1639.6 2057.7L1637.8 2058.4L1635.9 2059.2L1634 2059.9L1632.2 2060.7L1630.7 2061.4L1629.5 2062.2L1628.6 2062.9L1627.8 2063.7L1627.2 2064.4L1626.7 2065.2L1626.3 2065.9L1626.3 2066.7L1626.6 2067.4L1627.1 2068.2L1627.7 2068.9L1628.2 2069.7L1628.6 2070.4L1628.8 2071.2L1629 2071.9L1629.1 2072.7L1629.4 2073.4L1629.8 2074.2L1630.3 2074.9L1630.9 2075.7L1631.5 2076.4L1631.8 2077.2L1631.9 2077.9L1631.6 2078.7L1631.3 2079.4L1631.3 2080.2L1632 2080.9L1633.6 2081.7Z" fill="#21908C" fill-opacity="0.36"/>
<path class="m35" d="M1627 2082L1628 2082L1630 2082L1631 2082L1632 2082L1633 2082L1635 2082L1636 2082L1637 2082L1639 2082L1640 2082L1641 2082L1643 2082L1644 2082L1645 2082L1646 2082L1648 2082L1649 2082L1650 2082L1652 2082L1653 2082L1654 2082L1656 2082L1657 2082L1658 2082L1659 2082L1661 2082L1662 2082L1663 2082L1665 2082L1666 2082L1667 2082L1669 2082L1670 2082L1671 2082L1672 2082L1674 2082L1675 2082L1676 2082L1678 2082L1627 2079L1629 2079L1631 2079L1633 2079L1635 2079L1637 2079L1639 2079L1641 2079L1643 2079L1645 2079L1647 2079L1648 2079L1650 2079L1652 2079L1654 2079L1656 2079L1658 2079L1660 2079L1662 2079L1664 2079L1666 2079L1668 2079L1670 2079L1672 2079L1673 2079L1675 2079L1677 2079L1627 2076L1629 2076L1630 2076L1632 2076L1633 2076L1635 2076L1637 2076L1638 2076L1640 2076L1641 2076L1643 2076L1644 2076L1646 2076L1648 2076L1649 2076L1651 2076L1652 2076L1654 2076L1655 2076L1657 2076L1659 2076L1660 2076L1662 2076L1663 2076L1665 2076L1666 2076L1668 2076L1670 2076L1671 2076L1673 2076L1674 2076L1676 2076L1678 2076L1627 2073L1629 2073L1630 2073L1632 2073L1633 2073L1635 2073L1636 2073L1638 2073L1639 2073L1641 2073L1642 2073L1644 2073L1645 2073L1647 2073L1648 2073L1650 2073L1652 2073L1653 2073L1655 2073L1656 2073L1658 2073L1659 2073L1661 2073L1662 2073L1664 2073L1665 2073L1667 2073L1668 2073L1670 2073L1671 2073L1673 2073L1674 2073L1676 2073L1678 2073L1627 2070L1629 2070L1630 2070L1632 2070L1633 2070L1634 2070L1636 2070L1637 2070L1639 2070L1640 2070L1642 2070L1643 2070L1645 2070L1646 2070L1648 2070L1649 2070L1651 2070L1652 2070L1654 2070L1655 2070L1657 2070L1658 2070L1660 2070L1661 2070L1663 2070L1664 2070L1666 2070L1667 2070L1669 2070L1670 2070L1672 2070L1673 2070L1675 2070L1676 2070L1678 2070L1627 2067L1628 2067L1629 2067L1631 2067L1632 2067L1633 2067L1634 2067L1635 2067L1637 2067L1638 2067L1639 2067L1640 2067L1641 2067L1643 2067L1644 2067L1645 2067L1646 2067L1647 2067L1649 2067L1650 2067L1651 2067L1652 2067L1654 2067L1655 2067L1656 2067L1657 2067L1658 2067L1660 2067L1661 2067L1662 2067L1663 2067L1664 2067L1666 2067L1667 2067L1668 2067L1669 2067L1670 2067L1672 2067L1673 2067L1674 2067L1675 2067L1676 2067L1678 2067L1627 2064L1629 2064L1631 2064L1633 2064L1634 2064L1636 2064L1638 2064L1640 2064L1642 2064L1643 2064L1645 2064L1647 2064L1649 2064L1651 2064L1652 2064L1654 2064L1656 2064L1658 2064L1659 2064L1661 2064L1663 2064L1665 2064L1667 2064L1668 2064L1670 2064L1672 2064L1674 2064L1676 2064L1677 2064L1627 2061L1628 2061L1630 2061L1631 2061L1632 2061L1634 2061L1635 2061L1637 2061L1638 2061L1639 2061L1641 2061L1642 2061L1643 2061L1645 2061L1646 2061L1648 2061L1649 2061L1650 2061L1652 2061L1653 2061L1654 2061L1656 2061L1657 2061L1658 2061L1660 2061L1661 2061L1663 2061L1664 2061L1665 2061L1667 2061L1668 2061L1669 2061L1671 2061L1672 2061L1674 2061L1675 2061L1676 2061L1678 2061L1628 2058L1630 2058L1633 2058L1635 2058L1638 2058L1641 2058L1643 2058L1646 2058L1648 2058L1651 2058L1654 2058L1656 2058L1659 2058L1661 2058L1664 2058L1667 2058L1669 2058L1672 2058L1674 2058L1677 2058L1641 2055L1645 2055L1648 2055L1651 2055L1654 2055L1657 2055L1660 2055L1663 2055L1637 2052L1640 2052L1643 2052L1646 2052L1649 2052L1652 2052L1655 2052L1658 2052L1662 2052L1665 2052L1668 2052L1643 2049L1646 2049L1649 2049L1652 2049L1655 2049L1658 2049L1662 2049L1649 2046L1652 2046L1655 2046L1652 2043L1652 2040"/>
<line x1="1652.3" y1="2055.6" x2="1652.3" y2="2024.8" stroke="#222" stroke-width="1"/>
<line x1="1652.3" y1="2075.8" x2="1652.3" y2="2081.7" stroke="#222" stroke-width="1"/>
<rect x="1631.8" y="2055.6" width="41" height="20.2" fill="#21908C" stroke="#111" stroke-width="0.9" fill-opacity="0.62"/>
<line x1="1631.8" y1="2067.5" x2="1672.8" y2="2067.5" stroke="#111" stroke-width="1.5"/>
<path class="m36" d="M1652 1810L1652 1826L1652 1880L1652 1939L1652 1975L1652 1979L1652 1983L1652 1989L1652 1993L1652 1996L1652 2001L1652 2005L1652 2009L1652 2013L1652 2018L1652 2021"/>
<path d="M1718.6 2081.7L1719.4 2081.2L1719.6 2080.8L1719.4 2080.3L1718.9 2079.9L1718.3 2079.4L1717.7 2079L1717.2 2078.5L1717.1 2078.1L1717.1 2077.6L1717.4 2077.2L1717.9 2076.7L1718.5 2076.3L1719.2 2075.8L1720 2075.4L1720.9 2074.9L1721.8 2074.5L1722.6 2074L1723.4 2073.6L1724 2073.1L1724.4 2072.7L1724.7 2072.2L1724.8 2071.8L1724.9 2071.3L1725.1 2070.9L1725.4 2070.4L1726 2070L1726.6 2069.5L1727.5 2069.1L1728.4 2068.6L1729.3 2068.2L1730.1 2067.7L1730.6 2067.3L1730.7 2066.8L1730.5 2066.4L1729.9 2065.9L1729 2065.5L1728 2065L1727 2064.6L1725.9 2064.1L1724.9 2063.7L1723.9 2063.2L1722.9 2062.8L1721.9 2062.3L1721 2061.9L1720.1 2061.4L1719.3 2061L1718.5 2060.5L1717.9 2060.1L1717.3 2059.6L1716.7 2059.2L1716 2058.7L1715.2 2058.3L1714.2 2057.8L1713.2 2057.4L1712.1 2056.9L1711.1 2056.5L1710.1 2056L1709.2 2055.6L1708.5 2055.1L1708 2054.7L1707.6 2054.2L1707.2 2053.8L1707 2053.3L1706.9 2052.9L1706.8 2052.4L1706.8 2052L1706.7 2051.5L1706.7 2051.1L1706.7 2050.6L1706.7 2050.2L1706.7 2049.7L1706.7 2049.3L1706.7 2048.8L1706.7 2048.4L1706.7 2047.9L1706.7 2047.5L1706.7 2047L1706.7 2046.6L1706.7 2046.1L1706.7 2046.1L1706.7 2046.6L1706.7 2047L1706.7 2047.5L1706.7 2047.9L1706.7 2048.4L1706.7 2048.8L1706.7 2049.3L1706.7 2049.7L1706.7 2050.2L1706.7 2050.6L1706.7 2051.1L1706.7 2051.5L1706.6 2052L1706.6 2052.4L1706.5 2052.9L1706.4 2053.3L1706.2 2053.8L1705.8 2054.2L1705.4 2054.7L1704.9 2055.1L1704.2 2055.6L1703.3 2056L1702.3 2056.5L1701.3 2056.9L1700.2 2057.4L1699.2 2057.8L1698.2 2058.3L1697.4 2058.7L1696.7 2059.2L1696.1 2059.6L1695.5 2060.1L1694.9 2060.5L1694.1 2061L1693.3 2061.4L1692.4 2061.9L1691.5 2062.3L1690.5 2062.8L1689.5 2063.2L1688.5 2063.7L1687.5 2064.1L1686.4 2064.6L1685.4 2065L1684.4 2065.5L1683.5 2065.9L1682.9 2066.4L1682.7 2066.8L1682.8 2067.3L1683.3 2067.7L1684.1 2068.2L1685 2068.6L1685.9 2069.1L1686.8 2069.5L1687.4 2070L1688 2070.4L1688.3 2070.9L1688.5 2071.3L1688.6 2071.8L1688.7 2072.2L1689 2072.7L1689.4 2073.1L1690 2073.6L1690.8 2074L1691.6 2074.5L1692.5 2074.9L1693.4 2075.4L1694.2 2075.8L1694.9 2076.3L1695.5 2076.7L1696 2077.2L1696.3 2077.6L1696.3 2078.1L1696.2 2078.5L1695.7 2079L1695.1 2079.4L1694.5 2079.9L1694 2080.3L1693.8 2080.8L1694 2081.2L1694.8 2081.7Z" fill="#FDE725" fill-opacity="0.36"/>
<path class="m37" d="M1694 2082L1697 2082L1700 2082L1704 2082L1707 2082L1710 2082L1713 2082L1716 2082L1719 2082L1697 2079L1700 2079L1704 2079L1707 2079L1710 2079L1713 2079L1716 2079L1697 2076L1700 2076L1704 2076L1707 2076L1710 2076L1713 2076L1716 2076L1688 2073L1691 2073L1694 2073L1697 2073L1700 2073L1704 2073L1707 2073L1710 2073L1713 2073L1716 2073L1719 2073L1722 2073L1725 2073L1693 2070L1696 2070L1699 2070L1702 2070L1705 2070L1708 2070L1711 2070L1714 2070L1718 2070L1721 2070L1684 2067L1687 2067L1690 2067L1693 2067L1695 2067L1698 2067L1701 2067L1704 2067L1707 2067L1710 2067L1712 2067L1715 2067L1718 2067L1721 2067L1724 2067L1726 2067L1729 2067L1690 2064L1693 2064L1696 2064L1699 2064L1702 2064L1705 2064L1708 2064L1711 2064L1714 2064L1718 2064L1721 2064L1724 2064L1696 2061L1699 2061L1702 2061L1705 2061L1708 2061L1711 2061L1714 2061L1718 2061L1699 2058L1702 2058L1705 2058L1708 2058L1711 2058L1714 2058L1707 2055"/>
<line x1="1706.7" y1="2063.9" x2="1706.7" y2="2048.5" stroke="#222" stroke-width="1"/>
<line x1="1706.7" y1="2075.8" x2="1706.7" y2="2081.7" stroke="#222" stroke-width="1"/>
<path d="M1686.2 2063.9L1727.2 2063.9L1727.2 2068.7L1719.2 2071L1727.2 2073.4L1727.2 2075.8L1686.2 2075.8L1686.2 2073.4L1694.2 2071L1686.2 2068.7Z" fill="#FDE725" stroke="#111" stroke-width="0.9" fill-opacity="0.62"/>
<line x1="1694.2" y1="2071" x2="1719.2" y2="2071" stroke="#111" stroke-width="1.5"/>
<path class="m38" d="M1707 2016L1707 2039"/>
<path d="M1768.7 2081.7L1769.6 2081.2L1770.2 2080.8L1770.7 2080.3L1771.2 2079.9L1771.6 2079.4L1772.2 2079L1773 2078.5L1774 2078.1L1775.3 2077.6L1776.8 2077.2L1778.5 2076.7L1780.3 2076.3L1782 2075.8L1783.5 2075.4L1784.6 2074.9L1785.2 2074.5L1785.1 2074L1784.4 2073.6L1783.2 2073.1L1781.8 2072.7L1780.3 2072.2L1779.2 2071.8L1778.5 2071.3L1778.4 2070.9L1778.5 2070.4L1779 2070L1779.4 2069.5L1779.7 2069.1L1779.7 2068.6L1779.6 2068.2L1779.2 2067.7L1778.8 2067.3L1778.3 2066.8L1777.8 2066.4L1777.4 2065.9L1777.1 2065.5L1776.7 2065L1776.3 2064.6L1775.9 2064.1L1775.3 2063.7L1774.5 2063.2L1773.7 2062.8L1772.7 2062.3L1771.7 2061.9L1770.8 2061.4L1770 2061L1769.3 2060.5L1768.7 2060.1L1768.2 2059.6L1767.7 2059.2L1767.1 2058.7L1766.5 2058.3L1765.8 2057.8L1765.1 2057.4L1764.5 2056.9L1763.9 2056.5L1763.4 2056L1762.9 2055.6L1762.6 2055.1L1762.3 2054.7L1762.1 2054.2L1762 2053.8L1762 2053.3L1762.1 2052.9L1762.1 2052.4L1762.2 2052L1762.2 2051.5L1762.2 2051.1L1762.1 2050.6L1762 2050.2L1761.8 2049.7L1761.7 2049.3L1761.5 2048.8L1761.4 2048.4L1761.3 2047.9L1761.3 2047.5L1761.2 2047L1761.2 2046.6L1761.2 2046.1L1761.2 2046.1L1761.2 2046.6L1761.2 2047L1761.1 2047.5L1761.1 2047.9L1761 2048.4L1760.9 2048.8L1760.7 2049.3L1760.6 2049.7L1760.4 2050.2L1760.3 2050.6L1760.2 2051.1L1760.2 2051.5L1760.2 2052L1760.3 2052.4L1760.3 2052.9L1760.4 2053.3L1760.4 2053.8L1760.3 2054.2L1760.1 2054.7L1759.8 2055.1L1759.5 2055.6L1759 2056L1758.5 2056.5L1757.9 2056.9L1757.3 2057.4L1756.6 2057.8L1755.9 2058.3L1755.3 2058.7L1754.7 2059.2L1754.2 2059.6L1753.7 2060.1L1753.1 2060.5L1752.4 2061L1751.6 2061.4L1750.7 2061.9L1749.7 2062.3L1748.7 2062.8L1747.9 2063.2L1747.1 2063.7L1746.5 2064.1L1746.1 2064.6L1745.7 2065L1745.3 2065.5L1745 2065.9L1744.6 2066.4L1744.1 2066.8L1743.6 2067.3L1743.2 2067.7L1742.8 2068.2L1742.7 2068.6L1742.7 2069.1L1743 2069.5L1743.4 2070L1743.9 2070.4L1744 2070.9L1743.9 2071.3L1743.2 2071.8L1742.1 2072.2L1740.6 2072.7L1739.2 2073.1L1738 2073.6L1737.3 2074L1737.2 2074.5L1737.8 2074.9L1738.9 2075.4L1740.4 2075.8L1742.1 2076.3L1743.9 2076.7L1745.6 2077.2L1747.1 2077.6L1748.4 2078.1L1749.4 2078.5L1750.2 2079L1750.8 2079.4L1751.2 2079.9L1751.7 2080.3L1752.2 2080.8L1752.8 2081.2L1753.7 2081.7Z" fill="#5EC962" fill-opacity="0.36"/>
<path class="m39" d="M1753 2082L1757 2082L1760 2082L1763 2082L1766 2082L1769 2082L1752 2079L1755 2079L1758 2079L1761 2079L1764 2079L1767 2079L1770 2079L1739 2076L1742 2076L1745 2076L1748 2076L1751 2076L1754 2076L1757 2076L1760 2076L1763 2076L1766 2076L1769 2076L1772 2076L1775 2076L1778 2076L1781 2076L1784 2076L1740 2073L1743 2073L1746 2073L1749 2073L1752 2073L1755 2073L1758 2073L1761 2073L1764 2073L1767 2073L1770 2073L1774 2073L1777 2073L1780 2073L1783 2073L1744 2070L1747 2070L1750 2070L1753 2070L1757 2070L1760 2070L1763 2070L1766 2070L1769 2070L1772 2070L1775 2070L1778 2070L1744 2067L1747 2067L1750 2067L1753 2067L1757 2067L1760 2067L1763 2067L1766 2067L1769 2067L1772 2067L1775 2067L1778 2067L1746 2064L1749 2064L1752 2064L1755 2064L1758 2064L1761 2064L1764 2064L1767 2064L1770 2064L1774 2064L1777 2064L1753 2061L1757 2061L1760 2061L1763 2061L1766 2061L1769 2061L1758 2058L1761 2058L1764 2058L1761 2055L1761 2052"/>
<line x1="1761.2" y1="2064.5" x2="1761.2" y2="2048.5" stroke="#222" stroke-width="1"/>
<line x1="1761.2" y1="2075.8" x2="1761.2" y2="2081.7" stroke="#222" stroke-width="1"/>
<path d="M1740.7 2064.5L1781.7 2064.5L1781.7 2068.7L1773.7 2071L1781.7 2073.4L1781.7 2075.8L1740.7 2075.8L1740.7 2073.4L1748.7 2071L1740.7 2068.7Z" fill="#5EC962" stroke="#111" stroke-width="0.9" fill-opacity="0.62"/>
<line x1="1748.7" y1="2071" x2="1773.7" y2="2071" stroke="#111" stroke-width="1.5"/>
<path class="m40" d="M1761 2011L1761 2040"/>
<path d="M1815.6 2081.7L1815.7 2081.1L1815.7 2080.5L1815.8 2079.9L1816 2079.3L1816.3 2078.7L1816.7 2078.1L1817 2077.5L1817.3 2076.9L1817.4 2076.3L1817.4 2075.7L1817.5 2075.1L1817.7 2074.5L1818.3 2073.9L1819.6 2073.3L1821.5 2072.7L1824 2072.1L1826.9 2071.5L1829.7 2070.9L1831.9 2070.3L1833.3 2069.7L1833.5 2069.1L1832.8 2068.5L1831.4 2067.9L1829.9 2067.3L1828.8 2066.7L1828.3 2066.1L1828.8 2065.5L1830.1 2064.9L1832.1 2064.3L1834.5 2063.7L1836.8 2063.1L1838.7 2062.5L1839.6 2061.9L1839.5 2061.3L1838.5 2060.7L1836.7 2060.1L1834.6 2059.5L1832.5 2058.9L1830.5 2058.3L1828.8 2057.7L1827.5 2057.1L1826.3 2056.5L1825.3 2055.9L1824.4 2055.3L1823.5 2054.7L1822.6 2054.1L1822 2053.5L1821.6 2052.9L1821.5 2052.3L1821.5 2051.7L1821.6 2051.1L1821.6 2050.5L1821.4 2049.9L1821 2049.3L1820.4 2048.7L1819.8 2048.1L1819.1 2047.5L1818.4 2046.9L1817.7 2046.3L1817.1 2045.7L1816.7 2045.1L1816.3 2044.5L1816.2 2043.9L1816.2 2043.3L1816.4 2042.7L1816.6 2042.1L1817 2041.5L1817.2 2040.9L1817.3 2040.3L1817.2 2039.7L1817 2039.1L1816.7 2038.5L1816.4 2037.9L1816.1 2037.3L1815.9 2036.7L1815.7 2036.1L1815.7 2035.5L1815.6 2034.9L1815.6 2034.3L1815.6 2034.3L1815.6 2034.9L1815.5 2035.5L1815.5 2036.1L1815.3 2036.7L1815.1 2037.3L1814.8 2037.9L1814.5 2038.5L1814.2 2039.1L1814 2039.7L1813.9 2040.3L1814 2040.9L1814.2 2041.5L1814.6 2042.1L1814.8 2042.7L1815 2043.3L1815 2043.9L1814.9 2044.5L1814.5 2045.1L1814.1 2045.7L1813.5 2046.3L1812.8 2046.9L1812.1 2047.5L1811.4 2048.1L1810.8 2048.7L1810.2 2049.3L1809.8 2049.9L1809.6 2050.5L1809.6 2051.1L1809.7 2051.7L1809.7 2052.3L1809.6 2052.9L1809.2 2053.5L1808.6 2054.1L1807.7 2054.7L1806.8 2055.3L1805.9 2055.9L1804.9 2056.5L1803.7 2057.1L1802.4 2057.7L1800.7 2058.3L1798.7 2058.9L1796.6 2059.5L1794.5 2060.1L1792.7 2060.7L1791.7 2061.3L1791.6 2061.9L1792.5 2062.5L1794.4 2063.1L1796.7 2063.7L1799.1 2064.3L1801.1 2064.9L1802.4 2065.5L1802.9 2066.1L1802.4 2066.7L1801.3 2067.3L1799.8 2067.9L1798.4 2068.5L1797.7 2069.1L1797.9 2069.7L1799.3 2070.3L1801.5 2070.9L1804.3 2071.5L1807.2 2072.1L1809.7 2072.7L1811.6 2073.3L1812.9 2073.9L1813.5 2074.5L1813.7 2075.1L1813.8 2075.7L1813.8 2076.3L1813.9 2076.9L1814.2 2077.5L1814.5 2078.1L1814.9 2078.7L1815.2 2079.3L1815.4 2079.9L1815.5 2080.5L1815.5 2081.1L1815.6 2081.7Z" fill="#3B528B" fill-opacity="0.36"/>
<path class="m41" d="M1816 2076L1816 2073L1803 2070L1806 2070L1809 2070L1812 2070L1816 2070L1819 2070L1822 2070L1825 2070L1828 2070L1812 2067L1816 2067L1819 2067L1806 2064L1809 2064L1812 2064L1816 2064L1819 2064L1822 2064L1825 2064L1802 2061L1805 2061L1808 2061L1811 2061L1814 2061L1817 2061L1820 2061L1823 2061L1826 2061L1830 2061L1809 2058L1812 2058L1816 2058L1819 2058L1822 2058L1812 2055L1816 2055L1819 2055L1812 2052L1816 2052L1819 2052L1816 2049L1816 2046L1816 2040"/>
<line x1="1815.6" y1="2052" x2="1815.6" y2="2037.8" stroke="#222" stroke-width="1"/>
<line x1="1815.6" y1="2067.5" x2="1815.6" y2="2081.7" stroke="#222" stroke-width="1"/>
<path d="M1795.1 2052L1836.1 2052L1836.1 2060.9L1829.6 2063.9L1836.1 2066.9L1836.1 2067.5L1795.1 2067.5L1795.1 2066.9L1801.6 2063.9L1795.1 2060.9Z" fill="#3B528B" stroke="#111" stroke-width="0.9" fill-opacity="0.62"/>
<line x1="1801.6" y1="2063.9" x2="1829.6" y2="2063.9" stroke="#111" stroke-width="1.5"/>
<path class="m42" d="M1816 2028L1816 2028"/>
<line x1="1597.9" y1="2096" x2="1597.9" y2="2102" stroke="#333" stroke-width="2.4"/>
<text x="1609.9" y="2117" font-size="23.8" text-anchor="end" fill="#333" transform="rotate(-45 1609.9 2117)" stroke="#333" stroke-width="0.5">Thailand</text>
<line x1="1652.3" y1="2096" x2="1652.3" y2="2102" stroke="#333" stroke-width="2.4"/>
<text x="1664.3" y="2117" font-size="23.8" text-anchor="end" fill="#333" transform="rotate(-45 1664.3 2117)" stroke="#333" stroke-width="0.5">New arrivals</text>
<line x1="1706.7" y1="2096" x2="1706.7" y2="2102" stroke="#333" stroke-width="2.4"/>
<text x="1718.7" y="2117" font-size="23.8" text-anchor="end" fill="#333" transform="rotate(-45 1718.7 2117)" stroke="#333" stroke-width="0.5">Long−term residents</text>
<line x1="1761.2" y1="2096" x2="1761.2" y2="2102" stroke="#333" stroke-width="2.4"/>
<text x="1773.2" y="2117" font-size="23.8" text-anchor="end" fill="#333" transform="rotate(-45 1773.2 2117)" stroke="#333" stroke-width="0.5">2nd generation</text>
<line x1="1815.6" y1="2096" x2="1815.6" y2="2102" stroke="#333" stroke-width="2.4"/>
<text x="1827.6" y="2117" font-size="23.8" text-anchor="end" fill="#333" transform="rotate(-45 1827.6 2117)" stroke="#333" stroke-width="0.5">US−born</text>
<rect x="1879.8" y="1757" width="283.5" height="37.4" fill="#D9D9D9" stroke="#333" stroke-width="1.2"/>
<text x="2021.6" y="1784.9" font-size="23.5" text-anchor="middle" fill="#1A1A1A">Fruits in Cups</text>
<rect x="1879.8" y="1794.4" width="283.5" height="301.6" fill="#fff" stroke="#333" stroke-width="1.2"/>
<line x1="1875.3" y1="2081.9" x2="1879.8" y2="2081.9" stroke="#333" stroke-width="1.2"/>
<text x="1872.8" y="2089.9" font-size="22.5" text-anchor="end" fill="#333" stroke="#333" stroke-width="0.4">0</text>
<line x1="1875.3" y1="2006.6" x2="1879.8" y2="2006.6" stroke="#333" stroke-width="1.2"/>
<text x="1872.8" y="2014.6" font-size="22.5" text-anchor="end" fill="#333" stroke="#333" stroke-width="0.4">2</text>
<line x1="1875.3" y1="1931.3" x2="1879.8" y2="1931.3" stroke="#333" stroke-width="1.2"/>
<text x="1872.8" y="1939.3" font-size="22.5" text-anchor="end" fill="#333" stroke="#333" stroke-width="0.4">4</text>
<line x1="1875.3" y1="1856" x2="1879.8" y2="1856" stroke="#333" stroke-width="1.2"/>
<text x="1872.8" y="1864" font-size="22.5" text-anchor="end" fill="#333" stroke="#333" stroke-width="0.4">6</text>
<path class="m43" d="M1886 2082L1887 2082L1887 2082L1887 2082L1888 2082L1888 2082L1888 2082L1889 2082L1889 2082L1889 2082L1890 2082L1890 2082L1890 2082L1891 2082L1891 2082L1891 2082L1892 2082L1892 2082L1892 2082L1893 2082L1893 2082L1893 2082L1894 2082L1894 2082L1894 2082L1895 2082L1895 2082L1895 2082L1896 2082L1896 2082L1896 2082L1897 2082L1897 2082L1897 2082L1898 2082L1898 2082L1898 2082L1898 2082L1899 2082L1899 2082L1899 2082L1900 2082L1900 2082L1900 2082L1901 2082L1901 2082L1901 2082L1902 2082L1902 2082L1902 2082L1903 2082L1903 2082L1903 2082L1904 2082L1904 2082L1904 2082L1905 2082L1905 2082L1905 2082L1906 2082L1906 2082L1906 2082L1907 2082L1907 2082L1907 2082L1908 2082L1908 2082L1908 2082L1909 2082L1909 2082L1909 2082L1910 2082L1910 2082L1910 2082L1911 2082L1911 2082L1911 2082L1911 2082L1912 2082L1912 2082L1912 2082L1913 2082L1913 2082L1913 2082L1914 2082L1914 2082L1914 2082L1915 2082L1915 2082L1915 2082L1916 2082L1916 2082L1916 2082L1917 2082L1917 2082L1917 2082L1918 2082L1918 2082L1918 2082L1919 2082L1919 2082L1919 2082L1920 2082L1920 2082L1920 2082L1921 2082L1921 2082L1921 2082L1922 2082L1922 2082L1922 2082L1923 2082L1923 2082L1923 2082L1924 2082L1924 2082L1924 2082L1924 2082L1925 2082L1925 2082L1925 2082L1926 2082L1926 2082L1926 2082L1927 2082L1927 2082L1927 2082L1928 2082L1928 2082L1928 2082L1929 2082L1929 2082L1929 2082L1930 2082L1930 2082L1930 2082L1931 2082L1931 2082L1931 2082L1932 2082L1932 2082L1932 2082L1933 2082L1933 2082L1933 2082L1934 2082L1934 2082L1934 2082L1935 2082L1935 2082L1935 2082L1936 2082L1936 2082L1936 2082L1937 2082L1937 2082L1937 2082L1937 2082L1938 2082L1938 2082L1895 2072L1898 2072L1901 2072L1905 2072L1908 2072L1911 2072L1914 2072L1917 2072L1920 2072L1923 2072L1926 2072L1929 2072L1901 2063L1905 2063L1908 2063L1911 2063L1914 2063L1917 2063L1920 2063L1923 2063"/>
<line x1="1912.3" y1="2076.3" x2="1912.3" y2="2072.5" stroke="#222" stroke-width="1"/>
<line x1="1912.3" y1="2081.9" x2="1912.3" y2="2081.9" stroke="#222" stroke-width="1"/>
<rect x="1891.8" y="2076.3" width="41" height="5.6" fill="#440154" stroke="#111" stroke-width="0.9" fill-opacity="0.62"/>
<line x1="1891.8" y1="2081.9" x2="1932.8" y2="2081.9" stroke="#111" stroke-width="1.5"/>
<path class="m44" d="M1912 2072L1912 2063L1912 2054L1912 2044L1912 2035L1912 2025L1912 2007L1912 1997L1912 1988L1912 1912"/>
<path class="m45" d="M1941 2082L1941 2082L1941 2082L1942 2082L1942 2082L1942 2082L1942 2082L1943 2082L1943 2082L1943 2082L1943 2082L1944 2082L1944 2082L1944 2082L1944 2082L1945 2082L1945 2082L1945 2082L1946 2082L1946 2082L1946 2082L1946 2082L1947 2082L1947 2082L1947 2082L1947 2082L1948 2082L1948 2082L1948 2082L1948 2082L1949 2082L1949 2082L1949 2082L1949 2082L1950 2082L1950 2082L1950 2082L1950 2082L1951 2082L1951 2082L1951 2082L1951 2082L1952 2082L1952 2082L1952 2082L1953 2082L1953 2082L1953 2082L1953 2082L1954 2082L1954 2082L1954 2082L1954 2082L1955 2082L1955 2082L1955 2082L1955 2082L1956 2082L1956 2082L1956 2082L1956 2082L1957 2082L1957 2082L1957 2082L1957 2082L1958 2082L1958 2082L1958 2082L1959 2082L1959 2082L1959 2082L1959 2082L1960 2082L1960 2082L1960 2082L1960 2082L1961 2082L1961 2082L1961 2082L1961 2082L1962 2082L1962 2082L1962 2082L1962 2082L1963 2082L1963 2082L1963 2082L1963 2082L1964 2082L1964 2082L1964 2082L1964 2082L1965 2082L1965 2082L1965 2082L1966 2082L1966 2082L1966 2082L1966 2082L1967 2082L1967 2082L1967 2082L1967 2082L1968 2082L1968 2082L1968 2082L1968 2082L1969 2082L1969 2082L1969 2082L1969 2082L1970 2082L1970 2082L1970 2082L1970 2082L1971 2082L1971 2082L1971 2082L1972 2082L1972 2082L1972 2082L1972 2082L1973 2082L1973 2082L1973 2082L1973 2082L1974 2082L1974 2082L1974 2082L1974 2082L1975 2082L1975 2082L1975 2082L1975 2082L1976 2082L1976 2082L1976 2082L1976 2082L1977 2082L1977 2082L1977 2082L1977 2082L1978 2082L1978 2082L1978 2082L1979 2082L1979 2082L1979 2082L1979 2082L1980 2082L1980 2082L1980 2082L1980 2082L1981 2082L1981 2082L1981 2082L1981 2082L1982 2082L1982 2082L1982 2082L1982 2082L1983 2082L1983 2082L1983 2082L1983 2082L1984 2082L1984 2082L1984 2082L1985 2082L1985 2082L1985 2082L1985 2082L1986 2082L1986 2082L1986 2082L1986 2082L1987 2082L1987 2082L1987 2082L1987 2082L1988 2082L1988 2082L1988 2082L1988 2082L1989 2082L1989 2082L1989 2082L1989 2082L1990 2082L1990 2082L1990 2082L1990 2082L1991 2082L1991 2082L1991 2082L1992 2082L1992 2082L1992 2082L1992 2082L1993 2082L1942 2072L1945 2072L1948 2072L1950 2072L1953 2072L1956 2072L1958 2072L1961 2072L1964 2072L1967 2072L1969 2072L1972 2072L1975 2072L1978 2072L1980 2072L1983 2072L1986 2072L1989 2072L1991 2072L1942 2063L1944 2063L1946 2063L1948 2063L1950 2063L1952 2063L1954 2063L1956 2063L1958 2063L1960 2063L1963 2063L1965 2063L1967 2063L1969 2063L1971 2063L1973 2063L1975 2063L1977 2063L1979 2063L1981 2063L1983 2063L1985 2063L1988 2063L1990 2063L1992 2063L1945 2054L1948 2054L1951 2054L1954 2054L1957 2054L1960 2054L1964 2054L1967 2054L1970 2054L1973 2054L1976 2054L1979 2054L1982 2054L1985 2054L1988 2054L1951 2044L1954 2044L1957 2044L1960 2044L1964 2044L1967 2044L1970 2044L1973 2044L1976 2044L1979 2044L1982 2044L1956 2035L1959 2035L1962 2035L1965 2035L1968 2035L1971 2035L1974 2035L1978 2035L1953 2025L1956 2025L1959 2025L1962 2025L1965 2025L1968 2025L1971 2025L1974 2025L1978 2025L1981 2025L1964 2016L1967 2016L1970 2016L1960 2007L1964 2007L1967 2007L1970 2007L1973 2007L1962 1997L1965 1997L1968 1997L1971 1997L1965 1988L1968 1988L1964 1978L1967 1978L1970 1978L1967 1969L1967 1960L1967 1950L1967 1941L1967 1922"/>
<line x1="1966.7" y1="2034.8" x2="1966.7" y2="1976.5" stroke="#222" stroke-width="1"/>
<line x1="1966.7" y1="2081.9" x2="1966.7" y2="2081.9" stroke="#222" stroke-width="1"/>
<path d="M1946.2 2034.8L1987.2 2034.8L1987.2 2063.1L1975.2 2072.5L1987.2 2081.9L1987.2 2081.9L1946.2 2081.9L1946.2 2081.9L1958.2 2072.5L1946.2 2063.1Z" fill="#21908C" stroke="#111" stroke-width="0.9" fill-opacity="0.62"/>
<line x1="1958.2" y1="2072.5" x2="1975.2" y2="2072.5" stroke="#111" stroke-width="1.5"/>
<path class="m46" d="M1967 1828L1967 1847L1967 1865L1967 1884L1967 1894L1967 1922L1967 1931L1967 1941L1967 1950L1967 1960L1967 1969"/>
<path class="m47" d="M2002 2082L2003 2082L2004 2082L2006 2082L2007 2082L2008 2082L2010 2082L2011 2082L2012 2082L2014 2082L2015 2082L2016 2082L2018 2082L2019 2082L2020 2082L2022 2082L2023 2082L2024 2082L2026 2082L2027 2082L2028 2082L2030 2082L2031 2082L2032 2082L2034 2082L2035 2082L2036 2082L2038 2082L2039 2082L2040 2082L2007 2072L2010 2072L2013 2072L2016 2072L2019 2072L2023 2072L2026 2072L2029 2072L2032 2072L2035 2072L2019 2063L2023 2063L2003 2054L2006 2054L2009 2054L2012 2054L2015 2054L2018 2054L2021 2054L2024 2054L2027 2054L2030 2054L2033 2054L2036 2054L2039 2054L2018 2044L2021 2044L2024 2044L2012 2035L2015 2035L2018 2035L2021 2035L2024 2035L2027 2035L2030 2035L2010 2025L2013 2025L2016 2025L2019 2025L2023 2025L2026 2025L2029 2025L2032 2025L2021 2007L2019 1997L2023 1997L2021 1988L2018 1978L2021 1978L2024 1978L2019 1969L2023 1969L2019 1960L2023 1960L2021 1941L2015 1922L2018 1922L2021 1922L2024 1922L2027 1922"/>
<line x1="2021" y1="2016" x2="2021" y2="1921.9" stroke="#222" stroke-width="1"/>
<line x1="2021" y1="2081.9" x2="2021" y2="2081.9" stroke="#222" stroke-width="1"/>
<path d="M2000.5 2016L2041.5 2016L2041.5 2025.4L2034.5 2044.2L2041.5 2063.1L2041.5 2081.9L2000.5 2081.9L2000.5 2063.1L2007.5 2044.2L2000.5 2025.4Z" fill="#FDE725" stroke="#111" stroke-width="0.9" fill-opacity="0.62"/>
<line x1="2007.5" y1="2044.2" x2="2034.5" y2="2044.2" stroke="#111" stroke-width="1.5"/>
<path class="m48" d="M2021 1809L2021 1894L2021 1903L2021 1912"/>
<path class="m49" d="M2054 2082L2055 2082L2056 2082L2058 2082L2059 2082L2060 2082L2061 2082L2062 2082L2063 2082L2064 2082L2065 2082L2066 2082L2067 2082L2069 2082L2070 2082L2071 2082L2072 2082L2073 2082L2074 2082L2075 2082L2076 2082L2077 2082L2078 2082L2080 2082L2081 2082L2082 2082L2083 2082L2084 2082L2085 2082L2086 2082L2087 2082L2088 2082L2089 2082L2091 2082L2092 2082L2093 2082L2094 2082L2095 2082L2096 2082L2097 2082L2074 2072L2077 2072L2070 2063L2073 2063L2076 2063L2079 2063L2082 2063L2073 2054L2076 2054L2079 2054L2074 2044L2077 2044L2074 2035L2077 2035L2073 2025L2076 2025L2079 2025L2073 2016L2076 2016L2079 2016"/>
<line x1="2075.7" y1="2053.7" x2="2075.7" y2="2016" stroke="#222" stroke-width="1"/>
<line x1="2075.7" y1="2085.7" x2="2075.7" y2="2085.7" stroke="#222" stroke-width="1"/>
<rect x="2055.2" y="2053.7" width="41" height="32" fill="#5EC962" stroke="#111" stroke-width="0.9" fill-opacity="0.62"/>
<line x1="2055.2" y1="2081.9" x2="2096.2" y2="2081.9" stroke="#111" stroke-width="1.5"/>
<path class="m50" d="M2076 1912L2076 1931L2076 1969L2076 1988L2076 1997L2076 2007"/>
<path class="m51" d="M2110 2082L2113 2082L2116 2082L2119 2082L2122 2082L2125 2082L2128 2082L2132 2082L2135 2082L2138 2082L2141 2082L2144 2082L2147 2082L2150 2082L2121 2063L2124 2063L2127 2063L2130 2063L2133 2063L2136 2063L2139 2063L2124 2054L2127 2054L2130 2054L2133 2054L2136 2054L2127 2044L2130 2044L2133 2044L2127 2035L2130 2035L2133 2035L2121 2025L2124 2025L2127 2025L2130 2025L2133 2025L2136 2025L2139 2025L2125 2016L2128 2016L2132 2016L2135 2016L2124 2007L2127 2007L2130 2007L2133 2007L2136 2007L2127 1997L2130 1997L2133 1997L2127 1988L2130 1988L2133 1988"/>
<line x1="2130" y1="2025.4" x2="2130" y2="1987.8" stroke="#222" stroke-width="1"/>
<line x1="2130" y1="2065" x2="2130" y2="2081.9" stroke="#222" stroke-width="1"/>
<path d="M2109.5 2025.4L2150.5 2025.4L2150.5 2034.8L2144.5 2044.2L2150.5 2053.7L2150.5 2065L2109.5 2065L2109.5 2053.7L2115.5 2044.2L2109.5 2034.8Z" fill="#3B528B" stroke="#111" stroke-width="0.9" fill-opacity="0.62"/>
<line x1="2115.5" y1="2044.2" x2="2144.5" y2="2044.2" stroke="#111" stroke-width="1.5"/>
<path class="m52" d="M2130 1922L2130 1950"/>
<line x1="1912.3" y1="2096" x2="1912.3" y2="2102" stroke="#333" stroke-width="2.4"/>
<text x="1924.3" y="2117" font-size="23.8" text-anchor="end" fill="#333" transform="rotate(-45 1924.3 2117)" stroke="#333" stroke-width="0.5">Thailand</text>
<line x1="1966.7" y1="2096" x2="1966.7" y2="2102" stroke="#333" stroke-width="2.4"/>
<text x="1978.7" y="2117" font-size="23.8" text-anchor="end" fill="#333" transform="rotate(-45 1978.7 2117)" stroke="#333" stroke-width="0.5">New arrivals</text>
<line x1="2021" y1="2096" x2="2021" y2="2102" stroke="#333" stroke-width="2.4"/>
<text x="2033" y="2117" font-size="23.8" text-anchor="end" fill="#333" transform="rotate(-45 2033 2117)" stroke="#333" stroke-width="0.5">Long−term residents</text>
<line x1="2075.7" y1="2096" x2="2075.7" y2="2102" stroke="#333" stroke-width="2.4"/>
<text x="2087.7" y="2117" font-size="23.8" text-anchor="end" fill="#333" transform="rotate(-45 2087.7 2117)" stroke="#333" stroke-width="0.5">2nd generation</text>
<line x1="2130" y1="2096" x2="2130" y2="2102" stroke="#333" stroke-width="2.4"/>
<text x="2142" y="2117" font-size="23.8" text-anchor="end" fill="#333" transform="rotate(-45 2142 2117)" stroke="#333" stroke-width="0.5">US−born</text>
</svg></body></html>
